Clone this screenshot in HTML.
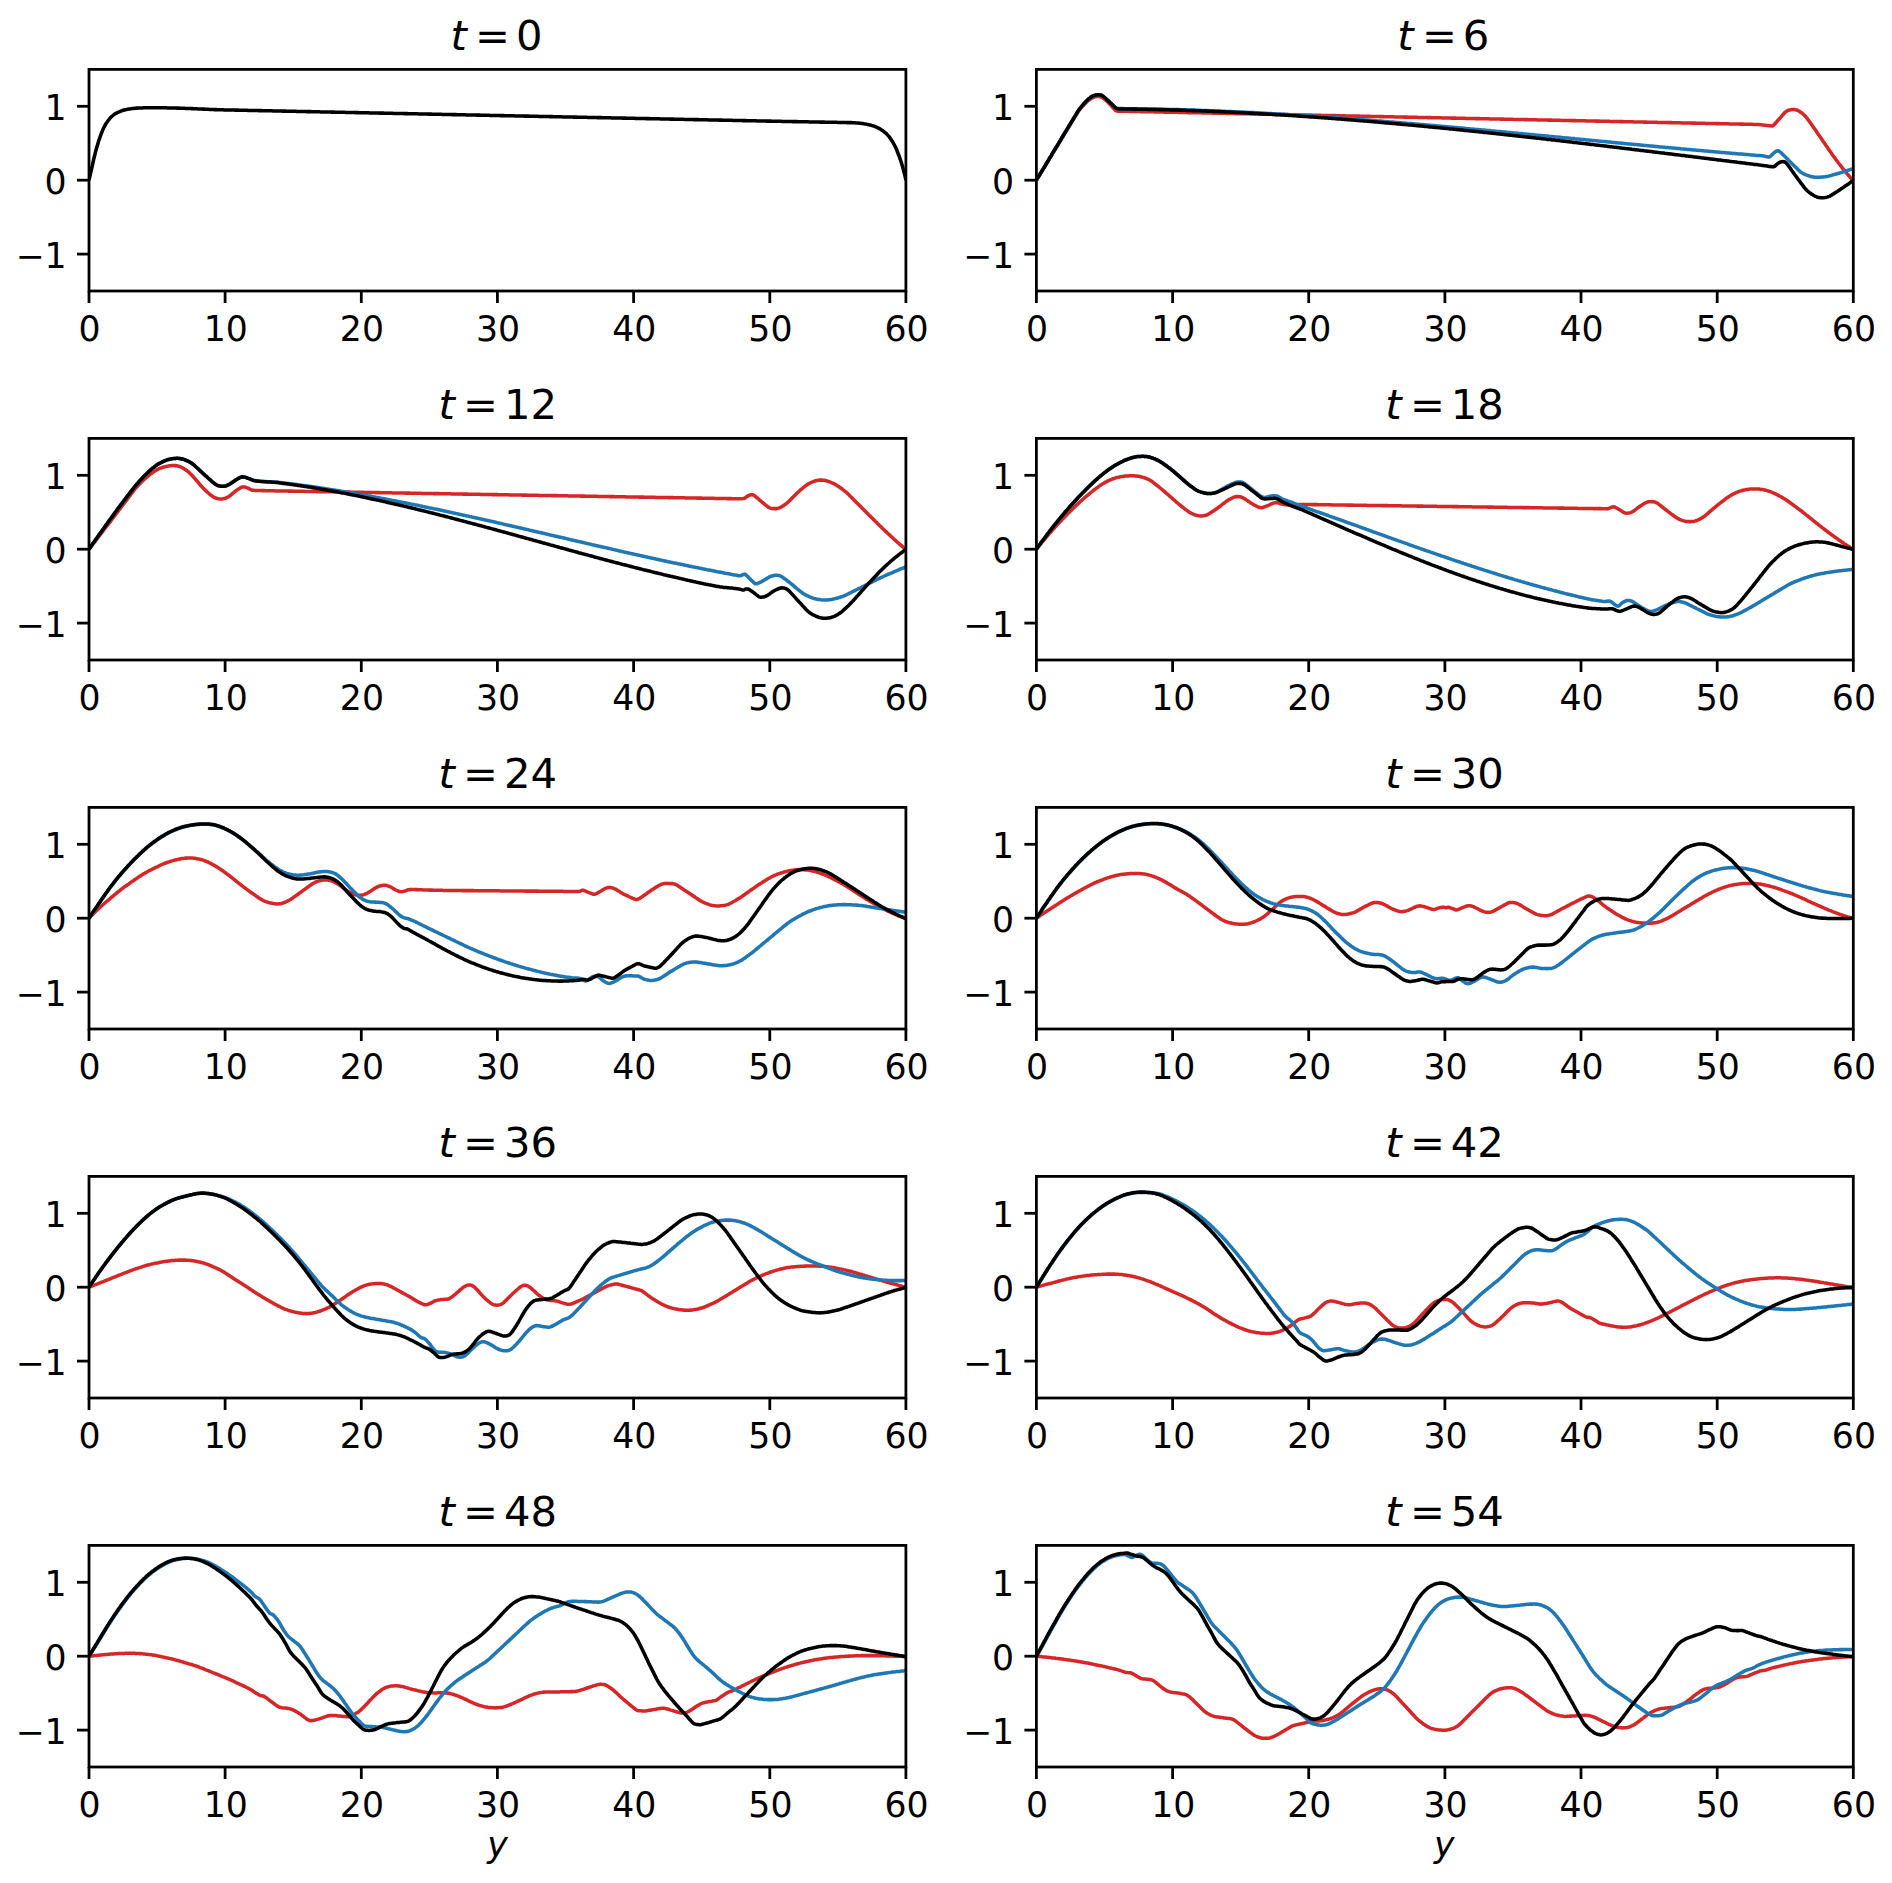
<!DOCTYPE html>
<html><head><meta charset="utf-8"><title>t = 0 … 54</title>
<style>html,body{margin:0;padding:0;background:#fff}svg{display:block}text{font-family:"DejaVu Sans","Liberation Sans",sans-serif;fill:#000}.tk{font-size:34.7px}.tt{font-size:41.7px}.it{font-style:italic}.sp{fill:none;stroke:#000;stroke-width:2.78;stroke-linejoin:miter}.t{stroke:#000;stroke-width:2.78}.c{fill:none;stroke-width:3.55;stroke-linejoin:round;stroke-linecap:butt}</style></head><body>
<svg width="1892" height="1883" viewBox="0 0 1892 1883">
<rect width="1892" height="1883" fill="#fff"/>
<g>
<clipPath id="cp0"><rect x="89.0" y="69.4" width="816.9" height="221.6"/></clipPath>
<g clip-path="url(#cp0)">
<path class="c" stroke="#000000" d="M89.0 180.2 L90.1 175.1 L91.3 170.1 L92.4 165.1 L93.5 160.1 L94.7 155.3 L95.8 150.8 L97.0 146.7 L98.1 142.9 L99.2 139.3 L100.4 136.0 L101.5 133.0 L102.6 130.3 L103.8 127.8 L104.9 125.6 L106.0 123.6 L107.2 121.9 L108.3 120.3 L109.5 118.9 L110.6 117.6 L111.7 116.5 L112.9 115.5 L114.0 114.6 L115.1 113.8 L116.3 113.2 L117.4 112.6 L118.5 112.1 L119.7 111.6 L120.8 111.1 L121.9 110.7 L123.1 110.3 L124.2 110.0 L125.4 109.7 L126.5 109.5 L127.6 109.3 L128.8 109.1 L129.9 108.9 L131.0 108.7 L132.2 108.6 L133.3 108.5 L134.4 108.3 L135.6 108.2 L136.7 108.1 L137.9 108.1 L139.0 108.0 L140.1 108.0 L141.3 107.9 L142.4 107.9 L143.5 107.8 L144.7 107.8 L145.8 107.8 L146.9 107.7 L148.1 107.7 L149.2 107.7 L150.4 107.7 L151.5 107.7 L152.6 107.7 L153.8 107.7 L154.9 107.7 L156.0 107.7 L157.2 107.7 L158.3 107.7 L159.4 107.7 L160.6 107.7 L161.7 107.7 L162.9 107.8 L164.0 107.8 L165.1 107.8 L166.3 107.8 L167.4 107.9 L168.5 107.9 L169.7 107.9 L170.8 107.9 L171.9 108.0 L173.1 108.0 L174.2 108.0 L175.3 108.0 L176.5 108.1 L177.6 108.1 L178.8 108.1 L179.9 108.2 L181.0 108.2 L182.2 108.2 L183.3 108.3 L184.4 108.3 L185.6 108.4 L186.7 108.4 L187.8 108.5 L189.0 108.5 L190.1 108.5 L191.3 108.6 L192.4 108.6 L193.5 108.7 L194.7 108.7 L195.8 108.8 L196.9 108.8 L198.1 108.9 L199.2 108.9 L200.3 109.0 L201.5 109.0 L202.6 109.1 L203.8 109.1 L204.9 109.2 L206.0 109.2 L207.2 109.3 L208.3 109.3 L209.4 109.4 L210.6 109.4 L211.7 109.5 L212.8 109.5 L214.0 109.6 L215.1 109.6 L216.3 109.6 L217.4 109.7 L218.5 109.7 L219.7 109.7 L220.8 109.8 L221.9 109.8 L223.1 109.8 L224.2 109.9 L225.3 109.9 L226.5 109.9 L227.6 109.9 L228.7 110.0 L229.9 110.0 L231.0 110.0 L232.2 110.0 L233.3 110.0 L234.4 110.1 L235.6 110.1 L236.7 110.1 L237.8 110.1 L239.0 110.2 L240.1 110.2 L241.2 110.2 L242.4 110.2 L243.5 110.3 L244.7 110.3 L245.8 110.3 L246.9 110.3 L248.1 110.4 L249.2 110.4 L250.3 110.4 L251.5 110.4 L252.6 110.4 L253.7 110.5 L254.9 110.5 L256.0 110.5 L257.2 110.5 L258.3 110.6 L259.4 110.6 L260.6 110.6 L261.7 110.6 L262.8 110.7 L264.0 110.7 L265.1 110.7 L266.2 110.7 L267.4 110.8 L268.5 110.8 L269.6 110.8 L270.8 110.8 L271.9 110.8 L273.1 110.9 L274.2 110.9 L275.3 110.9 L276.5 110.9 L277.6 111.0 L278.7 111.0 L279.9 111.0 L281.0 111.0 L282.1 111.1 L283.3 111.1 L284.4 111.1 L285.6 111.1 L286.7 111.2 L287.8 111.2 L289.0 111.2 L290.1 111.2 L291.2 111.2 L292.4 111.3 L293.5 111.3 L294.6 111.3 L295.8 111.3 L296.9 111.4 L298.1 111.4 L299.2 111.4 L300.3 111.4 L301.5 111.5 L302.6 111.5 L303.7 111.5 L304.9 111.5 L306.0 111.6 L307.1 111.6 L308.3 111.6 L309.4 111.6 L310.6 111.6 L311.7 111.7 L312.8 111.7 L314.0 111.7 L315.1 111.7 L316.2 111.8 L317.4 111.8 L318.5 111.8 L319.6 111.8 L320.8 111.9 L321.9 111.9 L323.0 111.9 L324.2 111.9 L325.3 111.9 L326.5 112.0 L327.6 112.0 L328.7 112.0 L329.9 112.0 L331.0 112.1 L332.1 112.1 L333.3 112.1 L334.4 112.1 L335.5 112.2 L336.7 112.2 L337.8 112.2 L339.0 112.2 L340.1 112.3 L341.2 112.3 L342.4 112.3 L343.5 112.3 L344.6 112.3 L345.8 112.4 L346.9 112.4 L348.0 112.4 L349.2 112.4 L350.3 112.5 L351.5 112.5 L352.6 112.5 L353.7 112.5 L354.9 112.6 L356.0 112.6 L357.1 112.6 L358.3 112.6 L359.4 112.7 L360.5 112.7 L361.7 112.7 L362.8 112.7 L364.0 112.7 L365.1 112.8 L366.2 112.8 L367.4 112.8 L368.5 112.8 L369.6 112.9 L370.8 112.9 L371.9 112.9 L373.0 112.9 L374.2 113.0 L375.3 113.0 L376.4 113.0 L377.6 113.0 L378.7 113.1 L379.9 113.1 L381.0 113.1 L382.1 113.1 L383.3 113.1 L384.4 113.2 L385.5 113.2 L386.7 113.2 L387.8 113.2 L388.9 113.3 L390.1 113.3 L391.2 113.3 L392.4 113.3 L393.5 113.4 L394.6 113.4 L395.8 113.4 L396.9 113.4 L398.0 113.5 L399.2 113.5 L400.3 113.5 L401.4 113.5 L402.6 113.5 L403.7 113.6 L404.9 113.6 L406.0 113.6 L407.1 113.6 L408.3 113.7 L409.4 113.7 L410.5 113.7 L411.7 113.7 L412.8 113.8 L413.9 113.8 L415.1 113.8 L416.2 113.8 L417.4 113.8 L418.5 113.9 L419.6 113.9 L420.8 113.9 L421.9 113.9 L423.0 114.0 L424.2 114.0 L425.3 114.0 L426.4 114.0 L427.6 114.1 L428.7 114.1 L429.8 114.1 L431.0 114.1 L432.1 114.2 L433.3 114.2 L434.4 114.2 L435.5 114.2 L436.7 114.2 L437.8 114.3 L438.9 114.3 L440.1 114.3 L441.2 114.3 L442.3 114.4 L443.5 114.4 L444.6 114.4 L445.8 114.4 L446.9 114.5 L448.0 114.5 L449.2 114.5 L450.3 114.5 L451.4 114.6 L452.6 114.6 L453.7 114.6 L454.8 114.6 L456.0 114.6 L457.1 114.7 L458.3 114.7 L459.4 114.7 L460.5 114.7 L461.7 114.8 L462.8 114.8 L463.9 114.8 L465.1 114.8 L466.2 114.9 L467.3 114.9 L468.5 114.9 L469.6 114.9 L470.8 115.0 L471.9 115.0 L473.0 115.0 L474.2 115.0 L475.3 115.0 L476.4 115.1 L477.6 115.1 L478.7 115.1 L479.8 115.1 L481.0 115.2 L482.1 115.2 L483.2 115.2 L484.4 115.2 L485.5 115.3 L486.7 115.3 L487.8 115.3 L488.9 115.3 L490.1 115.4 L491.2 115.4 L492.3 115.4 L493.5 115.4 L494.6 115.4 L495.7 115.5 L496.9 115.5 L498.0 115.5 L499.2 115.5 L500.3 115.6 L501.4 115.6 L502.6 115.6 L503.7 115.6 L504.8 115.7 L506.0 115.7 L507.1 115.7 L508.2 115.7 L509.4 115.7 L510.5 115.8 L511.7 115.8 L512.8 115.8 L513.9 115.8 L515.1 115.9 L516.2 115.9 L517.3 115.9 L518.5 115.9 L519.6 116.0 L520.7 116.0 L521.9 116.0 L523.0 116.0 L524.1 116.1 L525.3 116.1 L526.4 116.1 L527.6 116.1 L528.7 116.1 L529.8 116.2 L531.0 116.2 L532.1 116.2 L533.2 116.2 L534.4 116.3 L535.5 116.3 L536.6 116.3 L537.8 116.3 L538.9 116.4 L540.1 116.4 L541.2 116.4 L542.3 116.4 L543.5 116.5 L544.6 116.5 L545.7 116.5 L546.9 116.5 L548.0 116.5 L549.1 116.6 L550.3 116.6 L551.4 116.6 L552.6 116.6 L553.7 116.7 L554.8 116.7 L556.0 116.7 L557.1 116.7 L558.2 116.8 L559.4 116.8 L560.5 116.8 L561.6 116.8 L562.8 116.9 L563.9 116.9 L565.1 116.9 L566.2 116.9 L567.3 116.9 L568.5 117.0 L569.6 117.0 L570.7 117.0 L571.9 117.0 L573.0 117.1 L574.1 117.1 L575.3 117.1 L576.4 117.1 L577.5 117.2 L578.7 117.2 L579.8 117.2 L581.0 117.2 L582.1 117.3 L583.2 117.3 L584.4 117.3 L585.5 117.3 L586.6 117.3 L587.8 117.4 L588.9 117.4 L590.0 117.4 L591.2 117.4 L592.3 117.5 L593.5 117.5 L594.6 117.5 L595.7 117.5 L596.9 117.6 L598.0 117.6 L599.1 117.6 L600.3 117.6 L601.4 117.6 L602.5 117.7 L603.7 117.7 L604.8 117.7 L606.0 117.7 L607.1 117.8 L608.2 117.8 L609.4 117.8 L610.5 117.8 L611.6 117.9 L612.8 117.9 L613.9 117.9 L615.0 117.9 L616.2 118.0 L617.3 118.0 L618.5 118.0 L619.6 118.0 L620.7 118.0 L621.9 118.1 L623.0 118.1 L624.1 118.1 L625.3 118.1 L626.4 118.2 L627.5 118.2 L628.7 118.2 L629.8 118.2 L630.9 118.3 L632.1 118.3 L633.2 118.3 L634.4 118.3 L635.5 118.4 L636.6 118.4 L637.8 118.4 L638.9 118.4 L640.0 118.4 L641.2 118.5 L642.3 118.5 L643.4 118.5 L644.6 118.5 L645.7 118.6 L646.9 118.6 L648.0 118.6 L649.1 118.6 L650.3 118.7 L651.4 118.7 L652.5 118.7 L653.7 118.7 L654.8 118.8 L655.9 118.8 L657.1 118.8 L658.2 118.8 L659.4 118.8 L660.5 118.9 L661.6 118.9 L662.8 118.9 L663.9 118.9 L665.0 119.0 L666.2 119.0 L667.3 119.0 L668.4 119.0 L669.6 119.1 L670.7 119.1 L671.9 119.1 L673.0 119.1 L674.1 119.2 L675.3 119.2 L676.4 119.2 L677.5 119.2 L678.7 119.2 L679.8 119.3 L680.9 119.3 L682.1 119.3 L683.2 119.3 L684.3 119.4 L685.5 119.4 L686.6 119.4 L687.8 119.4 L688.9 119.5 L690.0 119.5 L691.2 119.5 L692.3 119.5 L693.4 119.6 L694.6 119.6 L695.7 119.6 L696.8 119.6 L698.0 119.6 L699.1 119.7 L700.3 119.7 L701.4 119.7 L702.5 119.7 L703.7 119.8 L704.8 119.8 L705.9 119.8 L707.1 119.8 L708.2 119.9 L709.3 119.9 L710.5 119.9 L711.6 119.9 L712.8 119.9 L713.9 120.0 L715.0 120.0 L716.2 120.0 L717.3 120.0 L718.4 120.1 L719.6 120.1 L720.7 120.1 L721.8 120.1 L723.0 120.2 L724.1 120.2 L725.3 120.2 L726.4 120.2 L727.5 120.3 L728.7 120.3 L729.8 120.3 L730.9 120.3 L732.1 120.3 L733.2 120.4 L734.3 120.4 L735.5 120.4 L736.6 120.4 L737.7 120.5 L738.9 120.5 L740.0 120.5 L741.2 120.5 L742.3 120.6 L743.4 120.6 L744.6 120.6 L745.7 120.6 L746.8 120.7 L748.0 120.7 L749.1 120.7 L750.2 120.7 L751.4 120.7 L752.5 120.8 L753.7 120.8 L754.8 120.8 L755.9 120.8 L757.1 120.9 L758.2 120.9 L759.3 120.9 L760.5 120.9 L761.6 121.0 L762.7 121.0 L763.9 121.0 L765.0 121.0 L766.2 121.1 L767.3 121.1 L768.4 121.1 L769.6 121.1 L770.7 121.1 L771.8 121.2 L773.0 121.2 L774.1 121.2 L775.2 121.2 L776.4 121.3 L777.5 121.3 L778.6 121.3 L779.8 121.3 L780.9 121.3 L782.1 121.4 L783.2 121.4 L784.3 121.4 L785.5 121.4 L786.6 121.5 L787.7 121.5 L788.9 121.5 L790.0 121.5 L791.1 121.5 L792.3 121.6 L793.4 121.6 L794.6 121.6 L795.7 121.6 L796.8 121.6 L798.0 121.7 L799.1 121.7 L800.2 121.7 L801.4 121.7 L802.5 121.7 L803.6 121.8 L804.8 121.8 L805.9 121.8 L807.1 121.8 L808.2 121.8 L809.3 121.9 L810.5 121.9 L811.6 121.9 L812.7 121.9 L813.9 121.9 L815.0 122.0 L816.1 122.0 L817.3 122.0 L818.4 122.0 L819.6 122.1 L820.7 122.1 L821.8 122.1 L823.0 122.1 L824.1 122.1 L825.2 122.2 L826.4 122.2 L827.5 122.2 L828.6 122.2 L829.8 122.2 L830.9 122.2 L832.0 122.3 L833.2 122.3 L834.3 122.3 L835.5 122.3 L836.6 122.3 L837.7 122.4 L838.9 122.4 L840.0 122.4 L841.1 122.4 L842.3 122.5 L843.4 122.5 L844.5 122.5 L845.7 122.5 L846.8 122.6 L848.0 122.6 L849.1 122.6 L850.2 122.6 L851.4 122.6 L852.5 122.7 L853.6 122.7 L854.8 122.8 L855.9 122.9 L857.0 123.0 L858.2 123.1 L859.3 123.2 L860.5 123.3 L861.6 123.5 L862.7 123.6 L863.9 123.8 L865.0 123.9 L866.1 124.1 L867.3 124.4 L868.4 124.6 L869.5 124.9 L870.7 125.1 L871.8 125.5 L873.0 125.8 L874.1 126.2 L875.2 126.6 L876.4 127.1 L877.5 127.6 L878.6 128.2 L879.8 128.8 L880.9 129.5 L882.0 130.2 L883.2 131.0 L884.3 131.9 L885.4 132.8 L886.6 133.9 L887.7 135.1 L888.9 136.4 L890.0 137.9 L891.1 139.5 L892.3 141.3 L893.4 143.2 L894.5 145.3 L895.7 147.5 L896.8 150.1 L897.9 153.0 L899.1 156.0 L900.2 159.2 L901.4 162.8 L902.5 166.6 L903.6 170.6 L904.8 175.0 L905.9 180.2"/>
</g>
<line class="t" x1="89.0" y1="291.0" x2="89.0" y2="303.0"/>
<text class="tk" text-anchor="middle" x="89.6" y="340.8">0</text>
<line class="t" x1="225.1" y1="291.0" x2="225.1" y2="303.0"/>
<text class="tk" text-anchor="middle" x="225.7" y="340.8">10</text>
<line class="t" x1="361.3" y1="291.0" x2="361.3" y2="303.0"/>
<text class="tk" text-anchor="middle" x="361.9" y="340.8">20</text>
<line class="t" x1="497.4" y1="291.0" x2="497.4" y2="303.0"/>
<text class="tk" text-anchor="middle" x="498.1" y="340.8">30</text>
<line class="t" x1="633.6" y1="291.0" x2="633.6" y2="303.0"/>
<text class="tk" text-anchor="middle" x="634.2" y="340.8">40</text>
<line class="t" x1="769.8" y1="291.0" x2="769.8" y2="303.0"/>
<text class="tk" text-anchor="middle" x="770.4" y="340.8">50</text>
<line class="t" x1="905.9" y1="291.0" x2="905.9" y2="303.0"/>
<text class="tk" text-anchor="middle" x="906.5" y="340.8">60</text>
<line class="t" x1="77.0" y1="254.1" x2="89.0" y2="254.1"/>
<text class="tk" text-anchor="end" x="66.7" y="267.7">−1</text>
<line class="t" x1="77.0" y1="180.2" x2="89.0" y2="180.2"/>
<text class="tk" text-anchor="end" x="66.7" y="193.8">0</text>
<line class="t" x1="77.0" y1="106.3" x2="89.0" y2="106.3"/>
<text class="tk" text-anchor="end" x="66.7" y="119.9">1</text>
<rect class="sp" x="89.0" y="69.4" width="816.9" height="221.6"/>
<text class="tt" y="50.0"><tspan class="it" x="450.4">t</tspan> <tspan x="475.1">=</tspan> <tspan x="516.0">0</tspan></text>
</g>
<g>
<clipPath id="cp1"><rect x="1036.4" y="69.4" width="816.9" height="221.6"/></clipPath>
<g clip-path="url(#cp1)">
<path class="c" stroke="#d62728" d="M1036.4 180.2 L1037.5 178.4 L1038.7 176.5 L1039.8 174.6 L1040.9 172.8 L1042.1 170.9 L1043.2 169.0 L1044.4 167.2 L1045.5 165.3 L1046.6 163.4 L1047.8 161.6 L1048.9 159.7 L1050.0 157.8 L1051.2 156.0 L1052.3 154.1 L1053.4 152.2 L1054.6 150.3 L1055.7 148.5 L1056.9 146.6 L1058.0 144.7 L1059.1 142.9 L1060.3 141.0 L1061.4 139.1 L1062.5 137.3 L1063.7 135.4 L1064.8 133.5 L1065.9 131.7 L1067.1 129.8 L1068.2 127.9 L1069.3 126.0 L1070.5 124.2 L1071.6 122.3 L1072.8 120.4 L1073.9 118.6 L1075.0 116.7 L1076.2 114.8 L1077.3 113.0 L1078.4 111.3 L1079.6 109.7 L1080.7 108.3 L1081.8 107.0 L1083.0 105.8 L1084.1 104.6 L1085.3 103.4 L1086.4 102.2 L1087.5 101.2 L1088.7 100.3 L1089.8 99.4 L1090.9 98.7 L1092.1 98.0 L1093.2 97.5 L1094.3 97.1 L1095.5 96.8 L1096.6 96.6 L1097.8 96.5 L1098.9 96.6 L1100.0 96.7 L1101.2 97.0 L1102.3 97.6 L1103.4 98.3 L1104.6 99.2 L1105.7 100.2 L1106.8 101.2 L1108.0 102.3 L1109.1 103.5 L1110.3 104.6 L1111.4 105.9 L1112.5 107.2 L1113.7 108.4 L1114.8 109.6 L1115.9 110.6 L1117.1 111.1 L1118.2 111.2 L1119.3 111.2 L1120.5 111.2 L1121.6 111.2 L1122.7 111.3 L1123.9 111.3 L1125.0 111.3 L1126.2 111.3 L1127.3 111.3 L1128.4 111.3 L1129.6 111.4 L1130.7 111.4 L1131.8 111.4 L1133.0 111.4 L1134.1 111.4 L1135.2 111.5 L1136.4 111.5 L1137.5 111.5 L1138.7 111.5 L1139.8 111.6 L1140.9 111.6 L1142.1 111.6 L1143.2 111.6 L1144.3 111.7 L1145.5 111.7 L1146.6 111.7 L1147.7 111.7 L1148.9 111.8 L1150.0 111.8 L1151.2 111.8 L1152.3 111.8 L1153.4 111.8 L1154.6 111.9 L1155.7 111.9 L1156.8 111.9 L1158.0 111.9 L1159.1 112.0 L1160.2 112.0 L1161.4 112.0 L1162.5 112.0 L1163.7 112.1 L1164.8 112.1 L1165.9 112.1 L1167.1 112.1 L1168.2 112.2 L1169.3 112.2 L1170.5 112.2 L1171.6 112.2 L1172.7 112.3 L1173.9 112.3 L1175.0 112.3 L1176.1 112.3 L1177.3 112.3 L1178.4 112.4 L1179.6 112.4 L1180.7 112.4 L1181.8 112.4 L1183.0 112.5 L1184.1 112.5 L1185.2 112.5 L1186.4 112.5 L1187.5 112.6 L1188.6 112.6 L1189.8 112.6 L1190.9 112.6 L1192.1 112.7 L1193.2 112.7 L1194.3 112.7 L1195.5 112.7 L1196.6 112.7 L1197.7 112.8 L1198.9 112.8 L1200.0 112.8 L1201.1 112.8 L1202.3 112.9 L1203.4 112.9 L1204.6 112.9 L1205.7 112.9 L1206.8 113.0 L1208.0 113.0 L1209.1 113.0 L1210.2 113.0 L1211.4 113.1 L1212.5 113.1 L1213.6 113.1 L1214.8 113.1 L1215.9 113.2 L1217.0 113.2 L1218.2 113.2 L1219.3 113.2 L1220.5 113.2 L1221.6 113.3 L1222.7 113.3 L1223.9 113.3 L1225.0 113.3 L1226.1 113.4 L1227.3 113.4 L1228.4 113.4 L1229.5 113.4 L1230.7 113.5 L1231.8 113.5 L1233.0 113.5 L1234.1 113.5 L1235.2 113.6 L1236.4 113.6 L1237.5 113.6 L1238.6 113.6 L1239.8 113.6 L1240.9 113.7 L1242.0 113.7 L1243.2 113.7 L1244.3 113.7 L1245.5 113.8 L1246.6 113.8 L1247.7 113.8 L1248.9 113.8 L1250.0 113.9 L1251.1 113.9 L1252.3 113.9 L1253.4 113.9 L1254.5 114.0 L1255.7 114.0 L1256.8 114.0 L1258.0 114.0 L1259.1 114.1 L1260.2 114.1 L1261.4 114.1 L1262.5 114.1 L1263.6 114.1 L1264.8 114.2 L1265.9 114.2 L1267.0 114.2 L1268.2 114.2 L1269.3 114.3 L1270.4 114.3 L1271.6 114.3 L1272.7 114.3 L1273.9 114.4 L1275.0 114.4 L1276.1 114.4 L1277.3 114.4 L1278.4 114.5 L1279.5 114.5 L1280.7 114.5 L1281.8 114.5 L1282.9 114.5 L1284.1 114.6 L1285.2 114.6 L1286.4 114.6 L1287.5 114.6 L1288.6 114.7 L1289.8 114.7 L1290.9 114.7 L1292.0 114.7 L1293.2 114.8 L1294.3 114.8 L1295.4 114.8 L1296.6 114.8 L1297.7 114.9 L1298.9 114.9 L1300.0 114.9 L1301.1 114.9 L1302.3 115.0 L1303.4 115.0 L1304.5 115.0 L1305.7 115.0 L1306.8 115.0 L1307.9 115.1 L1309.1 115.1 L1310.2 115.1 L1311.4 115.1 L1312.5 115.2 L1313.6 115.2 L1314.8 115.2 L1315.9 115.2 L1317.0 115.3 L1318.2 115.3 L1319.3 115.3 L1320.4 115.3 L1321.6 115.4 L1322.7 115.4 L1323.8 115.4 L1325.0 115.4 L1326.1 115.4 L1327.3 115.5 L1328.4 115.5 L1329.5 115.5 L1330.7 115.5 L1331.8 115.6 L1332.9 115.6 L1334.1 115.6 L1335.2 115.6 L1336.3 115.7 L1337.5 115.7 L1338.6 115.7 L1339.8 115.7 L1340.9 115.8 L1342.0 115.8 L1343.2 115.8 L1344.3 115.8 L1345.4 115.9 L1346.6 115.9 L1347.7 115.9 L1348.8 115.9 L1350.0 115.9 L1351.1 116.0 L1352.3 116.0 L1353.4 116.0 L1354.5 116.0 L1355.7 116.1 L1356.8 116.1 L1357.9 116.1 L1359.1 116.1 L1360.2 116.2 L1361.3 116.2 L1362.5 116.2 L1363.6 116.2 L1364.8 116.3 L1365.9 116.3 L1367.0 116.3 L1368.2 116.3 L1369.3 116.3 L1370.4 116.4 L1371.6 116.4 L1372.7 116.4 L1373.8 116.4 L1375.0 116.5 L1376.1 116.5 L1377.2 116.5 L1378.4 116.5 L1379.5 116.6 L1380.7 116.6 L1381.8 116.6 L1382.9 116.6 L1384.1 116.7 L1385.2 116.7 L1386.3 116.7 L1387.5 116.7 L1388.6 116.8 L1389.7 116.8 L1390.9 116.8 L1392.0 116.8 L1393.2 116.8 L1394.3 116.9 L1395.4 116.9 L1396.6 116.9 L1397.7 116.9 L1398.8 117.0 L1400.0 117.0 L1401.1 117.0 L1402.2 117.0 L1403.4 117.1 L1404.5 117.1 L1405.7 117.1 L1406.8 117.1 L1407.9 117.2 L1409.1 117.2 L1410.2 117.2 L1411.3 117.2 L1412.5 117.2 L1413.6 117.3 L1414.7 117.3 L1415.9 117.3 L1417.0 117.3 L1418.2 117.4 L1419.3 117.4 L1420.4 117.4 L1421.6 117.4 L1422.7 117.5 L1423.8 117.5 L1425.0 117.5 L1426.1 117.5 L1427.2 117.6 L1428.4 117.6 L1429.5 117.6 L1430.6 117.6 L1431.8 117.7 L1432.9 117.7 L1434.1 117.7 L1435.2 117.7 L1436.3 117.7 L1437.5 117.8 L1438.6 117.8 L1439.7 117.8 L1440.9 117.8 L1442.0 117.9 L1443.1 117.9 L1444.3 117.9 L1445.4 117.9 L1446.6 118.0 L1447.7 118.0 L1448.8 118.0 L1450.0 118.0 L1451.1 118.1 L1452.2 118.1 L1453.4 118.1 L1454.5 118.1 L1455.6 118.1 L1456.8 118.2 L1457.9 118.2 L1459.1 118.2 L1460.2 118.2 L1461.3 118.3 L1462.5 118.3 L1463.6 118.3 L1464.7 118.3 L1465.9 118.4 L1467.0 118.4 L1468.1 118.4 L1469.3 118.4 L1470.4 118.5 L1471.5 118.5 L1472.7 118.5 L1473.8 118.5 L1475.0 118.6 L1476.1 118.6 L1477.2 118.6 L1478.4 118.6 L1479.5 118.6 L1480.6 118.7 L1481.8 118.7 L1482.9 118.7 L1484.0 118.7 L1485.2 118.8 L1486.3 118.8 L1487.5 118.8 L1488.6 118.8 L1489.7 118.9 L1490.9 118.9 L1492.0 118.9 L1493.1 118.9 L1494.3 119.0 L1495.4 119.0 L1496.5 119.0 L1497.7 119.0 L1498.8 119.0 L1500.0 119.1 L1501.1 119.1 L1502.2 119.1 L1503.4 119.1 L1504.5 119.2 L1505.6 119.2 L1506.8 119.2 L1507.9 119.2 L1509.0 119.3 L1510.2 119.3 L1511.3 119.3 L1512.5 119.3 L1513.6 119.4 L1514.7 119.4 L1515.9 119.4 L1517.0 119.4 L1518.1 119.5 L1519.3 119.5 L1520.4 119.5 L1521.5 119.5 L1522.7 119.5 L1523.8 119.6 L1524.9 119.6 L1526.1 119.6 L1527.2 119.6 L1528.4 119.7 L1529.5 119.7 L1530.6 119.7 L1531.8 119.7 L1532.9 119.8 L1534.0 119.8 L1535.2 119.8 L1536.3 119.8 L1537.4 119.9 L1538.6 119.9 L1539.7 119.9 L1540.9 119.9 L1542.0 119.9 L1543.1 120.0 L1544.3 120.0 L1545.4 120.0 L1546.5 120.0 L1547.7 120.1 L1548.8 120.1 L1549.9 120.1 L1551.1 120.1 L1552.2 120.2 L1553.4 120.2 L1554.5 120.2 L1555.6 120.2 L1556.8 120.3 L1557.9 120.3 L1559.0 120.3 L1560.2 120.3 L1561.3 120.4 L1562.4 120.4 L1563.6 120.4 L1564.7 120.4 L1565.9 120.4 L1567.0 120.5 L1568.1 120.5 L1569.3 120.5 L1570.4 120.5 L1571.5 120.6 L1572.7 120.6 L1573.8 120.6 L1574.9 120.6 L1576.1 120.7 L1577.2 120.7 L1578.3 120.7 L1579.5 120.7 L1580.6 120.8 L1581.8 120.8 L1582.9 120.8 L1584.0 120.8 L1585.2 120.8 L1586.3 120.9 L1587.4 120.9 L1588.6 120.9 L1589.7 120.9 L1590.8 121.0 L1592.0 121.0 L1593.1 121.0 L1594.3 121.0 L1595.4 121.1 L1596.5 121.1 L1597.7 121.1 L1598.8 121.1 L1599.9 121.2 L1601.1 121.2 L1602.2 121.2 L1603.3 121.2 L1604.5 121.3 L1605.6 121.3 L1606.8 121.3 L1607.9 121.3 L1609.0 121.3 L1610.2 121.4 L1611.3 121.4 L1612.4 121.4 L1613.6 121.4 L1614.7 121.5 L1615.8 121.5 L1617.0 121.5 L1618.1 121.5 L1619.3 121.6 L1620.4 121.6 L1621.5 121.6 L1622.7 121.6 L1623.8 121.7 L1624.9 121.7 L1626.1 121.7 L1627.2 121.7 L1628.3 121.7 L1629.5 121.8 L1630.6 121.8 L1631.7 121.8 L1632.9 121.8 L1634.0 121.9 L1635.2 121.9 L1636.3 121.9 L1637.4 121.9 L1638.6 122.0 L1639.7 122.0 L1640.8 122.0 L1642.0 122.0 L1643.1 122.1 L1644.2 122.1 L1645.4 122.1 L1646.5 122.1 L1647.7 122.2 L1648.8 122.2 L1649.9 122.2 L1651.1 122.2 L1652.2 122.2 L1653.3 122.3 L1654.5 122.3 L1655.6 122.3 L1656.7 122.3 L1657.9 122.4 L1659.0 122.4 L1660.2 122.4 L1661.3 122.4 L1662.4 122.5 L1663.6 122.5 L1664.7 122.5 L1665.8 122.5 L1667.0 122.6 L1668.1 122.6 L1669.2 122.6 L1670.4 122.6 L1671.5 122.6 L1672.7 122.7 L1673.8 122.7 L1674.9 122.7 L1676.1 122.7 L1677.2 122.8 L1678.3 122.8 L1679.5 122.8 L1680.6 122.8 L1681.7 122.9 L1682.9 122.9 L1684.0 122.9 L1685.1 122.9 L1686.3 123.0 L1687.4 123.0 L1688.6 123.0 L1689.7 123.0 L1690.8 123.1 L1692.0 123.1 L1693.1 123.1 L1694.2 123.1 L1695.4 123.1 L1696.5 123.2 L1697.6 123.2 L1698.8 123.2 L1699.9 123.2 L1701.1 123.3 L1702.2 123.3 L1703.3 123.3 L1704.5 123.3 L1705.6 123.4 L1706.7 123.4 L1707.9 123.4 L1709.0 123.4 L1710.1 123.5 L1711.3 123.5 L1712.4 123.5 L1713.6 123.5 L1714.7 123.5 L1715.8 123.6 L1717.0 123.6 L1718.1 123.6 L1719.2 123.6 L1720.4 123.7 L1721.5 123.7 L1722.6 123.7 L1723.8 123.7 L1724.9 123.8 L1726.0 123.8 L1727.2 123.8 L1728.3 123.8 L1729.5 123.9 L1730.6 123.9 L1731.7 123.9 L1732.9 123.9 L1734.0 124.0 L1735.1 124.0 L1736.3 124.0 L1737.4 124.0 L1738.5 124.0 L1739.7 124.1 L1740.8 124.1 L1742.0 124.1 L1743.1 124.1 L1744.2 124.2 L1745.4 124.2 L1746.5 124.2 L1747.6 124.2 L1748.8 124.3 L1749.9 124.3 L1751.0 124.3 L1752.2 124.3 L1753.3 124.4 L1754.5 124.4 L1755.6 124.4 L1756.7 124.4 L1757.9 124.5 L1759.0 124.6 L1760.1 124.7 L1761.3 124.8 L1762.4 124.9 L1763.5 125.1 L1764.7 125.2 L1765.8 125.3 L1767.0 125.4 L1768.1 125.5 L1769.2 125.7 L1770.4 125.8 L1771.5 125.9 L1772.6 125.9 L1773.8 125.0 L1774.9 123.8 L1776.0 122.5 L1777.2 121.2 L1778.3 119.9 L1779.4 118.7 L1780.6 117.4 L1781.7 116.1 L1782.9 114.8 L1784.0 113.5 L1785.1 112.3 L1786.3 111.4 L1787.4 110.7 L1788.5 110.2 L1789.7 109.9 L1790.8 109.7 L1791.9 109.6 L1793.1 109.5 L1794.2 109.6 L1795.4 109.7 L1796.5 110.0 L1797.6 110.4 L1798.8 111.0 L1799.9 111.7 L1801.0 112.5 L1802.2 113.3 L1803.3 114.3 L1804.4 115.3 L1805.6 116.5 L1806.7 117.9 L1807.9 119.4 L1809.0 121.0 L1810.1 122.5 L1811.3 124.1 L1812.4 125.8 L1813.5 127.4 L1814.7 129.0 L1815.8 130.6 L1816.9 132.2 L1818.1 133.9 L1819.2 135.5 L1820.4 137.2 L1821.5 138.8 L1822.6 140.5 L1823.8 142.2 L1824.9 143.8 L1826.0 145.5 L1827.2 147.1 L1828.3 148.8 L1829.4 150.4 L1830.6 152.1 L1831.7 153.7 L1832.8 155.3 L1834.0 156.9 L1835.1 158.4 L1836.3 160.0 L1837.4 161.5 L1838.5 163.0 L1839.7 164.5 L1840.8 165.9 L1841.9 167.3 L1843.1 168.8 L1844.2 170.2 L1845.3 171.6 L1846.5 173.0 L1847.6 174.4 L1848.8 175.7 L1849.9 177.0 L1851.0 178.3 L1852.2 179.6 L1853.3 180.8"/>
<path class="c" stroke="#1f77b4" d="M1036.4 180.2 L1037.5 178.3 L1038.7 176.4 L1039.8 174.5 L1040.9 172.6 L1042.1 170.7 L1043.2 168.9 L1044.4 167.0 L1045.5 165.1 L1046.6 163.2 L1047.8 161.3 L1048.9 159.4 L1050.0 157.5 L1051.2 155.6 L1052.3 153.7 L1053.4 151.8 L1054.6 149.9 L1055.7 148.0 L1056.9 146.2 L1058.0 144.3 L1059.1 142.4 L1060.3 140.5 L1061.4 138.6 L1062.5 136.7 L1063.7 134.8 L1064.8 132.9 L1065.9 131.1 L1067.1 129.2 L1068.2 127.3 L1069.3 125.4 L1070.5 123.6 L1071.6 121.7 L1072.8 119.8 L1073.9 117.9 L1075.0 116.1 L1076.2 114.2 L1077.3 112.3 L1078.4 110.6 L1079.6 109.0 L1080.7 107.6 L1081.8 106.2 L1083.0 104.8 L1084.1 103.5 L1085.3 102.2 L1086.4 101.0 L1087.5 99.9 L1088.7 98.9 L1089.8 98.0 L1090.9 97.1 L1092.1 96.4 L1093.2 95.9 L1094.3 95.4 L1095.5 95.1 L1096.6 94.9 L1097.8 94.8 L1098.9 94.8 L1100.0 94.9 L1101.2 95.1 L1102.3 95.7 L1103.4 96.5 L1104.6 97.5 L1105.7 98.5 L1106.8 99.5 L1108.0 100.6 L1109.1 101.6 L1110.3 102.7 L1111.4 103.8 L1112.5 104.9 L1113.7 106.1 L1114.8 107.1 L1115.9 108.1 L1117.1 108.6 L1118.2 108.6 L1119.3 108.6 L1120.5 108.6 L1121.6 108.6 L1122.7 108.6 L1123.9 108.7 L1125.0 108.7 L1126.2 108.7 L1127.3 108.7 L1128.4 108.7 L1129.6 108.7 L1130.7 108.7 L1131.8 108.8 L1133.0 108.8 L1134.1 108.8 L1135.2 108.8 L1136.4 108.8 L1137.5 108.8 L1138.7 108.9 L1139.8 108.9 L1140.9 108.9 L1142.1 108.9 L1143.2 108.9 L1144.3 109.0 L1145.5 109.0 L1146.6 109.0 L1147.7 109.0 L1148.9 109.0 L1150.0 109.0 L1151.2 109.1 L1152.3 109.1 L1153.4 109.1 L1154.6 109.1 L1155.7 109.1 L1156.8 109.2 L1158.0 109.2 L1159.1 109.2 L1160.2 109.2 L1161.4 109.3 L1162.5 109.3 L1163.7 109.3 L1164.8 109.3 L1165.9 109.3 L1167.1 109.4 L1168.2 109.4 L1169.3 109.4 L1170.5 109.4 L1171.6 109.5 L1172.7 109.5 L1173.9 109.5 L1175.0 109.6 L1176.1 109.6 L1177.3 109.6 L1178.4 109.6 L1179.6 109.7 L1180.7 109.7 L1181.8 109.7 L1183.0 109.8 L1184.1 109.8 L1185.2 109.8 L1186.4 109.9 L1187.5 109.9 L1188.6 109.9 L1189.8 110.0 L1190.9 110.0 L1192.1 110.1 L1193.2 110.1 L1194.3 110.1 L1195.5 110.2 L1196.6 110.2 L1197.7 110.3 L1198.9 110.3 L1200.0 110.3 L1201.1 110.4 L1202.3 110.4 L1203.4 110.5 L1204.6 110.5 L1205.7 110.5 L1206.8 110.6 L1208.0 110.6 L1209.1 110.7 L1210.2 110.7 L1211.4 110.8 L1212.5 110.8 L1213.6 110.8 L1214.8 110.9 L1215.9 110.9 L1217.0 111.0 L1218.2 111.0 L1219.3 111.1 L1220.5 111.1 L1221.6 111.2 L1222.7 111.2 L1223.9 111.3 L1225.0 111.3 L1226.1 111.4 L1227.3 111.4 L1228.4 111.5 L1229.5 111.5 L1230.7 111.6 L1231.8 111.6 L1233.0 111.7 L1234.1 111.7 L1235.2 111.8 L1236.4 111.8 L1237.5 111.9 L1238.6 111.9 L1239.8 112.0 L1240.9 112.0 L1242.0 112.1 L1243.2 112.1 L1244.3 112.2 L1245.5 112.2 L1246.6 112.3 L1247.7 112.4 L1248.9 112.4 L1250.0 112.5 L1251.1 112.5 L1252.3 112.6 L1253.4 112.6 L1254.5 112.7 L1255.7 112.8 L1256.8 112.8 L1258.0 112.9 L1259.1 112.9 L1260.2 113.0 L1261.4 113.1 L1262.5 113.1 L1263.6 113.2 L1264.8 113.2 L1265.9 113.3 L1267.0 113.4 L1268.2 113.4 L1269.3 113.5 L1270.4 113.6 L1271.6 113.6 L1272.7 113.7 L1273.9 113.7 L1275.0 113.8 L1276.1 113.9 L1277.3 113.9 L1278.4 114.0 L1279.5 114.1 L1280.7 114.1 L1281.8 114.2 L1282.9 114.3 L1284.1 114.3 L1285.2 114.4 L1286.4 114.5 L1287.5 114.5 L1288.6 114.6 L1289.8 114.7 L1290.9 114.7 L1292.0 114.8 L1293.2 114.9 L1294.3 115.0 L1295.4 115.0 L1296.6 115.1 L1297.7 115.2 L1298.9 115.2 L1300.0 115.3 L1301.1 115.4 L1302.3 115.5 L1303.4 115.5 L1304.5 115.6 L1305.7 115.7 L1306.8 115.8 L1307.9 115.8 L1309.1 115.9 L1310.2 116.0 L1311.4 116.0 L1312.5 116.1 L1313.6 116.2 L1314.8 116.3 L1315.9 116.3 L1317.0 116.4 L1318.2 116.5 L1319.3 116.6 L1320.4 116.7 L1321.6 116.7 L1322.7 116.8 L1323.8 116.9 L1325.0 117.0 L1326.1 117.0 L1327.3 117.1 L1328.4 117.2 L1329.5 117.3 L1330.7 117.4 L1331.8 117.4 L1332.9 117.5 L1334.1 117.6 L1335.2 117.7 L1336.3 117.8 L1337.5 117.8 L1338.6 117.9 L1339.8 118.0 L1340.9 118.1 L1342.0 118.2 L1343.2 118.3 L1344.3 118.3 L1345.4 118.4 L1346.6 118.5 L1347.7 118.6 L1348.8 118.7 L1350.0 118.8 L1351.1 118.8 L1352.3 118.9 L1353.4 119.0 L1354.5 119.1 L1355.7 119.2 L1356.8 119.3 L1357.9 119.4 L1359.1 119.4 L1360.2 119.5 L1361.3 119.6 L1362.5 119.7 L1363.6 119.8 L1364.8 119.9 L1365.9 120.0 L1367.0 120.1 L1368.2 120.1 L1369.3 120.2 L1370.4 120.3 L1371.6 120.4 L1372.7 120.5 L1373.8 120.6 L1375.0 120.7 L1376.1 120.8 L1377.2 120.9 L1378.4 120.9 L1379.5 121.0 L1380.7 121.1 L1381.8 121.2 L1382.9 121.3 L1384.1 121.4 L1385.2 121.5 L1386.3 121.6 L1387.5 121.7 L1388.6 121.8 L1389.7 121.9 L1390.9 121.9 L1392.0 122.0 L1393.2 122.1 L1394.3 122.2 L1395.4 122.3 L1396.6 122.4 L1397.7 122.5 L1398.8 122.6 L1400.0 122.7 L1401.1 122.8 L1402.2 122.9 L1403.4 123.0 L1404.5 123.1 L1405.7 123.2 L1406.8 123.3 L1407.9 123.4 L1409.1 123.5 L1410.2 123.6 L1411.3 123.6 L1412.5 123.7 L1413.6 123.8 L1414.7 123.9 L1415.9 124.0 L1417.0 124.1 L1418.2 124.2 L1419.3 124.3 L1420.4 124.4 L1421.6 124.5 L1422.7 124.6 L1423.8 124.7 L1425.0 124.8 L1426.1 124.9 L1427.2 125.0 L1428.4 125.1 L1429.5 125.2 L1430.6 125.3 L1431.8 125.4 L1432.9 125.5 L1434.1 125.6 L1435.2 125.7 L1436.3 125.8 L1437.5 125.9 L1438.6 126.0 L1439.7 126.1 L1440.9 126.2 L1442.0 126.3 L1443.1 126.4 L1444.3 126.5 L1445.4 126.6 L1446.6 126.7 L1447.7 126.8 L1448.8 126.9 L1450.0 127.0 L1451.1 127.1 L1452.2 127.2 L1453.4 127.3 L1454.5 127.4 L1455.6 127.5 L1456.8 127.6 L1457.9 127.7 L1459.1 127.8 L1460.2 127.9 L1461.3 128.0 L1462.5 128.1 L1463.6 128.2 L1464.7 128.3 L1465.9 128.4 L1467.0 128.6 L1468.1 128.7 L1469.3 128.8 L1470.4 128.9 L1471.5 129.0 L1472.7 129.1 L1473.8 129.2 L1475.0 129.3 L1476.1 129.4 L1477.2 129.5 L1478.4 129.6 L1479.5 129.7 L1480.6 129.8 L1481.8 129.9 L1482.9 130.0 L1484.0 130.1 L1485.2 130.2 L1486.3 130.3 L1487.5 130.4 L1488.6 130.5 L1489.7 130.6 L1490.9 130.8 L1492.0 130.9 L1493.1 131.0 L1494.3 131.1 L1495.4 131.2 L1496.5 131.3 L1497.7 131.4 L1498.8 131.5 L1500.0 131.6 L1501.1 131.7 L1502.2 131.8 L1503.4 131.9 L1504.5 132.0 L1505.6 132.1 L1506.8 132.2 L1507.9 132.4 L1509.0 132.5 L1510.2 132.6 L1511.3 132.7 L1512.5 132.8 L1513.6 132.9 L1514.7 133.0 L1515.9 133.1 L1517.0 133.2 L1518.1 133.3 L1519.3 133.4 L1520.4 133.5 L1521.5 133.6 L1522.7 133.7 L1523.8 133.9 L1524.9 134.0 L1526.1 134.1 L1527.2 134.2 L1528.4 134.3 L1529.5 134.4 L1530.6 134.5 L1531.8 134.6 L1532.9 134.7 L1534.0 134.8 L1535.2 134.9 L1536.3 135.1 L1537.4 135.2 L1538.6 135.3 L1539.7 135.4 L1540.9 135.5 L1542.0 135.6 L1543.1 135.7 L1544.3 135.8 L1545.4 135.9 L1546.5 136.0 L1547.7 136.1 L1548.8 136.2 L1549.9 136.4 L1551.1 136.5 L1552.2 136.6 L1553.4 136.7 L1554.5 136.8 L1555.6 136.9 L1556.8 137.0 L1557.9 137.1 L1559.0 137.2 L1560.2 137.3 L1561.3 137.4 L1562.4 137.6 L1563.6 137.7 L1564.7 137.8 L1565.9 137.9 L1567.0 138.0 L1568.1 138.1 L1569.3 138.2 L1570.4 138.3 L1571.5 138.4 L1572.7 138.5 L1573.8 138.6 L1574.9 138.8 L1576.1 138.9 L1577.2 139.0 L1578.3 139.1 L1579.5 139.2 L1580.6 139.3 L1581.8 139.4 L1582.9 139.5 L1584.0 139.6 L1585.2 139.7 L1586.3 139.9 L1587.4 140.0 L1588.6 140.1 L1589.7 140.2 L1590.8 140.3 L1592.0 140.4 L1593.1 140.5 L1594.3 140.6 L1595.4 140.7 L1596.5 140.8 L1597.7 140.9 L1598.8 141.1 L1599.9 141.2 L1601.1 141.3 L1602.2 141.4 L1603.3 141.5 L1604.5 141.6 L1605.6 141.7 L1606.8 141.8 L1607.9 141.9 L1609.0 142.0 L1610.2 142.1 L1611.3 142.2 L1612.4 142.4 L1613.6 142.5 L1614.7 142.6 L1615.8 142.7 L1617.0 142.8 L1618.1 142.9 L1619.3 143.0 L1620.4 143.1 L1621.5 143.2 L1622.7 143.3 L1623.8 143.4 L1624.9 143.6 L1626.1 143.7 L1627.2 143.8 L1628.3 143.9 L1629.5 144.0 L1630.6 144.1 L1631.7 144.2 L1632.9 144.3 L1634.0 144.4 L1635.2 144.5 L1636.3 144.6 L1637.4 144.7 L1638.6 144.8 L1639.7 145.0 L1640.8 145.1 L1642.0 145.2 L1643.1 145.3 L1644.2 145.4 L1645.4 145.5 L1646.5 145.6 L1647.7 145.7 L1648.8 145.8 L1649.9 145.9 L1651.1 146.0 L1652.2 146.1 L1653.3 146.2 L1654.5 146.3 L1655.6 146.4 L1656.7 146.5 L1657.9 146.7 L1659.0 146.8 L1660.2 146.9 L1661.3 147.0 L1662.4 147.1 L1663.6 147.2 L1664.7 147.3 L1665.8 147.4 L1667.0 147.5 L1668.1 147.6 L1669.2 147.7 L1670.4 147.8 L1671.5 147.9 L1672.7 148.0 L1673.8 148.1 L1674.9 148.2 L1676.1 148.3 L1677.2 148.4 L1678.3 148.5 L1679.5 148.6 L1680.6 148.8 L1681.7 148.9 L1682.9 149.0 L1684.0 149.1 L1685.1 149.2 L1686.3 149.3 L1687.4 149.4 L1688.6 149.5 L1689.7 149.6 L1690.8 149.7 L1692.0 149.8 L1693.1 149.9 L1694.2 150.0 L1695.4 150.1 L1696.5 150.2 L1697.6 150.3 L1698.8 150.4 L1699.9 150.5 L1701.1 150.6 L1702.2 150.7 L1703.3 150.8 L1704.5 150.9 L1705.6 151.0 L1706.7 151.1 L1707.9 151.2 L1709.0 151.3 L1710.1 151.4 L1711.3 151.5 L1712.4 151.6 L1713.6 151.7 L1714.7 151.8 L1715.8 151.9 L1717.0 152.0 L1718.1 152.1 L1719.2 152.2 L1720.4 152.3 L1721.5 152.4 L1722.6 152.5 L1723.8 152.6 L1724.9 152.7 L1726.0 152.8 L1727.2 152.9 L1728.3 153.0 L1729.5 153.1 L1730.6 153.2 L1731.7 153.3 L1732.9 153.4 L1734.0 153.5 L1735.1 153.6 L1736.3 153.7 L1737.4 153.8 L1738.5 153.9 L1739.7 154.0 L1740.8 154.0 L1742.0 154.1 L1743.1 154.2 L1744.2 154.3 L1745.4 154.4 L1746.5 154.5 L1747.6 154.6 L1748.8 154.7 L1749.9 154.8 L1751.0 154.9 L1752.2 155.0 L1753.3 155.1 L1754.5 155.2 L1755.6 155.3 L1756.7 155.4 L1757.9 155.4 L1759.0 155.5 L1760.1 155.6 L1761.3 155.7 L1762.4 155.8 L1763.5 155.9 L1764.7 156.2 L1765.8 156.4 L1767.0 156.7 L1768.1 156.9 L1769.2 156.9 L1770.4 156.3 L1771.5 155.3 L1772.6 154.1 L1773.8 153.0 L1774.9 152.1 L1776.0 151.3 L1777.2 150.8 L1778.3 150.8 L1779.4 151.4 L1780.6 152.3 L1781.7 153.4 L1782.9 154.5 L1784.0 155.6 L1785.1 156.8 L1786.3 157.9 L1787.4 159.0 L1788.5 160.2 L1789.7 161.3 L1790.8 162.4 L1791.9 163.6 L1793.1 164.7 L1794.2 165.9 L1795.4 167.0 L1796.5 168.1 L1797.6 169.3 L1798.8 170.4 L1799.9 171.4 L1801.0 172.3 L1802.2 173.0 L1803.3 173.6 L1804.4 174.2 L1805.6 174.7 L1806.7 175.1 L1807.9 175.5 L1809.0 175.9 L1810.1 176.3 L1811.3 176.6 L1812.4 176.8 L1813.5 177.0 L1814.7 177.2 L1815.8 177.3 L1816.9 177.3 L1818.1 177.3 L1819.2 177.2 L1820.4 177.2 L1821.5 177.1 L1822.6 177.0 L1823.8 176.9 L1824.9 176.8 L1826.0 176.6 L1827.2 176.4 L1828.3 176.2 L1829.4 175.9 L1830.6 175.6 L1831.7 175.3 L1832.8 174.9 L1834.0 174.6 L1835.1 174.3 L1836.3 174.0 L1837.4 173.7 L1838.5 173.3 L1839.7 173.0 L1840.8 172.6 L1841.9 172.3 L1843.1 171.9 L1844.2 171.5 L1845.3 171.2 L1846.5 170.8 L1847.6 170.4 L1848.8 170.0 L1849.9 169.7 L1851.0 169.3 L1852.2 168.9 L1853.3 168.5"/>
<path class="c" stroke="#000000" d="M1036.4 180.2 L1037.5 178.3 L1038.7 176.4 L1039.8 174.5 L1040.9 172.6 L1042.1 170.7 L1043.2 168.9 L1044.4 167.0 L1045.5 165.1 L1046.6 163.2 L1047.8 161.3 L1048.9 159.4 L1050.0 157.5 L1051.2 155.6 L1052.3 153.7 L1053.4 151.8 L1054.6 149.9 L1055.7 148.0 L1056.9 146.2 L1058.0 144.3 L1059.1 142.4 L1060.3 140.5 L1061.4 138.6 L1062.5 136.7 L1063.7 134.8 L1064.8 132.9 L1065.9 131.1 L1067.1 129.2 L1068.2 127.3 L1069.3 125.4 L1070.5 123.6 L1071.6 121.7 L1072.8 119.8 L1073.9 117.9 L1075.0 116.1 L1076.2 114.2 L1077.3 112.3 L1078.4 110.6 L1079.6 109.0 L1080.7 107.6 L1081.8 106.2 L1083.0 104.8 L1084.1 103.5 L1085.3 102.2 L1086.4 101.0 L1087.5 99.9 L1088.7 98.9 L1089.8 98.0 L1090.9 97.1 L1092.1 96.4 L1093.2 95.9 L1094.3 95.4 L1095.5 95.1 L1096.6 94.9 L1097.8 94.8 L1098.9 94.8 L1100.0 94.9 L1101.2 95.1 L1102.3 95.7 L1103.4 96.5 L1104.6 97.5 L1105.7 98.5 L1106.8 99.5 L1108.0 100.6 L1109.1 101.6 L1110.3 102.7 L1111.4 103.8 L1112.5 104.9 L1113.7 106.0 L1114.8 107.1 L1115.9 108.1 L1117.1 108.7 L1118.2 108.8 L1119.3 108.9 L1120.5 108.9 L1121.6 108.9 L1122.7 108.9 L1123.9 109.0 L1125.0 109.0 L1126.2 109.0 L1127.3 109.0 L1128.4 109.0 L1129.6 109.0 L1130.7 109.0 L1131.8 109.1 L1133.0 109.1 L1134.1 109.1 L1135.2 109.1 L1136.4 109.1 L1137.5 109.2 L1138.7 109.2 L1139.8 109.2 L1140.9 109.2 L1142.1 109.2 L1143.2 109.3 L1144.3 109.3 L1145.5 109.3 L1146.6 109.3 L1147.7 109.4 L1148.9 109.4 L1150.0 109.4 L1151.2 109.4 L1152.3 109.4 L1153.4 109.5 L1154.6 109.5 L1155.7 109.5 L1156.8 109.5 L1158.0 109.6 L1159.1 109.6 L1160.2 109.6 L1161.4 109.6 L1162.5 109.7 L1163.7 109.7 L1164.8 109.7 L1165.9 109.8 L1167.1 109.8 L1168.2 109.8 L1169.3 109.8 L1170.5 109.9 L1171.6 109.9 L1172.7 109.9 L1173.9 110.0 L1175.0 110.0 L1176.1 110.0 L1177.3 110.1 L1178.4 110.1 L1179.6 110.1 L1180.7 110.2 L1181.8 110.2 L1183.0 110.2 L1184.1 110.3 L1185.2 110.3 L1186.4 110.4 L1187.5 110.4 L1188.6 110.4 L1189.8 110.5 L1190.9 110.5 L1192.1 110.6 L1193.2 110.6 L1194.3 110.6 L1195.5 110.7 L1196.6 110.7 L1197.7 110.8 L1198.9 110.8 L1200.0 110.8 L1201.1 110.9 L1202.3 110.9 L1203.4 111.0 L1204.6 111.0 L1205.7 111.1 L1206.8 111.1 L1208.0 111.2 L1209.1 111.2 L1210.2 111.3 L1211.4 111.3 L1212.5 111.3 L1213.6 111.4 L1214.8 111.4 L1215.9 111.5 L1217.0 111.5 L1218.2 111.6 L1219.3 111.6 L1220.5 111.7 L1221.6 111.7 L1222.7 111.8 L1223.9 111.8 L1225.0 111.9 L1226.1 111.9 L1227.3 112.0 L1228.4 112.0 L1229.5 112.1 L1230.7 112.2 L1231.8 112.2 L1233.0 112.3 L1234.1 112.3 L1235.2 112.4 L1236.4 112.4 L1237.5 112.5 L1238.6 112.5 L1239.8 112.6 L1240.9 112.7 L1242.0 112.7 L1243.2 112.8 L1244.3 112.8 L1245.5 112.9 L1246.6 112.9 L1247.7 113.0 L1248.9 113.1 L1250.0 113.1 L1251.1 113.2 L1252.3 113.3 L1253.4 113.3 L1254.5 113.4 L1255.7 113.4 L1256.8 113.5 L1258.0 113.6 L1259.1 113.6 L1260.2 113.7 L1261.4 113.8 L1262.5 113.8 L1263.6 113.9 L1264.8 113.9 L1265.9 114.0 L1267.0 114.1 L1268.2 114.1 L1269.3 114.2 L1270.4 114.3 L1271.6 114.3 L1272.7 114.4 L1273.9 114.5 L1275.0 114.6 L1276.1 114.6 L1277.3 114.7 L1278.4 114.8 L1279.5 114.8 L1280.7 114.9 L1281.8 115.0 L1282.9 115.0 L1284.1 115.1 L1285.2 115.2 L1286.4 115.3 L1287.5 115.3 L1288.6 115.4 L1289.8 115.5 L1290.9 115.5 L1292.0 115.6 L1293.2 115.7 L1294.3 115.8 L1295.4 115.8 L1296.6 115.9 L1297.7 116.0 L1298.9 116.1 L1300.0 116.1 L1301.1 116.2 L1302.3 116.3 L1303.4 116.4 L1304.5 116.5 L1305.7 116.5 L1306.8 116.6 L1307.9 116.7 L1309.1 116.8 L1310.2 116.9 L1311.4 116.9 L1312.5 117.0 L1313.6 117.1 L1314.8 117.2 L1315.9 117.3 L1317.0 117.3 L1318.2 117.4 L1319.3 117.5 L1320.4 117.6 L1321.6 117.7 L1322.7 117.7 L1323.8 117.8 L1325.0 117.9 L1326.1 118.0 L1327.3 118.1 L1328.4 118.2 L1329.5 118.2 L1330.7 118.3 L1331.8 118.4 L1332.9 118.5 L1334.1 118.6 L1335.2 118.7 L1336.3 118.8 L1337.5 118.9 L1338.6 118.9 L1339.8 119.0 L1340.9 119.1 L1342.0 119.2 L1343.2 119.3 L1344.3 119.4 L1345.4 119.5 L1346.6 119.6 L1347.7 119.6 L1348.8 119.7 L1350.0 119.8 L1351.1 119.9 L1352.3 120.0 L1353.4 120.1 L1354.5 120.2 L1355.7 120.3 L1356.8 120.4 L1357.9 120.5 L1359.1 120.6 L1360.2 120.7 L1361.3 120.7 L1362.5 120.8 L1363.6 120.9 L1364.8 121.0 L1365.9 121.1 L1367.0 121.2 L1368.2 121.3 L1369.3 121.4 L1370.4 121.5 L1371.6 121.6 L1372.7 121.7 L1373.8 121.8 L1375.0 121.9 L1376.1 122.0 L1377.2 122.1 L1378.4 122.2 L1379.5 122.3 L1380.7 122.4 L1381.8 122.5 L1382.9 122.6 L1384.1 122.7 L1385.2 122.8 L1386.3 122.9 L1387.5 123.0 L1388.6 123.1 L1389.7 123.2 L1390.9 123.3 L1392.0 123.4 L1393.2 123.5 L1394.3 123.6 L1395.4 123.7 L1396.6 123.8 L1397.7 123.9 L1398.8 124.0 L1400.0 124.1 L1401.1 124.2 L1402.2 124.3 L1403.4 124.4 L1404.5 124.5 L1405.7 124.6 L1406.8 124.7 L1407.9 124.8 L1409.1 124.9 L1410.2 125.0 L1411.3 125.1 L1412.5 125.2 L1413.6 125.3 L1414.7 125.4 L1415.9 125.6 L1417.0 125.7 L1418.2 125.8 L1419.3 125.9 L1420.4 126.0 L1421.6 126.1 L1422.7 126.2 L1423.8 126.3 L1425.0 126.4 L1426.1 126.5 L1427.2 126.6 L1428.4 126.7 L1429.5 126.9 L1430.6 127.0 L1431.8 127.1 L1432.9 127.2 L1434.1 127.3 L1435.2 127.4 L1436.3 127.5 L1437.5 127.6 L1438.6 127.7 L1439.7 127.8 L1440.9 128.0 L1442.0 128.1 L1443.1 128.2 L1444.3 128.3 L1445.4 128.4 L1446.6 128.5 L1447.7 128.6 L1448.8 128.7 L1450.0 128.9 L1451.1 129.0 L1452.2 129.1 L1453.4 129.2 L1454.5 129.3 L1455.6 129.4 L1456.8 129.5 L1457.9 129.7 L1459.1 129.8 L1460.2 129.9 L1461.3 130.0 L1462.5 130.1 L1463.6 130.2 L1464.7 130.4 L1465.9 130.5 L1467.0 130.6 L1468.1 130.7 L1469.3 130.8 L1470.4 130.9 L1471.5 131.1 L1472.7 131.2 L1473.8 131.3 L1475.0 131.4 L1476.1 131.5 L1477.2 131.6 L1478.4 131.8 L1479.5 131.9 L1480.6 132.0 L1481.8 132.1 L1482.9 132.2 L1484.0 132.4 L1485.2 132.5 L1486.3 132.6 L1487.5 132.7 L1488.6 132.8 L1489.7 133.0 L1490.9 133.1 L1492.0 133.2 L1493.1 133.3 L1494.3 133.4 L1495.4 133.6 L1496.5 133.7 L1497.7 133.8 L1498.8 133.9 L1500.0 134.1 L1501.1 134.2 L1502.2 134.3 L1503.4 134.4 L1504.5 134.5 L1505.6 134.7 L1506.8 134.8 L1507.9 134.9 L1509.0 135.0 L1510.2 135.2 L1511.3 135.3 L1512.5 135.4 L1513.6 135.5 L1514.7 135.7 L1515.9 135.8 L1517.0 135.9 L1518.1 136.0 L1519.3 136.2 L1520.4 136.3 L1521.5 136.4 L1522.7 136.5 L1523.8 136.7 L1524.9 136.8 L1526.1 136.9 L1527.2 137.0 L1528.4 137.2 L1529.5 137.3 L1530.6 137.4 L1531.8 137.6 L1532.9 137.7 L1534.0 137.8 L1535.2 137.9 L1536.3 138.1 L1537.4 138.2 L1538.6 138.3 L1539.7 138.4 L1540.9 138.6 L1542.0 138.7 L1543.1 138.8 L1544.3 139.0 L1545.4 139.1 L1546.5 139.2 L1547.7 139.4 L1548.8 139.5 L1549.9 139.6 L1551.1 139.7 L1552.2 139.9 L1553.4 140.0 L1554.5 140.1 L1555.6 140.3 L1556.8 140.4 L1557.9 140.5 L1559.0 140.6 L1560.2 140.8 L1561.3 140.9 L1562.4 141.0 L1563.6 141.2 L1564.7 141.3 L1565.9 141.4 L1567.0 141.6 L1568.1 141.7 L1569.3 141.8 L1570.4 142.0 L1571.5 142.1 L1572.7 142.2 L1573.8 142.4 L1574.9 142.5 L1576.1 142.6 L1577.2 142.8 L1578.3 142.9 L1579.5 143.0 L1580.6 143.2 L1581.8 143.3 L1582.9 143.4 L1584.0 143.6 L1585.2 143.7 L1586.3 143.8 L1587.4 144.0 L1588.6 144.1 L1589.7 144.2 L1590.8 144.4 L1592.0 144.5 L1593.1 144.6 L1594.3 144.8 L1595.4 144.9 L1596.5 145.0 L1597.7 145.2 L1598.8 145.3 L1599.9 145.4 L1601.1 145.6 L1602.2 145.7 L1603.3 145.8 L1604.5 146.0 L1605.6 146.1 L1606.8 146.2 L1607.9 146.4 L1609.0 146.5 L1610.2 146.7 L1611.3 146.8 L1612.4 146.9 L1613.6 147.1 L1614.7 147.2 L1615.8 147.3 L1617.0 147.5 L1618.1 147.6 L1619.3 147.7 L1620.4 147.9 L1621.5 148.0 L1622.7 148.2 L1623.8 148.3 L1624.9 148.4 L1626.1 148.6 L1627.2 148.7 L1628.3 148.8 L1629.5 149.0 L1630.6 149.1 L1631.7 149.3 L1632.9 149.4 L1634.0 149.5 L1635.2 149.7 L1636.3 149.8 L1637.4 149.9 L1638.6 150.1 L1639.7 150.2 L1640.8 150.4 L1642.0 150.5 L1643.1 150.6 L1644.2 150.8 L1645.4 150.9 L1646.5 151.0 L1647.7 151.2 L1648.8 151.3 L1649.9 151.5 L1651.1 151.6 L1652.2 151.7 L1653.3 151.9 L1654.5 152.0 L1655.6 152.2 L1656.7 152.3 L1657.9 152.4 L1659.0 152.6 L1660.2 152.7 L1661.3 152.9 L1662.4 153.0 L1663.6 153.1 L1664.7 153.3 L1665.8 153.4 L1667.0 153.5 L1668.1 153.7 L1669.2 153.8 L1670.4 154.0 L1671.5 154.1 L1672.7 154.2 L1673.8 154.4 L1674.9 154.5 L1676.1 154.7 L1677.2 154.8 L1678.3 154.9 L1679.5 155.1 L1680.6 155.2 L1681.7 155.4 L1682.9 155.5 L1684.0 155.6 L1685.1 155.8 L1686.3 155.9 L1687.4 156.1 L1688.6 156.2 L1689.7 156.3 L1690.8 156.5 L1692.0 156.6 L1693.1 156.8 L1694.2 156.9 L1695.4 157.0 L1696.5 157.2 L1697.6 157.3 L1698.8 157.5 L1699.9 157.6 L1701.1 157.8 L1702.2 157.9 L1703.3 158.0 L1704.5 158.2 L1705.6 158.3 L1706.7 158.5 L1707.9 158.6 L1709.0 158.7 L1710.1 158.9 L1711.3 159.0 L1712.4 159.2 L1713.6 159.3 L1714.7 159.4 L1715.8 159.6 L1717.0 159.7 L1718.1 159.9 L1719.2 160.0 L1720.4 160.1 L1721.5 160.3 L1722.6 160.4 L1723.8 160.6 L1724.9 160.7 L1726.0 160.8 L1727.2 161.0 L1728.3 161.1 L1729.5 161.3 L1730.6 161.4 L1731.7 161.6 L1732.9 161.7 L1734.0 161.8 L1735.1 162.0 L1736.3 162.1 L1737.4 162.3 L1738.5 162.4 L1739.7 162.5 L1740.8 162.7 L1742.0 162.8 L1743.1 163.0 L1744.2 163.1 L1745.4 163.2 L1746.5 163.4 L1747.6 163.5 L1748.8 163.7 L1749.9 163.8 L1751.0 163.9 L1752.2 164.1 L1753.3 164.2 L1754.5 164.4 L1755.6 164.5 L1756.7 164.6 L1757.9 164.8 L1759.0 164.9 L1760.1 165.1 L1761.3 165.2 L1762.4 165.4 L1763.5 165.5 L1764.7 165.7 L1765.8 165.8 L1767.0 166.0 L1768.1 166.2 L1769.2 166.4 L1770.4 166.6 L1771.5 166.8 L1772.6 166.8 L1773.8 166.7 L1774.9 166.1 L1776.0 165.1 L1777.2 164.0 L1778.3 163.1 L1779.4 162.5 L1780.6 162.0 L1781.7 161.7 L1782.9 161.6 L1784.0 161.7 L1785.1 162.2 L1786.3 163.1 L1787.4 164.4 L1788.5 165.9 L1789.7 167.5 L1790.8 169.1 L1791.9 170.7 L1793.1 172.3 L1794.2 173.9 L1795.4 175.5 L1796.5 177.0 L1797.6 178.6 L1798.8 180.1 L1799.9 181.6 L1801.0 183.2 L1802.2 184.7 L1803.3 186.1 L1804.4 187.6 L1805.6 189.0 L1806.7 190.2 L1807.9 191.3 L1809.0 192.3 L1810.1 193.1 L1811.3 193.9 L1812.4 194.6 L1813.5 195.3 L1814.7 196.0 L1815.8 196.5 L1816.9 197.0 L1818.1 197.4 L1819.2 197.6 L1820.4 197.8 L1821.5 197.8 L1822.6 197.8 L1823.8 197.7 L1824.9 197.6 L1826.0 197.4 L1827.2 197.1 L1828.3 196.7 L1829.4 196.3 L1830.6 195.7 L1831.7 195.0 L1832.8 194.3 L1834.0 193.6 L1835.1 192.8 L1836.3 192.1 L1837.4 191.4 L1838.5 190.6 L1839.7 189.9 L1840.8 189.1 L1841.9 188.4 L1843.1 187.6 L1844.2 186.8 L1845.3 186.0 L1846.5 185.3 L1847.6 184.5 L1848.8 183.7 L1849.9 182.9 L1851.0 182.1 L1852.2 181.3 L1853.3 180.5"/>
</g>
<line class="t" x1="1036.4" y1="291.0" x2="1036.4" y2="303.0"/>
<text class="tk" text-anchor="middle" x="1037.0" y="340.8">0</text>
<line class="t" x1="1172.6" y1="291.0" x2="1172.6" y2="303.0"/>
<text class="tk" text-anchor="middle" x="1173.2" y="340.8">10</text>
<line class="t" x1="1308.7" y1="291.0" x2="1308.7" y2="303.0"/>
<text class="tk" text-anchor="middle" x="1309.3" y="340.8">20</text>
<line class="t" x1="1444.9" y1="291.0" x2="1444.9" y2="303.0"/>
<text class="tk" text-anchor="middle" x="1445.5" y="340.8">30</text>
<line class="t" x1="1581.0" y1="291.0" x2="1581.0" y2="303.0"/>
<text class="tk" text-anchor="middle" x="1581.6" y="340.8">40</text>
<line class="t" x1="1717.2" y1="291.0" x2="1717.2" y2="303.0"/>
<text class="tk" text-anchor="middle" x="1717.8" y="340.8">50</text>
<line class="t" x1="1853.3" y1="291.0" x2="1853.3" y2="303.0"/>
<text class="tk" text-anchor="middle" x="1853.9" y="340.8">60</text>
<line class="t" x1="1024.4" y1="254.1" x2="1036.4" y2="254.1"/>
<text class="tk" text-anchor="end" x="1014.1" y="267.7">−1</text>
<line class="t" x1="1024.4" y1="180.2" x2="1036.4" y2="180.2"/>
<text class="tk" text-anchor="end" x="1014.1" y="193.8">0</text>
<line class="t" x1="1024.4" y1="106.3" x2="1036.4" y2="106.3"/>
<text class="tk" text-anchor="end" x="1014.1" y="119.9">1</text>
<rect class="sp" x="1036.4" y="69.4" width="816.9" height="221.6"/>
<text class="tt" y="50.0"><tspan class="it" x="1397.2">t</tspan> <tspan x="1421.9">=</tspan> <tspan x="1462.7">6</tspan></text>
</g>
<g>
<clipPath id="cp2"><rect x="89.0" y="438.4" width="816.9" height="221.6"/></clipPath>
<g clip-path="url(#cp2)">
<path class="c" stroke="#d62728" d="M89.0 549.2 L90.1 547.8 L91.3 546.3 L92.4 544.8 L93.5 543.3 L94.7 541.9 L95.8 540.4 L97.0 538.9 L98.1 537.4 L99.2 535.9 L100.4 534.5 L101.5 533.0 L102.6 531.5 L103.8 530.0 L104.9 528.5 L106.0 527.1 L107.2 525.6 L108.3 524.1 L109.5 522.6 L110.6 521.1 L111.7 519.6 L112.9 518.2 L114.0 516.7 L115.1 515.2 L116.3 513.7 L117.4 512.2 L118.5 510.7 L119.7 509.1 L120.8 507.6 L121.9 506.1 L123.1 504.6 L124.2 503.1 L125.4 501.6 L126.5 500.1 L127.6 498.6 L128.8 497.1 L129.9 495.6 L131.0 494.1 L132.2 492.6 L133.3 491.1 L134.4 489.7 L135.6 488.3 L136.7 487.0 L137.9 485.7 L139.0 484.5 L140.1 483.4 L141.3 482.2 L142.4 481.1 L143.5 480.1 L144.7 479.0 L145.8 478.0 L146.9 477.1 L148.1 476.1 L149.2 475.1 L150.4 474.2 L151.5 473.4 L152.6 472.5 L153.8 471.8 L154.9 471.0 L156.0 470.3 L157.2 469.7 L158.3 469.1 L159.4 468.6 L160.6 468.1 L161.7 467.7 L162.9 467.3 L164.0 467.0 L165.1 466.7 L166.3 466.4 L167.4 466.2 L168.5 466.0 L169.7 465.8 L170.8 465.7 L171.9 465.6 L173.1 465.5 L174.2 465.6 L175.3 465.6 L176.5 465.8 L177.6 466.0 L178.8 466.3 L179.9 466.7 L181.0 467.1 L182.2 467.6 L183.3 468.2 L184.4 468.9 L185.6 469.7 L186.7 470.5 L187.8 471.4 L189.0 472.4 L190.1 473.5 L191.3 474.6 L192.4 475.8 L193.5 477.0 L194.7 478.3 L195.8 479.6 L196.9 481.0 L198.1 482.3 L199.2 483.7 L200.3 485.0 L201.5 486.3 L202.6 487.5 L203.8 488.7 L204.9 489.8 L206.0 490.9 L207.2 492.0 L208.3 493.0 L209.4 494.0 L210.6 494.9 L211.7 495.8 L212.8 496.6 L214.0 497.3 L215.1 497.8 L216.3 498.2 L217.4 498.5 L218.5 498.8 L219.7 498.9 L220.8 498.9 L221.9 498.9 L223.1 498.8 L224.2 498.5 L225.3 498.2 L226.5 497.8 L227.6 497.2 L228.7 496.6 L229.9 495.8 L231.0 494.9 L232.2 493.9 L233.3 492.9 L234.4 492.0 L235.6 491.1 L236.7 490.2 L237.8 489.4 L239.0 488.7 L240.1 488.0 L241.2 487.4 L242.4 487.0 L243.5 486.9 L244.7 487.0 L245.8 487.3 L246.9 487.7 L248.1 488.1 L249.2 488.7 L250.3 489.4 L251.5 490.0 L252.6 490.3 L253.7 490.3 L254.9 490.4 L256.0 490.4 L257.2 490.4 L258.3 490.5 L259.4 490.5 L260.6 490.5 L261.7 490.6 L262.8 490.6 L264.0 490.6 L265.1 490.7 L266.2 490.7 L267.4 490.7 L268.5 490.7 L269.6 490.7 L270.8 490.8 L271.9 490.8 L273.1 490.8 L274.2 490.8 L275.3 490.9 L276.5 490.9 L277.6 490.9 L278.7 490.9 L279.9 490.9 L281.0 490.9 L282.1 491.0 L283.3 491.0 L284.4 491.0 L285.6 491.0 L286.7 491.0 L287.8 491.1 L289.0 491.1 L290.1 491.1 L291.2 491.1 L292.4 491.1 L293.5 491.2 L294.6 491.2 L295.8 491.2 L296.9 491.2 L298.1 491.2 L299.2 491.3 L300.3 491.3 L301.5 491.3 L302.6 491.3 L303.7 491.3 L304.9 491.4 L306.0 491.4 L307.1 491.4 L308.3 491.4 L309.4 491.4 L310.6 491.5 L311.7 491.5 L312.8 491.5 L314.0 491.5 L315.1 491.5 L316.2 491.6 L317.4 491.6 L318.5 491.6 L319.6 491.6 L320.8 491.6 L321.9 491.6 L323.0 491.7 L324.2 491.7 L325.3 491.7 L326.5 491.7 L327.6 491.7 L328.7 491.8 L329.9 491.8 L331.0 491.8 L332.1 491.8 L333.3 491.8 L334.4 491.9 L335.5 491.9 L336.7 491.9 L337.8 491.9 L339.0 491.9 L340.1 492.0 L341.2 492.0 L342.4 492.0 L343.5 492.0 L344.6 492.0 L345.8 492.1 L346.9 492.1 L348.0 492.1 L349.2 492.1 L350.3 492.1 L351.5 492.2 L352.6 492.2 L353.7 492.2 L354.9 492.2 L356.0 492.2 L357.1 492.2 L358.3 492.3 L359.4 492.3 L360.5 492.3 L361.7 492.3 L362.8 492.3 L364.0 492.4 L365.1 492.4 L366.2 492.4 L367.4 492.4 L368.5 492.4 L369.6 492.5 L370.8 492.5 L371.9 492.5 L373.0 492.5 L374.2 492.5 L375.3 492.6 L376.4 492.6 L377.6 492.6 L378.7 492.6 L379.9 492.6 L381.0 492.7 L382.1 492.7 L383.3 492.7 L384.4 492.7 L385.5 492.7 L386.7 492.8 L387.8 492.8 L388.9 492.8 L390.1 492.8 L391.2 492.8 L392.4 492.9 L393.5 492.9 L394.6 492.9 L395.8 492.9 L396.9 492.9 L398.0 492.9 L399.2 493.0 L400.3 493.0 L401.4 493.0 L402.6 493.0 L403.7 493.0 L404.9 493.1 L406.0 493.1 L407.1 493.1 L408.3 493.1 L409.4 493.1 L410.5 493.2 L411.7 493.2 L412.8 493.2 L413.9 493.2 L415.1 493.2 L416.2 493.3 L417.4 493.3 L418.5 493.3 L419.6 493.3 L420.8 493.3 L421.9 493.4 L423.0 493.4 L424.2 493.4 L425.3 493.4 L426.4 493.4 L427.6 493.5 L428.7 493.5 L429.8 493.5 L431.0 493.5 L432.1 493.5 L433.3 493.6 L434.4 493.6 L435.5 493.6 L436.7 493.6 L437.8 493.6 L438.9 493.6 L440.1 493.7 L441.2 493.7 L442.3 493.7 L443.5 493.7 L444.6 493.7 L445.8 493.8 L446.9 493.8 L448.0 493.8 L449.2 493.8 L450.3 493.8 L451.4 493.9 L452.6 493.9 L453.7 493.9 L454.8 493.9 L456.0 493.9 L457.1 494.0 L458.3 494.0 L459.4 494.0 L460.5 494.0 L461.7 494.0 L462.8 494.1 L463.9 494.1 L465.1 494.1 L466.2 494.1 L467.3 494.1 L468.5 494.2 L469.6 494.2 L470.8 494.2 L471.9 494.2 L473.0 494.2 L474.2 494.2 L475.3 494.3 L476.4 494.3 L477.6 494.3 L478.7 494.3 L479.8 494.3 L481.0 494.4 L482.1 494.4 L483.2 494.4 L484.4 494.4 L485.5 494.4 L486.7 494.5 L487.8 494.5 L488.9 494.5 L490.1 494.5 L491.2 494.5 L492.3 494.6 L493.5 494.6 L494.6 494.6 L495.7 494.6 L496.9 494.6 L498.0 494.7 L499.2 494.7 L500.3 494.7 L501.4 494.7 L502.6 494.7 L503.7 494.8 L504.8 494.8 L506.0 494.8 L507.1 494.8 L508.2 494.8 L509.4 494.9 L510.5 494.9 L511.7 494.9 L512.8 494.9 L513.9 494.9 L515.1 494.9 L516.2 495.0 L517.3 495.0 L518.5 495.0 L519.6 495.0 L520.7 495.0 L521.9 495.1 L523.0 495.1 L524.1 495.1 L525.3 495.1 L526.4 495.1 L527.6 495.2 L528.7 495.2 L529.8 495.2 L531.0 495.2 L532.1 495.2 L533.2 495.3 L534.4 495.3 L535.5 495.3 L536.6 495.3 L537.8 495.3 L538.9 495.4 L540.1 495.4 L541.2 495.4 L542.3 495.4 L543.5 495.4 L544.6 495.5 L545.7 495.5 L546.9 495.5 L548.0 495.5 L549.1 495.5 L550.3 495.5 L551.4 495.6 L552.6 495.6 L553.7 495.6 L554.8 495.6 L556.0 495.6 L557.1 495.7 L558.2 495.7 L559.4 495.7 L560.5 495.7 L561.6 495.7 L562.8 495.8 L563.9 495.8 L565.1 495.8 L566.2 495.8 L567.3 495.8 L568.5 495.9 L569.6 495.9 L570.7 495.9 L571.9 495.9 L573.0 495.9 L574.1 496.0 L575.3 496.0 L576.4 496.0 L577.5 496.0 L578.7 496.0 L579.8 496.1 L581.0 496.1 L582.1 496.1 L583.2 496.1 L584.4 496.1 L585.5 496.2 L586.6 496.2 L587.8 496.2 L588.9 496.2 L590.0 496.2 L591.2 496.2 L592.3 496.3 L593.5 496.3 L594.6 496.3 L595.7 496.3 L596.9 496.3 L598.0 496.4 L599.1 496.4 L600.3 496.4 L601.4 496.4 L602.5 496.4 L603.7 496.5 L604.8 496.5 L606.0 496.5 L607.1 496.5 L608.2 496.5 L609.4 496.6 L610.5 496.6 L611.6 496.6 L612.8 496.6 L613.9 496.6 L615.0 496.7 L616.2 496.7 L617.3 496.7 L618.5 496.7 L619.6 496.7 L620.7 496.8 L621.9 496.8 L623.0 496.8 L624.1 496.8 L625.3 496.8 L626.4 496.9 L627.5 496.9 L628.7 496.9 L629.8 496.9 L630.9 496.9 L632.1 496.9 L633.2 497.0 L634.4 497.0 L635.5 497.0 L636.6 497.0 L637.8 497.0 L638.9 497.1 L640.0 497.1 L641.2 497.1 L642.3 497.1 L643.4 497.1 L644.6 497.2 L645.7 497.2 L646.9 497.2 L648.0 497.2 L649.1 497.2 L650.3 497.3 L651.4 497.3 L652.5 497.3 L653.7 497.3 L654.8 497.3 L655.9 497.4 L657.1 497.4 L658.2 497.4 L659.4 497.4 L660.5 497.4 L661.6 497.5 L662.8 497.5 L663.9 497.5 L665.0 497.5 L666.2 497.5 L667.3 497.5 L668.4 497.6 L669.6 497.6 L670.7 497.6 L671.9 497.6 L673.0 497.6 L674.1 497.7 L675.3 497.7 L676.4 497.7 L677.5 497.7 L678.7 497.7 L679.8 497.8 L680.9 497.8 L682.1 497.8 L683.2 497.8 L684.3 497.8 L685.5 497.9 L686.6 497.9 L687.8 497.9 L688.9 497.9 L690.0 497.9 L691.2 498.0 L692.3 498.0 L693.4 498.0 L694.6 498.0 L695.7 498.0 L696.8 498.1 L698.0 498.1 L699.1 498.1 L700.3 498.1 L701.4 498.1 L702.5 498.2 L703.7 498.2 L704.8 498.2 L705.9 498.2 L707.1 498.2 L708.2 498.2 L709.3 498.3 L710.5 498.3 L711.6 498.3 L712.8 498.3 L713.9 498.3 L715.0 498.4 L716.2 498.4 L717.3 498.4 L718.4 498.4 L719.6 498.4 L720.7 498.5 L721.8 498.5 L723.0 498.5 L724.1 498.5 L725.3 498.5 L726.4 498.6 L727.5 498.6 L728.7 498.6 L729.8 498.6 L730.9 498.6 L732.1 498.7 L733.2 498.7 L734.3 498.7 L735.5 498.7 L736.6 498.7 L737.7 498.7 L738.9 498.7 L740.0 498.7 L741.2 498.7 L742.3 498.7 L743.4 498.6 L744.6 498.2 L745.7 497.5 L746.8 496.6 L748.0 495.9 L749.1 495.3 L750.2 494.9 L751.4 494.6 L752.5 494.7 L753.7 495.1 L754.8 495.9 L755.9 496.8 L757.1 497.8 L758.2 498.8 L759.3 499.8 L760.5 500.8 L761.6 501.8 L762.7 502.7 L763.9 503.7 L765.0 504.6 L766.2 505.5 L767.3 506.4 L768.4 507.2 L769.6 507.8 L770.7 508.2 L771.8 508.5 L773.0 508.6 L774.1 508.6 L775.2 508.6 L776.4 508.6 L777.5 508.4 L778.6 508.1 L779.8 507.7 L780.9 507.1 L782.1 506.5 L783.2 505.8 L784.3 505.1 L785.5 504.2 L786.6 503.3 L787.7 502.4 L788.9 501.3 L790.0 500.2 L791.1 499.0 L792.3 497.9 L793.4 496.7 L794.6 495.5 L795.7 494.4 L796.8 493.3 L798.0 492.2 L799.1 491.2 L800.2 490.2 L801.4 489.2 L802.5 488.3 L803.6 487.3 L804.8 486.4 L805.9 485.6 L807.1 484.8 L808.2 484.0 L809.3 483.3 L810.5 482.8 L811.6 482.2 L812.7 481.8 L813.9 481.3 L815.0 481.0 L816.1 480.7 L817.3 480.4 L818.4 480.2 L819.6 480.1 L820.7 480.1 L821.8 480.1 L823.0 480.2 L824.1 480.3 L825.2 480.5 L826.4 480.8 L827.5 481.1 L828.6 481.5 L829.8 481.9 L830.9 482.3 L832.0 482.8 L833.2 483.3 L834.3 483.9 L835.5 484.5 L836.6 485.2 L837.7 485.9 L838.9 486.7 L840.0 487.5 L841.1 488.3 L842.3 489.1 L843.4 490.0 L844.5 490.9 L845.7 491.8 L846.8 492.8 L848.0 493.9 L849.1 495.1 L850.2 496.2 L851.4 497.3 L852.5 498.5 L853.6 499.6 L854.8 500.7 L855.9 501.9 L857.0 503.0 L858.2 504.1 L859.3 505.3 L860.5 506.4 L861.6 507.6 L862.7 508.7 L863.9 509.8 L865.0 511.0 L866.1 512.1 L867.3 513.2 L868.4 514.4 L869.5 515.5 L870.7 516.6 L871.8 517.8 L873.0 518.9 L874.1 520.0 L875.2 521.2 L876.4 522.3 L877.5 523.5 L878.6 524.6 L879.8 525.7 L880.9 526.8 L882.0 527.9 L883.2 529.0 L884.3 530.1 L885.4 531.2 L886.6 532.2 L887.7 533.3 L888.9 534.4 L890.0 535.4 L891.1 536.5 L892.3 537.5 L893.4 538.6 L894.5 539.6 L895.7 540.6 L896.8 541.7 L897.9 542.7 L899.1 543.7 L900.2 544.7 L901.4 545.7 L902.5 546.6 L903.6 547.6 L904.8 548.6 L905.9 549.5"/>
<path class="c" stroke="#1f77b4" d="M89.0 549.2 L90.1 547.6 L91.3 545.9 L92.4 544.3 L93.5 542.7 L94.7 541.1 L95.8 539.4 L97.0 537.8 L98.1 536.2 L99.2 534.6 L100.4 533.0 L101.5 531.4 L102.6 529.8 L103.8 528.3 L104.9 526.7 L106.0 525.1 L107.2 523.5 L108.3 521.9 L109.5 520.3 L110.6 518.8 L111.7 517.2 L112.9 515.6 L114.0 514.1 L115.1 512.5 L116.3 511.0 L117.4 509.4 L118.5 507.9 L119.7 506.4 L120.8 504.9 L121.9 503.4 L123.1 501.8 L124.2 500.3 L125.4 498.9 L126.5 497.4 L127.6 495.9 L128.8 494.4 L129.9 492.9 L131.0 491.4 L132.2 490.0 L133.3 488.5 L134.4 487.1 L135.6 485.7 L136.7 484.3 L137.9 483.0 L139.0 481.7 L140.1 480.4 L141.3 479.2 L142.4 478.0 L143.5 476.8 L144.7 475.6 L145.8 474.5 L146.9 473.4 L148.1 472.3 L149.2 471.2 L150.4 470.1 L151.5 469.1 L152.6 468.2 L153.8 467.3 L154.9 466.4 L156.0 465.6 L157.2 464.8 L158.3 464.1 L159.4 463.4 L160.6 462.8 L161.7 462.2 L162.9 461.6 L164.0 461.1 L165.1 460.6 L166.3 460.2 L167.4 459.8 L168.5 459.5 L169.7 459.2 L170.8 458.9 L171.9 458.7 L173.1 458.6 L174.2 458.4 L175.3 458.4 L176.5 458.3 L177.6 458.3 L178.8 458.4 L179.9 458.5 L181.0 458.7 L182.2 459.0 L183.3 459.3 L184.4 459.6 L185.6 460.1 L186.7 460.6 L187.8 461.1 L189.0 461.7 L190.1 462.3 L191.3 463.0 L192.4 463.8 L193.5 464.7 L194.7 465.7 L195.8 466.7 L196.9 467.7 L198.1 468.8 L199.2 469.8 L200.3 470.9 L201.5 472.0 L202.6 473.1 L203.8 474.1 L204.9 475.2 L206.0 476.2 L207.2 477.2 L208.3 478.2 L209.4 479.2 L210.6 480.2 L211.7 481.2 L212.8 482.2 L214.0 483.1 L215.1 484.0 L216.3 484.8 L217.4 485.4 L218.5 485.8 L219.7 486.0 L220.8 486.2 L221.9 486.3 L223.1 486.3 L224.2 486.2 L225.3 486.0 L226.5 485.7 L227.6 485.2 L228.7 484.7 L229.9 484.0 L231.0 483.3 L232.2 482.5 L233.3 481.7 L234.4 480.9 L235.6 480.1 L236.7 479.5 L237.8 478.8 L239.0 478.1 L240.1 477.5 L241.2 477.0 L242.4 476.8 L243.5 476.9 L244.7 477.2 L245.8 477.5 L246.9 477.9 L248.1 478.3 L249.2 478.7 L250.3 479.2 L251.5 479.6 L252.6 480.0 L253.7 480.3 L254.9 480.5 L256.0 480.7 L257.2 480.9 L258.3 481.1 L259.4 481.2 L260.6 481.3 L261.7 481.4 L262.8 481.5 L264.0 481.5 L265.1 481.6 L266.2 481.6 L267.4 481.7 L268.5 481.7 L269.6 481.7 L270.8 481.8 L271.9 481.8 L273.1 481.9 L274.2 481.9 L275.3 482.0 L276.5 482.1 L277.6 482.2 L278.7 482.3 L279.9 482.4 L281.0 482.6 L282.1 482.7 L283.3 482.9 L284.4 483.0 L285.6 483.2 L286.7 483.3 L287.8 483.4 L289.0 483.6 L290.1 483.7 L291.2 483.9 L292.4 484.0 L293.5 484.2 L294.6 484.3 L295.8 484.5 L296.9 484.6 L298.1 484.8 L299.2 484.9 L300.3 485.0 L301.5 485.2 L302.6 485.4 L303.7 485.5 L304.9 485.7 L306.0 485.8 L307.1 486.0 L308.3 486.1 L309.4 486.3 L310.6 486.5 L311.7 486.6 L312.8 486.8 L314.0 487.0 L315.1 487.1 L316.2 487.3 L317.4 487.5 L318.5 487.7 L319.6 487.8 L320.8 488.0 L321.9 488.2 L323.0 488.3 L324.2 488.5 L325.3 488.7 L326.5 488.9 L327.6 489.0 L328.7 489.2 L329.9 489.4 L331.0 489.6 L332.1 489.7 L333.3 489.9 L334.4 490.1 L335.5 490.3 L336.7 490.5 L337.8 490.6 L339.0 490.8 L340.1 491.0 L341.2 491.2 L342.4 491.4 L343.5 491.6 L344.6 491.8 L345.8 492.0 L346.9 492.1 L348.0 492.3 L349.2 492.5 L350.3 492.7 L351.5 492.9 L352.6 493.1 L353.7 493.3 L354.9 493.5 L356.0 493.7 L357.1 493.9 L358.3 494.1 L359.4 494.3 L360.5 494.5 L361.7 494.7 L362.8 494.9 L364.0 495.1 L365.1 495.3 L366.2 495.5 L367.4 495.7 L368.5 495.9 L369.6 496.1 L370.8 496.3 L371.9 496.5 L373.0 496.7 L374.2 496.9 L375.3 497.1 L376.4 497.4 L377.6 497.6 L378.7 497.8 L379.9 498.0 L381.0 498.2 L382.1 498.4 L383.3 498.6 L384.4 498.8 L385.5 499.1 L386.7 499.3 L387.8 499.5 L388.9 499.7 L390.1 499.9 L391.2 500.1 L392.4 500.4 L393.5 500.6 L394.6 500.8 L395.8 501.0 L396.9 501.2 L398.0 501.5 L399.2 501.7 L400.3 501.9 L401.4 502.1 L402.6 502.4 L403.7 502.6 L404.9 502.8 L406.0 503.0 L407.1 503.3 L408.3 503.5 L409.4 503.7 L410.5 503.9 L411.7 504.2 L412.8 504.4 L413.9 504.6 L415.1 504.9 L416.2 505.1 L417.4 505.3 L418.5 505.5 L419.6 505.8 L420.8 506.0 L421.9 506.2 L423.0 506.5 L424.2 506.7 L425.3 507.0 L426.4 507.2 L427.6 507.4 L428.7 507.7 L429.8 507.9 L431.0 508.1 L432.1 508.4 L433.3 508.6 L434.4 508.9 L435.5 509.1 L436.7 509.3 L437.8 509.6 L438.9 509.8 L440.1 510.1 L441.2 510.3 L442.3 510.5 L443.5 510.8 L444.6 511.0 L445.8 511.3 L446.9 511.5 L448.0 511.8 L449.2 512.0 L450.3 512.2 L451.4 512.5 L452.6 512.7 L453.7 513.0 L454.8 513.2 L456.0 513.5 L457.1 513.7 L458.3 514.0 L459.4 514.2 L460.5 514.5 L461.7 514.7 L462.8 515.0 L463.9 515.2 L465.1 515.5 L466.2 515.7 L467.3 516.0 L468.5 516.2 L469.6 516.5 L470.8 516.7 L471.9 517.0 L473.0 517.2 L474.2 517.5 L475.3 517.7 L476.4 518.0 L477.6 518.2 L478.7 518.5 L479.8 518.8 L481.0 519.0 L482.1 519.3 L483.2 519.5 L484.4 519.8 L485.5 520.0 L486.7 520.3 L487.8 520.5 L488.9 520.8 L490.1 521.1 L491.2 521.3 L492.3 521.6 L493.5 521.8 L494.6 522.1 L495.7 522.3 L496.9 522.6 L498.0 522.9 L499.2 523.1 L500.3 523.4 L501.4 523.6 L502.6 523.9 L503.7 524.2 L504.8 524.4 L506.0 524.7 L507.1 524.9 L508.2 525.2 L509.4 525.5 L510.5 525.7 L511.7 526.0 L512.8 526.2 L513.9 526.5 L515.1 526.8 L516.2 527.0 L517.3 527.3 L518.5 527.5 L519.6 527.8 L520.7 528.1 L521.9 528.3 L523.0 528.6 L524.1 528.9 L525.3 529.1 L526.4 529.4 L527.6 529.6 L528.7 529.9 L529.8 530.2 L531.0 530.4 L532.1 530.7 L533.2 531.0 L534.4 531.2 L535.5 531.5 L536.6 531.8 L537.8 532.0 L538.9 532.3 L540.1 532.5 L541.2 532.8 L542.3 533.1 L543.5 533.3 L544.6 533.6 L545.7 533.9 L546.9 534.1 L548.0 534.4 L549.1 534.7 L550.3 534.9 L551.4 535.2 L552.6 535.4 L553.7 535.7 L554.8 536.0 L556.0 536.2 L557.1 536.5 L558.2 536.8 L559.4 537.0 L560.5 537.3 L561.6 537.6 L562.8 537.8 L563.9 538.1 L565.1 538.3 L566.2 538.6 L567.3 538.9 L568.5 539.1 L569.6 539.4 L570.7 539.7 L571.9 539.9 L573.0 540.2 L574.1 540.5 L575.3 540.7 L576.4 541.0 L577.5 541.3 L578.7 541.5 L579.8 541.8 L581.0 542.0 L582.1 542.3 L583.2 542.6 L584.4 542.8 L585.5 543.1 L586.6 543.4 L587.8 543.6 L588.9 543.9 L590.0 544.1 L591.2 544.4 L592.3 544.7 L593.5 544.9 L594.6 545.2 L595.7 545.5 L596.9 545.7 L598.0 546.0 L599.1 546.2 L600.3 546.5 L601.4 546.8 L602.5 547.0 L603.7 547.3 L604.8 547.5 L606.0 547.8 L607.1 548.1 L608.2 548.3 L609.4 548.6 L610.5 548.8 L611.6 549.1 L612.8 549.4 L613.9 549.6 L615.0 549.9 L616.2 550.1 L617.3 550.4 L618.5 550.7 L619.6 550.9 L620.7 551.2 L621.9 551.4 L623.0 551.7 L624.1 551.9 L625.3 552.2 L626.4 552.4 L627.5 552.7 L628.7 553.0 L629.8 553.2 L630.9 553.5 L632.1 553.7 L633.2 554.0 L634.4 554.2 L635.5 554.5 L636.6 554.7 L637.8 555.0 L638.9 555.2 L640.0 555.5 L641.2 555.7 L642.3 556.0 L643.4 556.3 L644.6 556.5 L645.7 556.8 L646.9 557.0 L648.0 557.3 L649.1 557.5 L650.3 557.8 L651.4 558.0 L652.5 558.3 L653.7 558.5 L654.8 558.7 L655.9 559.0 L657.1 559.2 L658.2 559.5 L659.4 559.7 L660.5 560.0 L661.6 560.2 L662.8 560.5 L663.9 560.7 L665.0 561.0 L666.2 561.2 L667.3 561.4 L668.4 561.7 L669.6 561.9 L670.7 562.2 L671.9 562.4 L673.0 562.7 L674.1 562.9 L675.3 563.1 L676.4 563.4 L677.5 563.6 L678.7 563.9 L679.8 564.1 L680.9 564.3 L682.1 564.6 L683.2 564.8 L684.3 565.0 L685.5 565.3 L686.6 565.5 L687.8 565.7 L688.9 566.0 L690.0 566.2 L691.2 566.4 L692.3 566.7 L693.4 566.9 L694.6 567.1 L695.7 567.4 L696.8 567.6 L698.0 567.8 L699.1 568.1 L700.3 568.3 L701.4 568.5 L702.5 568.8 L703.7 569.0 L704.8 569.2 L705.9 569.4 L707.1 569.7 L708.2 569.9 L709.3 570.1 L710.5 570.3 L711.6 570.6 L712.8 570.8 L713.9 571.0 L715.0 571.2 L716.2 571.4 L717.3 571.7 L718.4 571.9 L719.6 572.1 L720.7 572.3 L721.8 572.5 L723.0 572.7 L724.1 573.0 L725.3 573.2 L726.4 573.4 L727.5 573.6 L728.7 573.8 L729.8 574.0 L730.9 574.3 L732.1 574.5 L733.2 574.7 L734.3 574.9 L735.5 575.1 L736.6 575.3 L737.7 575.5 L738.9 575.7 L740.0 575.8 L741.2 575.5 L742.3 574.9 L743.4 574.5 L744.6 574.2 L745.7 574.5 L746.8 575.7 L748.0 576.8 L749.1 578.0 L750.2 579.1 L751.4 580.2 L752.5 581.4 L753.7 582.5 L754.8 583.5 L755.9 583.8 L757.1 583.6 L758.2 583.2 L759.3 582.7 L760.5 582.2 L761.6 581.6 L762.7 581.0 L763.9 580.3 L765.0 579.6 L766.2 578.9 L767.3 578.2 L768.4 577.5 L769.6 576.9 L770.7 576.4 L771.8 576.0 L773.0 575.7 L774.1 575.5 L775.2 575.3 L776.4 575.3 L777.5 575.3 L778.6 575.5 L779.8 575.8 L780.9 576.2 L782.1 576.9 L783.2 577.7 L784.3 578.5 L785.5 579.3 L786.6 580.2 L787.7 581.1 L788.9 581.9 L790.0 582.8 L791.1 583.7 L792.3 584.7 L793.4 585.6 L794.6 586.6 L795.7 587.6 L796.8 588.5 L798.0 589.5 L799.1 590.4 L800.2 591.3 L801.4 592.2 L802.5 593.0 L803.6 593.7 L804.8 594.4 L805.9 595.1 L807.1 595.7 L808.2 596.2 L809.3 596.7 L810.5 597.2 L811.6 597.6 L812.7 598.0 L813.9 598.4 L815.0 598.7 L816.1 599.0 L817.3 599.2 L818.4 599.4 L819.6 599.6 L820.7 599.8 L821.8 599.9 L823.0 600.0 L824.1 600.0 L825.2 600.1 L826.4 600.0 L827.5 599.9 L828.6 599.8 L829.8 599.7 L830.9 599.6 L832.0 599.4 L833.2 599.1 L834.3 598.9 L835.5 598.6 L836.6 598.3 L837.7 598.0 L838.9 597.6 L840.0 597.3 L841.1 596.9 L842.3 596.5 L843.4 596.1 L844.5 595.6 L845.7 595.1 L846.8 594.6 L848.0 594.0 L849.1 593.4 L850.2 592.9 L851.4 592.3 L852.5 591.7 L853.6 591.2 L854.8 590.6 L855.9 590.0 L857.0 589.5 L858.2 588.9 L859.3 588.3 L860.5 587.8 L861.6 587.2 L862.7 586.6 L863.9 586.1 L865.0 585.5 L866.1 584.9 L867.3 584.4 L868.4 583.8 L869.5 583.2 L870.7 582.7 L871.8 582.1 L873.0 581.5 L874.1 581.0 L875.2 580.4 L876.4 579.8 L877.5 579.2 L878.6 578.7 L879.8 578.1 L880.9 577.6 L882.0 577.1 L883.2 576.5 L884.3 576.0 L885.4 575.5 L886.6 575.0 L887.7 574.5 L888.9 574.0 L890.0 573.6 L891.1 573.1 L892.3 572.6 L893.4 572.1 L894.5 571.6 L895.7 571.1 L896.8 570.6 L897.9 570.1 L899.1 569.7 L900.2 569.2 L901.4 568.7 L902.5 568.2 L903.6 567.8 L904.8 567.3 L905.9 566.8"/>
<path class="c" stroke="#000000" d="M89.0 549.2 L90.1 547.6 L91.3 545.9 L92.4 544.3 L93.5 542.7 L94.7 541.1 L95.8 539.4 L97.0 537.8 L98.1 536.2 L99.2 534.6 L100.4 533.0 L101.5 531.4 L102.6 529.8 L103.8 528.3 L104.9 526.7 L106.0 525.1 L107.2 523.5 L108.3 521.9 L109.5 520.3 L110.6 518.8 L111.7 517.2 L112.9 515.6 L114.0 514.1 L115.1 512.5 L116.3 511.0 L117.4 509.4 L118.5 507.9 L119.7 506.4 L120.8 504.9 L121.9 503.4 L123.1 501.8 L124.2 500.3 L125.4 498.9 L126.5 497.4 L127.6 495.9 L128.8 494.4 L129.9 492.9 L131.0 491.4 L132.2 490.0 L133.3 488.5 L134.4 487.1 L135.6 485.7 L136.7 484.3 L137.9 483.0 L139.0 481.7 L140.1 480.4 L141.3 479.2 L142.4 478.0 L143.5 476.8 L144.7 475.6 L145.8 474.5 L146.9 473.4 L148.1 472.3 L149.2 471.2 L150.4 470.1 L151.5 469.1 L152.6 468.2 L153.8 467.3 L154.9 466.4 L156.0 465.6 L157.2 464.8 L158.3 464.1 L159.4 463.4 L160.6 462.8 L161.7 462.2 L162.9 461.6 L164.0 461.1 L165.1 460.6 L166.3 460.2 L167.4 459.8 L168.5 459.5 L169.7 459.2 L170.8 458.9 L171.9 458.7 L173.1 458.6 L174.2 458.4 L175.3 458.4 L176.5 458.3 L177.6 458.3 L178.8 458.4 L179.9 458.5 L181.0 458.7 L182.2 459.0 L183.3 459.3 L184.4 459.6 L185.6 460.1 L186.7 460.6 L187.8 461.1 L189.0 461.7 L190.1 462.3 L191.3 463.0 L192.4 463.8 L193.5 464.7 L194.7 465.7 L195.8 466.7 L196.9 467.7 L198.1 468.8 L199.2 469.8 L200.3 470.9 L201.5 472.0 L202.6 473.1 L203.8 474.1 L204.9 475.2 L206.0 476.2 L207.2 477.2 L208.3 478.2 L209.4 479.2 L210.6 480.2 L211.7 481.2 L212.8 482.2 L214.0 483.1 L215.1 484.0 L216.3 484.8 L217.4 485.4 L218.5 485.8 L219.7 486.0 L220.8 486.2 L221.9 486.3 L223.1 486.3 L224.2 486.2 L225.3 486.0 L226.5 485.7 L227.6 485.2 L228.7 484.7 L229.9 484.0 L231.0 483.3 L232.2 482.5 L233.3 481.7 L234.4 480.9 L235.6 480.1 L236.7 479.5 L237.8 478.8 L239.0 478.1 L240.1 477.5 L241.2 477.1 L242.4 476.8 L243.5 476.9 L244.7 477.1 L245.8 477.4 L246.9 477.8 L248.1 478.3 L249.2 478.7 L250.3 479.2 L251.5 479.7 L252.6 480.2 L253.7 480.5 L254.9 480.7 L256.0 480.9 L257.2 481.0 L258.3 481.2 L259.4 481.3 L260.6 481.4 L261.7 481.5 L262.8 481.6 L264.0 481.7 L265.1 481.8 L266.2 481.8 L267.4 481.9 L268.5 482.0 L269.6 482.0 L270.8 482.1 L271.9 482.2 L273.1 482.2 L274.2 482.3 L275.3 482.4 L276.5 482.5 L277.6 482.6 L278.7 482.8 L279.9 482.9 L281.0 483.1 L282.1 483.2 L283.3 483.4 L284.4 483.5 L285.6 483.7 L286.7 483.8 L287.8 484.0 L289.0 484.1 L290.1 484.3 L291.2 484.5 L292.4 484.6 L293.5 484.8 L294.6 484.9 L295.8 485.1 L296.9 485.2 L298.1 485.4 L299.2 485.6 L300.3 485.7 L301.5 485.9 L302.6 486.1 L303.7 486.2 L304.9 486.4 L306.0 486.6 L307.1 486.8 L308.3 487.0 L309.4 487.1 L310.6 487.3 L311.7 487.5 L312.8 487.7 L314.0 487.9 L315.1 488.1 L316.2 488.3 L317.4 488.4 L318.5 488.6 L319.6 488.8 L320.8 489.0 L321.9 489.2 L323.0 489.4 L324.2 489.6 L325.3 489.8 L326.5 490.0 L327.6 490.2 L328.7 490.4 L329.9 490.6 L331.0 490.8 L332.1 491.0 L333.3 491.2 L334.4 491.4 L335.5 491.6 L336.7 491.8 L337.8 492.0 L339.0 492.3 L340.1 492.5 L341.2 492.7 L342.4 492.9 L343.5 493.1 L344.6 493.3 L345.8 493.6 L346.9 493.8 L348.0 494.0 L349.2 494.2 L350.3 494.5 L351.5 494.7 L352.6 494.9 L353.7 495.1 L354.9 495.4 L356.0 495.6 L357.1 495.8 L358.3 496.0 L359.4 496.3 L360.5 496.5 L361.7 496.7 L362.8 497.0 L364.0 497.2 L365.1 497.5 L366.2 497.7 L367.4 497.9 L368.5 498.2 L369.6 498.4 L370.8 498.7 L371.9 498.9 L373.0 499.2 L374.2 499.4 L375.3 499.6 L376.4 499.9 L377.6 500.1 L378.7 500.4 L379.9 500.6 L381.0 500.9 L382.1 501.1 L383.3 501.4 L384.4 501.6 L385.5 501.9 L386.7 502.2 L387.8 502.4 L388.9 502.7 L390.1 502.9 L391.2 503.2 L392.4 503.5 L393.5 503.7 L394.6 504.0 L395.8 504.2 L396.9 504.5 L398.0 504.8 L399.2 505.0 L400.3 505.3 L401.4 505.6 L402.6 505.8 L403.7 506.1 L404.9 506.4 L406.0 506.6 L407.1 506.9 L408.3 507.2 L409.4 507.5 L410.5 507.7 L411.7 508.0 L412.8 508.3 L413.9 508.5 L415.1 508.8 L416.2 509.1 L417.4 509.4 L418.5 509.7 L419.6 509.9 L420.8 510.2 L421.9 510.5 L423.0 510.8 L424.2 511.1 L425.3 511.3 L426.4 511.6 L427.6 511.9 L428.7 512.2 L429.8 512.5 L431.0 512.8 L432.1 513.0 L433.3 513.3 L434.4 513.6 L435.5 513.9 L436.7 514.2 L437.8 514.5 L438.9 514.8 L440.1 515.1 L441.2 515.4 L442.3 515.6 L443.5 515.9 L444.6 516.2 L445.8 516.5 L446.9 516.8 L448.0 517.1 L449.2 517.4 L450.3 517.7 L451.4 518.0 L452.6 518.3 L453.7 518.6 L454.8 518.9 L456.0 519.2 L457.1 519.5 L458.3 519.8 L459.4 520.1 L460.5 520.4 L461.7 520.7 L462.8 521.0 L463.9 521.3 L465.1 521.6 L466.2 521.9 L467.3 522.2 L468.5 522.5 L469.6 522.8 L470.8 523.1 L471.9 523.4 L473.0 523.7 L474.2 524.0 L475.3 524.3 L476.4 524.6 L477.6 524.9 L478.7 525.2 L479.8 525.5 L481.0 525.8 L482.1 526.1 L483.2 526.4 L484.4 526.7 L485.5 527.1 L486.7 527.4 L487.8 527.7 L488.9 528.0 L490.1 528.3 L491.2 528.6 L492.3 528.9 L493.5 529.2 L494.6 529.5 L495.7 529.8 L496.9 530.1 L498.0 530.5 L499.2 530.8 L500.3 531.1 L501.4 531.4 L502.6 531.7 L503.7 532.0 L504.8 532.3 L506.0 532.6 L507.1 532.9 L508.2 533.3 L509.4 533.6 L510.5 533.9 L511.7 534.2 L512.8 534.5 L513.9 534.8 L515.1 535.1 L516.2 535.4 L517.3 535.8 L518.5 536.1 L519.6 536.4 L520.7 536.7 L521.9 537.0 L523.0 537.3 L524.1 537.6 L525.3 538.0 L526.4 538.3 L527.6 538.6 L528.7 538.9 L529.8 539.2 L531.0 539.5 L532.1 539.8 L533.2 540.2 L534.4 540.5 L535.5 540.8 L536.6 541.1 L537.8 541.4 L538.9 541.7 L540.1 542.0 L541.2 542.3 L542.3 542.7 L543.5 543.0 L544.6 543.3 L545.7 543.6 L546.9 543.9 L548.0 544.2 L549.1 544.5 L550.3 544.9 L551.4 545.2 L552.6 545.5 L553.7 545.8 L554.8 546.1 L556.0 546.4 L557.1 546.7 L558.2 547.0 L559.4 547.4 L560.5 547.7 L561.6 548.0 L562.8 548.3 L563.9 548.6 L565.1 548.9 L566.2 549.2 L567.3 549.5 L568.5 549.9 L569.6 550.2 L570.7 550.5 L571.9 550.8 L573.0 551.1 L574.1 551.4 L575.3 551.7 L576.4 552.0 L577.5 552.3 L578.7 552.7 L579.8 553.0 L581.0 553.3 L582.1 553.6 L583.2 553.9 L584.4 554.2 L585.5 554.5 L586.6 554.8 L587.8 555.1 L588.9 555.4 L590.0 555.7 L591.2 556.0 L592.3 556.3 L593.5 556.6 L594.6 557.0 L595.7 557.3 L596.9 557.6 L598.0 557.9 L599.1 558.2 L600.3 558.5 L601.4 558.8 L602.5 559.1 L603.7 559.4 L604.8 559.7 L606.0 560.0 L607.1 560.3 L608.2 560.6 L609.4 560.9 L610.5 561.2 L611.6 561.5 L612.8 561.8 L613.9 562.1 L615.0 562.4 L616.2 562.7 L617.3 563.0 L618.5 563.3 L619.6 563.6 L620.7 563.9 L621.9 564.2 L623.0 564.5 L624.1 564.7 L625.3 565.0 L626.4 565.3 L627.5 565.6 L628.7 565.9 L629.8 566.2 L630.9 566.5 L632.1 566.8 L633.2 567.1 L634.4 567.4 L635.5 567.7 L636.6 567.9 L637.8 568.2 L638.9 568.5 L640.0 568.8 L641.2 569.1 L642.3 569.4 L643.4 569.7 L644.6 569.9 L645.7 570.2 L646.9 570.5 L648.0 570.8 L649.1 571.1 L650.3 571.3 L651.4 571.6 L652.5 571.9 L653.7 572.2 L654.8 572.5 L655.9 572.7 L657.1 573.0 L658.2 573.3 L659.4 573.6 L660.5 573.8 L661.6 574.1 L662.8 574.4 L663.9 574.7 L665.0 574.9 L666.2 575.2 L667.3 575.5 L668.4 575.7 L669.6 576.0 L670.7 576.3 L671.9 576.5 L673.0 576.8 L674.1 577.0 L675.3 577.3 L676.4 577.6 L677.5 577.8 L678.7 578.1 L679.8 578.4 L680.9 578.6 L682.1 578.9 L683.2 579.1 L684.3 579.4 L685.5 579.7 L686.6 579.9 L687.8 580.2 L688.9 580.4 L690.0 580.7 L691.2 581.0 L692.3 581.2 L693.4 581.5 L694.6 581.7 L695.7 582.0 L696.8 582.2 L698.0 582.5 L699.1 582.7 L700.3 583.0 L701.4 583.2 L702.5 583.4 L703.7 583.7 L704.8 583.9 L705.9 584.2 L707.1 584.4 L708.2 584.6 L709.3 584.9 L710.5 585.1 L711.6 585.3 L712.8 585.6 L713.9 585.8 L715.0 586.0 L716.2 586.2 L717.3 586.4 L718.4 586.6 L719.6 586.8 L720.7 586.9 L721.8 587.1 L723.0 587.2 L724.1 587.4 L725.3 587.5 L726.4 587.6 L727.5 587.7 L728.7 587.8 L729.8 587.9 L730.9 588.0 L732.1 588.1 L733.2 588.3 L734.3 588.4 L735.5 588.5 L736.6 588.7 L737.7 588.8 L738.9 589.1 L740.0 589.3 L741.2 589.6 L742.3 589.9 L743.4 590.0 L744.6 589.6 L745.7 589.1 L746.8 588.9 L748.0 588.9 L749.1 589.4 L750.2 590.2 L751.4 591.0 L752.5 591.8 L753.7 592.7 L754.8 593.5 L755.9 594.4 L757.1 595.3 L758.2 596.2 L759.3 596.9 L760.5 597.2 L761.6 597.3 L762.7 597.1 L763.9 596.9 L765.0 596.5 L766.2 596.0 L767.3 595.4 L768.4 594.7 L769.6 593.9 L770.7 593.1 L771.8 592.3 L773.0 591.5 L774.1 590.8 L775.2 590.2 L776.4 589.7 L777.5 589.2 L778.6 588.7 L779.8 588.3 L780.9 588.0 L782.1 587.8 L783.2 587.9 L784.3 588.1 L785.5 588.5 L786.6 589.1 L787.7 589.8 L788.9 590.7 L790.0 591.9 L791.1 593.1 L792.3 594.4 L793.4 595.6 L794.6 596.9 L795.7 598.1 L796.8 599.4 L798.0 600.6 L799.1 601.9 L800.2 603.1 L801.4 604.3 L802.5 605.6 L803.6 606.8 L804.8 608.0 L805.9 609.2 L807.1 610.4 L808.2 611.5 L809.3 612.4 L810.5 613.2 L811.6 614.0 L812.7 614.6 L813.9 615.2 L815.0 615.7 L816.1 616.3 L817.3 616.7 L818.4 617.1 L819.6 617.5 L820.7 617.8 L821.8 618.0 L823.0 618.2 L824.1 618.3 L825.2 618.3 L826.4 618.2 L827.5 618.1 L828.6 618.0 L829.8 617.7 L830.9 617.5 L832.0 617.1 L833.2 616.7 L834.3 616.3 L835.5 615.7 L836.6 615.1 L837.7 614.5 L838.9 613.8 L840.0 613.0 L841.1 612.2 L842.3 611.3 L843.4 610.3 L844.5 609.2 L845.7 608.2 L846.8 607.1 L848.0 606.0 L849.1 604.9 L850.2 603.8 L851.4 602.6 L852.5 601.4 L853.6 600.2 L854.8 598.9 L855.9 597.7 L857.0 596.4 L858.2 595.1 L859.3 593.8 L860.5 592.5 L861.6 591.2 L862.7 589.9 L863.9 588.7 L865.0 587.4 L866.1 586.1 L867.3 584.9 L868.4 583.6 L869.5 582.4 L870.7 581.2 L871.8 580.0 L873.0 578.8 L874.1 577.6 L875.2 576.4 L876.4 575.2 L877.5 574.0 L878.6 572.8 L879.8 571.6 L880.9 570.5 L882.0 569.4 L883.2 568.3 L884.3 567.2 L885.4 566.1 L886.6 565.1 L887.7 564.0 L888.9 563.0 L890.0 562.0 L891.1 561.0 L892.3 560.0 L893.4 559.1 L894.5 558.1 L895.7 557.2 L896.8 556.3 L897.9 555.4 L899.1 554.5 L900.2 553.6 L901.4 552.8 L902.5 552.0 L903.6 551.1 L904.8 550.3 L905.9 549.5"/>
</g>
<line class="t" x1="89.0" y1="660.0" x2="89.0" y2="672.0"/>
<text class="tk" text-anchor="middle" x="89.6" y="709.8">0</text>
<line class="t" x1="225.1" y1="660.0" x2="225.1" y2="672.0"/>
<text class="tk" text-anchor="middle" x="225.7" y="709.8">10</text>
<line class="t" x1="361.3" y1="660.0" x2="361.3" y2="672.0"/>
<text class="tk" text-anchor="middle" x="361.9" y="709.8">20</text>
<line class="t" x1="497.4" y1="660.0" x2="497.4" y2="672.0"/>
<text class="tk" text-anchor="middle" x="498.1" y="709.8">30</text>
<line class="t" x1="633.6" y1="660.0" x2="633.6" y2="672.0"/>
<text class="tk" text-anchor="middle" x="634.2" y="709.8">40</text>
<line class="t" x1="769.8" y1="660.0" x2="769.8" y2="672.0"/>
<text class="tk" text-anchor="middle" x="770.4" y="709.8">50</text>
<line class="t" x1="905.9" y1="660.0" x2="905.9" y2="672.0"/>
<text class="tk" text-anchor="middle" x="906.5" y="709.8">60</text>
<line class="t" x1="77.0" y1="623.1" x2="89.0" y2="623.1"/>
<text class="tk" text-anchor="end" x="66.7" y="636.7">−1</text>
<line class="t" x1="77.0" y1="549.2" x2="89.0" y2="549.2"/>
<text class="tk" text-anchor="end" x="66.7" y="562.8">0</text>
<line class="t" x1="77.0" y1="475.3" x2="89.0" y2="475.3"/>
<text class="tk" text-anchor="end" x="66.7" y="488.9">1</text>
<rect class="sp" x="89.0" y="438.4" width="816.9" height="221.6"/>
<text class="tt" y="419.0"><tspan class="it" x="438.6">t</tspan> <tspan x="463.1">=</tspan> <tspan x="503.9">12</tspan></text>
</g>
<g>
<clipPath id="cp3"><rect x="1036.4" y="438.4" width="816.9" height="221.6"/></clipPath>
<g clip-path="url(#cp3)">
<path class="c" stroke="#d62728" d="M1036.4 549.2 L1037.5 547.8 L1038.7 546.4 L1039.8 545.0 L1040.9 543.6 L1042.1 542.2 L1043.2 540.8 L1044.4 539.5 L1045.5 538.1 L1046.6 536.8 L1047.8 535.5 L1048.9 534.1 L1050.0 532.8 L1051.2 531.5 L1052.3 530.2 L1053.4 529.0 L1054.6 527.7 L1055.7 526.4 L1056.9 525.2 L1058.0 523.9 L1059.1 522.7 L1060.3 521.5 L1061.4 520.3 L1062.5 519.1 L1063.7 517.9 L1064.8 516.8 L1065.9 515.6 L1067.1 514.4 L1068.2 513.3 L1069.3 512.2 L1070.5 511.0 L1071.6 509.9 L1072.8 508.8 L1073.9 507.7 L1075.0 506.6 L1076.2 505.5 L1077.3 504.4 L1078.4 503.4 L1079.6 502.3 L1080.7 501.3 L1081.8 500.2 L1083.0 499.2 L1084.1 498.2 L1085.3 497.2 L1086.4 496.2 L1087.5 495.3 L1088.7 494.3 L1089.8 493.4 L1090.9 492.5 L1092.1 491.5 L1093.2 490.6 L1094.3 489.7 L1095.5 488.9 L1096.6 488.0 L1097.8 487.2 L1098.9 486.4 L1100.0 485.6 L1101.2 484.8 L1102.3 484.1 L1103.4 483.4 L1104.6 482.8 L1105.7 482.1 L1106.8 481.5 L1108.0 481.0 L1109.1 480.4 L1110.3 479.9 L1111.4 479.4 L1112.5 479.0 L1113.7 478.5 L1114.8 478.2 L1115.9 477.8 L1117.1 477.5 L1118.2 477.2 L1119.3 477.0 L1120.5 476.7 L1121.6 476.6 L1122.7 476.4 L1123.9 476.2 L1125.0 476.1 L1126.2 476.0 L1127.3 475.9 L1128.4 475.9 L1129.6 475.8 L1130.7 475.8 L1131.8 475.8 L1133.0 475.8 L1134.1 475.8 L1135.2 475.9 L1136.4 476.0 L1137.5 476.2 L1138.7 476.3 L1139.8 476.6 L1140.9 476.8 L1142.1 477.1 L1143.2 477.4 L1144.3 477.7 L1145.5 478.1 L1146.6 478.6 L1147.7 479.1 L1148.9 479.6 L1150.0 480.2 L1151.2 481.0 L1152.3 481.7 L1153.4 482.6 L1154.6 483.5 L1155.7 484.4 L1156.8 485.3 L1158.0 486.2 L1159.1 487.1 L1160.2 488.0 L1161.4 489.0 L1162.5 489.9 L1163.7 490.9 L1164.8 491.9 L1165.9 492.9 L1167.1 493.9 L1168.2 494.8 L1169.3 495.8 L1170.5 496.8 L1171.6 497.8 L1172.7 498.9 L1173.9 499.8 L1175.0 500.8 L1176.1 501.8 L1177.3 502.8 L1178.4 503.8 L1179.6 504.7 L1180.7 505.6 L1181.8 506.6 L1183.0 507.4 L1184.1 508.3 L1185.2 509.2 L1186.4 510.0 L1187.5 510.9 L1188.6 511.7 L1189.8 512.4 L1190.9 513.1 L1192.1 513.6 L1193.2 514.1 L1194.3 514.6 L1195.5 515.0 L1196.6 515.4 L1197.7 515.6 L1198.9 515.8 L1200.0 515.9 L1201.1 515.9 L1202.3 515.9 L1203.4 515.8 L1204.6 515.6 L1205.7 515.4 L1206.8 515.0 L1208.0 514.4 L1209.1 513.8 L1210.2 513.1 L1211.4 512.3 L1212.5 511.6 L1213.6 510.8 L1214.8 510.0 L1215.9 509.2 L1217.0 508.4 L1218.2 507.6 L1219.3 506.7 L1220.5 505.9 L1221.6 505.0 L1222.7 504.1 L1223.9 503.3 L1225.0 502.4 L1226.1 501.6 L1227.3 500.8 L1228.4 500.0 L1229.5 499.4 L1230.7 498.8 L1231.8 498.2 L1233.0 497.7 L1234.1 497.2 L1235.2 496.8 L1236.4 496.6 L1237.5 496.6 L1238.6 496.6 L1239.8 496.8 L1240.9 497.0 L1242.0 497.4 L1243.2 497.9 L1244.3 498.6 L1245.5 499.3 L1246.6 500.1 L1247.7 500.9 L1248.9 501.6 L1250.0 502.4 L1251.1 503.1 L1252.3 503.8 L1253.4 504.5 L1254.5 505.1 L1255.7 505.7 L1256.8 506.3 L1258.0 506.9 L1259.1 507.3 L1260.2 507.6 L1261.4 507.7 L1262.5 507.5 L1263.6 507.1 L1264.8 506.7 L1265.9 506.3 L1267.0 505.9 L1268.2 505.5 L1269.3 505.0 L1270.4 504.4 L1271.6 503.9 L1272.7 503.4 L1273.9 503.0 L1275.0 502.7 L1276.1 502.7 L1277.3 502.8 L1278.4 503.1 L1279.5 503.3 L1280.7 503.7 L1281.8 504.0 L1282.9 504.4 L1284.1 504.6 L1285.2 504.8 L1286.4 504.8 L1287.5 504.9 L1288.6 504.9 L1289.8 504.9 L1290.9 504.9 L1292.0 504.8 L1293.2 504.8 L1294.3 504.8 L1295.4 504.8 L1296.6 504.7 L1297.7 504.6 L1298.9 504.6 L1300.0 504.5 L1301.1 504.5 L1302.3 504.5 L1303.4 504.4 L1304.5 504.5 L1305.7 504.5 L1306.8 504.5 L1307.9 504.5 L1309.1 504.5 L1310.2 504.5 L1311.4 504.6 L1312.5 504.6 L1313.6 504.6 L1314.8 504.6 L1315.9 504.6 L1317.0 504.6 L1318.2 504.7 L1319.3 504.7 L1320.4 504.7 L1321.6 504.7 L1322.7 504.7 L1323.8 504.7 L1325.0 504.8 L1326.1 504.8 L1327.3 504.8 L1328.4 504.8 L1329.5 504.8 L1330.7 504.8 L1331.8 504.9 L1332.9 504.9 L1334.1 504.9 L1335.2 504.9 L1336.3 504.9 L1337.5 504.9 L1338.6 504.9 L1339.8 505.0 L1340.9 505.0 L1342.0 505.0 L1343.2 505.0 L1344.3 505.0 L1345.4 505.0 L1346.6 505.1 L1347.7 505.1 L1348.8 505.1 L1350.0 505.1 L1351.1 505.1 L1352.3 505.1 L1353.4 505.2 L1354.5 505.2 L1355.7 505.2 L1356.8 505.2 L1357.9 505.2 L1359.1 505.2 L1360.2 505.3 L1361.3 505.3 L1362.5 505.3 L1363.6 505.3 L1364.8 505.3 L1365.9 505.3 L1367.0 505.4 L1368.2 505.4 L1369.3 505.4 L1370.4 505.4 L1371.6 505.4 L1372.7 505.4 L1373.8 505.4 L1375.0 505.5 L1376.1 505.5 L1377.2 505.5 L1378.4 505.5 L1379.5 505.5 L1380.7 505.5 L1381.8 505.6 L1382.9 505.6 L1384.1 505.6 L1385.2 505.6 L1386.3 505.6 L1387.5 505.6 L1388.6 505.7 L1389.7 505.7 L1390.9 505.7 L1392.0 505.7 L1393.2 505.7 L1394.3 505.7 L1395.4 505.8 L1396.6 505.8 L1397.7 505.8 L1398.8 505.8 L1400.0 505.8 L1401.1 505.8 L1402.2 505.9 L1403.4 505.9 L1404.5 505.9 L1405.7 505.9 L1406.8 505.9 L1407.9 505.9 L1409.1 505.9 L1410.2 506.0 L1411.3 506.0 L1412.5 506.0 L1413.6 506.0 L1414.7 506.0 L1415.9 506.0 L1417.0 506.1 L1418.2 506.1 L1419.3 506.1 L1420.4 506.1 L1421.6 506.1 L1422.7 506.1 L1423.8 506.2 L1425.0 506.2 L1426.1 506.2 L1427.2 506.2 L1428.4 506.2 L1429.5 506.2 L1430.6 506.3 L1431.8 506.3 L1432.9 506.3 L1434.1 506.3 L1435.2 506.3 L1436.3 506.3 L1437.5 506.4 L1438.6 506.4 L1439.7 506.4 L1440.9 506.4 L1442.0 506.4 L1443.1 506.4 L1444.3 506.4 L1445.4 506.5 L1446.6 506.5 L1447.7 506.5 L1448.8 506.5 L1450.0 506.5 L1451.1 506.5 L1452.2 506.6 L1453.4 506.6 L1454.5 506.6 L1455.6 506.6 L1456.8 506.6 L1457.9 506.6 L1459.1 506.7 L1460.2 506.7 L1461.3 506.7 L1462.5 506.7 L1463.6 506.7 L1464.7 506.7 L1465.9 506.8 L1467.0 506.8 L1468.1 506.8 L1469.3 506.8 L1470.4 506.8 L1471.5 506.8 L1472.7 506.9 L1473.8 506.9 L1475.0 506.9 L1476.1 506.9 L1477.2 506.9 L1478.4 506.9 L1479.5 506.9 L1480.6 507.0 L1481.8 507.0 L1482.9 507.0 L1484.0 507.0 L1485.2 507.0 L1486.3 507.0 L1487.5 507.1 L1488.6 507.1 L1489.7 507.1 L1490.9 507.1 L1492.0 507.1 L1493.1 507.1 L1494.3 507.2 L1495.4 507.2 L1496.5 507.2 L1497.7 507.2 L1498.8 507.2 L1500.0 507.2 L1501.1 507.3 L1502.2 507.3 L1503.4 507.3 L1504.5 507.3 L1505.6 507.3 L1506.8 507.3 L1507.9 507.4 L1509.0 507.4 L1510.2 507.4 L1511.3 507.4 L1512.5 507.4 L1513.6 507.4 L1514.7 507.4 L1515.9 507.5 L1517.0 507.5 L1518.1 507.5 L1519.3 507.5 L1520.4 507.5 L1521.5 507.5 L1522.7 507.6 L1523.8 507.6 L1524.9 507.6 L1526.1 507.6 L1527.2 507.6 L1528.4 507.6 L1529.5 507.7 L1530.6 507.7 L1531.8 507.7 L1532.9 507.7 L1534.0 507.7 L1535.2 507.7 L1536.3 507.8 L1537.4 507.8 L1538.6 507.8 L1539.7 507.8 L1540.9 507.8 L1542.0 507.8 L1543.1 507.9 L1544.3 507.9 L1545.4 507.9 L1546.5 507.9 L1547.7 507.9 L1548.8 507.9 L1549.9 507.9 L1551.1 508.0 L1552.2 508.0 L1553.4 508.0 L1554.5 508.0 L1555.6 508.0 L1556.8 508.0 L1557.9 508.1 L1559.0 508.1 L1560.2 508.1 L1561.3 508.1 L1562.4 508.1 L1563.6 508.1 L1564.7 508.2 L1565.9 508.2 L1567.0 508.2 L1568.1 508.2 L1569.3 508.2 L1570.4 508.2 L1571.5 508.3 L1572.7 508.3 L1573.8 508.3 L1574.9 508.3 L1576.1 508.3 L1577.2 508.3 L1578.3 508.4 L1579.5 508.4 L1580.6 508.4 L1581.8 508.4 L1582.9 508.4 L1584.0 508.4 L1585.2 508.4 L1586.3 508.5 L1587.4 508.5 L1588.6 508.5 L1589.7 508.5 L1590.8 508.5 L1592.0 508.5 L1593.1 508.6 L1594.3 508.6 L1595.4 508.6 L1596.5 508.6 L1597.7 508.6 L1598.8 508.6 L1599.9 508.6 L1601.1 508.6 L1602.2 508.7 L1603.3 508.7 L1604.5 508.7 L1605.6 508.7 L1606.8 508.7 L1607.9 508.7 L1609.0 508.4 L1610.2 507.8 L1611.3 507.2 L1612.4 506.9 L1613.6 506.7 L1614.7 506.9 L1615.8 507.6 L1617.0 508.3 L1618.1 509.0 L1619.3 509.6 L1620.4 510.3 L1621.5 511.0 L1622.7 511.7 L1623.8 512.4 L1624.9 512.9 L1626.1 513.2 L1627.2 513.2 L1628.3 513.1 L1629.5 512.9 L1630.6 512.6 L1631.7 512.1 L1632.9 511.5 L1634.0 510.7 L1635.2 509.9 L1636.3 509.0 L1637.4 508.1 L1638.6 507.3 L1639.7 506.5 L1640.8 505.7 L1642.0 504.9 L1643.1 504.2 L1644.2 503.5 L1645.4 502.9 L1646.5 502.4 L1647.7 502.0 L1648.8 501.8 L1649.9 501.7 L1651.1 501.7 L1652.2 501.7 L1653.3 501.8 L1654.5 502.0 L1655.6 502.3 L1656.7 502.8 L1657.9 503.5 L1659.0 504.4 L1660.2 505.3 L1661.3 506.2 L1662.4 507.1 L1663.6 508.0 L1664.7 509.0 L1665.8 509.8 L1667.0 510.7 L1668.1 511.6 L1669.2 512.4 L1670.4 513.3 L1671.5 514.1 L1672.7 515.0 L1673.8 515.8 L1674.9 516.7 L1676.1 517.4 L1677.2 518.1 L1678.3 518.7 L1679.5 519.3 L1680.6 519.8 L1681.7 520.2 L1682.9 520.6 L1684.0 520.9 L1685.1 521.2 L1686.3 521.4 L1687.4 521.5 L1688.6 521.6 L1689.7 521.6 L1690.8 521.6 L1692.0 521.5 L1693.1 521.4 L1694.2 521.2 L1695.4 520.9 L1696.5 520.5 L1697.6 520.1 L1698.8 519.6 L1699.9 519.0 L1701.1 518.4 L1702.2 517.7 L1703.3 517.0 L1704.5 516.2 L1705.6 515.3 L1706.7 514.4 L1707.9 513.4 L1709.0 512.4 L1710.1 511.4 L1711.3 510.4 L1712.4 509.4 L1713.6 508.4 L1714.7 507.5 L1715.8 506.5 L1717.0 505.6 L1718.1 504.7 L1719.2 503.8 L1720.4 502.9 L1721.5 502.0 L1722.6 501.2 L1723.8 500.3 L1724.9 499.5 L1726.0 498.6 L1727.2 497.8 L1728.3 497.0 L1729.5 496.3 L1730.6 495.5 L1731.7 494.9 L1732.9 494.2 L1734.0 493.6 L1735.1 493.1 L1736.3 492.5 L1737.4 492.1 L1738.5 491.6 L1739.7 491.2 L1740.8 490.9 L1742.0 490.5 L1743.1 490.2 L1744.2 490.0 L1745.4 489.8 L1746.5 489.5 L1747.6 489.4 L1748.8 489.2 L1749.9 489.1 L1751.0 489.0 L1752.2 488.9 L1753.3 488.9 L1754.5 488.9 L1755.6 488.9 L1756.7 488.9 L1757.9 489.0 L1759.0 489.1 L1760.1 489.2 L1761.3 489.4 L1762.4 489.6 L1763.5 489.8 L1764.7 490.0 L1765.8 490.3 L1767.0 490.6 L1768.1 491.0 L1769.2 491.3 L1770.4 491.7 L1771.5 492.2 L1772.6 492.6 L1773.8 493.1 L1774.9 493.7 L1776.0 494.2 L1777.2 494.8 L1778.3 495.4 L1779.4 496.0 L1780.6 496.6 L1781.7 497.3 L1782.9 497.9 L1784.0 498.6 L1785.1 499.3 L1786.3 500.0 L1787.4 500.8 L1788.5 501.6 L1789.7 502.4 L1790.8 503.2 L1791.9 504.0 L1793.1 504.9 L1794.2 505.7 L1795.4 506.5 L1796.5 507.4 L1797.6 508.2 L1798.8 509.1 L1799.9 510.0 L1801.0 510.8 L1802.2 511.7 L1803.3 512.6 L1804.4 513.5 L1805.6 514.4 L1806.7 515.3 L1807.9 516.2 L1809.0 517.1 L1810.1 518.0 L1811.3 518.9 L1812.4 519.8 L1813.5 520.8 L1814.7 521.7 L1815.8 522.6 L1816.9 523.5 L1818.1 524.4 L1819.2 525.3 L1820.4 526.2 L1821.5 527.1 L1822.6 527.9 L1823.8 528.8 L1824.9 529.7 L1826.0 530.5 L1827.2 531.4 L1828.3 532.3 L1829.4 533.1 L1830.6 533.9 L1831.7 534.8 L1832.8 535.6 L1834.0 536.4 L1835.1 537.3 L1836.3 538.1 L1837.4 538.9 L1838.5 539.7 L1839.7 540.5 L1840.8 541.3 L1841.9 542.1 L1843.1 542.8 L1844.2 543.6 L1845.3 544.4 L1846.5 545.1 L1847.6 545.9 L1848.8 546.6 L1849.9 547.3 L1851.0 548.1 L1852.2 548.8 L1853.3 549.5"/>
<path class="c" stroke="#1f77b4" d="M1036.4 549.2 L1037.5 547.6 L1038.7 546.0 L1039.8 544.5 L1040.9 542.9 L1042.1 541.3 L1043.2 539.8 L1044.4 538.2 L1045.5 536.7 L1046.6 535.2 L1047.8 533.7 L1048.9 532.2 L1050.0 530.7 L1051.2 529.3 L1052.3 527.8 L1053.4 526.4 L1054.6 524.9 L1055.7 523.5 L1056.9 522.1 L1058.0 520.7 L1059.1 519.3 L1060.3 517.9 L1061.4 516.6 L1062.5 515.2 L1063.7 513.9 L1064.8 512.5 L1065.9 511.2 L1067.1 509.9 L1068.2 508.6 L1069.3 507.3 L1070.5 506.0 L1071.6 504.8 L1072.8 503.5 L1073.9 502.2 L1075.0 501.0 L1076.2 499.7 L1077.3 498.5 L1078.4 497.3 L1079.6 496.1 L1080.7 494.9 L1081.8 493.7 L1083.0 492.5 L1084.1 491.4 L1085.3 490.2 L1086.4 489.1 L1087.5 488.0 L1088.7 486.8 L1089.8 485.7 L1090.9 484.6 L1092.1 483.6 L1093.2 482.5 L1094.3 481.4 L1095.5 480.4 L1096.6 479.3 L1097.8 478.3 L1098.9 477.3 L1100.0 476.4 L1101.2 475.4 L1102.3 474.5 L1103.4 473.6 L1104.6 472.7 L1105.7 471.8 L1106.8 470.9 L1108.0 470.1 L1109.1 469.3 L1110.3 468.5 L1111.4 467.7 L1112.5 467.0 L1113.7 466.2 L1114.8 465.5 L1115.9 464.9 L1117.1 464.2 L1118.2 463.6 L1119.3 463.0 L1120.5 462.4 L1121.6 461.8 L1122.7 461.3 L1123.9 460.7 L1125.0 460.2 L1126.2 459.8 L1127.3 459.3 L1128.4 458.9 L1129.6 458.5 L1130.7 458.1 L1131.8 457.8 L1133.0 457.5 L1134.1 457.2 L1135.2 457.0 L1136.4 456.8 L1137.5 456.6 L1138.7 456.5 L1139.8 456.4 L1140.9 456.4 L1142.1 456.3 L1143.2 456.3 L1144.3 456.4 L1145.5 456.5 L1146.6 456.6 L1147.7 456.8 L1148.9 457.0 L1150.0 457.3 L1151.2 457.6 L1152.3 458.0 L1153.4 458.4 L1154.6 458.8 L1155.7 459.3 L1156.8 459.8 L1158.0 460.4 L1159.1 461.0 L1160.2 461.6 L1161.4 462.4 L1162.5 463.1 L1163.7 463.9 L1164.8 464.7 L1165.9 465.5 L1167.1 466.3 L1168.2 467.2 L1169.3 468.0 L1170.5 468.9 L1171.6 469.8 L1172.7 470.7 L1173.9 471.7 L1175.0 472.6 L1176.1 473.6 L1177.3 474.6 L1178.4 475.6 L1179.6 476.6 L1180.7 477.6 L1181.8 478.6 L1183.0 479.6 L1184.1 480.6 L1185.2 481.6 L1186.4 482.6 L1187.5 483.6 L1188.6 484.5 L1189.8 485.4 L1190.9 486.3 L1192.1 487.1 L1193.2 487.9 L1194.3 488.7 L1195.5 489.5 L1196.6 490.2 L1197.7 490.8 L1198.9 491.3 L1200.0 491.7 L1201.1 492.1 L1202.3 492.4 L1203.4 492.7 L1204.6 493.0 L1205.7 493.2 L1206.8 493.4 L1208.0 493.5 L1209.1 493.5 L1210.2 493.5 L1211.4 493.4 L1212.5 493.3 L1213.6 493.1 L1214.8 492.8 L1215.9 492.5 L1217.0 492.0 L1218.2 491.4 L1219.3 490.8 L1220.5 490.1 L1221.6 489.5 L1222.7 488.8 L1223.9 488.1 L1225.0 487.5 L1226.1 486.8 L1227.3 486.2 L1228.4 485.7 L1229.5 485.1 L1230.7 484.6 L1231.8 484.0 L1233.0 483.5 L1234.1 483.0 L1235.2 482.5 L1236.4 482.2 L1237.5 482.0 L1238.6 481.9 L1239.8 481.9 L1240.9 482.1 L1242.0 482.3 L1243.2 482.7 L1244.3 483.4 L1245.5 484.2 L1246.6 485.1 L1247.7 486.0 L1248.9 486.9 L1250.0 487.8 L1251.1 488.7 L1252.3 489.6 L1253.4 490.5 L1254.5 491.4 L1255.7 492.3 L1256.8 493.2 L1258.0 494.1 L1259.1 495.0 L1260.2 495.9 L1261.4 496.6 L1262.5 497.1 L1263.6 497.3 L1264.8 497.4 L1265.9 497.3 L1267.0 497.1 L1268.2 496.8 L1269.3 496.5 L1270.4 496.2 L1271.6 496.0 L1272.7 495.8 L1273.9 495.8 L1275.0 495.8 L1276.1 495.9 L1277.3 496.2 L1278.4 496.7 L1279.5 497.4 L1280.7 498.1 L1281.8 498.8 L1282.9 499.2 L1284.1 499.6 L1285.2 500.0 L1286.4 500.4 L1287.5 500.9 L1288.6 501.3 L1289.8 501.7 L1290.9 502.1 L1292.0 502.5 L1293.2 503.0 L1294.3 503.4 L1295.4 503.8 L1296.6 504.3 L1297.7 504.7 L1298.9 505.1 L1300.0 505.5 L1301.1 506.0 L1302.3 506.4 L1303.4 506.8 L1304.5 507.2 L1305.7 507.6 L1306.8 508.0 L1307.9 508.4 L1309.1 508.8 L1310.2 509.2 L1311.4 509.6 L1312.5 510.1 L1313.6 510.5 L1314.8 510.9 L1315.9 511.3 L1317.0 511.7 L1318.2 512.0 L1319.3 512.4 L1320.4 512.8 L1321.6 513.2 L1322.7 513.6 L1323.8 514.0 L1325.0 514.4 L1326.1 514.8 L1327.3 515.2 L1328.4 515.7 L1329.5 516.1 L1330.7 516.5 L1331.8 516.9 L1332.9 517.3 L1334.1 517.7 L1335.2 518.1 L1336.3 518.5 L1337.5 518.9 L1338.6 519.3 L1339.8 519.7 L1340.9 520.1 L1342.0 520.5 L1343.2 520.9 L1344.3 521.4 L1345.4 521.8 L1346.6 522.2 L1347.7 522.6 L1348.8 523.0 L1350.0 523.4 L1351.1 523.8 L1352.3 524.2 L1353.4 524.6 L1354.5 525.0 L1355.7 525.4 L1356.8 525.8 L1357.9 526.2 L1359.1 526.7 L1360.2 527.1 L1361.3 527.5 L1362.5 527.9 L1363.6 528.3 L1364.8 528.7 L1365.9 529.1 L1367.0 529.5 L1368.2 529.9 L1369.3 530.3 L1370.4 530.7 L1371.6 531.1 L1372.7 531.6 L1373.8 532.0 L1375.0 532.4 L1376.1 532.8 L1377.2 533.2 L1378.4 533.6 L1379.5 534.0 L1380.7 534.4 L1381.8 534.8 L1382.9 535.2 L1384.1 535.6 L1385.2 536.0 L1386.3 536.5 L1387.5 536.9 L1388.6 537.3 L1389.7 537.7 L1390.9 538.1 L1392.0 538.5 L1393.2 538.9 L1394.3 539.3 L1395.4 539.7 L1396.6 540.1 L1397.7 540.5 L1398.8 540.9 L1400.0 541.3 L1401.1 541.7 L1402.2 542.1 L1403.4 542.5 L1404.5 542.9 L1405.7 543.3 L1406.8 543.7 L1407.9 544.1 L1409.1 544.6 L1410.2 545.0 L1411.3 545.4 L1412.5 545.8 L1413.6 546.2 L1414.7 546.6 L1415.9 547.0 L1417.0 547.4 L1418.2 547.8 L1419.3 548.2 L1420.4 548.6 L1421.6 549.0 L1422.7 549.4 L1423.8 549.8 L1425.0 550.2 L1426.1 550.6 L1427.2 551.0 L1428.4 551.3 L1429.5 551.7 L1430.6 552.1 L1431.8 552.5 L1432.9 552.9 L1434.1 553.3 L1435.2 553.7 L1436.3 554.1 L1437.5 554.5 L1438.6 554.9 L1439.7 555.3 L1440.9 555.7 L1442.0 556.1 L1443.1 556.4 L1444.3 556.8 L1445.4 557.2 L1446.6 557.6 L1447.7 558.0 L1448.8 558.4 L1450.0 558.8 L1451.1 559.2 L1452.2 559.6 L1453.4 559.9 L1454.5 560.3 L1455.6 560.7 L1456.8 561.1 L1457.9 561.5 L1459.1 561.8 L1460.2 562.2 L1461.3 562.6 L1462.5 563.0 L1463.6 563.4 L1464.7 563.7 L1465.9 564.1 L1467.0 564.5 L1468.1 564.9 L1469.3 565.2 L1470.4 565.6 L1471.5 566.0 L1472.7 566.4 L1473.8 566.7 L1475.0 567.1 L1476.1 567.5 L1477.2 567.9 L1478.4 568.2 L1479.5 568.6 L1480.6 569.0 L1481.8 569.3 L1482.9 569.7 L1484.0 570.1 L1485.2 570.4 L1486.3 570.8 L1487.5 571.1 L1488.6 571.5 L1489.7 571.9 L1490.9 572.2 L1492.0 572.6 L1493.1 572.9 L1494.3 573.3 L1495.4 573.6 L1496.5 574.0 L1497.7 574.4 L1498.8 574.7 L1500.0 575.1 L1501.1 575.4 L1502.2 575.8 L1503.4 576.1 L1504.5 576.5 L1505.6 576.8 L1506.8 577.2 L1507.9 577.5 L1509.0 577.9 L1510.2 578.2 L1511.3 578.5 L1512.5 578.9 L1513.6 579.2 L1514.7 579.6 L1515.9 579.9 L1517.0 580.2 L1518.1 580.6 L1519.3 580.9 L1520.4 581.2 L1521.5 581.6 L1522.7 581.9 L1523.8 582.2 L1524.9 582.6 L1526.1 582.9 L1527.2 583.2 L1528.4 583.5 L1529.5 583.9 L1530.6 584.2 L1531.8 584.5 L1532.9 584.8 L1534.0 585.2 L1535.2 585.5 L1536.3 585.8 L1537.4 586.1 L1538.6 586.4 L1539.7 586.7 L1540.9 587.1 L1542.0 587.4 L1543.1 587.7 L1544.3 588.0 L1545.4 588.3 L1546.5 588.6 L1547.7 588.9 L1548.8 589.2 L1549.9 589.5 L1551.1 589.8 L1552.2 590.1 L1553.4 590.4 L1554.5 590.7 L1555.6 591.0 L1556.8 591.3 L1557.9 591.6 L1559.0 591.9 L1560.2 592.2 L1561.3 592.5 L1562.4 592.8 L1563.6 593.1 L1564.7 593.4 L1565.9 593.7 L1567.0 593.9 L1568.1 594.2 L1569.3 594.5 L1570.4 594.8 L1571.5 595.1 L1572.7 595.3 L1573.8 595.6 L1574.9 595.9 L1576.1 596.1 L1577.2 596.4 L1578.3 596.7 L1579.5 596.9 L1580.6 597.2 L1581.8 597.5 L1582.9 597.7 L1584.0 598.0 L1585.2 598.2 L1586.3 598.5 L1587.4 598.8 L1588.6 599.0 L1589.7 599.3 L1590.8 599.5 L1592.0 599.7 L1593.1 599.9 L1594.3 600.1 L1595.4 600.3 L1596.5 600.5 L1597.7 600.6 L1598.8 600.8 L1599.9 601.0 L1601.1 601.1 L1602.2 601.3 L1603.3 601.4 L1604.5 601.5 L1605.6 601.4 L1606.8 601.2 L1607.9 601.1 L1609.0 601.1 L1610.2 601.3 L1611.3 601.8 L1612.4 602.7 L1613.6 603.7 L1614.7 604.6 L1615.8 605.3 L1617.0 605.9 L1618.1 606.2 L1619.3 605.7 L1620.4 604.6 L1621.5 603.4 L1622.7 602.5 L1623.8 601.9 L1624.9 601.3 L1626.1 600.8 L1627.2 600.5 L1628.3 600.5 L1629.5 600.6 L1630.6 600.8 L1631.7 601.2 L1632.9 601.8 L1634.0 602.5 L1635.2 603.2 L1636.3 604.0 L1637.4 604.8 L1638.6 605.6 L1639.7 606.3 L1640.8 607.0 L1642.0 607.7 L1643.1 608.3 L1644.2 608.9 L1645.4 609.5 L1646.5 610.0 L1647.7 610.6 L1648.8 611.0 L1649.9 611.3 L1651.1 611.5 L1652.2 611.4 L1653.3 611.0 L1654.5 610.7 L1655.6 610.2 L1656.7 609.8 L1657.9 609.3 L1659.0 608.7 L1660.2 608.2 L1661.3 607.6 L1662.4 607.0 L1663.6 606.4 L1664.7 605.9 L1665.8 605.3 L1667.0 604.8 L1668.1 604.3 L1669.2 603.8 L1670.4 603.4 L1671.5 603.0 L1672.7 602.7 L1673.8 602.3 L1674.9 602.0 L1676.1 601.7 L1677.2 601.6 L1678.3 601.5 L1679.5 601.5 L1680.6 601.7 L1681.7 601.9 L1682.9 602.2 L1684.0 602.5 L1685.1 602.9 L1686.3 603.4 L1687.4 603.9 L1688.6 604.5 L1689.7 605.1 L1690.8 605.6 L1692.0 606.2 L1693.1 606.8 L1694.2 607.3 L1695.4 607.9 L1696.5 608.5 L1697.6 609.0 L1698.8 609.6 L1699.9 610.2 L1701.1 610.7 L1702.2 611.3 L1703.3 611.9 L1704.5 612.4 L1705.6 613.0 L1706.7 613.6 L1707.9 614.1 L1709.0 614.5 L1710.1 614.9 L1711.3 615.2 L1712.4 615.6 L1713.6 615.8 L1714.7 616.1 L1715.8 616.4 L1717.0 616.6 L1718.1 616.7 L1719.2 616.8 L1720.4 616.9 L1721.5 617.0 L1722.6 617.0 L1723.8 617.0 L1724.9 616.9 L1726.0 616.9 L1727.2 616.8 L1728.3 616.7 L1729.5 616.5 L1730.6 616.3 L1731.7 616.0 L1732.9 615.7 L1734.0 615.3 L1735.1 614.9 L1736.3 614.5 L1737.4 614.1 L1738.5 613.7 L1739.7 613.2 L1740.8 612.6 L1742.0 612.1 L1743.1 611.4 L1744.2 610.8 L1745.4 610.2 L1746.5 609.6 L1747.6 609.0 L1748.8 608.3 L1749.9 607.7 L1751.0 607.1 L1752.2 606.4 L1753.3 605.7 L1754.5 605.1 L1755.6 604.4 L1756.7 603.7 L1757.9 603.0 L1759.0 602.4 L1760.1 601.7 L1761.3 601.0 L1762.4 600.3 L1763.5 599.6 L1764.7 598.9 L1765.8 598.3 L1767.0 597.6 L1768.1 596.9 L1769.2 596.2 L1770.4 595.5 L1771.5 594.9 L1772.6 594.2 L1773.8 593.5 L1774.9 592.8 L1776.0 592.1 L1777.2 591.4 L1778.3 590.8 L1779.4 590.1 L1780.6 589.4 L1781.7 588.7 L1782.9 588.0 L1784.0 587.4 L1785.1 586.7 L1786.3 586.0 L1787.4 585.3 L1788.5 584.7 L1789.7 584.1 L1790.8 583.6 L1791.9 583.0 L1793.1 582.5 L1794.2 582.0 L1795.4 581.5 L1796.5 581.1 L1797.6 580.6 L1798.8 580.2 L1799.9 579.8 L1801.0 579.3 L1802.2 578.9 L1803.3 578.5 L1804.4 578.1 L1805.6 577.7 L1806.7 577.4 L1807.9 577.0 L1809.0 576.6 L1810.1 576.3 L1811.3 576.0 L1812.4 575.7 L1813.5 575.4 L1814.7 575.1 L1815.8 574.8 L1816.9 574.5 L1818.1 574.3 L1819.2 574.1 L1820.4 573.8 L1821.5 573.6 L1822.6 573.4 L1823.8 573.2 L1824.9 572.9 L1826.0 572.7 L1827.2 572.6 L1828.3 572.4 L1829.4 572.2 L1830.6 572.0 L1831.7 571.9 L1832.8 571.7 L1834.0 571.5 L1835.1 571.4 L1836.3 571.2 L1837.4 571.1 L1838.5 571.0 L1839.7 570.8 L1840.8 570.7 L1841.9 570.6 L1843.1 570.4 L1844.2 570.3 L1845.3 570.2 L1846.5 570.1 L1847.6 569.9 L1848.8 569.8 L1849.9 569.7 L1851.0 569.6 L1852.2 569.5 L1853.3 569.4"/>
<path class="c" stroke="#000000" d="M1036.4 549.2 L1037.5 547.6 L1038.7 546.0 L1039.8 544.5 L1040.9 542.9 L1042.1 541.3 L1043.2 539.8 L1044.4 538.2 L1045.5 536.7 L1046.6 535.2 L1047.8 533.7 L1048.9 532.2 L1050.0 530.7 L1051.2 529.3 L1052.3 527.8 L1053.4 526.4 L1054.6 524.9 L1055.7 523.5 L1056.9 522.1 L1058.0 520.7 L1059.1 519.3 L1060.3 517.9 L1061.4 516.6 L1062.5 515.2 L1063.7 513.9 L1064.8 512.5 L1065.9 511.2 L1067.1 509.9 L1068.2 508.6 L1069.3 507.3 L1070.5 506.0 L1071.6 504.8 L1072.8 503.5 L1073.9 502.2 L1075.0 501.0 L1076.2 499.7 L1077.3 498.5 L1078.4 497.3 L1079.6 496.1 L1080.7 494.9 L1081.8 493.7 L1083.0 492.5 L1084.1 491.4 L1085.3 490.2 L1086.4 489.1 L1087.5 488.0 L1088.7 486.8 L1089.8 485.7 L1090.9 484.6 L1092.1 483.6 L1093.2 482.5 L1094.3 481.4 L1095.5 480.4 L1096.6 479.3 L1097.8 478.3 L1098.9 477.3 L1100.0 476.4 L1101.2 475.4 L1102.3 474.5 L1103.4 473.6 L1104.6 472.7 L1105.7 471.8 L1106.8 470.9 L1108.0 470.1 L1109.1 469.3 L1110.3 468.5 L1111.4 467.7 L1112.5 467.0 L1113.7 466.2 L1114.8 465.5 L1115.9 464.9 L1117.1 464.2 L1118.2 463.6 L1119.3 463.0 L1120.5 462.4 L1121.6 461.8 L1122.7 461.3 L1123.9 460.7 L1125.0 460.2 L1126.2 459.8 L1127.3 459.3 L1128.4 458.9 L1129.6 458.5 L1130.7 458.1 L1131.8 457.8 L1133.0 457.5 L1134.1 457.2 L1135.2 457.0 L1136.4 456.8 L1137.5 456.6 L1138.7 456.5 L1139.8 456.4 L1140.9 456.4 L1142.1 456.3 L1143.2 456.3 L1144.3 456.4 L1145.5 456.5 L1146.6 456.6 L1147.7 456.8 L1148.9 457.0 L1150.0 457.3 L1151.2 457.6 L1152.3 458.0 L1153.4 458.4 L1154.6 458.8 L1155.7 459.3 L1156.8 459.8 L1158.0 460.4 L1159.1 461.0 L1160.2 461.6 L1161.4 462.4 L1162.5 463.1 L1163.7 463.9 L1164.8 464.7 L1165.9 465.5 L1167.1 466.3 L1168.2 467.2 L1169.3 468.0 L1170.5 468.9 L1171.6 469.8 L1172.7 470.7 L1173.9 471.7 L1175.0 472.6 L1176.1 473.6 L1177.3 474.6 L1178.4 475.6 L1179.6 476.6 L1180.7 477.6 L1181.8 478.6 L1183.0 479.6 L1184.1 480.6 L1185.2 481.6 L1186.4 482.6 L1187.5 483.6 L1188.6 484.5 L1189.8 485.4 L1190.9 486.3 L1192.1 487.1 L1193.2 487.9 L1194.3 488.7 L1195.5 489.5 L1196.6 490.2 L1197.7 490.8 L1198.9 491.3 L1200.0 491.7 L1201.1 492.1 L1202.3 492.4 L1203.4 492.7 L1204.6 493.0 L1205.7 493.2 L1206.8 493.4 L1208.0 493.5 L1209.1 493.5 L1210.2 493.5 L1211.4 493.4 L1212.5 493.3 L1213.6 493.1 L1214.8 492.9 L1215.9 492.5 L1217.0 492.1 L1218.2 491.6 L1219.3 491.1 L1220.5 490.6 L1221.6 490.1 L1222.7 489.6 L1223.9 489.1 L1225.0 488.5 L1226.1 488.0 L1227.3 487.5 L1228.4 487.0 L1229.5 486.5 L1230.7 485.9 L1231.8 485.4 L1233.0 484.9 L1234.1 484.4 L1235.2 483.9 L1236.4 483.6 L1237.5 483.5 L1238.6 483.4 L1239.8 483.5 L1240.9 483.6 L1242.0 483.8 L1243.2 484.2 L1244.3 484.8 L1245.5 485.6 L1246.6 486.4 L1247.7 487.2 L1248.9 488.1 L1250.0 489.0 L1251.1 489.9 L1252.3 490.7 L1253.4 491.6 L1254.5 492.5 L1255.7 493.4 L1256.8 494.4 L1258.0 495.3 L1259.1 496.2 L1260.2 497.1 L1261.4 497.9 L1262.5 498.5 L1263.6 498.8 L1264.8 498.9 L1265.9 498.9 L1267.0 498.8 L1268.2 498.7 L1269.3 498.6 L1270.4 498.5 L1271.6 498.5 L1272.7 498.4 L1273.9 498.3 L1275.0 498.3 L1276.1 498.5 L1277.3 498.8 L1278.4 499.3 L1279.5 500.1 L1280.7 500.8 L1281.8 501.5 L1282.9 502.0 L1284.1 502.6 L1285.2 503.1 L1286.4 503.6 L1287.5 504.2 L1288.6 504.7 L1289.8 505.2 L1290.9 505.6 L1292.0 506.1 L1293.2 506.5 L1294.3 506.9 L1295.4 507.4 L1296.6 507.8 L1297.7 508.2 L1298.9 508.6 L1300.0 509.0 L1301.1 509.4 L1302.3 509.8 L1303.4 510.3 L1304.5 510.8 L1305.7 511.3 L1306.8 511.8 L1307.9 512.3 L1309.1 512.8 L1310.2 513.3 L1311.4 513.8 L1312.5 514.3 L1313.6 514.8 L1314.8 515.3 L1315.9 515.8 L1317.0 516.3 L1318.2 516.8 L1319.3 517.3 L1320.4 517.8 L1321.6 518.3 L1322.7 518.8 L1323.8 519.3 L1325.0 519.8 L1326.1 520.3 L1327.3 520.8 L1328.4 521.3 L1329.5 521.8 L1330.7 522.3 L1331.8 522.8 L1332.9 523.3 L1334.1 523.8 L1335.2 524.3 L1336.3 524.8 L1337.5 525.3 L1338.6 525.8 L1339.8 526.3 L1340.9 526.8 L1342.0 527.3 L1343.2 527.8 L1344.3 528.3 L1345.4 528.8 L1346.6 529.3 L1347.7 529.8 L1348.8 530.3 L1350.0 530.8 L1351.1 531.3 L1352.3 531.8 L1353.4 532.3 L1354.5 532.8 L1355.7 533.3 L1356.8 533.8 L1357.9 534.3 L1359.1 534.7 L1360.2 535.2 L1361.3 535.7 L1362.5 536.2 L1363.6 536.7 L1364.8 537.2 L1365.9 537.7 L1367.0 538.2 L1368.2 538.7 L1369.3 539.2 L1370.4 539.7 L1371.6 540.1 L1372.7 540.6 L1373.8 541.1 L1375.0 541.6 L1376.1 542.1 L1377.2 542.6 L1378.4 543.0 L1379.5 543.5 L1380.7 544.0 L1381.8 544.5 L1382.9 545.0 L1384.1 545.4 L1385.2 545.9 L1386.3 546.4 L1387.5 546.9 L1388.6 547.4 L1389.7 547.8 L1390.9 548.3 L1392.0 548.8 L1393.2 549.3 L1394.3 549.7 L1395.4 550.2 L1396.6 550.7 L1397.7 551.1 L1398.8 551.6 L1400.0 552.1 L1401.1 552.5 L1402.2 553.0 L1403.4 553.5 L1404.5 553.9 L1405.7 554.4 L1406.8 554.9 L1407.9 555.3 L1409.1 555.8 L1410.2 556.2 L1411.3 556.7 L1412.5 557.2 L1413.6 557.6 L1414.7 558.1 L1415.9 558.5 L1417.0 559.0 L1418.2 559.4 L1419.3 559.9 L1420.4 560.3 L1421.6 560.8 L1422.7 561.2 L1423.8 561.7 L1425.0 562.1 L1426.1 562.6 L1427.2 563.0 L1428.4 563.5 L1429.5 563.9 L1430.6 564.3 L1431.8 564.8 L1432.9 565.2 L1434.1 565.6 L1435.2 566.1 L1436.3 566.5 L1437.5 566.9 L1438.6 567.4 L1439.7 567.8 L1440.9 568.2 L1442.0 568.7 L1443.1 569.1 L1444.3 569.5 L1445.4 569.9 L1446.6 570.4 L1447.7 570.8 L1448.8 571.2 L1450.0 571.6 L1451.1 572.0 L1452.2 572.4 L1453.4 572.9 L1454.5 573.3 L1455.6 573.7 L1456.8 574.1 L1457.9 574.5 L1459.1 574.9 L1460.2 575.3 L1461.3 575.7 L1462.5 576.1 L1463.6 576.5 L1464.7 576.9 L1465.9 577.3 L1467.0 577.7 L1468.1 578.1 L1469.3 578.5 L1470.4 578.9 L1471.5 579.2 L1472.7 579.6 L1473.8 580.0 L1475.0 580.4 L1476.1 580.8 L1477.2 581.2 L1478.4 581.5 L1479.5 581.9 L1480.6 582.3 L1481.8 582.7 L1482.9 583.0 L1484.0 583.4 L1485.2 583.8 L1486.3 584.1 L1487.5 584.5 L1488.6 584.9 L1489.7 585.2 L1490.9 585.6 L1492.0 585.9 L1493.1 586.3 L1494.3 586.6 L1495.4 587.0 L1496.5 587.3 L1497.7 587.7 L1498.8 588.0 L1500.0 588.4 L1501.1 588.7 L1502.2 589.0 L1503.4 589.4 L1504.5 589.7 L1505.6 590.0 L1506.8 590.4 L1507.9 590.7 L1509.0 591.0 L1510.2 591.4 L1511.3 591.7 L1512.5 592.0 L1513.6 592.3 L1514.7 592.6 L1515.9 592.9 L1517.0 593.3 L1518.1 593.6 L1519.3 593.9 L1520.4 594.2 L1521.5 594.5 L1522.7 594.8 L1523.8 595.1 L1524.9 595.4 L1526.1 595.7 L1527.2 596.0 L1528.4 596.2 L1529.5 596.5 L1530.6 596.8 L1531.8 597.1 L1532.9 597.4 L1534.0 597.7 L1535.2 597.9 L1536.3 598.2 L1537.4 598.5 L1538.6 598.7 L1539.7 599.0 L1540.9 599.3 L1542.0 599.5 L1543.1 599.8 L1544.3 600.0 L1545.4 600.3 L1546.5 600.5 L1547.7 600.8 L1548.8 601.0 L1549.9 601.3 L1551.1 601.5 L1552.2 601.7 L1553.4 602.0 L1554.5 602.2 L1555.6 602.5 L1556.8 602.7 L1557.9 602.9 L1559.0 603.2 L1560.2 603.4 L1561.3 603.6 L1562.4 603.8 L1563.6 604.1 L1564.7 604.3 L1565.9 604.5 L1567.0 604.7 L1568.1 604.9 L1569.3 605.1 L1570.4 605.3 L1571.5 605.5 L1572.7 605.7 L1573.8 605.9 L1574.9 606.1 L1576.1 606.3 L1577.2 606.4 L1578.3 606.6 L1579.5 606.8 L1580.6 607.0 L1581.8 607.1 L1582.9 607.3 L1584.0 607.4 L1585.2 607.6 L1586.3 607.7 L1587.4 607.9 L1588.6 608.0 L1589.7 608.2 L1590.8 608.3 L1592.0 608.4 L1593.1 608.5 L1594.3 608.5 L1595.4 608.6 L1596.5 608.7 L1597.7 608.7 L1598.8 608.8 L1599.9 608.8 L1601.1 608.9 L1602.2 608.9 L1603.3 608.9 L1604.5 609.0 L1605.6 609.0 L1606.8 609.0 L1607.9 608.9 L1609.0 608.8 L1610.2 608.8 L1611.3 608.7 L1612.4 608.8 L1613.6 609.1 L1614.7 609.6 L1615.8 610.2 L1617.0 610.6 L1618.1 611.0 L1619.3 611.4 L1620.4 611.3 L1621.5 610.9 L1622.7 610.5 L1623.8 610.0 L1624.9 609.5 L1626.1 609.1 L1627.2 608.6 L1628.3 608.1 L1629.5 607.6 L1630.6 607.1 L1631.7 606.6 L1632.9 606.3 L1634.0 606.1 L1635.2 606.1 L1636.3 606.4 L1637.4 606.7 L1638.6 607.2 L1639.7 607.8 L1640.8 608.4 L1642.0 609.1 L1643.1 609.8 L1644.2 610.5 L1645.4 611.3 L1646.5 612.0 L1647.7 612.6 L1648.8 613.1 L1649.9 613.6 L1651.1 614.0 L1652.2 614.3 L1653.3 614.4 L1654.5 614.4 L1655.6 614.3 L1656.7 614.1 L1657.9 613.8 L1659.0 613.2 L1660.2 612.3 L1661.3 611.4 L1662.4 610.4 L1663.6 609.4 L1664.7 608.4 L1665.8 607.4 L1667.0 606.4 L1668.1 605.5 L1669.2 604.5 L1670.4 603.6 L1671.5 602.7 L1672.7 601.8 L1673.8 600.9 L1674.9 600.0 L1676.1 599.2 L1677.2 598.6 L1678.3 598.1 L1679.5 597.7 L1680.6 597.4 L1681.7 597.1 L1682.9 596.9 L1684.0 596.8 L1685.1 596.8 L1686.3 597.0 L1687.4 597.2 L1688.6 597.5 L1689.7 597.9 L1690.8 598.3 L1692.0 598.9 L1693.1 599.6 L1694.2 600.3 L1695.4 601.0 L1696.5 601.7 L1697.6 602.5 L1698.8 603.2 L1699.9 603.9 L1701.1 604.6 L1702.2 605.2 L1703.3 605.9 L1704.5 606.6 L1705.6 607.3 L1706.7 607.9 L1707.9 608.6 L1709.0 609.2 L1710.1 609.9 L1711.3 610.5 L1712.4 610.9 L1713.6 611.3 L1714.7 611.6 L1715.8 611.9 L1717.0 612.1 L1718.1 612.3 L1719.2 612.5 L1720.4 612.6 L1721.5 612.7 L1722.6 612.6 L1723.8 612.5 L1724.9 612.2 L1726.0 611.9 L1727.2 611.5 L1728.3 611.1 L1729.5 610.6 L1730.6 610.0 L1731.7 609.4 L1732.9 608.7 L1734.0 607.9 L1735.1 606.9 L1736.3 605.8 L1737.4 604.6 L1738.5 603.3 L1739.7 602.1 L1740.8 600.8 L1742.0 599.4 L1743.1 598.1 L1744.2 596.7 L1745.4 595.3 L1746.5 593.9 L1747.6 592.5 L1748.8 591.1 L1749.9 589.7 L1751.0 588.2 L1752.2 586.8 L1753.3 585.4 L1754.5 584.0 L1755.6 582.5 L1756.7 581.1 L1757.9 579.6 L1759.0 578.2 L1760.1 576.7 L1761.3 575.2 L1762.4 573.8 L1763.5 572.3 L1764.7 570.8 L1765.8 569.4 L1767.0 568.0 L1768.1 566.6 L1769.2 565.3 L1770.4 564.0 L1771.5 562.8 L1772.6 561.6 L1773.8 560.5 L1774.9 559.4 L1776.0 558.3 L1777.2 557.2 L1778.3 556.2 L1779.4 555.2 L1780.6 554.3 L1781.7 553.4 L1782.9 552.6 L1784.0 551.8 L1785.1 551.0 L1786.3 550.3 L1787.4 549.7 L1788.5 549.0 L1789.7 548.5 L1790.8 547.9 L1791.9 547.4 L1793.1 546.9 L1794.2 546.4 L1795.4 545.9 L1796.5 545.5 L1797.6 545.2 L1798.8 544.8 L1799.9 544.5 L1801.0 544.2 L1802.2 543.9 L1803.3 543.6 L1804.4 543.3 L1805.6 543.1 L1806.7 542.9 L1807.9 542.7 L1809.0 542.5 L1810.1 542.3 L1811.3 542.2 L1812.4 542.0 L1813.5 541.9 L1814.7 541.9 L1815.8 541.8 L1816.9 541.8 L1818.1 541.8 L1819.2 541.9 L1820.4 541.9 L1821.5 542.0 L1822.6 542.1 L1823.8 542.2 L1824.9 542.3 L1826.0 542.5 L1827.2 542.7 L1828.3 543.0 L1829.4 543.3 L1830.6 543.6 L1831.7 543.8 L1832.8 544.1 L1834.0 544.4 L1835.1 544.7 L1836.3 545.0 L1837.4 545.3 L1838.5 545.6 L1839.7 545.9 L1840.8 546.2 L1841.9 546.5 L1843.1 546.8 L1844.2 547.1 L1845.3 547.4 L1846.5 547.7 L1847.6 548.0 L1848.8 548.3 L1849.9 548.6 L1851.0 548.9 L1852.2 549.2 L1853.3 549.5"/>
</g>
<line class="t" x1="1036.4" y1="660.0" x2="1036.4" y2="672.0"/>
<text class="tk" text-anchor="middle" x="1037.0" y="709.8">0</text>
<line class="t" x1="1172.6" y1="660.0" x2="1172.6" y2="672.0"/>
<text class="tk" text-anchor="middle" x="1173.2" y="709.8">10</text>
<line class="t" x1="1308.7" y1="660.0" x2="1308.7" y2="672.0"/>
<text class="tk" text-anchor="middle" x="1309.3" y="709.8">20</text>
<line class="t" x1="1444.9" y1="660.0" x2="1444.9" y2="672.0"/>
<text class="tk" text-anchor="middle" x="1445.5" y="709.8">30</text>
<line class="t" x1="1581.0" y1="660.0" x2="1581.0" y2="672.0"/>
<text class="tk" text-anchor="middle" x="1581.6" y="709.8">40</text>
<line class="t" x1="1717.2" y1="660.0" x2="1717.2" y2="672.0"/>
<text class="tk" text-anchor="middle" x="1717.8" y="709.8">50</text>
<line class="t" x1="1853.3" y1="660.0" x2="1853.3" y2="672.0"/>
<text class="tk" text-anchor="middle" x="1853.9" y="709.8">60</text>
<line class="t" x1="1024.4" y1="623.1" x2="1036.4" y2="623.1"/>
<text class="tk" text-anchor="end" x="1014.1" y="636.7">−1</text>
<line class="t" x1="1024.4" y1="549.2" x2="1036.4" y2="549.2"/>
<text class="tk" text-anchor="end" x="1014.1" y="562.8">0</text>
<line class="t" x1="1024.4" y1="475.3" x2="1036.4" y2="475.3"/>
<text class="tk" text-anchor="end" x="1014.1" y="488.9">1</text>
<rect class="sp" x="1036.4" y="438.4" width="816.9" height="221.6"/>
<text class="tt" y="419.0"><tspan class="it" x="1385.2">t</tspan> <tspan x="1409.9">=</tspan> <tspan x="1450.7">18</tspan></text>
</g>
<g>
<clipPath id="cp4"><rect x="89.0" y="807.4" width="816.9" height="221.6"/></clipPath>
<g clip-path="url(#cp4)">
<path class="c" stroke="#d62728" d="M89.0 918.2 L90.1 917.0 L91.3 915.8 L92.4 914.7 L93.5 913.5 L94.7 912.4 L95.8 911.3 L97.0 910.2 L98.1 909.2 L99.2 908.1 L100.4 907.1 L101.5 906.0 L102.6 905.0 L103.8 904.0 L104.9 903.0 L106.0 902.0 L107.2 901.0 L108.3 900.1 L109.5 899.1 L110.6 898.1 L111.7 897.2 L112.9 896.2 L114.0 895.3 L115.1 894.3 L116.3 893.4 L117.4 892.4 L118.5 891.5 L119.7 890.6 L120.8 889.7 L121.9 888.8 L123.1 888.0 L124.2 887.1 L125.4 886.3 L126.5 885.5 L127.6 884.7 L128.8 883.9 L129.9 883.1 L131.0 882.3 L132.2 881.5 L133.3 880.7 L134.4 879.9 L135.6 879.1 L136.7 878.4 L137.9 877.6 L139.0 876.8 L140.1 876.1 L141.3 875.4 L142.4 874.6 L143.5 873.9 L144.7 873.3 L145.8 872.6 L146.9 872.0 L148.1 871.3 L149.2 870.7 L150.4 870.1 L151.5 869.6 L152.6 869.0 L153.8 868.4 L154.9 867.9 L156.0 867.3 L157.2 866.8 L158.3 866.3 L159.4 865.7 L160.6 865.2 L161.7 864.7 L162.9 864.2 L164.0 863.7 L165.1 863.2 L166.3 862.8 L167.4 862.4 L168.5 862.0 L169.7 861.6 L170.8 861.2 L171.9 860.9 L173.1 860.6 L174.2 860.3 L175.3 860.0 L176.5 859.7 L177.6 859.4 L178.8 859.2 L179.9 859.0 L181.0 858.8 L182.2 858.6 L183.3 858.4 L184.4 858.3 L185.6 858.1 L186.7 858.1 L187.8 858.0 L189.0 858.0 L190.1 858.0 L191.3 858.0 L192.4 858.1 L193.5 858.2 L194.7 858.3 L195.8 858.5 L196.9 858.7 L198.1 858.9 L199.2 859.1 L200.3 859.4 L201.5 859.7 L202.6 860.0 L203.8 860.4 L204.9 860.8 L206.0 861.3 L207.2 861.7 L208.3 862.2 L209.4 862.8 L210.6 863.4 L211.7 864.0 L212.8 864.6 L214.0 865.2 L215.1 865.9 L216.3 866.6 L217.4 867.3 L218.5 868.0 L219.7 868.7 L220.8 869.5 L221.9 870.3 L223.1 871.1 L224.2 871.9 L225.3 872.7 L226.5 873.6 L227.6 874.4 L228.7 875.3 L229.9 876.1 L231.0 877.0 L232.2 877.9 L233.3 878.8 L234.4 879.7 L235.6 880.6 L236.7 881.6 L237.8 882.5 L239.0 883.4 L240.1 884.3 L241.2 885.1 L242.4 886.0 L243.5 886.9 L244.7 887.7 L245.8 888.6 L246.9 889.4 L248.1 890.3 L249.2 891.1 L250.3 891.9 L251.5 892.7 L252.6 893.5 L253.7 894.3 L254.9 895.1 L256.0 895.9 L257.2 896.7 L258.3 897.5 L259.4 898.3 L260.6 898.9 L261.7 899.6 L262.8 900.2 L264.0 900.8 L265.1 901.3 L266.2 901.7 L267.4 902.1 L268.5 902.5 L269.6 902.8 L270.8 903.1 L271.9 903.3 L273.1 903.5 L274.2 903.7 L275.3 903.8 L276.5 903.9 L277.6 903.9 L278.7 903.8 L279.9 903.7 L281.0 903.5 L282.1 903.2 L283.3 902.9 L284.4 902.5 L285.6 902.0 L286.7 901.5 L287.8 900.9 L289.0 900.3 L290.1 899.7 L291.2 899.0 L292.4 898.2 L293.5 897.4 L294.6 896.6 L295.8 895.8 L296.9 895.0 L298.1 894.2 L299.2 893.3 L300.3 892.5 L301.5 891.7 L302.6 890.9 L303.7 890.0 L304.9 889.2 L306.0 888.4 L307.1 887.5 L308.3 886.7 L309.4 885.9 L310.6 885.1 L311.7 884.3 L312.8 883.6 L314.0 883.0 L315.1 882.4 L316.2 881.9 L317.4 881.4 L318.5 881.1 L319.6 880.7 L320.8 880.5 L321.9 880.3 L323.0 880.1 L324.2 880.0 L325.3 880.0 L326.5 880.0 L327.6 880.1 L328.7 880.2 L329.9 880.4 L331.0 880.7 L332.1 881.1 L333.3 881.5 L334.4 882.1 L335.5 882.7 L336.7 883.3 L337.8 884.0 L339.0 884.8 L340.1 885.5 L341.2 886.4 L342.4 887.3 L343.5 888.1 L344.6 889.0 L345.8 889.9 L346.9 890.6 L348.0 891.4 L349.2 892.0 L350.3 892.7 L351.5 893.3 L352.6 893.8 L353.7 894.3 L354.9 894.7 L356.0 894.9 L357.1 895.1 L358.3 895.2 L359.4 895.3 L360.5 895.2 L361.7 895.1 L362.8 894.9 L364.0 894.6 L365.1 894.1 L366.2 893.6 L367.4 893.0 L368.5 892.4 L369.6 891.7 L370.8 891.0 L371.9 890.3 L373.0 889.6 L374.2 888.8 L375.3 888.1 L376.4 887.4 L377.6 886.8 L378.7 886.3 L379.9 886.0 L381.0 885.7 L382.1 885.5 L383.3 885.3 L384.4 885.2 L385.5 885.3 L386.7 885.5 L387.8 885.9 L388.9 886.3 L390.1 886.7 L391.2 887.3 L392.4 888.0 L393.5 888.7 L394.6 889.4 L395.8 890.0 L396.9 890.5 L398.0 891.0 L399.2 891.4 L400.3 891.6 L401.4 891.7 L402.6 891.6 L403.7 891.4 L404.9 891.0 L406.0 890.7 L407.1 890.1 L408.3 889.7 L409.4 889.6 L410.5 889.6 L411.7 889.5 L412.8 889.5 L413.9 889.5 L415.1 889.6 L416.2 889.6 L417.4 889.6 L418.5 889.7 L419.6 889.7 L420.8 889.8 L421.9 889.8 L423.0 889.9 L424.2 889.9 L425.3 890.0 L426.4 890.0 L427.6 890.0 L428.7 890.1 L429.8 890.1 L431.0 890.1 L432.1 890.1 L433.3 890.2 L434.4 890.2 L435.5 890.2 L436.7 890.2 L437.8 890.2 L438.9 890.3 L440.1 890.3 L441.2 890.3 L442.3 890.3 L443.5 890.4 L444.6 890.4 L445.8 890.4 L446.9 890.4 L448.0 890.4 L449.2 890.4 L450.3 890.5 L451.4 890.5 L452.6 890.5 L453.7 890.5 L454.8 890.5 L456.0 890.5 L457.1 890.5 L458.3 890.5 L459.4 890.5 L460.5 890.5 L461.7 890.6 L462.8 890.6 L463.9 890.6 L465.1 890.6 L466.2 890.6 L467.3 890.6 L468.5 890.6 L469.6 890.6 L470.8 890.6 L471.9 890.6 L473.0 890.6 L474.2 890.7 L475.3 890.7 L476.4 890.7 L477.6 890.7 L478.7 890.7 L479.8 890.7 L481.0 890.7 L482.1 890.7 L483.2 890.7 L484.4 890.7 L485.5 890.7 L486.7 890.8 L487.8 890.8 L488.9 890.8 L490.1 890.8 L491.2 890.8 L492.3 890.8 L493.5 890.8 L494.6 890.8 L495.7 890.8 L496.9 890.8 L498.0 890.8 L499.2 890.8 L500.3 890.9 L501.4 890.9 L502.6 890.9 L503.7 890.9 L504.8 890.9 L506.0 890.9 L507.1 890.9 L508.2 890.9 L509.4 890.9 L510.5 890.9 L511.7 890.9 L512.8 891.0 L513.9 891.0 L515.1 891.0 L516.2 891.0 L517.3 891.0 L518.5 891.0 L519.6 891.0 L520.7 891.0 L521.9 891.0 L523.0 891.0 L524.1 891.0 L525.3 891.1 L526.4 891.1 L527.6 891.1 L528.7 891.1 L529.8 891.1 L531.0 891.1 L532.1 891.1 L533.2 891.1 L534.4 891.1 L535.5 891.1 L536.6 891.1 L537.8 891.1 L538.9 891.2 L540.1 891.2 L541.2 891.2 L542.3 891.2 L543.5 891.2 L544.6 891.2 L545.7 891.2 L546.9 891.2 L548.0 891.2 L549.1 891.2 L550.3 891.2 L551.4 891.3 L552.6 891.3 L553.7 891.3 L554.8 891.3 L556.0 891.3 L557.1 891.3 L558.2 891.3 L559.4 891.3 L560.5 891.3 L561.6 891.3 L562.8 891.3 L563.9 891.4 L565.1 891.4 L566.2 891.4 L567.3 891.4 L568.5 891.4 L569.6 891.4 L570.7 891.4 L571.9 891.4 L573.0 891.4 L574.1 891.4 L575.3 891.4 L576.4 891.4 L577.5 891.4 L578.7 891.4 L579.8 891.3 L581.0 890.9 L582.1 890.3 L583.2 890.3 L584.4 890.7 L585.5 891.2 L586.6 891.6 L587.8 892.1 L588.9 892.6 L590.0 893.0 L591.2 893.4 L592.3 893.8 L593.5 894.2 L594.6 894.2 L595.7 893.9 L596.9 893.4 L598.0 892.7 L599.1 892.0 L600.3 891.4 L601.4 890.7 L602.5 890.0 L603.7 889.4 L604.8 888.7 L606.0 888.2 L607.1 887.8 L608.2 887.5 L609.4 887.4 L610.5 887.6 L611.6 887.8 L612.8 888.1 L613.9 888.5 L615.0 889.0 L616.2 889.5 L617.3 890.2 L618.5 890.9 L619.6 891.6 L620.7 892.4 L621.9 893.1 L623.0 893.8 L624.1 894.4 L625.3 894.9 L626.4 895.4 L627.5 895.9 L628.7 896.5 L629.8 897.0 L630.9 897.5 L632.1 898.0 L633.2 898.5 L634.4 899.0 L635.5 899.4 L636.6 899.5 L637.8 899.2 L638.9 898.7 L640.0 898.1 L641.2 897.4 L642.3 896.6 L643.4 895.8 L644.6 895.0 L645.7 894.2 L646.9 893.3 L648.0 892.5 L649.1 891.7 L650.3 890.9 L651.4 890.1 L652.5 889.4 L653.7 888.7 L654.8 887.9 L655.9 887.2 L657.1 886.6 L658.2 885.9 L659.4 885.3 L660.5 884.7 L661.6 884.2 L662.8 883.9 L663.9 883.6 L665.0 883.5 L666.2 883.4 L667.3 883.3 L668.4 883.4 L669.6 883.4 L670.7 883.4 L671.9 883.5 L673.0 883.7 L674.1 883.9 L675.3 884.3 L676.4 884.8 L677.5 885.5 L678.7 886.3 L679.8 887.0 L680.9 887.7 L682.1 888.5 L683.2 889.2 L684.3 890.0 L685.5 890.7 L686.6 891.5 L687.8 892.3 L688.9 893.0 L690.0 893.8 L691.2 894.5 L692.3 895.3 L693.4 896.1 L694.6 896.8 L695.7 897.6 L696.8 898.4 L698.0 899.1 L699.1 899.9 L700.3 900.6 L701.4 901.2 L702.5 901.8 L703.7 902.4 L704.8 902.9 L705.9 903.4 L707.1 903.8 L708.2 904.2 L709.3 904.6 L710.5 905.0 L711.6 905.3 L712.8 905.5 L713.9 905.7 L715.0 905.8 L716.2 905.9 L717.3 905.9 L718.4 905.9 L719.6 905.9 L720.7 905.8 L721.8 905.7 L723.0 905.6 L724.1 905.4 L725.3 905.2 L726.4 904.9 L727.5 904.6 L728.7 904.1 L729.8 903.6 L730.9 903.0 L732.1 902.4 L733.2 901.8 L734.3 901.2 L735.5 900.5 L736.6 899.8 L737.7 899.1 L738.9 898.4 L740.0 897.7 L741.2 896.9 L742.3 896.2 L743.4 895.4 L744.6 894.6 L745.7 893.8 L746.8 893.0 L748.0 892.2 L749.1 891.4 L750.2 890.6 L751.4 889.8 L752.5 889.0 L753.7 888.2 L754.8 887.4 L755.9 886.6 L757.1 885.8 L758.2 885.1 L759.3 884.3 L760.5 883.6 L761.6 882.9 L762.7 882.1 L763.9 881.4 L765.0 880.7 L766.2 880.0 L767.3 879.3 L768.4 878.6 L769.6 878.0 L770.7 877.3 L771.8 876.7 L773.0 876.2 L774.1 875.7 L775.2 875.2 L776.4 874.7 L777.5 874.2 L778.6 873.8 L779.8 873.4 L780.9 873.0 L782.1 872.7 L783.2 872.3 L784.3 872.0 L785.5 871.7 L786.6 871.4 L787.7 871.1 L788.9 870.9 L790.0 870.6 L791.1 870.4 L792.3 870.2 L793.4 870.1 L794.6 869.9 L795.7 869.8 L796.8 869.7 L798.0 869.6 L799.1 869.6 L800.2 869.5 L801.4 869.6 L802.5 869.6 L803.6 869.7 L804.8 869.7 L805.9 869.9 L807.1 870.0 L808.2 870.1 L809.3 870.3 L810.5 870.5 L811.6 870.7 L812.7 871.0 L813.9 871.2 L815.0 871.5 L816.1 871.8 L817.3 872.2 L818.4 872.6 L819.6 872.9 L820.7 873.3 L821.8 873.8 L823.0 874.2 L824.1 874.7 L825.2 875.1 L826.4 875.6 L827.5 876.1 L828.6 876.6 L829.8 877.2 L830.9 877.7 L832.0 878.3 L833.2 878.9 L834.3 879.5 L835.5 880.1 L836.6 880.6 L837.7 881.2 L838.9 881.9 L840.0 882.5 L841.1 883.1 L842.3 883.8 L843.4 884.4 L844.5 885.1 L845.7 885.8 L846.8 886.5 L848.0 887.2 L849.1 887.9 L850.2 888.6 L851.4 889.4 L852.5 890.1 L853.6 890.9 L854.8 891.6 L855.9 892.4 L857.0 893.1 L858.2 893.9 L859.3 894.6 L860.5 895.4 L861.6 896.1 L862.7 896.8 L863.9 897.5 L865.0 898.2 L866.1 898.9 L867.3 899.6 L868.4 900.3 L869.5 901.0 L870.7 901.7 L871.8 902.3 L873.0 903.0 L874.1 903.7 L875.2 904.3 L876.4 905.0 L877.5 905.6 L878.6 906.3 L879.8 906.9 L880.9 907.5 L882.0 908.1 L883.2 908.7 L884.3 909.3 L885.4 909.9 L886.6 910.4 L887.7 911.0 L888.9 911.5 L890.0 912.0 L891.1 912.6 L892.3 913.1 L893.4 913.6 L894.5 914.1 L895.7 914.6 L896.8 915.1 L897.9 915.5 L899.1 916.0 L900.2 916.4 L901.4 916.9 L902.5 917.3 L903.6 917.7 L904.8 918.1 L905.9 918.5"/>
<path class="c" stroke="#1f77b4" d="M89.0 918.5 L90.1 916.7 L91.3 915.0 L92.4 913.3 L93.5 911.6 L94.7 909.9 L95.8 908.2 L97.0 906.5 L98.1 904.8 L99.2 903.2 L100.4 901.5 L101.5 899.8 L102.6 898.2 L103.8 896.6 L104.9 894.9 L106.0 893.3 L107.2 891.7 L108.3 890.1 L109.5 888.6 L110.6 887.0 L111.7 885.5 L112.9 884.0 L114.0 882.6 L115.1 881.1 L116.3 879.7 L117.4 878.3 L118.5 876.9 L119.7 875.6 L120.8 874.3 L121.9 872.9 L123.1 871.7 L124.2 870.4 L125.4 869.1 L126.5 867.8 L127.6 866.6 L128.8 865.3 L129.9 864.1 L131.0 862.9 L132.2 861.7 L133.3 860.5 L134.4 859.4 L135.6 858.2 L136.7 857.1 L137.9 856.0 L139.0 854.9 L140.1 853.8 L141.3 852.7 L142.4 851.7 L143.5 850.6 L144.7 849.6 L145.8 848.6 L146.9 847.6 L148.1 846.7 L149.2 845.7 L150.4 844.8 L151.5 844.0 L152.6 843.1 L153.8 842.3 L154.9 841.5 L156.0 840.7 L157.2 839.9 L158.3 839.1 L159.4 838.3 L160.6 837.6 L161.7 836.8 L162.9 836.1 L164.0 835.4 L165.1 834.7 L166.3 834.1 L167.4 833.5 L168.5 832.9 L169.7 832.3 L170.8 831.8 L171.9 831.2 L173.1 830.7 L174.2 830.2 L175.3 829.8 L176.5 829.3 L177.6 828.9 L178.8 828.4 L179.9 828.1 L181.0 827.7 L182.2 827.3 L183.3 827.0 L184.4 826.7 L185.6 826.4 L186.7 826.2 L187.8 825.9 L189.0 825.7 L190.1 825.5 L191.3 825.3 L192.4 825.1 L193.5 825.0 L194.7 824.8 L195.8 824.7 L196.9 824.6 L198.1 824.5 L199.2 824.4 L200.3 824.3 L201.5 824.3 L202.6 824.2 L203.8 824.2 L204.9 824.2 L206.0 824.2 L207.2 824.2 L208.3 824.3 L209.4 824.4 L210.6 824.5 L211.7 824.6 L212.8 824.8 L214.0 825.0 L215.1 825.3 L216.3 825.6 L217.4 825.9 L218.5 826.3 L219.7 826.7 L220.8 827.1 L221.9 827.5 L223.1 828.0 L224.2 828.5 L225.3 829.0 L226.5 829.5 L227.6 830.1 L228.7 830.7 L229.9 831.3 L231.0 831.9 L232.2 832.6 L233.3 833.2 L234.4 833.9 L235.6 834.6 L236.7 835.4 L237.8 836.2 L239.0 837.0 L240.1 837.8 L241.2 838.6 L242.4 839.5 L243.5 840.4 L244.7 841.3 L245.8 842.2 L246.9 843.1 L248.1 844.1 L249.2 845.0 L250.3 846.0 L251.5 847.0 L252.6 847.9 L253.7 848.9 L254.9 849.9 L256.0 850.9 L257.2 851.9 L258.3 852.9 L259.4 853.9 L260.6 854.9 L261.7 855.9 L262.8 857.0 L264.0 858.0 L265.1 859.0 L266.2 860.0 L267.4 861.0 L268.5 861.9 L269.6 862.9 L270.8 863.8 L271.9 864.6 L273.1 865.5 L274.2 866.4 L275.3 867.2 L276.5 868.0 L277.6 868.8 L278.7 869.5 L279.9 870.2 L281.0 870.8 L282.1 871.4 L283.3 872.0 L284.4 872.5 L285.6 873.0 L286.7 873.4 L287.8 873.7 L289.0 874.0 L290.1 874.3 L291.2 874.5 L292.4 874.7 L293.5 874.9 L294.6 875.0 L295.8 875.1 L296.9 875.2 L298.1 875.2 L299.2 875.2 L300.3 875.1 L301.5 875.0 L302.6 874.9 L303.7 874.8 L304.9 874.6 L306.0 874.5 L307.1 874.3 L308.3 874.1 L309.4 873.9 L310.6 873.7 L311.7 873.4 L312.8 873.2 L314.0 873.0 L315.1 872.7 L316.2 872.5 L317.4 872.3 L318.5 872.1 L319.6 872.0 L320.8 871.8 L321.9 871.7 L323.0 871.6 L324.2 871.5 L325.3 871.4 L326.5 871.4 L327.6 871.5 L328.7 871.7 L329.9 871.9 L331.0 872.2 L332.1 872.5 L333.3 872.9 L334.4 873.3 L335.5 873.9 L336.7 874.6 L337.8 875.4 L339.0 876.4 L340.1 877.4 L341.2 878.4 L342.4 879.5 L343.5 880.6 L344.6 881.8 L345.8 883.0 L346.9 884.2 L348.0 885.4 L349.2 886.7 L350.3 887.9 L351.5 889.1 L352.6 890.2 L353.7 891.4 L354.9 892.5 L356.0 893.6 L357.1 894.8 L358.3 895.9 L359.4 896.9 L360.5 897.8 L361.7 898.5 L362.8 899.3 L364.0 899.9 L365.1 900.4 L366.2 900.9 L367.4 901.3 L368.5 901.6 L369.6 901.8 L370.8 901.9 L371.9 902.0 L373.0 902.0 L374.2 902.1 L375.3 902.1 L376.4 902.2 L377.6 902.3 L378.7 902.3 L379.9 902.4 L381.0 902.5 L382.1 902.6 L383.3 902.8 L384.4 903.1 L385.5 903.5 L386.7 904.1 L387.8 904.8 L388.9 905.7 L390.1 906.6 L391.2 907.6 L392.4 908.5 L393.5 909.5 L394.6 910.6 L395.8 911.6 L396.9 912.7 L398.0 913.8 L399.2 914.8 L400.3 915.7 L401.4 916.5 L402.6 917.1 L403.7 917.6 L404.9 918.0 L406.0 918.2 L407.1 918.4 L408.3 918.7 L409.4 919.2 L410.5 919.6 L411.7 920.1 L412.8 920.5 L413.9 921.0 L415.1 921.6 L416.2 922.1 L417.4 922.7 L418.5 923.3 L419.6 923.8 L420.8 924.4 L421.9 925.0 L423.0 925.5 L424.2 926.1 L425.3 926.7 L426.4 927.2 L427.6 927.8 L428.7 928.3 L429.8 928.9 L431.0 929.4 L432.1 930.0 L433.3 930.5 L434.4 931.1 L435.5 931.6 L436.7 932.2 L437.8 932.7 L438.9 933.3 L440.1 933.8 L441.2 934.4 L442.3 934.9 L443.5 935.5 L444.6 936.0 L445.8 936.6 L446.9 937.1 L448.0 937.7 L449.2 938.2 L450.3 938.7 L451.4 939.3 L452.6 939.8 L453.7 940.4 L454.8 940.9 L456.0 941.5 L457.1 942.0 L458.3 942.6 L459.4 943.1 L460.5 943.6 L461.7 944.2 L462.8 944.7 L463.9 945.3 L465.1 945.8 L466.2 946.3 L467.3 946.9 L468.5 947.4 L469.6 947.9 L470.8 948.4 L471.9 948.9 L473.0 949.4 L474.2 949.9 L475.3 950.4 L476.4 950.9 L477.6 951.3 L478.7 951.8 L479.8 952.3 L481.0 952.7 L482.1 953.2 L483.2 953.6 L484.4 954.1 L485.5 954.5 L486.7 955.0 L487.8 955.4 L488.9 955.9 L490.1 956.3 L491.2 956.7 L492.3 957.2 L493.5 957.6 L494.6 958.0 L495.7 958.4 L496.9 958.9 L498.0 959.3 L499.2 959.7 L500.3 960.1 L501.4 960.5 L502.6 960.9 L503.7 961.3 L504.8 961.7 L506.0 962.1 L507.1 962.4 L508.2 962.8 L509.4 963.2 L510.5 963.6 L511.7 963.9 L512.8 964.3 L513.9 964.7 L515.1 965.0 L516.2 965.4 L517.3 965.7 L518.5 966.1 L519.6 966.4 L520.7 966.8 L521.9 967.1 L523.0 967.4 L524.1 967.7 L525.3 968.1 L526.4 968.4 L527.6 968.7 L528.7 969.0 L529.8 969.3 L531.0 969.6 L532.1 969.9 L533.2 970.2 L534.4 970.5 L535.5 970.8 L536.6 971.1 L537.8 971.4 L538.9 971.6 L540.1 971.9 L541.2 972.2 L542.3 972.5 L543.5 972.7 L544.6 973.0 L545.7 973.2 L546.9 973.5 L548.0 973.7 L549.1 973.9 L550.3 974.2 L551.4 974.4 L552.6 974.6 L553.7 974.9 L554.8 975.1 L556.0 975.3 L557.1 975.5 L558.2 975.7 L559.4 976.0 L560.5 976.2 L561.6 976.3 L562.8 976.5 L563.9 976.7 L565.1 976.9 L566.2 977.0 L567.3 977.2 L568.5 977.3 L569.6 977.5 L570.7 977.6 L571.9 977.8 L573.0 977.9 L574.1 978.0 L575.3 978.1 L576.4 978.1 L577.5 978.1 L578.7 978.2 L579.8 978.4 L581.0 978.9 L582.1 979.6 L583.2 980.1 L584.4 980.7 L585.5 980.9 L586.6 980.8 L587.8 980.1 L588.9 979.2 L590.0 978.4 L591.2 977.7 L592.3 977.0 L593.5 976.5 L594.6 976.0 L595.7 975.8 L596.9 976.1 L598.0 976.6 L599.1 977.3 L600.3 978.1 L601.4 979.1 L602.5 980.1 L603.7 981.1 L604.8 981.8 L606.0 982.5 L607.1 983.0 L608.2 983.3 L609.4 983.4 L610.5 983.2 L611.6 982.8 L612.8 982.4 L613.9 981.9 L615.0 981.3 L616.2 980.6 L617.3 979.9 L618.5 979.1 L619.6 978.4 L620.7 977.8 L621.9 977.2 L623.0 976.7 L624.1 976.3 L625.3 976.0 L626.4 975.8 L627.5 975.7 L628.7 975.8 L629.8 975.8 L630.9 975.8 L632.1 975.8 L633.2 975.9 L634.4 975.9 L635.5 975.9 L636.6 975.9 L637.8 976.0 L638.9 976.4 L640.0 976.9 L641.2 977.6 L642.3 978.2 L643.4 978.8 L644.6 979.3 L645.7 979.6 L646.9 979.9 L648.0 980.1 L649.1 980.3 L650.3 980.4 L651.4 980.5 L652.5 980.4 L653.7 980.3 L654.8 980.1 L655.9 979.9 L657.1 979.5 L658.2 979.1 L659.4 978.7 L660.5 978.1 L661.6 977.5 L662.8 976.8 L663.9 976.1 L665.0 975.3 L666.2 974.6 L667.3 973.8 L668.4 973.1 L669.6 972.3 L670.7 971.6 L671.9 970.9 L673.0 970.2 L674.1 969.5 L675.3 968.8 L676.4 968.1 L677.5 967.5 L678.7 966.8 L679.8 966.2 L680.9 965.5 L682.1 964.9 L683.2 964.4 L684.3 963.8 L685.5 963.4 L686.6 963.0 L687.8 962.8 L688.9 962.5 L690.0 962.3 L691.2 962.2 L692.3 962.1 L693.4 962.0 L694.6 961.9 L695.7 961.9 L696.8 962.0 L698.0 962.2 L699.1 962.4 L700.3 962.6 L701.4 962.8 L702.5 963.0 L703.7 963.2 L704.8 963.3 L705.9 963.5 L707.1 963.7 L708.2 963.9 L709.3 964.1 L710.5 964.3 L711.6 964.5 L712.8 964.7 L713.9 964.9 L715.0 965.1 L716.2 965.3 L717.3 965.5 L718.4 965.6 L719.6 965.7 L720.7 965.7 L721.8 965.7 L723.0 965.6 L724.1 965.6 L725.3 965.5 L726.4 965.4 L727.5 965.2 L728.7 965.0 L729.8 964.8 L730.9 964.5 L732.1 964.2 L733.2 963.9 L734.3 963.5 L735.5 963.1 L736.6 962.7 L737.7 962.2 L738.9 961.6 L740.0 961.0 L741.2 960.4 L742.3 959.7 L743.4 958.9 L744.6 958.2 L745.7 957.4 L746.8 956.5 L748.0 955.7 L749.1 954.9 L750.2 954.0 L751.4 953.2 L752.5 952.3 L753.7 951.4 L754.8 950.5 L755.9 949.5 L757.1 948.6 L758.2 947.7 L759.3 946.7 L760.5 945.8 L761.6 944.8 L762.7 943.9 L763.9 942.9 L765.0 942.0 L766.2 941.0 L767.3 940.1 L768.4 939.1 L769.6 938.2 L770.7 937.2 L771.8 936.3 L773.0 935.4 L774.1 934.4 L775.2 933.5 L776.4 932.5 L777.5 931.6 L778.6 930.6 L779.8 929.7 L780.9 928.7 L782.1 927.8 L783.2 926.9 L784.3 925.9 L785.5 925.0 L786.6 924.1 L787.7 923.2 L788.9 922.4 L790.0 921.6 L791.1 920.9 L792.3 920.1 L793.4 919.4 L794.6 918.8 L795.7 918.1 L796.8 917.5 L798.0 916.8 L799.1 916.2 L800.2 915.6 L801.4 915.0 L802.5 914.4 L803.6 913.8 L804.8 913.3 L805.9 912.7 L807.1 912.2 L808.2 911.7 L809.3 911.2 L810.5 910.8 L811.6 910.3 L812.7 909.9 L813.9 909.5 L815.0 909.1 L816.1 908.7 L817.3 908.4 L818.4 908.1 L819.6 907.7 L820.7 907.4 L821.8 907.2 L823.0 906.9 L824.1 906.6 L825.2 906.4 L826.4 906.2 L827.5 906.0 L828.6 905.8 L829.8 905.6 L830.9 905.5 L832.0 905.3 L833.2 905.2 L834.3 905.1 L835.5 905.0 L836.6 904.9 L837.7 904.8 L838.9 904.8 L840.0 904.7 L841.1 904.7 L842.3 904.6 L843.4 904.6 L844.5 904.6 L845.7 904.6 L846.8 904.7 L848.0 904.7 L849.1 904.7 L850.2 904.8 L851.4 904.8 L852.5 904.9 L853.6 904.9 L854.8 905.0 L855.9 905.1 L857.0 905.1 L858.2 905.2 L859.3 905.4 L860.5 905.5 L861.6 905.6 L862.7 905.8 L863.9 906.0 L865.0 906.1 L866.1 906.3 L867.3 906.5 L868.4 906.7 L869.5 906.8 L870.7 907.0 L871.8 907.2 L873.0 907.3 L874.1 907.5 L875.2 907.7 L876.4 907.9 L877.5 908.0 L878.6 908.2 L879.8 908.4 L880.9 908.5 L882.0 908.7 L883.2 908.9 L884.3 909.0 L885.4 909.2 L886.6 909.4 L887.7 909.6 L888.9 909.7 L890.0 909.9 L891.1 910.1 L892.3 910.2 L893.4 910.4 L894.5 910.6 L895.7 910.7 L896.8 910.9 L897.9 911.1 L899.1 911.2 L900.2 911.4 L901.4 911.6 L902.5 911.7 L903.6 911.9 L904.8 912.1 L905.9 912.2"/>
<path class="c" stroke="#000000" d="M89.0 918.2 L90.1 916.5 L91.3 914.8 L92.4 913.0 L93.5 911.3 L94.7 909.6 L95.8 908.0 L97.0 906.3 L98.1 904.6 L99.2 902.9 L100.4 901.2 L101.5 899.6 L102.6 898.0 L103.8 896.3 L104.9 894.7 L106.0 893.1 L107.2 891.5 L108.3 889.9 L109.5 888.3 L110.6 886.8 L111.7 885.3 L112.9 883.8 L114.0 882.3 L115.1 880.9 L116.3 879.5 L117.4 878.1 L118.5 876.7 L119.7 875.3 L120.8 874.0 L121.9 872.7 L123.1 871.4 L124.2 870.1 L125.4 868.8 L126.5 867.6 L127.6 866.3 L128.8 865.1 L129.9 863.9 L131.0 862.6 L132.2 861.5 L133.3 860.3 L134.4 859.1 L135.6 858.0 L136.7 856.9 L137.9 855.8 L139.0 854.7 L140.1 853.6 L141.3 852.5 L142.4 851.4 L143.5 850.4 L144.7 849.4 L145.8 848.4 L146.9 847.4 L148.1 846.4 L149.2 845.5 L150.4 844.6 L151.5 843.7 L152.6 842.9 L153.8 842.0 L154.9 841.2 L156.0 840.4 L157.2 839.6 L158.3 838.8 L159.4 838.1 L160.6 837.3 L161.7 836.6 L162.9 835.9 L164.0 835.2 L165.1 834.5 L166.3 833.8 L167.4 833.2 L168.5 832.6 L169.7 832.0 L170.8 831.5 L171.9 831.0 L173.1 830.5 L174.2 830.0 L175.3 829.5 L176.5 829.0 L177.6 828.6 L178.8 828.2 L179.9 827.8 L181.0 827.4 L182.2 827.1 L183.3 826.8 L184.4 826.5 L185.6 826.2 L186.7 825.9 L187.8 825.7 L189.0 825.4 L190.1 825.2 L191.3 825.1 L192.4 824.9 L193.5 824.7 L194.7 824.6 L195.8 824.5 L196.9 824.3 L198.1 824.2 L199.2 824.1 L200.3 824.1 L201.5 824.0 L202.6 824.0 L203.8 823.9 L204.9 823.9 L206.0 823.9 L207.2 823.9 L208.3 824.0 L209.4 824.1 L210.6 824.2 L211.7 824.4 L212.8 824.6 L214.0 824.8 L215.1 825.0 L216.3 825.3 L217.4 825.7 L218.5 826.0 L219.7 826.4 L220.8 826.8 L221.9 827.3 L223.1 827.7 L224.2 828.2 L225.3 828.8 L226.5 829.3 L227.6 829.9 L228.7 830.5 L229.9 831.1 L231.0 831.7 L232.2 832.4 L233.3 833.1 L234.4 833.8 L235.6 834.5 L236.7 835.3 L237.8 836.1 L239.0 836.9 L240.1 837.7 L241.2 838.5 L242.4 839.4 L243.5 840.3 L244.7 841.2 L245.8 842.1 L246.9 843.1 L248.1 844.1 L249.2 845.1 L250.3 846.1 L251.5 847.1 L252.6 848.1 L253.7 849.1 L254.9 850.2 L256.0 851.2 L257.2 852.3 L258.3 853.3 L259.4 854.4 L260.6 855.5 L261.7 856.6 L262.8 857.7 L264.0 858.7 L265.1 859.8 L266.2 860.9 L267.4 862.0 L268.5 863.0 L269.6 864.0 L270.8 865.0 L271.9 866.1 L273.1 867.1 L274.2 868.0 L275.3 869.0 L276.5 869.9 L277.6 870.8 L278.7 871.6 L279.9 872.3 L281.0 873.0 L282.1 873.7 L283.3 874.4 L284.4 875.0 L285.6 875.6 L286.7 876.1 L287.8 876.5 L289.0 876.9 L290.1 877.3 L291.2 877.7 L292.4 878.0 L293.5 878.2 L294.6 878.5 L295.8 878.7 L296.9 878.9 L298.1 879.0 L299.2 879.0 L300.3 879.0 L301.5 879.0 L302.6 878.9 L303.7 878.9 L304.9 878.8 L306.0 878.7 L307.1 878.6 L308.3 878.5 L309.4 878.4 L310.6 878.2 L311.7 878.1 L312.8 878.0 L314.0 877.8 L315.1 877.7 L316.2 877.6 L317.4 877.4 L318.5 877.3 L319.6 877.2 L320.8 877.1 L321.9 877.0 L323.0 876.9 L324.2 876.8 L325.3 876.9 L326.5 877.0 L327.6 877.2 L328.7 877.5 L329.9 877.8 L331.0 878.2 L332.1 878.6 L333.3 879.1 L334.4 879.7 L335.5 880.4 L336.7 881.2 L337.8 882.0 L339.0 883.0 L340.1 884.0 L341.2 885.1 L342.4 886.3 L343.5 887.6 L344.6 888.9 L345.8 890.2 L346.9 891.5 L348.0 892.8 L349.2 894.0 L350.3 895.2 L351.5 896.4 L352.6 897.6 L353.7 898.8 L354.9 900.0 L356.0 901.2 L357.1 902.4 L358.3 903.4 L359.4 904.5 L360.5 905.5 L361.7 906.4 L362.8 907.3 L364.0 908.0 L365.1 908.7 L366.2 909.2 L367.4 909.6 L368.5 910.0 L369.6 910.3 L370.8 910.6 L371.9 910.8 L373.0 911.0 L374.2 911.2 L375.3 911.3 L376.4 911.4 L377.6 911.5 L378.7 911.5 L379.9 911.6 L381.0 911.8 L382.1 911.9 L383.3 912.2 L384.4 912.5 L385.5 912.8 L386.7 913.3 L387.8 913.9 L388.9 914.7 L390.1 915.6 L391.2 916.6 L392.4 917.7 L393.5 918.9 L394.6 920.1 L395.8 921.4 L396.9 922.6 L398.0 923.8 L399.2 924.9 L400.3 925.9 L401.4 926.8 L402.6 927.6 L403.7 928.2 L404.9 928.5 L406.0 928.7 L407.1 929.0 L408.3 929.4 L409.4 930.1 L410.5 930.7 L411.7 931.4 L412.8 932.1 L413.9 932.7 L415.1 933.3 L416.2 934.0 L417.4 934.6 L418.5 935.2 L419.6 935.8 L420.8 936.4 L421.9 937.0 L423.0 937.6 L424.2 938.2 L425.3 938.8 L426.4 939.4 L427.6 940.0 L428.7 940.7 L429.8 941.3 L431.0 941.9 L432.1 942.6 L433.3 943.2 L434.4 943.8 L435.5 944.5 L436.7 945.1 L437.8 945.7 L438.9 946.4 L440.1 947.0 L441.2 947.6 L442.3 948.3 L443.5 948.9 L444.6 949.5 L445.8 950.1 L446.9 950.7 L448.0 951.3 L449.2 951.9 L450.3 952.5 L451.4 953.1 L452.6 953.7 L453.7 954.2 L454.8 954.8 L456.0 955.4 L457.1 956.0 L458.3 956.5 L459.4 957.1 L460.5 957.6 L461.7 958.2 L462.8 958.7 L463.9 959.3 L465.1 959.8 L466.2 960.3 L467.3 960.8 L468.5 961.3 L469.6 961.8 L470.8 962.3 L471.9 962.8 L473.0 963.2 L474.2 963.7 L475.3 964.2 L476.4 964.6 L477.6 965.0 L478.7 965.5 L479.8 965.9 L481.0 966.3 L482.1 966.8 L483.2 967.2 L484.4 967.6 L485.5 968.0 L486.7 968.4 L487.8 968.8 L488.9 969.2 L490.1 969.6 L491.2 969.9 L492.3 970.3 L493.5 970.7 L494.6 971.0 L495.7 971.4 L496.9 971.7 L498.0 972.0 L499.2 972.4 L500.3 972.7 L501.4 973.0 L502.6 973.3 L503.7 973.6 L504.8 973.9 L506.0 974.2 L507.1 974.5 L508.2 974.8 L509.4 975.1 L510.5 975.3 L511.7 975.6 L512.8 975.9 L513.9 976.1 L515.1 976.4 L516.2 976.6 L517.3 976.8 L518.5 977.0 L519.6 977.3 L520.7 977.5 L521.9 977.7 L523.0 977.9 L524.1 978.1 L525.3 978.3 L526.4 978.5 L527.6 978.6 L528.7 978.8 L529.8 979.0 L531.0 979.1 L532.1 979.3 L533.2 979.4 L534.4 979.6 L535.5 979.7 L536.6 979.8 L537.8 979.9 L538.9 980.1 L540.1 980.2 L541.2 980.3 L542.3 980.4 L543.5 980.4 L544.6 980.5 L545.7 980.6 L546.9 980.7 L548.0 980.7 L549.1 980.8 L550.3 980.8 L551.4 980.9 L552.6 980.9 L553.7 981.0 L554.8 981.0 L556.0 981.0 L557.1 981.0 L558.2 981.1 L559.4 981.1 L560.5 981.1 L561.6 981.1 L562.8 981.1 L563.9 981.0 L565.1 981.0 L566.2 981.0 L567.3 980.9 L568.5 980.9 L569.6 980.8 L570.7 980.8 L571.9 980.7 L573.0 980.6 L574.1 980.6 L575.3 980.5 L576.4 980.4 L577.5 980.3 L578.7 980.2 L579.8 979.9 L581.0 979.7 L582.1 979.4 L583.2 979.3 L584.4 979.4 L585.5 979.7 L586.6 979.9 L587.8 980.0 L588.9 979.7 L590.0 979.3 L591.2 978.7 L592.3 978.0 L593.5 977.4 L594.6 976.8 L595.7 976.3 L596.9 975.7 L598.0 975.2 L599.1 975.1 L600.3 975.4 L601.4 975.7 L602.5 975.9 L603.7 976.2 L604.8 976.5 L606.0 976.8 L607.1 977.1 L608.2 977.4 L609.4 977.6 L610.5 977.9 L611.6 978.2 L612.8 978.3 L613.9 978.0 L615.0 977.4 L616.2 976.6 L617.3 975.8 L618.5 975.0 L619.6 974.2 L620.7 973.3 L621.9 972.4 L623.0 971.6 L624.1 970.8 L625.3 970.1 L626.4 969.4 L627.5 968.8 L628.7 968.2 L629.8 967.6 L630.9 967.0 L632.1 966.4 L633.2 965.7 L634.4 965.1 L635.5 964.5 L636.6 963.9 L637.8 963.7 L638.9 963.8 L640.0 964.1 L641.2 964.6 L642.3 965.1 L643.4 965.6 L644.6 966.0 L645.7 966.2 L646.9 966.5 L648.0 966.8 L649.1 967.0 L650.3 967.3 L651.4 967.6 L652.5 967.8 L653.7 968.1 L654.8 968.2 L655.9 968.2 L657.1 967.9 L658.2 967.4 L659.4 966.7 L660.5 965.9 L661.6 964.8 L662.8 963.6 L663.9 962.5 L665.0 961.3 L666.2 960.1 L667.3 958.9 L668.4 957.7 L669.6 956.5 L670.7 955.3 L671.9 954.0 L673.0 952.8 L674.1 951.6 L675.3 950.3 L676.4 949.1 L677.5 947.8 L678.7 946.6 L679.8 945.4 L680.9 944.2 L682.1 943.1 L683.2 942.2 L684.3 941.3 L685.5 940.4 L686.6 939.7 L687.8 939.0 L688.9 938.4 L690.0 937.8 L691.2 937.3 L692.3 936.9 L693.4 936.5 L694.6 936.3 L695.7 936.1 L696.8 936.1 L698.0 936.1 L699.1 936.3 L700.3 936.4 L701.4 936.6 L702.5 936.8 L703.7 937.0 L704.8 937.2 L705.9 937.4 L707.1 937.6 L708.2 937.9 L709.3 938.2 L710.5 938.5 L711.6 938.8 L712.8 939.1 L713.9 939.4 L715.0 939.6 L716.2 939.9 L717.3 940.2 L718.4 940.4 L719.6 940.5 L720.7 940.7 L721.8 940.7 L723.0 940.8 L724.1 940.7 L725.3 940.6 L726.4 940.4 L727.5 940.2 L728.7 939.8 L729.8 939.4 L730.9 939.0 L732.1 938.5 L733.2 937.9 L734.3 937.3 L735.5 936.6 L736.6 935.8 L737.7 935.0 L738.9 934.0 L740.0 933.0 L741.2 931.9 L742.3 930.7 L743.4 929.5 L744.6 928.2 L745.7 926.9 L746.8 925.5 L748.0 924.1 L749.1 922.6 L750.2 921.0 L751.4 919.3 L752.5 917.7 L753.7 916.1 L754.8 914.5 L755.9 912.9 L757.1 911.3 L758.2 909.7 L759.3 908.1 L760.5 906.5 L761.6 904.9 L762.7 903.3 L763.9 901.6 L765.0 900.0 L766.2 898.4 L767.3 896.8 L768.4 895.2 L769.6 893.7 L770.7 892.2 L771.8 890.8 L773.0 889.4 L774.1 888.1 L775.2 886.9 L776.4 885.6 L777.5 884.4 L778.6 883.2 L779.8 882.1 L780.9 881.0 L782.1 880.0 L783.2 879.1 L784.3 878.1 L785.5 877.3 L786.6 876.4 L787.7 875.6 L788.9 874.8 L790.0 874.0 L791.1 873.3 L792.3 872.7 L793.4 872.1 L794.6 871.5 L795.7 871.1 L796.8 870.7 L798.0 870.3 L799.1 870.0 L800.2 869.7 L801.4 869.4 L802.5 869.1 L803.6 868.9 L804.8 868.7 L805.9 868.6 L807.1 868.4 L808.2 868.3 L809.3 868.3 L810.5 868.2 L811.6 868.2 L812.7 868.3 L813.9 868.4 L815.0 868.5 L816.1 868.7 L817.3 868.9 L818.4 869.2 L819.6 869.5 L820.7 869.8 L821.8 870.2 L823.0 870.6 L824.1 871.0 L825.2 871.4 L826.4 871.8 L827.5 872.4 L828.6 872.9 L829.8 873.5 L830.9 874.1 L832.0 874.8 L833.2 875.5 L834.3 876.2 L835.5 876.9 L836.6 877.6 L837.7 878.4 L838.9 879.1 L840.0 879.8 L841.1 880.5 L842.3 881.2 L843.4 882.0 L844.5 882.7 L845.7 883.4 L846.8 884.1 L848.0 884.9 L849.1 885.6 L850.2 886.4 L851.4 887.1 L852.5 887.8 L853.6 888.6 L854.8 889.3 L855.9 890.1 L857.0 890.8 L858.2 891.5 L859.3 892.3 L860.5 893.0 L861.6 893.7 L862.7 894.5 L863.9 895.2 L865.0 896.0 L866.1 896.7 L867.3 897.4 L868.4 898.2 L869.5 898.9 L870.7 899.7 L871.8 900.4 L873.0 901.1 L874.1 901.9 L875.2 902.6 L876.4 903.3 L877.5 904.1 L878.6 904.8 L879.8 905.5 L880.9 906.2 L882.0 906.9 L883.2 907.5 L884.3 908.1 L885.4 908.8 L886.6 909.4 L887.7 910.0 L888.9 910.5 L890.0 911.1 L891.1 911.7 L892.3 912.3 L893.4 912.8 L894.5 913.4 L895.7 914.0 L896.8 914.5 L897.9 915.0 L899.1 915.6 L900.2 916.1 L901.4 916.6 L902.5 917.1 L903.6 917.6 L904.8 918.1 L905.9 918.5"/>
</g>
<line class="t" x1="89.0" y1="1029.0" x2="89.0" y2="1041.0"/>
<text class="tk" text-anchor="middle" x="89.6" y="1078.8">0</text>
<line class="t" x1="225.1" y1="1029.0" x2="225.1" y2="1041.0"/>
<text class="tk" text-anchor="middle" x="225.7" y="1078.8">10</text>
<line class="t" x1="361.3" y1="1029.0" x2="361.3" y2="1041.0"/>
<text class="tk" text-anchor="middle" x="361.9" y="1078.8">20</text>
<line class="t" x1="497.4" y1="1029.0" x2="497.4" y2="1041.0"/>
<text class="tk" text-anchor="middle" x="498.1" y="1078.8">30</text>
<line class="t" x1="633.6" y1="1029.0" x2="633.6" y2="1041.0"/>
<text class="tk" text-anchor="middle" x="634.2" y="1078.8">40</text>
<line class="t" x1="769.8" y1="1029.0" x2="769.8" y2="1041.0"/>
<text class="tk" text-anchor="middle" x="770.4" y="1078.8">50</text>
<line class="t" x1="905.9" y1="1029.0" x2="905.9" y2="1041.0"/>
<text class="tk" text-anchor="middle" x="906.5" y="1078.8">60</text>
<line class="t" x1="77.0" y1="992.1" x2="89.0" y2="992.1"/>
<text class="tk" text-anchor="end" x="66.7" y="1005.7">−1</text>
<line class="t" x1="77.0" y1="918.2" x2="89.0" y2="918.2"/>
<text class="tk" text-anchor="end" x="66.7" y="931.8">0</text>
<line class="t" x1="77.0" y1="844.3" x2="89.0" y2="844.3"/>
<text class="tk" text-anchor="end" x="66.7" y="857.9">1</text>
<rect class="sp" x="89.0" y="807.4" width="816.9" height="221.6"/>
<text class="tt" y="788.0"><tspan class="it" x="438.6">t</tspan> <tspan x="463.1">=</tspan> <tspan x="503.9">24</tspan></text>
</g>
<g>
<clipPath id="cp5"><rect x="1036.4" y="807.4" width="816.9" height="221.6"/></clipPath>
<g clip-path="url(#cp5)">
<path class="c" stroke="#d62728" d="M1036.4 918.2 L1037.6 917.4 L1038.7 916.6 L1039.8 915.8 L1041.0 915.0 L1042.1 914.3 L1043.2 913.5 L1044.4 912.7 L1045.5 912.0 L1046.7 911.3 L1047.8 910.5 L1048.9 909.8 L1050.1 909.1 L1051.2 908.3 L1052.4 907.6 L1053.5 906.8 L1054.6 906.1 L1055.8 905.4 L1056.9 904.6 L1058.0 903.9 L1059.2 903.1 L1060.3 902.4 L1061.5 901.7 L1062.6 900.9 L1063.7 900.2 L1064.9 899.5 L1066.0 898.8 L1067.1 898.1 L1068.3 897.4 L1069.4 896.7 L1070.6 896.0 L1071.7 895.4 L1072.8 894.7 L1074.0 894.0 L1075.1 893.4 L1076.2 892.7 L1077.4 892.1 L1078.5 891.4 L1079.7 890.8 L1080.8 890.2 L1081.9 889.5 L1083.1 888.9 L1084.2 888.3 L1085.3 887.7 L1086.5 887.1 L1087.6 886.4 L1088.8 885.8 L1089.9 885.3 L1091.0 884.7 L1092.2 884.1 L1093.3 883.6 L1094.4 883.0 L1095.6 882.5 L1096.7 882.0 L1097.9 881.5 L1099.0 881.1 L1100.1 880.6 L1101.3 880.2 L1102.4 879.8 L1103.5 879.3 L1104.7 878.9 L1105.8 878.5 L1107.0 878.1 L1108.1 877.7 L1109.2 877.4 L1110.4 877.0 L1111.5 876.7 L1112.6 876.4 L1113.8 876.1 L1114.9 875.8 L1116.1 875.5 L1117.2 875.3 L1118.3 875.0 L1119.5 874.8 L1120.6 874.6 L1121.8 874.5 L1122.9 874.3 L1124.0 874.2 L1125.2 874.0 L1126.3 873.9 L1127.4 873.8 L1128.6 873.7 L1129.7 873.6 L1130.9 873.5 L1132.0 873.5 L1133.1 873.4 L1134.3 873.4 L1135.4 873.4 L1136.5 873.4 L1137.7 873.4 L1138.8 873.5 L1140.0 873.6 L1141.1 873.7 L1142.2 873.8 L1143.4 874.0 L1144.5 874.1 L1145.6 874.3 L1146.8 874.6 L1147.9 874.8 L1149.1 875.1 L1150.2 875.4 L1151.3 875.8 L1152.5 876.1 L1153.6 876.5 L1154.7 876.9 L1155.9 877.3 L1157.0 877.8 L1158.2 878.3 L1159.3 878.8 L1160.4 879.4 L1161.6 879.9 L1162.7 880.5 L1163.8 881.2 L1165.0 881.8 L1166.1 882.4 L1167.3 883.1 L1168.4 883.7 L1169.5 884.4 L1170.7 885.1 L1171.8 885.8 L1172.9 886.5 L1174.1 887.2 L1175.2 887.9 L1176.4 888.6 L1177.5 889.3 L1178.6 889.9 L1179.8 890.5 L1180.9 891.1 L1182.0 891.7 L1183.2 892.3 L1184.3 893.0 L1185.5 893.6 L1186.6 894.3 L1187.7 895.1 L1188.9 895.8 L1190.0 896.6 L1191.2 897.4 L1192.3 898.2 L1193.4 899.0 L1194.6 899.8 L1195.7 900.6 L1196.8 901.4 L1198.0 902.3 L1199.1 903.1 L1200.3 904.0 L1201.4 904.8 L1202.5 905.7 L1203.7 906.6 L1204.8 907.4 L1205.9 908.3 L1207.1 909.1 L1208.2 910.0 L1209.4 910.8 L1210.5 911.7 L1211.6 912.5 L1212.8 913.4 L1213.9 914.2 L1215.0 915.0 L1216.2 915.9 L1217.3 916.7 L1218.5 917.4 L1219.6 918.2 L1220.7 919.0 L1221.9 919.7 L1223.0 920.3 L1224.1 920.9 L1225.3 921.3 L1226.4 921.8 L1227.6 922.1 L1228.7 922.5 L1229.8 922.7 L1231.0 923.0 L1232.1 923.3 L1233.2 923.5 L1234.4 923.7 L1235.5 923.9 L1236.7 924.0 L1237.8 924.1 L1238.9 924.2 L1240.1 924.3 L1241.2 924.3 L1242.3 924.3 L1243.5 924.3 L1244.6 924.2 L1245.8 924.0 L1246.9 923.9 L1248.0 923.7 L1249.2 923.4 L1250.3 923.1 L1251.5 922.8 L1252.6 922.4 L1253.7 922.0 L1254.9 921.5 L1256.0 921.0 L1257.1 920.5 L1258.3 919.9 L1259.4 919.4 L1260.6 918.8 L1261.7 918.1 L1262.8 917.4 L1264.0 916.6 L1265.1 915.8 L1266.2 914.8 L1267.4 913.8 L1268.5 912.9 L1269.7 911.8 L1270.8 910.8 L1271.9 909.8 L1273.1 908.8 L1274.2 907.7 L1275.3 906.6 L1276.5 905.5 L1277.6 904.4 L1278.8 903.4 L1279.9 902.4 L1281.0 901.6 L1282.2 900.9 L1283.3 900.2 L1284.4 899.6 L1285.6 899.1 L1286.7 898.6 L1287.9 898.2 L1289.0 897.8 L1290.1 897.4 L1291.3 897.2 L1292.4 897.0 L1293.5 896.8 L1294.7 896.7 L1295.8 896.5 L1297.0 896.5 L1298.1 896.4 L1299.2 896.4 L1300.4 896.4 L1301.5 896.4 L1302.6 896.5 L1303.8 896.6 L1304.9 896.7 L1306.1 897.0 L1307.2 897.2 L1308.3 897.6 L1309.5 897.9 L1310.6 898.4 L1311.7 898.9 L1312.9 899.4 L1314.0 900.0 L1315.2 900.6 L1316.3 901.2 L1317.4 901.9 L1318.6 902.6 L1319.7 903.3 L1320.9 904.0 L1322.0 904.7 L1323.1 905.4 L1324.3 906.1 L1325.4 906.8 L1326.5 907.5 L1327.7 908.2 L1328.8 908.9 L1330.0 909.6 L1331.1 910.3 L1332.2 911.0 L1333.4 911.6 L1334.5 912.2 L1335.6 912.7 L1336.8 913.1 L1337.9 913.5 L1339.1 913.8 L1340.2 914.1 L1341.3 914.4 L1342.5 914.5 L1343.6 914.6 L1344.7 914.5 L1345.9 914.4 L1347.0 914.3 L1348.2 914.0 L1349.3 913.8 L1350.4 913.5 L1351.6 913.2 L1352.7 912.9 L1353.8 912.6 L1355.0 912.1 L1356.1 911.6 L1357.3 910.9 L1358.4 910.3 L1359.5 909.6 L1360.7 908.9 L1361.8 908.2 L1362.9 907.6 L1364.1 907.0 L1365.2 906.4 L1366.4 905.8 L1367.5 905.3 L1368.6 904.7 L1369.8 904.2 L1370.9 903.7 L1372.0 903.2 L1373.2 902.8 L1374.3 902.5 L1375.5 902.4 L1376.6 902.4 L1377.7 902.5 L1378.9 902.7 L1380.0 903.0 L1381.1 903.3 L1382.3 903.7 L1383.4 904.2 L1384.6 904.7 L1385.7 905.3 L1386.8 905.9 L1388.0 906.6 L1389.1 907.2 L1390.3 907.9 L1391.4 908.5 L1392.5 909.0 L1393.7 909.5 L1394.8 909.9 L1395.9 910.4 L1397.1 910.8 L1398.2 911.1 L1399.4 911.4 L1400.5 911.6 L1401.6 911.7 L1402.8 911.6 L1403.9 911.5 L1405.0 911.2 L1406.2 910.9 L1407.3 910.6 L1408.5 910.2 L1409.6 909.7 L1410.7 909.2 L1411.9 908.6 L1413.0 908.0 L1414.1 907.5 L1415.3 907.0 L1416.4 906.5 L1417.6 906.2 L1418.7 905.9 L1419.8 905.8 L1421.0 905.9 L1422.1 906.2 L1423.2 906.4 L1424.4 906.8 L1425.5 907.1 L1426.7 907.4 L1427.8 907.8 L1428.9 908.2 L1430.1 908.6 L1431.2 909.0 L1432.3 909.3 L1433.5 909.5 L1434.6 909.4 L1435.8 909.1 L1436.9 908.6 L1438.0 908.2 L1439.2 907.9 L1440.3 907.6 L1441.4 907.4 L1442.6 907.3 L1443.7 907.3 L1444.9 907.5 L1446.0 907.7 L1447.1 907.5 L1448.3 907.2 L1449.4 907.5 L1450.5 907.9 L1451.7 908.3 L1452.8 908.7 L1454.0 909.2 L1455.1 909.7 L1456.2 909.9 L1457.4 909.8 L1458.5 909.4 L1459.7 908.9 L1460.8 908.4 L1461.9 907.9 L1463.1 907.5 L1464.2 907.0 L1465.3 906.5 L1466.5 906.1 L1467.6 905.8 L1468.8 905.7 L1469.9 905.8 L1471.0 906.0 L1472.2 906.3 L1473.3 906.7 L1474.4 907.2 L1475.6 907.7 L1476.7 908.3 L1477.9 908.9 L1479.0 909.5 L1480.1 910.1 L1481.3 910.6 L1482.4 911.1 L1483.5 911.6 L1484.7 911.9 L1485.8 912.2 L1487.0 912.3 L1488.1 912.4 L1489.2 912.3 L1490.4 912.2 L1491.5 911.9 L1492.6 911.5 L1493.8 910.9 L1494.9 910.3 L1496.1 909.7 L1497.2 909.0 L1498.3 908.4 L1499.5 907.8 L1500.6 907.1 L1501.7 906.5 L1502.9 905.9 L1504.0 905.2 L1505.2 904.6 L1506.3 904.0 L1507.4 903.4 L1508.6 902.8 L1509.7 902.5 L1510.8 902.4 L1512.0 902.4 L1513.1 902.6 L1514.3 902.7 L1515.4 902.9 L1516.5 903.2 L1517.7 903.7 L1518.8 904.3 L1520.0 904.9 L1521.1 905.6 L1522.2 906.3 L1523.4 907.0 L1524.5 907.7 L1525.6 908.4 L1526.8 909.0 L1527.9 909.7 L1529.1 910.3 L1530.2 911.0 L1531.3 911.6 L1532.5 912.3 L1533.6 912.9 L1534.7 913.5 L1535.9 914.0 L1537.0 914.4 L1538.2 914.8 L1539.3 915.0 L1540.4 915.2 L1541.6 915.4 L1542.7 915.6 L1543.8 915.7 L1545.0 915.8 L1546.1 915.7 L1547.3 915.6 L1548.4 915.4 L1549.5 915.1 L1550.7 914.8 L1551.8 914.3 L1552.9 913.8 L1554.1 913.1 L1555.2 912.5 L1556.4 911.9 L1557.5 911.2 L1558.6 910.6 L1559.8 910.0 L1560.9 909.3 L1562.0 908.7 L1563.2 908.2 L1564.3 907.6 L1565.5 907.0 L1566.6 906.4 L1567.7 905.8 L1568.9 905.2 L1570.0 904.6 L1571.1 904.0 L1572.3 903.4 L1573.4 902.8 L1574.6 902.3 L1575.7 901.7 L1576.8 901.1 L1578.0 900.5 L1579.1 900.0 L1580.2 899.4 L1581.4 898.9 L1582.5 898.3 L1583.7 897.8 L1584.8 897.3 L1585.9 896.8 L1587.1 896.3 L1588.2 896.0 L1589.4 896.0 L1590.5 896.2 L1591.6 896.6 L1592.8 897.1 L1593.9 897.8 L1595.0 898.6 L1596.2 899.4 L1597.3 900.2 L1598.5 901.1 L1599.6 902.0 L1600.7 902.9 L1601.9 903.9 L1603.0 904.8 L1604.1 905.7 L1605.3 906.6 L1606.4 907.4 L1607.6 908.2 L1608.7 909.0 L1609.8 909.8 L1611.0 910.5 L1612.1 911.3 L1613.2 912.0 L1614.4 912.7 L1615.5 913.5 L1616.7 914.2 L1617.8 914.8 L1618.9 915.5 L1620.1 916.1 L1621.2 916.8 L1622.3 917.4 L1623.5 917.9 L1624.6 918.5 L1625.8 919.0 L1626.9 919.5 L1628.0 919.9 L1629.2 920.3 L1630.3 920.7 L1631.4 921.1 L1632.6 921.4 L1633.7 921.7 L1634.9 921.9 L1636.0 922.2 L1637.1 922.4 L1638.3 922.5 L1639.4 922.7 L1640.5 922.8 L1641.7 922.9 L1642.8 923.0 L1644.0 923.1 L1645.1 923.2 L1646.2 923.2 L1647.4 923.2 L1648.5 923.2 L1649.6 923.2 L1650.8 923.1 L1651.9 923.1 L1653.1 923.0 L1654.2 922.8 L1655.3 922.7 L1656.5 922.5 L1657.6 922.2 L1658.8 921.9 L1659.9 921.6 L1661.0 921.2 L1662.2 920.7 L1663.3 920.2 L1664.4 919.7 L1665.6 919.2 L1666.7 918.7 L1667.9 918.1 L1669.0 917.5 L1670.1 916.9 L1671.3 916.2 L1672.4 915.6 L1673.5 914.9 L1674.7 914.2 L1675.8 913.5 L1677.0 912.8 L1678.1 912.1 L1679.2 911.4 L1680.4 910.7 L1681.5 910.0 L1682.6 909.3 L1683.8 908.6 L1684.9 907.9 L1686.1 907.3 L1687.2 906.6 L1688.3 905.9 L1689.5 905.2 L1690.6 904.5 L1691.7 903.8 L1692.9 903.1 L1694.0 902.4 L1695.2 901.8 L1696.3 901.1 L1697.4 900.4 L1698.6 899.7 L1699.7 899.0 L1700.8 898.4 L1702.0 897.7 L1703.1 897.0 L1704.3 896.3 L1705.4 895.7 L1706.5 895.1 L1707.7 894.5 L1708.8 893.9 L1709.9 893.3 L1711.1 892.8 L1712.2 892.2 L1713.4 891.7 L1714.5 891.2 L1715.6 890.6 L1716.8 890.1 L1717.9 889.6 L1719.0 889.1 L1720.2 888.7 L1721.3 888.3 L1722.5 887.9 L1723.6 887.5 L1724.7 887.1 L1725.9 886.8 L1727.0 886.4 L1728.2 886.1 L1729.3 885.8 L1730.4 885.6 L1731.6 885.3 L1732.7 885.1 L1733.8 884.8 L1735.0 884.6 L1736.1 884.4 L1737.3 884.2 L1738.4 884.1 L1739.5 883.9 L1740.7 883.8 L1741.8 883.7 L1742.9 883.6 L1744.1 883.5 L1745.2 883.4 L1746.4 883.4 L1747.5 883.4 L1748.6 883.4 L1749.8 883.4 L1750.9 883.4 L1752.0 883.4 L1753.2 883.5 L1754.3 883.5 L1755.5 883.6 L1756.6 883.7 L1757.7 883.8 L1758.9 884.0 L1760.0 884.1 L1761.1 884.3 L1762.3 884.5 L1763.4 884.7 L1764.6 884.9 L1765.7 885.2 L1766.8 885.4 L1768.0 885.7 L1769.1 886.0 L1770.2 886.3 L1771.4 886.6 L1772.5 886.9 L1773.7 887.2 L1774.8 887.5 L1775.9 887.9 L1777.1 888.2 L1778.2 888.6 L1779.3 889.0 L1780.5 889.4 L1781.6 889.8 L1782.8 890.3 L1783.9 890.7 L1785.0 891.1 L1786.2 891.5 L1787.3 892.0 L1788.5 892.4 L1789.6 892.8 L1790.7 893.3 L1791.9 893.7 L1793.0 894.2 L1794.1 894.7 L1795.3 895.1 L1796.4 895.6 L1797.6 896.1 L1798.7 896.6 L1799.8 897.1 L1801.0 897.6 L1802.1 898.1 L1803.2 898.7 L1804.4 899.2 L1805.5 899.7 L1806.7 900.2 L1807.8 900.8 L1808.9 901.3 L1810.1 901.8 L1811.2 902.4 L1812.3 902.9 L1813.5 903.4 L1814.6 903.9 L1815.8 904.4 L1816.9 904.9 L1818.0 905.4 L1819.2 905.9 L1820.3 906.4 L1821.4 906.9 L1822.6 907.4 L1823.7 907.9 L1824.9 908.4 L1826.0 908.9 L1827.1 909.3 L1828.3 909.8 L1829.4 910.3 L1830.5 910.7 L1831.7 911.2 L1832.8 911.6 L1834.0 912.1 L1835.1 912.5 L1836.2 913.0 L1837.4 913.4 L1838.5 913.8 L1839.6 914.2 L1840.8 914.6 L1841.9 915.0 L1843.1 915.4 L1844.2 915.8 L1845.3 916.1 L1846.5 916.5 L1847.6 916.9 L1848.7 917.2 L1849.9 917.5 L1851.0 917.9 L1852.2 918.2 L1853.3 918.5"/>
<path class="c" stroke="#1f77b4" d="M1036.4 918.5 L1037.6 916.7 L1038.7 914.9 L1039.8 913.2 L1041.0 911.4 L1042.1 909.7 L1043.2 908.0 L1044.4 906.3 L1045.5 904.6 L1046.7 902.9 L1047.8 901.3 L1048.9 899.6 L1050.1 898.0 L1051.2 896.3 L1052.4 894.7 L1053.5 893.1 L1054.6 891.5 L1055.8 890.0 L1056.9 888.4 L1058.0 886.9 L1059.2 885.4 L1060.3 883.9 L1061.5 882.4 L1062.6 881.0 L1063.7 879.6 L1064.9 878.2 L1066.0 876.8 L1067.1 875.5 L1068.3 874.1 L1069.4 872.8 L1070.6 871.5 L1071.7 870.2 L1072.8 869.0 L1074.0 867.7 L1075.1 866.5 L1076.2 865.2 L1077.4 864.0 L1078.5 862.8 L1079.7 861.6 L1080.8 860.5 L1081.9 859.4 L1083.1 858.2 L1084.2 857.2 L1085.3 856.1 L1086.5 855.0 L1087.6 854.0 L1088.8 852.9 L1089.9 851.9 L1091.0 850.9 L1092.2 850.0 L1093.3 849.0 L1094.4 848.0 L1095.6 847.1 L1096.7 846.2 L1097.9 845.3 L1099.0 844.4 L1100.1 843.5 L1101.3 842.6 L1102.4 841.8 L1103.5 841.0 L1104.7 840.2 L1105.8 839.4 L1107.0 838.7 L1108.1 838.0 L1109.2 837.3 L1110.4 836.6 L1111.5 835.9 L1112.6 835.3 L1113.8 834.6 L1114.9 834.0 L1116.1 833.4 L1117.2 832.8 L1118.3 832.2 L1119.5 831.6 L1120.6 831.1 L1121.8 830.6 L1122.9 830.1 L1124.0 829.6 L1125.2 829.1 L1126.3 828.7 L1127.4 828.3 L1128.6 827.9 L1129.7 827.5 L1130.9 827.1 L1132.0 826.8 L1133.1 826.5 L1134.3 826.2 L1135.4 825.9 L1136.5 825.6 L1137.7 825.4 L1138.8 825.2 L1140.0 825.0 L1141.1 824.8 L1142.2 824.6 L1143.4 824.5 L1144.5 824.3 L1145.6 824.2 L1146.8 824.1 L1147.9 824.0 L1149.1 823.9 L1150.2 823.8 L1151.3 823.8 L1152.5 823.8 L1153.6 823.7 L1154.7 823.7 L1155.9 823.8 L1157.0 823.8 L1158.2 823.9 L1159.3 824.0 L1160.4 824.1 L1161.6 824.2 L1162.7 824.3 L1163.8 824.5 L1165.0 824.7 L1166.1 824.9 L1167.3 825.1 L1168.4 825.3 L1169.5 825.6 L1170.7 825.9 L1171.8 826.2 L1172.9 826.5 L1174.1 826.8 L1175.2 827.2 L1176.4 827.5 L1177.5 827.9 L1178.6 828.4 L1179.8 828.8 L1180.9 829.3 L1182.0 829.8 L1183.2 830.3 L1184.3 830.9 L1185.5 831.4 L1186.6 832.0 L1187.7 832.7 L1188.9 833.3 L1190.0 834.0 L1191.2 834.7 L1192.3 835.4 L1193.4 836.2 L1194.6 836.9 L1195.7 837.7 L1196.8 838.6 L1198.0 839.4 L1199.1 840.3 L1200.3 841.2 L1201.4 842.2 L1202.5 843.2 L1203.7 844.2 L1204.8 845.3 L1205.9 846.4 L1207.1 847.5 L1208.2 848.6 L1209.4 849.8 L1210.5 850.9 L1211.6 852.1 L1212.8 853.3 L1213.9 854.4 L1215.0 855.6 L1216.2 856.8 L1217.3 858.0 L1218.5 859.2 L1219.6 860.4 L1220.7 861.6 L1221.9 862.8 L1223.0 864.1 L1224.1 865.3 L1225.3 866.6 L1226.4 867.8 L1227.6 869.1 L1228.7 870.4 L1229.8 871.6 L1231.0 872.8 L1232.1 874.0 L1233.2 875.2 L1234.4 876.4 L1235.5 877.6 L1236.7 878.8 L1237.8 880.0 L1238.9 881.1 L1240.1 882.3 L1241.2 883.4 L1242.3 884.5 L1243.5 885.5 L1244.6 886.6 L1245.8 887.6 L1246.9 888.6 L1248.0 889.6 L1249.2 890.6 L1250.3 891.5 L1251.5 892.4 L1252.6 893.3 L1253.7 894.1 L1254.9 894.9 L1256.0 895.6 L1257.1 896.4 L1258.3 897.0 L1259.4 897.7 L1260.6 898.3 L1261.7 898.9 L1262.8 899.5 L1264.0 900.1 L1265.1 900.6 L1266.2 901.1 L1267.4 901.6 L1268.5 902.0 L1269.7 902.5 L1270.8 902.9 L1271.9 903.2 L1273.1 903.6 L1274.2 903.9 L1275.3 904.2 L1276.5 904.5 L1277.6 904.7 L1278.8 905.0 L1279.9 905.1 L1281.0 905.3 L1282.2 905.4 L1283.3 905.6 L1284.4 905.7 L1285.6 905.9 L1286.7 906.0 L1287.9 906.1 L1289.0 906.3 L1290.1 906.4 L1291.3 906.5 L1292.4 906.6 L1293.5 906.7 L1294.7 906.8 L1295.8 906.9 L1297.0 907.0 L1298.1 907.2 L1299.2 907.3 L1300.4 907.5 L1301.5 907.7 L1302.6 907.9 L1303.8 908.1 L1304.9 908.4 L1306.1 908.6 L1307.2 909.0 L1308.3 909.3 L1309.5 909.8 L1310.6 910.3 L1311.7 910.8 L1312.9 911.4 L1314.0 912.1 L1315.2 912.8 L1316.3 913.5 L1317.4 914.3 L1318.6 915.2 L1319.7 916.2 L1320.9 917.2 L1322.0 918.2 L1323.1 919.3 L1324.3 920.3 L1325.4 921.5 L1326.5 922.6 L1327.7 923.8 L1328.8 925.1 L1330.0 926.3 L1331.1 927.5 L1332.2 928.7 L1333.4 929.9 L1334.5 931.0 L1335.6 932.2 L1336.8 933.3 L1337.9 934.4 L1339.1 935.6 L1340.2 936.7 L1341.3 937.8 L1342.5 938.9 L1343.6 940.0 L1344.7 941.1 L1345.9 942.1 L1347.0 943.0 L1348.2 943.9 L1349.3 944.7 L1350.4 945.5 L1351.6 946.4 L1352.7 947.1 L1353.8 947.9 L1355.0 948.6 L1356.1 949.2 L1357.3 949.8 L1358.4 950.4 L1359.5 950.9 L1360.7 951.4 L1361.8 951.8 L1362.9 952.1 L1364.1 952.5 L1365.2 952.8 L1366.4 953.0 L1367.5 953.3 L1368.6 953.6 L1369.8 953.8 L1370.9 954.0 L1372.0 954.2 L1373.2 954.3 L1374.3 954.4 L1375.5 954.4 L1376.6 954.4 L1377.7 954.5 L1378.9 954.6 L1380.0 954.7 L1381.1 954.9 L1382.3 955.1 L1383.4 955.5 L1384.6 955.9 L1385.7 956.5 L1386.8 957.2 L1388.0 957.9 L1389.1 958.7 L1390.3 959.5 L1391.4 960.3 L1392.5 961.2 L1393.7 962.0 L1394.8 962.9 L1395.9 963.8 L1397.1 964.8 L1398.2 965.7 L1399.4 966.6 L1400.5 967.5 L1401.6 968.4 L1402.8 969.2 L1403.9 969.9 L1405.0 970.5 L1406.2 971.1 L1407.3 971.5 L1408.5 971.9 L1409.6 972.1 L1410.7 972.3 L1411.9 972.4 L1413.0 972.5 L1414.1 972.6 L1415.3 972.5 L1416.4 972.3 L1417.6 972.0 L1418.7 971.9 L1419.8 971.9 L1421.0 972.2 L1422.1 972.6 L1423.2 973.1 L1424.4 973.6 L1425.5 974.1 L1426.7 974.7 L1427.8 975.2 L1428.9 975.8 L1430.1 976.4 L1431.2 977.0 L1432.3 977.5 L1433.5 978.0 L1434.6 978.3 L1435.8 978.5 L1436.9 978.7 L1438.0 978.8 L1439.2 978.6 L1440.3 978.4 L1441.4 978.2 L1442.6 978.2 L1443.7 978.4 L1444.9 978.8 L1446.0 979.2 L1447.1 979.6 L1448.3 980.0 L1449.4 980.2 L1450.5 980.3 L1451.7 980.1 L1452.8 979.6 L1454.0 978.9 L1455.1 978.4 L1456.2 978.0 L1457.4 977.7 L1458.5 977.8 L1459.7 978.4 L1460.8 979.4 L1461.9 980.4 L1463.1 981.3 L1464.2 982.1 L1465.3 982.8 L1466.5 983.4 L1467.6 983.7 L1468.8 983.6 L1469.9 983.3 L1471.0 982.8 L1472.2 982.3 L1473.3 981.7 L1474.4 981.1 L1475.6 980.4 L1476.7 979.7 L1477.9 979.0 L1479.0 978.4 L1480.1 977.8 L1481.3 977.4 L1482.4 977.1 L1483.5 977.0 L1484.7 977.2 L1485.8 977.5 L1487.0 977.9 L1488.1 978.3 L1489.2 978.7 L1490.4 979.1 L1491.5 979.6 L1492.6 980.0 L1493.8 980.5 L1494.9 981.0 L1496.1 981.4 L1497.2 981.9 L1498.3 982.1 L1499.5 982.2 L1500.6 982.2 L1501.7 982.0 L1502.9 981.8 L1504.0 981.4 L1505.2 980.9 L1506.3 980.3 L1507.4 979.5 L1508.6 978.7 L1509.7 977.8 L1510.8 976.8 L1512.0 975.9 L1513.1 975.1 L1514.3 974.3 L1515.4 973.5 L1516.5 972.8 L1517.7 972.1 L1518.8 971.4 L1520.0 970.7 L1521.1 970.1 L1522.2 969.6 L1523.4 969.1 L1524.5 968.7 L1525.6 968.3 L1526.8 968.0 L1527.9 967.8 L1529.1 967.5 L1530.2 967.3 L1531.3 967.2 L1532.5 967.1 L1533.6 967.1 L1534.7 967.2 L1535.9 967.4 L1537.0 967.6 L1538.2 967.9 L1539.3 968.1 L1540.4 968.2 L1541.6 968.4 L1542.7 968.4 L1543.8 968.5 L1545.0 968.5 L1546.1 968.6 L1547.3 968.6 L1548.4 968.5 L1549.5 968.5 L1550.7 968.4 L1551.8 968.2 L1552.9 967.9 L1554.1 967.5 L1555.2 967.0 L1556.4 966.3 L1557.5 965.6 L1558.6 964.9 L1559.8 964.1 L1560.9 963.2 L1562.0 962.4 L1563.2 961.5 L1564.3 960.6 L1565.5 959.7 L1566.6 958.8 L1567.7 957.9 L1568.9 957.0 L1570.0 956.1 L1571.1 955.1 L1572.3 954.2 L1573.4 953.3 L1574.6 952.4 L1575.7 951.5 L1576.8 950.6 L1578.0 949.7 L1579.1 948.9 L1580.2 948.0 L1581.4 947.1 L1582.5 946.2 L1583.7 945.3 L1584.8 944.4 L1585.9 943.6 L1587.1 942.7 L1588.2 941.8 L1589.4 941.0 L1590.5 940.2 L1591.6 939.5 L1592.8 938.9 L1593.9 938.3 L1595.0 937.8 L1596.2 937.3 L1597.3 936.9 L1598.5 936.4 L1599.6 936.0 L1600.7 935.7 L1601.9 935.3 L1603.0 935.0 L1604.1 934.7 L1605.3 934.4 L1606.4 934.2 L1607.6 934.0 L1608.7 933.9 L1609.8 933.7 L1611.0 933.6 L1612.1 933.4 L1613.2 933.3 L1614.4 933.1 L1615.5 933.0 L1616.7 932.8 L1617.8 932.6 L1618.9 932.5 L1620.1 932.3 L1621.2 932.2 L1622.3 932.0 L1623.5 931.9 L1624.6 931.7 L1625.8 931.5 L1626.9 931.4 L1628.0 931.2 L1629.2 931.0 L1630.3 930.9 L1631.4 930.6 L1632.6 930.3 L1633.7 930.0 L1634.9 929.5 L1636.0 929.0 L1637.1 928.5 L1638.3 927.9 L1639.4 927.4 L1640.5 926.8 L1641.7 926.1 L1642.8 925.5 L1644.0 924.8 L1645.1 924.1 L1646.2 923.3 L1647.4 922.6 L1648.5 921.7 L1649.6 920.9 L1650.8 920.0 L1651.9 919.0 L1653.1 918.1 L1654.2 917.2 L1655.3 916.2 L1656.5 915.2 L1657.6 914.2 L1658.8 913.2 L1659.9 912.2 L1661.0 911.1 L1662.2 910.0 L1663.3 908.9 L1664.4 907.8 L1665.6 906.6 L1666.7 905.5 L1667.9 904.4 L1669.0 903.2 L1670.1 902.0 L1671.3 900.9 L1672.4 899.8 L1673.5 898.6 L1674.7 897.5 L1675.8 896.4 L1677.0 895.3 L1678.1 894.2 L1679.2 893.1 L1680.4 892.1 L1681.5 891.0 L1682.6 889.9 L1683.8 888.9 L1684.9 887.8 L1686.1 886.8 L1687.2 885.8 L1688.3 884.7 L1689.5 883.8 L1690.6 882.8 L1691.7 881.9 L1692.9 881.0 L1694.0 880.2 L1695.2 879.3 L1696.3 878.6 L1697.4 877.8 L1698.6 877.1 L1699.7 876.4 L1700.8 875.7 L1702.0 875.1 L1703.1 874.5 L1704.3 873.9 L1705.4 873.4 L1706.5 872.9 L1707.7 872.5 L1708.8 872.0 L1709.9 871.7 L1711.1 871.3 L1712.2 870.9 L1713.4 870.6 L1714.5 870.3 L1715.6 870.0 L1716.8 869.7 L1717.9 869.4 L1719.0 869.2 L1720.2 868.9 L1721.3 868.7 L1722.5 868.5 L1723.6 868.3 L1724.7 868.2 L1725.9 868.0 L1727.0 867.9 L1728.2 867.8 L1729.3 867.7 L1730.4 867.7 L1731.6 867.6 L1732.7 867.6 L1733.8 867.6 L1735.0 867.6 L1736.1 867.7 L1737.3 867.7 L1738.4 867.8 L1739.5 867.8 L1740.7 867.9 L1741.8 868.1 L1742.9 868.2 L1744.1 868.4 L1745.2 868.6 L1746.4 868.8 L1747.5 869.0 L1748.6 869.2 L1749.8 869.5 L1750.9 869.7 L1752.0 870.0 L1753.2 870.2 L1754.3 870.5 L1755.5 870.8 L1756.6 871.1 L1757.7 871.4 L1758.9 871.8 L1760.0 872.1 L1761.1 872.5 L1762.3 872.8 L1763.4 873.2 L1764.6 873.6 L1765.7 874.0 L1766.8 874.4 L1768.0 874.7 L1769.1 875.1 L1770.2 875.5 L1771.4 875.9 L1772.5 876.3 L1773.7 876.7 L1774.8 877.0 L1775.9 877.4 L1777.1 877.8 L1778.2 878.2 L1779.3 878.5 L1780.5 878.9 L1781.6 879.3 L1782.8 879.6 L1783.9 880.0 L1785.0 880.4 L1786.2 880.7 L1787.3 881.1 L1788.5 881.5 L1789.6 881.8 L1790.7 882.2 L1791.9 882.5 L1793.0 882.9 L1794.1 883.3 L1795.3 883.6 L1796.4 884.0 L1797.6 884.3 L1798.7 884.7 L1799.8 885.0 L1801.0 885.4 L1802.1 885.7 L1803.2 886.1 L1804.4 886.4 L1805.5 886.7 L1806.7 887.1 L1807.8 887.4 L1808.9 887.7 L1810.1 888.0 L1811.2 888.3 L1812.3 888.6 L1813.5 888.9 L1814.6 889.2 L1815.8 889.5 L1816.9 889.8 L1818.0 890.1 L1819.2 890.4 L1820.3 890.7 L1821.4 890.9 L1822.6 891.2 L1823.7 891.4 L1824.9 891.7 L1826.0 891.9 L1827.1 892.1 L1828.3 892.4 L1829.4 892.6 L1830.5 892.8 L1831.7 893.0 L1832.8 893.2 L1834.0 893.4 L1835.1 893.6 L1836.2 893.8 L1837.4 894.0 L1838.5 894.2 L1839.6 894.4 L1840.8 894.6 L1841.9 894.8 L1843.1 895.0 L1844.2 895.2 L1845.3 895.3 L1846.5 895.5 L1847.6 895.7 L1848.7 895.8 L1849.9 896.0 L1851.0 896.2 L1852.2 896.3 L1853.3 896.5"/>
<path class="c" stroke="#000000" d="M1036.4 918.2 L1037.6 916.4 L1038.7 914.7 L1039.8 912.9 L1041.0 911.2 L1042.1 909.5 L1043.2 907.7 L1044.4 906.0 L1045.5 904.4 L1046.7 902.7 L1047.8 901.0 L1048.9 899.4 L1050.1 897.7 L1051.2 896.1 L1052.4 894.5 L1053.5 892.9 L1054.6 891.3 L1055.8 889.7 L1056.9 888.1 L1058.0 886.6 L1059.2 885.1 L1060.3 883.6 L1061.5 882.2 L1062.6 880.7 L1063.7 879.3 L1064.9 877.9 L1066.0 876.6 L1067.1 875.2 L1068.3 873.9 L1069.4 872.6 L1070.6 871.3 L1071.7 870.0 L1072.8 868.7 L1074.0 867.5 L1075.1 866.2 L1076.2 865.0 L1077.4 863.8 L1078.5 862.6 L1079.7 861.4 L1080.8 860.2 L1081.9 859.1 L1083.1 858.0 L1084.2 856.9 L1085.3 855.8 L1086.5 854.8 L1087.6 853.7 L1088.8 852.7 L1089.9 851.7 L1091.0 850.7 L1092.2 849.7 L1093.3 848.7 L1094.4 847.8 L1095.6 846.8 L1096.7 845.9 L1097.9 845.0 L1099.0 844.1 L1100.1 843.2 L1101.3 842.4 L1102.4 841.5 L1103.5 840.7 L1104.7 839.9 L1105.8 839.2 L1107.0 838.4 L1108.1 837.7 L1109.2 837.0 L1110.4 836.3 L1111.5 835.7 L1112.6 835.0 L1113.8 834.4 L1114.9 833.7 L1116.1 833.1 L1117.2 832.5 L1118.3 831.9 L1119.5 831.4 L1120.6 830.8 L1121.8 830.3 L1122.9 829.8 L1124.0 829.3 L1125.2 828.9 L1126.3 828.4 L1127.4 828.0 L1128.6 827.6 L1129.7 827.2 L1130.9 826.9 L1132.0 826.5 L1133.1 826.2 L1134.3 825.9 L1135.4 825.6 L1136.5 825.4 L1137.7 825.1 L1138.8 824.9 L1140.0 824.7 L1141.1 824.5 L1142.2 824.4 L1143.4 824.2 L1144.5 824.1 L1145.6 823.9 L1146.8 823.8 L1147.9 823.7 L1149.1 823.7 L1150.2 823.6 L1151.3 823.5 L1152.5 823.5 L1153.6 823.5 L1154.7 823.5 L1155.9 823.5 L1157.0 823.5 L1158.2 823.6 L1159.3 823.7 L1160.4 823.8 L1161.6 823.9 L1162.7 824.1 L1163.8 824.2 L1165.0 824.4 L1166.1 824.6 L1167.3 824.9 L1168.4 825.2 L1169.5 825.5 L1170.7 825.8 L1171.8 826.1 L1172.9 826.5 L1174.1 826.9 L1175.2 827.3 L1176.4 827.7 L1177.5 828.2 L1178.6 828.7 L1179.8 829.2 L1180.9 829.7 L1182.0 830.2 L1183.2 830.8 L1184.3 831.4 L1185.5 832.0 L1186.6 832.7 L1187.7 833.3 L1188.9 834.1 L1190.0 834.8 L1191.2 835.6 L1192.3 836.4 L1193.4 837.2 L1194.6 838.1 L1195.7 838.9 L1196.8 839.8 L1198.0 840.8 L1199.1 841.8 L1200.3 842.9 L1201.4 844.0 L1202.5 845.1 L1203.7 846.3 L1204.8 847.4 L1205.9 848.6 L1207.1 849.7 L1208.2 850.9 L1209.4 852.1 L1210.5 853.3 L1211.6 854.5 L1212.8 855.8 L1213.9 857.1 L1215.0 858.4 L1216.2 859.7 L1217.3 861.0 L1218.5 862.3 L1219.6 863.6 L1220.7 864.9 L1221.9 866.2 L1223.0 867.5 L1224.1 868.9 L1225.3 870.2 L1226.4 871.5 L1227.6 872.8 L1228.7 874.1 L1229.8 875.4 L1231.0 876.7 L1232.1 878.0 L1233.2 879.2 L1234.4 880.5 L1235.5 881.7 L1236.7 882.9 L1237.8 884.2 L1238.9 885.4 L1240.1 886.6 L1241.2 887.8 L1242.3 888.9 L1243.5 890.0 L1244.6 891.1 L1245.8 892.2 L1246.9 893.3 L1248.0 894.3 L1249.2 895.4 L1250.3 896.3 L1251.5 897.3 L1252.6 898.2 L1253.7 899.2 L1254.9 900.1 L1256.0 901.0 L1257.1 901.8 L1258.3 902.7 L1259.4 903.5 L1260.6 904.3 L1261.7 905.0 L1262.8 905.8 L1264.0 906.4 L1265.1 907.1 L1266.2 907.7 L1267.4 908.3 L1268.5 908.8 L1269.7 909.3 L1270.8 909.8 L1271.9 910.2 L1273.1 910.7 L1274.2 911.0 L1275.3 911.4 L1276.5 911.8 L1277.6 912.2 L1278.8 912.5 L1279.9 912.8 L1281.0 913.1 L1282.2 913.4 L1283.3 913.8 L1284.4 914.1 L1285.6 914.3 L1286.7 914.6 L1287.9 914.9 L1289.0 915.1 L1290.1 915.4 L1291.3 915.6 L1292.4 915.8 L1293.5 916.0 L1294.7 916.3 L1295.8 916.5 L1297.0 916.7 L1298.1 916.9 L1299.2 917.2 L1300.4 917.4 L1301.5 917.6 L1302.6 917.9 L1303.8 918.1 L1304.9 918.3 L1306.1 918.5 L1307.2 918.8 L1308.3 919.3 L1309.5 919.8 L1310.6 920.3 L1311.7 921.0 L1312.9 921.7 L1314.0 922.4 L1315.2 923.2 L1316.3 924.1 L1317.4 925.0 L1318.6 925.9 L1319.7 926.9 L1320.9 927.9 L1322.0 928.9 L1323.1 930.0 L1324.3 931.1 L1325.4 932.3 L1326.5 933.5 L1327.7 934.7 L1328.8 935.9 L1330.0 937.2 L1331.1 938.5 L1332.2 939.7 L1333.4 941.0 L1334.5 942.3 L1335.6 943.6 L1336.8 944.9 L1337.9 946.2 L1339.1 947.5 L1340.2 948.7 L1341.3 949.9 L1342.5 951.2 L1343.6 952.3 L1344.7 953.5 L1345.9 954.7 L1347.0 955.8 L1348.2 956.8 L1349.3 957.8 L1350.4 958.7 L1351.6 959.6 L1352.7 960.4 L1353.8 961.2 L1355.0 961.9 L1356.1 962.6 L1357.3 963.1 L1358.4 963.7 L1359.5 964.1 L1360.7 964.6 L1361.8 965.0 L1362.9 965.3 L1364.1 965.6 L1365.2 965.8 L1366.4 966.0 L1367.5 966.0 L1368.6 966.1 L1369.8 966.2 L1370.9 966.2 L1372.0 966.3 L1373.2 966.4 L1374.3 966.4 L1375.5 966.5 L1376.6 966.5 L1377.7 966.5 L1378.9 966.5 L1380.0 966.6 L1381.1 966.6 L1382.3 966.7 L1383.4 966.9 L1384.6 967.3 L1385.7 967.8 L1386.8 968.4 L1388.0 969.1 L1389.1 969.8 L1390.3 970.6 L1391.4 971.4 L1392.5 972.2 L1393.7 973.0 L1394.8 973.8 L1395.9 974.6 L1397.1 975.4 L1398.2 976.2 L1399.4 976.9 L1400.5 977.7 L1401.6 978.5 L1402.8 979.2 L1403.9 979.9 L1405.0 980.4 L1406.2 980.7 L1407.3 981.0 L1408.5 981.2 L1409.6 981.4 L1410.7 981.4 L1411.9 981.3 L1413.0 981.1 L1414.1 980.9 L1415.3 980.7 L1416.4 980.5 L1417.6 980.3 L1418.7 980.0 L1419.8 979.7 L1421.0 979.4 L1422.1 979.2 L1423.2 979.3 L1424.4 979.5 L1425.5 979.8 L1426.7 980.1 L1427.8 980.5 L1428.9 980.8 L1430.1 981.1 L1431.2 981.5 L1432.3 981.8 L1433.5 982.1 L1434.6 982.5 L1435.8 982.8 L1436.9 983.0 L1438.0 982.8 L1439.2 982.5 L1440.3 982.1 L1441.4 981.8 L1442.6 981.8 L1443.7 981.7 L1444.9 981.6 L1446.0 981.6 L1447.1 981.5 L1448.3 981.5 L1449.4 981.5 L1450.5 981.4 L1451.7 981.4 L1452.8 981.4 L1454.0 981.2 L1455.1 980.6 L1456.2 980.0 L1457.4 979.5 L1458.5 979.2 L1459.7 978.9 L1460.8 978.7 L1461.9 978.7 L1463.1 978.8 L1464.2 979.0 L1465.3 979.1 L1466.5 979.3 L1467.6 979.5 L1468.8 979.6 L1469.9 979.7 L1471.0 979.8 L1472.2 979.8 L1473.3 979.6 L1474.4 979.2 L1475.6 978.5 L1476.7 977.7 L1477.9 976.9 L1479.0 976.0 L1480.1 975.2 L1481.3 974.3 L1482.4 973.4 L1483.5 972.6 L1484.7 971.9 L1485.8 971.2 L1487.0 970.5 L1488.1 970.0 L1489.2 969.6 L1490.4 969.3 L1491.5 969.2 L1492.6 969.1 L1493.8 969.2 L1494.9 969.3 L1496.1 969.5 L1497.2 969.6 L1498.3 969.8 L1499.5 969.8 L1500.6 969.9 L1501.7 969.8 L1502.9 969.7 L1504.0 969.5 L1505.2 969.1 L1506.3 968.5 L1507.4 967.8 L1508.6 966.9 L1509.7 966.0 L1510.8 965.0 L1512.0 964.0 L1513.1 963.0 L1514.3 961.9 L1515.4 960.7 L1516.5 959.6 L1517.7 958.5 L1518.8 957.3 L1520.0 956.2 L1521.1 955.0 L1522.2 953.9 L1523.4 952.8 L1524.5 951.6 L1525.6 950.5 L1526.8 949.4 L1527.9 948.4 L1529.1 947.7 L1530.2 947.2 L1531.3 946.7 L1532.5 946.4 L1533.6 946.0 L1534.7 945.7 L1535.9 945.4 L1537.0 945.2 L1538.2 945.1 L1539.3 945.1 L1540.4 945.1 L1541.6 945.1 L1542.7 945.1 L1543.8 945.1 L1545.0 945.1 L1546.1 945.1 L1547.3 945.0 L1548.4 945.0 L1549.5 944.9 L1550.7 944.8 L1551.8 944.7 L1552.9 944.4 L1554.1 943.9 L1555.2 943.3 L1556.4 942.6 L1557.5 941.9 L1558.6 941.0 L1559.8 940.2 L1560.9 939.2 L1562.0 938.1 L1563.2 936.9 L1564.3 935.6 L1565.5 934.2 L1566.6 932.9 L1567.7 931.5 L1568.9 930.1 L1570.0 928.6 L1571.1 927.1 L1572.3 925.6 L1573.4 924.1 L1574.6 922.6 L1575.7 921.1 L1576.8 919.5 L1578.0 918.0 L1579.1 916.5 L1580.2 915.0 L1581.4 913.5 L1582.5 912.0 L1583.7 910.5 L1584.8 908.9 L1585.9 907.4 L1587.1 906.1 L1588.2 905.0 L1589.4 904.1 L1590.5 903.3 L1591.6 902.6 L1592.8 901.9 L1593.9 901.3 L1595.0 900.6 L1596.2 900.1 L1597.3 899.6 L1598.5 899.2 L1599.6 898.9 L1600.7 898.7 L1601.9 898.6 L1603.0 898.5 L1604.1 898.4 L1605.3 898.4 L1606.4 898.4 L1607.6 898.5 L1608.7 898.6 L1609.8 898.7 L1611.0 898.8 L1612.1 898.9 L1613.2 899.0 L1614.4 899.1 L1615.5 899.2 L1616.7 899.3 L1617.8 899.4 L1618.9 899.5 L1620.1 899.6 L1621.2 899.7 L1622.3 899.9 L1623.5 900.0 L1624.6 900.1 L1625.8 900.2 L1626.9 900.3 L1628.0 900.4 L1629.2 900.2 L1630.3 900.0 L1631.4 899.7 L1632.6 899.3 L1633.7 898.9 L1634.9 898.5 L1636.0 898.0 L1637.1 897.5 L1638.3 897.0 L1639.4 896.3 L1640.5 895.6 L1641.7 894.8 L1642.8 893.9 L1644.0 892.9 L1645.1 891.9 L1646.2 890.9 L1647.4 889.7 L1648.5 888.6 L1649.6 887.3 L1650.8 886.1 L1651.9 884.7 L1653.1 883.4 L1654.2 882.0 L1655.3 880.6 L1656.5 879.2 L1657.6 877.8 L1658.8 876.4 L1659.9 875.0 L1661.0 873.6 L1662.2 872.3 L1663.3 871.0 L1664.4 869.6 L1665.6 868.3 L1666.7 867.0 L1667.9 865.7 L1669.0 864.4 L1670.1 863.1 L1671.3 861.8 L1672.4 860.6 L1673.5 859.3 L1674.7 858.0 L1675.8 856.8 L1677.0 855.6 L1678.1 854.4 L1679.2 853.3 L1680.4 852.2 L1681.5 851.2 L1682.6 850.2 L1683.8 849.3 L1684.9 848.5 L1686.1 847.9 L1687.2 847.3 L1688.3 846.8 L1689.5 846.4 L1690.6 846.0 L1691.7 845.6 L1692.9 845.3 L1694.0 845.0 L1695.2 844.7 L1696.3 844.5 L1697.4 844.3 L1698.6 844.1 L1699.7 844.0 L1700.8 844.0 L1702.0 844.0 L1703.1 844.1 L1704.3 844.1 L1705.4 844.3 L1706.5 844.5 L1707.7 844.7 L1708.8 845.1 L1709.9 845.4 L1711.1 845.9 L1712.2 846.4 L1713.4 847.0 L1714.5 847.6 L1715.6 848.3 L1716.8 849.0 L1717.9 849.7 L1719.0 850.5 L1720.2 851.3 L1721.3 852.1 L1722.5 853.0 L1723.6 853.9 L1724.7 854.8 L1725.9 855.7 L1727.0 856.6 L1728.2 857.5 L1729.3 858.4 L1730.4 859.4 L1731.6 860.5 L1732.7 861.6 L1733.8 862.8 L1735.0 864.0 L1736.1 865.2 L1737.3 866.4 L1738.4 867.7 L1739.5 868.9 L1740.7 870.1 L1741.8 871.3 L1742.9 872.5 L1744.1 873.8 L1745.2 875.0 L1746.4 876.2 L1747.5 877.4 L1748.6 878.6 L1749.8 879.8 L1750.9 881.1 L1752.0 882.3 L1753.2 883.5 L1754.3 884.7 L1755.5 885.9 L1756.6 887.1 L1757.7 888.2 L1758.9 889.3 L1760.0 890.3 L1761.1 891.3 L1762.3 892.3 L1763.4 893.2 L1764.6 894.1 L1765.7 895.0 L1766.8 895.9 L1768.0 896.8 L1769.1 897.7 L1770.2 898.5 L1771.4 899.4 L1772.5 900.2 L1773.7 901.0 L1774.8 901.7 L1775.9 902.5 L1777.1 903.2 L1778.2 903.9 L1779.3 904.6 L1780.5 905.3 L1781.6 906.0 L1782.8 906.6 L1783.9 907.2 L1785.0 907.9 L1786.2 908.5 L1787.3 909.0 L1788.5 909.6 L1789.6 910.1 L1790.7 910.6 L1791.9 911.1 L1793.0 911.6 L1794.1 912.0 L1795.3 912.5 L1796.4 912.9 L1797.6 913.3 L1798.7 913.7 L1799.8 914.0 L1801.0 914.4 L1802.1 914.7 L1803.2 915.0 L1804.4 915.3 L1805.5 915.6 L1806.7 915.9 L1807.8 916.1 L1808.9 916.3 L1810.1 916.5 L1811.2 916.7 L1812.3 916.9 L1813.5 917.1 L1814.6 917.3 L1815.8 917.5 L1816.9 917.6 L1818.0 917.8 L1819.2 917.9 L1820.3 918.0 L1821.4 918.1 L1822.6 918.1 L1823.7 918.2 L1824.9 918.3 L1826.0 918.3 L1827.1 918.4 L1828.3 918.4 L1829.4 918.4 L1830.5 918.5 L1831.7 918.5 L1832.8 918.5 L1834.0 918.5 L1835.1 918.5 L1836.2 918.5 L1837.4 918.5 L1838.5 918.5 L1839.6 918.5 L1840.8 918.5 L1841.9 918.5 L1843.1 918.5 L1844.2 918.5 L1845.3 918.5 L1846.5 918.4 L1847.6 918.4 L1848.7 918.4 L1849.9 918.4 L1851.0 918.3 L1852.2 918.3 L1853.3 918.2"/>
</g>
<line class="t" x1="1036.4" y1="1029.0" x2="1036.4" y2="1041.0"/>
<text class="tk" text-anchor="middle" x="1037.0" y="1078.8">0</text>
<line class="t" x1="1172.6" y1="1029.0" x2="1172.6" y2="1041.0"/>
<text class="tk" text-anchor="middle" x="1173.2" y="1078.8">10</text>
<line class="t" x1="1308.7" y1="1029.0" x2="1308.7" y2="1041.0"/>
<text class="tk" text-anchor="middle" x="1309.3" y="1078.8">20</text>
<line class="t" x1="1444.9" y1="1029.0" x2="1444.9" y2="1041.0"/>
<text class="tk" text-anchor="middle" x="1445.5" y="1078.8">30</text>
<line class="t" x1="1581.0" y1="1029.0" x2="1581.0" y2="1041.0"/>
<text class="tk" text-anchor="middle" x="1581.6" y="1078.8">40</text>
<line class="t" x1="1717.2" y1="1029.0" x2="1717.2" y2="1041.0"/>
<text class="tk" text-anchor="middle" x="1717.8" y="1078.8">50</text>
<line class="t" x1="1853.3" y1="1029.0" x2="1853.3" y2="1041.0"/>
<text class="tk" text-anchor="middle" x="1853.9" y="1078.8">60</text>
<line class="t" x1="1024.4" y1="992.1" x2="1036.4" y2="992.1"/>
<text class="tk" text-anchor="end" x="1014.1" y="1005.7">−1</text>
<line class="t" x1="1024.4" y1="918.2" x2="1036.4" y2="918.2"/>
<text class="tk" text-anchor="end" x="1014.1" y="931.8">0</text>
<line class="t" x1="1024.4" y1="844.3" x2="1036.4" y2="844.3"/>
<text class="tk" text-anchor="end" x="1014.1" y="857.9">1</text>
<rect class="sp" x="1036.4" y="807.4" width="816.9" height="221.6"/>
<text class="tt" y="788.0"><tspan class="it" x="1385.2">t</tspan> <tspan x="1409.9">=</tspan> <tspan x="1450.7">30</tspan></text>
</g>
<g>
<clipPath id="cp6"><rect x="89.0" y="1176.4" width="816.9" height="221.6"/></clipPath>
<g clip-path="url(#cp6)">
<path class="c" stroke="#d62728" d="M89.0 1287.2 L90.1 1286.8 L91.3 1286.3 L92.4 1285.9 L93.5 1285.4 L94.7 1285.0 L95.8 1284.5 L97.0 1284.1 L98.1 1283.6 L99.2 1283.1 L100.4 1282.7 L101.5 1282.2 L102.6 1281.8 L103.8 1281.3 L104.9 1280.9 L106.0 1280.4 L107.2 1280.0 L108.3 1279.5 L109.5 1279.1 L110.6 1278.6 L111.7 1278.2 L112.9 1277.7 L114.0 1277.2 L115.1 1276.8 L116.3 1276.3 L117.4 1275.9 L118.5 1275.4 L119.7 1275.0 L120.8 1274.5 L121.9 1274.1 L123.1 1273.6 L124.2 1273.2 L125.4 1272.7 L126.5 1272.3 L127.6 1271.8 L128.8 1271.4 L129.9 1271.0 L131.0 1270.5 L132.2 1270.1 L133.3 1269.7 L134.4 1269.3 L135.6 1268.9 L136.7 1268.5 L137.9 1268.2 L139.0 1267.8 L140.1 1267.4 L141.3 1267.1 L142.4 1266.7 L143.5 1266.3 L144.7 1266.0 L145.8 1265.6 L146.9 1265.3 L148.1 1265.0 L149.2 1264.7 L150.4 1264.4 L151.5 1264.1 L152.6 1263.9 L153.8 1263.6 L154.9 1263.4 L156.0 1263.1 L157.2 1262.9 L158.3 1262.7 L159.4 1262.4 L160.6 1262.2 L161.7 1262.0 L162.9 1261.8 L164.0 1261.6 L165.1 1261.5 L166.3 1261.3 L167.4 1261.2 L168.5 1261.0 L169.7 1260.9 L170.8 1260.7 L171.9 1260.6 L173.1 1260.5 L174.2 1260.4 L175.3 1260.3 L176.5 1260.2 L177.6 1260.2 L178.8 1260.1 L179.9 1260.1 L181.0 1260.1 L182.2 1260.1 L183.3 1260.1 L184.4 1260.1 L185.6 1260.1 L186.7 1260.2 L187.8 1260.2 L189.0 1260.3 L190.1 1260.4 L191.3 1260.5 L192.4 1260.7 L193.5 1260.8 L194.7 1261.0 L195.8 1261.2 L196.9 1261.4 L198.1 1261.7 L199.2 1261.9 L200.3 1262.2 L201.5 1262.5 L202.6 1262.8 L203.8 1263.1 L204.9 1263.5 L206.0 1263.9 L207.2 1264.3 L208.3 1264.7 L209.4 1265.2 L210.6 1265.6 L211.7 1266.1 L212.8 1266.6 L214.0 1267.1 L215.1 1267.6 L216.3 1268.1 L217.4 1268.6 L218.5 1269.2 L219.7 1269.7 L220.8 1270.3 L221.9 1271.0 L223.1 1271.6 L224.2 1272.3 L225.3 1273.0 L226.5 1273.7 L227.6 1274.5 L228.7 1275.2 L229.9 1276.0 L231.0 1276.7 L232.2 1277.4 L233.3 1278.2 L234.4 1278.9 L235.6 1279.7 L236.7 1280.4 L237.8 1281.1 L239.0 1281.9 L240.1 1282.6 L241.2 1283.3 L242.4 1284.1 L243.5 1284.8 L244.7 1285.6 L245.8 1286.3 L246.9 1287.0 L248.1 1287.8 L249.2 1288.5 L250.3 1289.3 L251.5 1290.0 L252.6 1290.7 L253.7 1291.5 L254.9 1292.2 L256.0 1292.9 L257.2 1293.7 L258.3 1294.4 L259.4 1295.1 L260.6 1295.8 L261.7 1296.5 L262.8 1297.2 L264.0 1297.9 L265.1 1298.5 L266.2 1299.2 L267.4 1299.9 L268.5 1300.5 L269.6 1301.2 L270.8 1301.8 L271.9 1302.5 L273.1 1303.1 L274.2 1303.8 L275.3 1304.4 L276.5 1305.0 L277.6 1305.6 L278.7 1306.2 L279.9 1306.7 L281.0 1307.3 L282.1 1307.8 L283.3 1308.3 L284.4 1308.8 L285.6 1309.3 L286.7 1309.7 L287.8 1310.1 L289.0 1310.5 L290.1 1310.9 L291.2 1311.2 L292.4 1311.5 L293.5 1311.7 L294.6 1312.0 L295.8 1312.2 L296.9 1312.5 L298.1 1312.7 L299.2 1312.9 L300.3 1313.1 L301.5 1313.2 L302.6 1313.4 L303.7 1313.5 L304.9 1313.5 L306.0 1313.6 L307.1 1313.6 L308.3 1313.5 L309.4 1313.5 L310.6 1313.3 L311.7 1313.2 L312.8 1313.0 L314.0 1312.7 L315.1 1312.5 L316.2 1312.2 L317.4 1311.9 L318.5 1311.5 L319.6 1311.2 L320.8 1310.8 L321.9 1310.4 L323.0 1309.9 L324.2 1309.5 L325.3 1309.0 L326.5 1308.5 L327.6 1307.9 L328.7 1307.4 L329.9 1306.8 L331.0 1306.1 L332.1 1305.5 L333.3 1304.8 L334.4 1304.1 L335.5 1303.3 L336.7 1302.6 L337.8 1301.8 L339.0 1301.1 L340.1 1300.3 L341.2 1299.6 L342.4 1298.8 L343.5 1298.0 L344.6 1297.2 L345.8 1296.4 L346.9 1295.5 L348.0 1294.8 L349.2 1294.0 L350.3 1293.2 L351.5 1292.5 L352.6 1291.8 L353.7 1291.1 L354.9 1290.5 L356.0 1289.8 L357.1 1289.2 L358.3 1288.6 L359.4 1287.9 L360.5 1287.4 L361.7 1286.8 L362.8 1286.3 L364.0 1285.8 L365.1 1285.4 L366.2 1285.1 L367.4 1284.7 L368.5 1284.5 L369.6 1284.3 L370.8 1284.1 L371.9 1283.9 L373.0 1283.8 L374.2 1283.7 L375.3 1283.6 L376.4 1283.5 L377.6 1283.5 L378.7 1283.5 L379.9 1283.5 L381.0 1283.6 L382.1 1283.7 L383.3 1283.9 L384.4 1284.1 L385.5 1284.4 L386.7 1284.7 L387.8 1285.1 L388.9 1285.6 L390.1 1286.1 L391.2 1286.6 L392.4 1287.3 L393.5 1287.9 L394.6 1288.5 L395.8 1289.1 L396.9 1289.8 L398.0 1290.4 L399.2 1291.0 L400.3 1291.6 L401.4 1292.3 L402.6 1292.9 L403.7 1293.5 L404.9 1294.1 L406.0 1294.8 L407.1 1295.4 L408.3 1296.0 L409.4 1296.6 L410.5 1297.3 L411.7 1298.0 L412.8 1298.7 L413.9 1299.4 L415.1 1300.1 L416.2 1300.8 L417.4 1301.4 L418.5 1302.1 L419.6 1302.6 L420.8 1303.2 L421.9 1303.7 L423.0 1304.2 L424.2 1304.6 L425.3 1304.8 L426.4 1304.7 L427.6 1304.4 L428.7 1304.0 L429.8 1303.5 L431.0 1303.0 L432.1 1302.4 L433.3 1301.7 L434.4 1301.2 L435.5 1300.7 L436.7 1300.4 L437.8 1300.1 L438.9 1299.9 L440.1 1299.8 L441.2 1299.6 L442.3 1299.4 L443.5 1299.4 L444.6 1299.3 L445.8 1299.3 L446.9 1299.3 L448.0 1299.1 L449.2 1298.7 L450.3 1298.0 L451.4 1297.3 L452.6 1296.4 L453.7 1295.5 L454.8 1294.6 L456.0 1293.6 L457.1 1292.6 L458.3 1291.6 L459.4 1290.6 L460.5 1289.6 L461.7 1288.6 L462.8 1287.7 L463.9 1286.9 L465.1 1286.3 L466.2 1285.7 L467.3 1285.3 L468.5 1285.1 L469.6 1285.0 L470.8 1285.1 L471.9 1285.5 L473.0 1286.1 L474.2 1286.9 L475.3 1287.9 L476.4 1289.0 L477.6 1290.3 L478.7 1291.5 L479.8 1292.8 L481.0 1294.2 L482.1 1295.4 L483.2 1296.6 L484.4 1297.7 L485.5 1298.8 L486.7 1299.8 L487.8 1300.8 L488.9 1301.7 L490.1 1302.6 L491.2 1303.4 L492.3 1304.1 L493.5 1304.6 L494.6 1305.0 L495.7 1305.1 L496.9 1305.2 L498.0 1305.1 L499.2 1304.9 L500.3 1304.6 L501.4 1304.2 L502.6 1303.5 L503.7 1302.6 L504.8 1301.5 L506.0 1300.4 L507.1 1299.2 L508.2 1298.1 L509.4 1296.9 L510.5 1295.8 L511.7 1294.7 L512.8 1293.6 L513.9 1292.5 L515.1 1291.5 L516.2 1290.5 L517.3 1289.5 L518.5 1288.5 L519.6 1287.5 L520.7 1286.7 L521.9 1286.0 L523.0 1285.5 L524.1 1285.2 L525.3 1285.2 L526.4 1285.5 L527.6 1285.9 L528.7 1286.5 L529.8 1287.3 L531.0 1288.1 L532.1 1289.1 L533.2 1290.1 L534.4 1291.1 L535.5 1292.2 L536.6 1293.3 L537.8 1294.3 L538.9 1295.3 L540.1 1296.1 L541.2 1296.9 L542.3 1297.7 L543.5 1298.4 L544.6 1299.0 L545.7 1299.5 L546.9 1299.8 L548.0 1300.1 L549.1 1300.3 L550.3 1300.4 L551.4 1300.4 L552.6 1300.5 L553.7 1300.5 L554.8 1300.7 L556.0 1300.9 L557.1 1301.2 L558.2 1301.5 L559.4 1301.9 L560.5 1302.2 L561.6 1302.6 L562.8 1302.9 L563.9 1303.3 L565.1 1303.6 L566.2 1303.9 L567.3 1304.2 L568.5 1304.3 L569.6 1304.3 L570.7 1304.1 L571.9 1303.8 L573.0 1303.3 L574.1 1302.8 L575.3 1302.3 L576.4 1301.8 L577.5 1301.3 L578.7 1300.9 L579.8 1300.4 L581.0 1299.9 L582.1 1299.3 L583.2 1298.8 L584.4 1298.2 L585.5 1297.6 L586.6 1296.9 L587.8 1296.3 L588.9 1295.7 L590.0 1295.1 L591.2 1294.5 L592.3 1293.8 L593.5 1293.2 L594.6 1292.6 L595.7 1292.0 L596.9 1291.4 L598.0 1290.8 L599.1 1290.2 L600.3 1289.6 L601.4 1289.0 L602.5 1288.4 L603.7 1287.8 L604.8 1287.2 L606.0 1286.6 L607.1 1286.1 L608.2 1285.7 L609.4 1285.4 L610.5 1285.1 L611.6 1284.8 L612.8 1284.6 L613.9 1284.3 L615.0 1284.1 L616.2 1284.0 L617.3 1284.0 L618.5 1284.3 L619.6 1284.6 L620.7 1284.9 L621.9 1285.2 L623.0 1285.5 L624.1 1285.8 L625.3 1286.1 L626.4 1286.4 L627.5 1286.7 L628.7 1287.0 L629.8 1287.3 L630.9 1287.6 L632.1 1288.0 L633.2 1288.3 L634.4 1288.6 L635.5 1288.9 L636.6 1289.2 L637.8 1289.5 L638.9 1289.8 L640.0 1290.1 L641.2 1290.5 L642.3 1291.1 L643.4 1291.9 L644.6 1292.7 L645.7 1293.6 L646.9 1294.5 L648.0 1295.4 L649.1 1296.3 L650.3 1297.1 L651.4 1297.9 L652.5 1298.6 L653.7 1299.3 L654.8 1300.0 L655.9 1300.7 L657.1 1301.4 L658.2 1302.1 L659.4 1302.8 L660.5 1303.4 L661.6 1304.1 L662.8 1304.7 L663.9 1305.2 L665.0 1305.7 L666.2 1306.2 L667.3 1306.6 L668.4 1307.0 L669.6 1307.4 L670.7 1307.8 L671.9 1308.1 L673.0 1308.4 L674.1 1308.6 L675.3 1308.9 L676.4 1309.1 L677.5 1309.3 L678.7 1309.5 L679.8 1309.7 L680.9 1309.8 L682.1 1310.0 L683.2 1310.1 L684.3 1310.1 L685.5 1310.2 L686.6 1310.2 L687.8 1310.2 L688.9 1310.2 L690.0 1310.1 L691.2 1310.1 L692.3 1309.9 L693.4 1309.8 L694.6 1309.6 L695.7 1309.4 L696.8 1309.2 L698.0 1308.9 L699.1 1308.7 L700.3 1308.3 L701.4 1308.0 L702.5 1307.7 L703.7 1307.3 L704.8 1306.9 L705.9 1306.4 L707.1 1305.9 L708.2 1305.5 L709.3 1304.9 L710.5 1304.4 L711.6 1303.9 L712.8 1303.4 L713.9 1302.9 L715.0 1302.3 L716.2 1301.7 L717.3 1301.1 L718.4 1300.5 L719.6 1299.8 L720.7 1299.1 L721.8 1298.4 L723.0 1297.7 L724.1 1297.0 L725.3 1296.4 L726.4 1295.7 L727.5 1295.0 L728.7 1294.3 L729.8 1293.6 L730.9 1292.9 L732.1 1292.2 L733.2 1291.5 L734.3 1290.8 L735.5 1290.1 L736.6 1289.4 L737.7 1288.7 L738.9 1288.0 L740.0 1287.3 L741.2 1286.6 L742.3 1285.9 L743.4 1285.2 L744.6 1284.6 L745.7 1283.9 L746.8 1283.2 L748.0 1282.5 L749.1 1281.8 L750.2 1281.1 L751.4 1280.5 L752.5 1279.9 L753.7 1279.3 L754.8 1278.8 L755.9 1278.2 L757.1 1277.7 L758.2 1277.2 L759.3 1276.6 L760.5 1276.1 L761.6 1275.6 L762.7 1275.1 L763.9 1274.6 L765.0 1274.2 L766.2 1273.7 L767.3 1273.3 L768.4 1272.9 L769.6 1272.4 L770.7 1272.0 L771.8 1271.7 L773.0 1271.3 L774.1 1270.9 L775.2 1270.6 L776.4 1270.2 L777.5 1269.9 L778.6 1269.6 L779.8 1269.3 L780.9 1269.0 L782.1 1268.7 L783.2 1268.5 L784.3 1268.2 L785.5 1268.0 L786.6 1267.8 L787.7 1267.6 L788.9 1267.4 L790.0 1267.3 L791.1 1267.1 L792.3 1267.0 L793.4 1266.9 L794.6 1266.8 L795.7 1266.7 L796.8 1266.6 L798.0 1266.5 L799.1 1266.4 L800.2 1266.3 L801.4 1266.3 L802.5 1266.2 L803.6 1266.2 L804.8 1266.1 L805.9 1266.1 L807.1 1266.0 L808.2 1266.0 L809.3 1266.0 L810.5 1266.0 L811.6 1265.9 L812.7 1265.9 L813.9 1265.9 L815.0 1266.0 L816.1 1266.0 L817.3 1266.0 L818.4 1266.1 L819.6 1266.1 L820.7 1266.2 L821.8 1266.3 L823.0 1266.3 L824.1 1266.4 L825.2 1266.5 L826.4 1266.7 L827.5 1266.8 L828.6 1266.9 L829.8 1267.1 L830.9 1267.2 L832.0 1267.4 L833.2 1267.6 L834.3 1267.8 L835.5 1268.0 L836.6 1268.2 L837.7 1268.4 L838.9 1268.7 L840.0 1268.9 L841.1 1269.1 L842.3 1269.4 L843.4 1269.6 L844.5 1269.9 L845.7 1270.1 L846.8 1270.4 L848.0 1270.7 L849.1 1270.9 L850.2 1271.2 L851.4 1271.5 L852.5 1271.8 L853.6 1272.2 L854.8 1272.5 L855.9 1272.8 L857.0 1273.2 L858.2 1273.5 L859.3 1273.9 L860.5 1274.2 L861.6 1274.5 L862.7 1274.9 L863.9 1275.2 L865.0 1275.6 L866.1 1275.9 L867.3 1276.2 L868.4 1276.6 L869.5 1276.9 L870.7 1277.3 L871.8 1277.6 L873.0 1278.0 L874.1 1278.3 L875.2 1278.6 L876.4 1279.0 L877.5 1279.3 L878.6 1279.7 L879.8 1280.0 L880.9 1280.3 L882.0 1280.7 L883.2 1281.0 L884.3 1281.4 L885.4 1281.7 L886.6 1282.0 L887.7 1282.4 L888.9 1282.7 L890.0 1283.0 L891.1 1283.3 L892.3 1283.6 L893.4 1283.9 L894.5 1284.2 L895.7 1284.5 L896.8 1284.8 L897.9 1285.1 L899.1 1285.5 L900.2 1285.8 L901.4 1286.1 L902.5 1286.5 L903.6 1286.8 L904.8 1287.2 L905.9 1287.5"/>
<path class="c" stroke="#1f77b4" d="M89.0 1287.2 L90.1 1285.5 L91.3 1283.8 L92.4 1282.1 L93.5 1280.4 L94.7 1278.7 L95.8 1277.0 L97.0 1275.4 L98.1 1273.7 L99.2 1272.1 L100.4 1270.5 L101.5 1268.9 L102.6 1267.3 L103.8 1265.7 L104.9 1264.2 L106.0 1262.6 L107.2 1261.1 L108.3 1259.6 L109.5 1258.1 L110.6 1256.6 L111.7 1255.1 L112.9 1253.6 L114.0 1252.2 L115.1 1250.8 L116.3 1249.3 L117.4 1247.9 L118.5 1246.5 L119.7 1245.2 L120.8 1243.8 L121.9 1242.4 L123.1 1241.1 L124.2 1239.7 L125.4 1238.4 L126.5 1237.1 L127.6 1235.8 L128.8 1234.5 L129.9 1233.2 L131.0 1232.0 L132.2 1230.8 L133.3 1229.6 L134.4 1228.4 L135.6 1227.2 L136.7 1226.0 L137.9 1224.9 L139.0 1223.8 L140.1 1222.7 L141.3 1221.6 L142.4 1220.5 L143.5 1219.4 L144.7 1218.4 L145.8 1217.4 L146.9 1216.4 L148.1 1215.4 L149.2 1214.5 L150.4 1213.5 L151.5 1212.6 L152.6 1211.8 L153.8 1210.9 L154.9 1210.1 L156.0 1209.3 L157.2 1208.5 L158.3 1207.8 L159.4 1207.0 L160.6 1206.3 L161.7 1205.7 L162.9 1205.0 L164.0 1204.4 L165.1 1203.8 L166.3 1203.2 L167.4 1202.6 L168.5 1202.0 L169.7 1201.5 L170.8 1201.0 L171.9 1200.5 L173.1 1200.0 L174.2 1199.5 L175.3 1199.1 L176.5 1198.7 L177.6 1198.3 L178.8 1198.0 L179.9 1197.7 L181.0 1197.4 L182.2 1197.1 L183.3 1196.8 L184.4 1196.5 L185.6 1196.2 L186.7 1195.9 L187.8 1195.7 L189.0 1195.4 L190.1 1195.1 L191.3 1194.9 L192.4 1194.6 L193.5 1194.3 L194.7 1194.1 L195.8 1193.9 L196.9 1193.6 L198.1 1193.5 L199.2 1193.4 L200.3 1193.3 L201.5 1193.3 L202.6 1193.3 L203.8 1193.3 L204.9 1193.3 L206.0 1193.4 L207.2 1193.5 L208.3 1193.6 L209.4 1193.8 L210.6 1193.9 L211.7 1194.1 L212.8 1194.3 L214.0 1194.5 L215.1 1194.8 L216.3 1195.0 L217.4 1195.3 L218.5 1195.6 L219.7 1195.9 L220.8 1196.2 L221.9 1196.5 L223.1 1196.8 L224.2 1197.2 L225.3 1197.6 L226.5 1198.1 L227.6 1198.5 L228.7 1199.0 L229.9 1199.5 L231.0 1200.0 L232.2 1200.6 L233.3 1201.1 L234.4 1201.7 L235.6 1202.3 L236.7 1202.9 L237.8 1203.5 L239.0 1204.1 L240.1 1204.8 L241.2 1205.5 L242.4 1206.2 L243.5 1206.9 L244.7 1207.6 L245.8 1208.4 L246.9 1209.2 L248.1 1210.0 L249.2 1210.8 L250.3 1211.6 L251.5 1212.5 L252.6 1213.3 L253.7 1214.2 L254.9 1215.1 L256.0 1215.9 L257.2 1216.9 L258.3 1217.8 L259.4 1218.7 L260.6 1219.7 L261.7 1220.6 L262.8 1221.6 L264.0 1222.6 L265.1 1223.6 L266.2 1224.6 L267.4 1225.7 L268.5 1226.7 L269.6 1227.8 L270.8 1228.8 L271.9 1229.9 L273.1 1231.0 L274.2 1232.1 L275.3 1233.2 L276.5 1234.3 L277.6 1235.4 L278.7 1236.5 L279.9 1237.7 L281.0 1238.8 L282.1 1240.0 L283.3 1241.2 L284.4 1242.4 L285.6 1243.5 L286.7 1244.7 L287.8 1245.9 L289.0 1247.1 L290.1 1248.4 L291.2 1249.6 L292.4 1250.9 L293.5 1252.2 L294.6 1253.5 L295.8 1254.8 L296.9 1256.2 L298.1 1257.5 L299.2 1258.9 L300.3 1260.2 L301.5 1261.6 L302.6 1263.0 L303.7 1264.4 L304.9 1265.7 L306.0 1267.1 L307.1 1268.5 L308.3 1269.9 L309.4 1271.2 L310.6 1272.6 L311.7 1274.0 L312.8 1275.3 L314.0 1276.7 L315.1 1278.0 L316.2 1279.4 L317.4 1280.8 L318.5 1282.1 L319.6 1283.5 L320.8 1284.8 L321.9 1286.1 L323.0 1287.3 L324.2 1288.4 L325.3 1289.5 L326.5 1290.6 L327.6 1291.6 L328.7 1292.7 L329.9 1293.8 L331.0 1294.9 L332.1 1295.9 L333.3 1297.0 L334.4 1298.1 L335.5 1299.2 L336.7 1300.3 L337.8 1301.3 L339.0 1302.4 L340.1 1303.5 L341.2 1304.6 L342.4 1305.6 L343.5 1306.4 L344.6 1307.3 L345.8 1308.0 L346.9 1308.8 L348.0 1309.5 L349.2 1310.2 L350.3 1310.9 L351.5 1311.6 L352.6 1312.2 L353.7 1312.9 L354.9 1313.5 L356.0 1314.0 L357.1 1314.5 L358.3 1314.9 L359.4 1315.3 L360.5 1315.7 L361.7 1316.1 L362.8 1316.4 L364.0 1316.7 L365.1 1317.0 L366.2 1317.2 L367.4 1317.5 L368.5 1317.7 L369.6 1318.0 L370.8 1318.2 L371.9 1318.4 L373.0 1318.6 L374.2 1318.8 L375.3 1319.0 L376.4 1319.2 L377.6 1319.4 L378.7 1319.6 L379.9 1319.8 L381.0 1320.0 L382.1 1320.2 L383.3 1320.4 L384.4 1320.6 L385.5 1320.8 L386.7 1321.0 L387.8 1321.2 L388.9 1321.4 L390.1 1321.6 L391.2 1321.8 L392.4 1322.1 L393.5 1322.3 L394.6 1322.6 L395.8 1323.0 L396.9 1323.3 L398.0 1323.7 L399.2 1324.1 L400.3 1324.5 L401.4 1325.0 L402.6 1325.5 L403.7 1326.0 L404.9 1326.5 L406.0 1327.0 L407.1 1327.6 L408.3 1328.2 L409.4 1328.8 L410.5 1329.4 L411.7 1330.1 L412.8 1330.8 L413.9 1331.6 L415.1 1332.4 L416.2 1333.3 L417.4 1334.4 L418.5 1335.5 L419.6 1336.6 L420.8 1337.4 L421.9 1337.9 L423.0 1338.1 L424.2 1338.5 L425.3 1339.2 L426.4 1340.3 L427.6 1341.6 L428.7 1342.9 L429.8 1344.2 L431.0 1345.7 L432.1 1347.3 L433.3 1348.8 L434.4 1350.0 L435.5 1351.0 L436.7 1351.7 L437.8 1352.1 L438.9 1352.3 L440.1 1352.3 L441.2 1352.2 L442.3 1352.2 L443.5 1352.3 L444.6 1352.4 L445.8 1352.6 L446.9 1352.9 L448.0 1353.1 L449.2 1353.4 L450.3 1353.7 L451.4 1354.1 L452.6 1354.6 L453.7 1355.2 L454.8 1355.9 L456.0 1356.4 L457.1 1356.8 L458.3 1357.0 L459.4 1357.2 L460.5 1357.2 L461.7 1357.1 L462.8 1356.8 L463.9 1356.3 L465.1 1355.6 L466.2 1354.7 L467.3 1353.7 L468.5 1352.5 L469.6 1351.3 L470.8 1350.2 L471.9 1349.0 L473.0 1347.9 L474.2 1346.9 L475.3 1346.0 L476.4 1345.1 L477.6 1344.2 L478.7 1343.4 L479.8 1342.6 L481.0 1342.1 L482.1 1341.8 L483.2 1341.7 L484.4 1341.8 L485.5 1342.2 L486.7 1342.6 L487.8 1343.1 L488.9 1343.7 L490.1 1344.3 L491.2 1344.9 L492.3 1345.6 L493.5 1346.3 L494.6 1347.0 L495.7 1347.7 L496.9 1348.4 L498.0 1349.0 L499.2 1349.5 L500.3 1349.9 L501.4 1350.2 L502.6 1350.5 L503.7 1350.7 L504.8 1350.8 L506.0 1350.8 L507.1 1350.8 L508.2 1350.5 L509.4 1350.1 L510.5 1349.5 L511.7 1348.7 L512.8 1347.7 L513.9 1346.7 L515.1 1345.5 L516.2 1344.4 L517.3 1343.2 L518.5 1341.9 L519.6 1340.7 L520.7 1339.3 L521.9 1337.9 L523.0 1336.5 L524.1 1335.1 L525.3 1333.7 L526.4 1332.4 L527.6 1331.2 L528.7 1330.0 L529.8 1329.0 L531.0 1328.1 L532.1 1327.3 L533.2 1326.7 L534.4 1326.1 L535.5 1325.8 L536.6 1325.6 L537.8 1325.7 L538.9 1325.8 L540.1 1326.0 L541.2 1326.3 L542.3 1326.5 L543.5 1326.7 L544.6 1326.8 L545.7 1327.0 L546.9 1327.1 L548.0 1327.2 L549.1 1327.2 L550.3 1326.9 L551.4 1326.5 L552.6 1326.0 L553.7 1325.4 L554.8 1324.8 L556.0 1324.2 L557.1 1323.5 L558.2 1322.8 L559.4 1322.1 L560.5 1321.4 L561.6 1320.7 L562.8 1320.1 L563.9 1319.6 L565.1 1319.1 L566.2 1318.8 L567.3 1318.3 L568.5 1317.9 L569.6 1317.2 L570.7 1316.4 L571.9 1315.5 L573.0 1314.4 L574.1 1313.3 L575.3 1312.1 L576.4 1310.9 L577.5 1309.7 L578.7 1308.4 L579.8 1307.2 L581.0 1306.0 L582.1 1304.8 L583.2 1303.5 L584.4 1302.3 L585.5 1301.1 L586.6 1299.8 L587.8 1298.6 L588.9 1297.4 L590.0 1296.1 L591.2 1294.9 L592.3 1293.7 L593.5 1292.4 L594.6 1291.2 L595.7 1290.0 L596.9 1288.8 L598.0 1287.7 L599.1 1286.7 L600.3 1285.6 L601.4 1284.7 L602.5 1283.7 L603.7 1282.8 L604.8 1281.9 L606.0 1281.0 L607.1 1280.3 L608.2 1279.5 L609.4 1278.8 L610.5 1278.2 L611.6 1277.7 L612.8 1277.3 L613.9 1276.9 L615.0 1276.6 L616.2 1276.2 L617.3 1275.9 L618.5 1275.6 L619.6 1275.2 L620.7 1274.9 L621.9 1274.5 L623.0 1274.2 L624.1 1273.8 L625.3 1273.5 L626.4 1273.2 L627.5 1272.8 L628.7 1272.5 L629.8 1272.1 L630.9 1271.8 L632.1 1271.5 L633.2 1271.1 L634.4 1270.8 L635.5 1270.5 L636.6 1270.2 L637.8 1269.9 L638.9 1269.6 L640.0 1269.3 L641.2 1269.1 L642.3 1268.8 L643.4 1268.5 L644.6 1268.2 L645.7 1267.9 L646.9 1267.5 L648.0 1267.0 L649.1 1266.6 L650.3 1266.0 L651.4 1265.4 L652.5 1264.7 L653.7 1264.0 L654.8 1263.2 L655.9 1262.4 L657.1 1261.6 L658.2 1260.7 L659.4 1259.8 L660.5 1258.9 L661.6 1258.0 L662.8 1257.1 L663.9 1256.1 L665.0 1255.1 L666.2 1254.1 L667.3 1253.1 L668.4 1252.2 L669.6 1251.1 L670.7 1250.1 L671.9 1249.1 L673.0 1248.1 L674.1 1247.1 L675.3 1246.2 L676.4 1245.2 L677.5 1244.2 L678.7 1243.2 L679.8 1242.3 L680.9 1241.3 L682.1 1240.4 L683.2 1239.5 L684.3 1238.5 L685.5 1237.6 L686.6 1236.7 L687.8 1235.8 L688.9 1235.0 L690.0 1234.1 L691.2 1233.3 L692.3 1232.5 L693.4 1231.7 L694.6 1231.0 L695.7 1230.3 L696.8 1229.6 L698.0 1228.9 L699.1 1228.3 L700.3 1227.7 L701.4 1227.1 L702.5 1226.5 L703.7 1225.9 L704.8 1225.3 L705.9 1224.8 L707.1 1224.3 L708.2 1223.8 L709.3 1223.3 L710.5 1222.9 L711.6 1222.5 L712.8 1222.2 L713.9 1221.9 L715.0 1221.6 L716.2 1221.3 L717.3 1221.1 L718.4 1220.9 L719.6 1220.7 L720.7 1220.5 L721.8 1220.4 L723.0 1220.3 L724.1 1220.2 L725.3 1220.1 L726.4 1220.1 L727.5 1220.1 L728.7 1220.1 L729.8 1220.1 L730.9 1220.2 L732.1 1220.3 L733.2 1220.4 L734.3 1220.6 L735.5 1220.8 L736.6 1221.0 L737.7 1221.2 L738.9 1221.5 L740.0 1221.8 L741.2 1222.1 L742.3 1222.5 L743.4 1222.8 L744.6 1223.2 L745.7 1223.6 L746.8 1224.1 L748.0 1224.6 L749.1 1225.1 L750.2 1225.7 L751.4 1226.3 L752.5 1226.9 L753.7 1227.5 L754.8 1228.1 L755.9 1228.8 L757.1 1229.4 L758.2 1230.1 L759.3 1230.7 L760.5 1231.4 L761.6 1232.1 L762.7 1232.8 L763.9 1233.5 L765.0 1234.2 L766.2 1234.9 L767.3 1235.7 L768.4 1236.4 L769.6 1237.1 L770.7 1237.8 L771.8 1238.5 L773.0 1239.2 L774.1 1239.9 L775.2 1240.6 L776.4 1241.3 L777.5 1242.0 L778.6 1242.8 L779.8 1243.5 L780.9 1244.2 L782.1 1244.9 L783.2 1245.6 L784.3 1246.3 L785.5 1247.0 L786.6 1247.7 L787.7 1248.4 L788.9 1249.1 L790.0 1249.8 L791.1 1250.5 L792.3 1251.2 L793.4 1251.9 L794.6 1252.6 L795.7 1253.2 L796.8 1253.9 L798.0 1254.6 L799.1 1255.2 L800.2 1255.9 L801.4 1256.5 L802.5 1257.1 L803.6 1257.7 L804.8 1258.3 L805.9 1258.9 L807.1 1259.4 L808.2 1259.9 L809.3 1260.5 L810.5 1261.0 L811.6 1261.4 L812.7 1261.9 L813.9 1262.4 L815.0 1262.8 L816.1 1263.3 L817.3 1263.8 L818.4 1264.2 L819.6 1264.7 L820.7 1265.1 L821.8 1265.5 L823.0 1266.0 L824.1 1266.4 L825.2 1266.9 L826.4 1267.3 L827.5 1267.7 L828.6 1268.2 L829.8 1268.6 L830.9 1269.0 L832.0 1269.5 L833.2 1269.9 L834.3 1270.3 L835.5 1270.7 L836.6 1271.1 L837.7 1271.5 L838.9 1271.8 L840.0 1272.2 L841.1 1272.5 L842.3 1272.8 L843.4 1273.1 L844.5 1273.4 L845.7 1273.7 L846.8 1274.0 L848.0 1274.3 L849.1 1274.6 L850.2 1274.9 L851.4 1275.2 L852.5 1275.5 L853.6 1275.8 L854.8 1276.1 L855.9 1276.3 L857.0 1276.6 L858.2 1276.8 L859.3 1277.1 L860.5 1277.3 L861.6 1277.5 L862.7 1277.7 L863.9 1277.9 L865.0 1278.1 L866.1 1278.3 L867.3 1278.5 L868.4 1278.6 L869.5 1278.8 L870.7 1278.9 L871.8 1279.1 L873.0 1279.2 L874.1 1279.3 L875.2 1279.4 L876.4 1279.6 L877.5 1279.7 L878.6 1279.8 L879.8 1279.9 L880.9 1280.0 L882.0 1280.1 L883.2 1280.2 L884.3 1280.2 L885.4 1280.3 L886.6 1280.3 L887.7 1280.4 L888.9 1280.4 L890.0 1280.5 L891.1 1280.5 L892.3 1280.5 L893.4 1280.6 L894.5 1280.6 L895.7 1280.6 L896.8 1280.6 L897.9 1280.6 L899.1 1280.6 L900.2 1280.6 L901.4 1280.6 L902.5 1280.5 L903.6 1280.5 L904.8 1280.5 L905.9 1280.4"/>
<path class="c" stroke="#000000" d="M89.0 1287.2 L90.1 1285.5 L91.3 1283.8 L92.4 1282.1 L93.5 1280.4 L94.7 1278.7 L95.8 1277.0 L97.0 1275.4 L98.1 1273.7 L99.2 1272.1 L100.4 1270.5 L101.5 1268.9 L102.6 1267.3 L103.8 1265.7 L104.9 1264.2 L106.0 1262.6 L107.2 1261.1 L108.3 1259.6 L109.5 1258.1 L110.6 1256.6 L111.7 1255.1 L112.9 1253.6 L114.0 1252.2 L115.1 1250.8 L116.3 1249.3 L117.4 1247.9 L118.5 1246.5 L119.7 1245.2 L120.8 1243.8 L121.9 1242.4 L123.1 1241.1 L124.2 1239.7 L125.4 1238.4 L126.5 1237.1 L127.6 1235.8 L128.8 1234.5 L129.9 1233.2 L131.0 1232.0 L132.2 1230.8 L133.3 1229.6 L134.4 1228.4 L135.6 1227.2 L136.7 1226.0 L137.9 1224.9 L139.0 1223.8 L140.1 1222.7 L141.3 1221.6 L142.4 1220.5 L143.5 1219.4 L144.7 1218.4 L145.8 1217.4 L146.9 1216.4 L148.1 1215.4 L149.2 1214.5 L150.4 1213.5 L151.5 1212.6 L152.6 1211.8 L153.8 1210.9 L154.9 1210.1 L156.0 1209.3 L157.2 1208.5 L158.3 1207.8 L159.4 1207.0 L160.6 1206.3 L161.7 1205.7 L162.9 1205.0 L164.0 1204.4 L165.1 1203.8 L166.3 1203.2 L167.4 1202.6 L168.5 1202.0 L169.7 1201.5 L170.8 1200.9 L171.9 1200.4 L173.1 1199.9 L174.2 1199.5 L175.3 1199.0 L176.5 1198.6 L177.6 1198.3 L178.8 1197.9 L179.9 1197.6 L181.0 1197.3 L182.2 1197.0 L183.3 1196.7 L184.4 1196.4 L185.6 1196.1 L186.7 1195.8 L187.8 1195.5 L189.0 1195.3 L190.1 1195.0 L191.3 1194.7 L192.4 1194.5 L193.5 1194.2 L194.7 1194.0 L195.8 1193.7 L196.9 1193.5 L198.1 1193.4 L199.2 1193.2 L200.3 1193.2 L201.5 1193.1 L202.6 1193.1 L203.8 1193.1 L204.9 1193.2 L206.0 1193.3 L207.2 1193.4 L208.3 1193.5 L209.4 1193.7 L210.6 1193.9 L211.7 1194.1 L212.8 1194.3 L214.0 1194.6 L215.1 1194.8 L216.3 1195.1 L217.4 1195.4 L218.5 1195.8 L219.7 1196.1 L220.8 1196.5 L221.9 1196.9 L223.1 1197.3 L224.2 1197.7 L225.3 1198.2 L226.5 1198.7 L227.6 1199.2 L228.7 1199.8 L229.9 1200.4 L231.0 1201.0 L232.2 1201.7 L233.3 1202.3 L234.4 1203.0 L235.6 1203.6 L236.7 1204.3 L237.8 1205.0 L239.0 1205.7 L240.1 1206.4 L241.2 1207.1 L242.4 1207.8 L243.5 1208.6 L244.7 1209.4 L245.8 1210.2 L246.9 1211.1 L248.1 1211.9 L249.2 1212.8 L250.3 1213.7 L251.5 1214.5 L252.6 1215.4 L253.7 1216.3 L254.9 1217.3 L256.0 1218.2 L257.2 1219.1 L258.3 1220.1 L259.4 1221.0 L260.6 1222.0 L261.7 1223.0 L262.8 1224.1 L264.0 1225.1 L265.1 1226.1 L266.2 1227.2 L267.4 1228.2 L268.5 1229.3 L269.6 1230.4 L270.8 1231.5 L271.9 1232.6 L273.1 1233.7 L274.2 1234.8 L275.3 1235.9 L276.5 1237.1 L277.6 1238.2 L278.7 1239.4 L279.9 1240.5 L281.0 1241.7 L282.1 1242.9 L283.3 1244.1 L284.4 1245.3 L285.6 1246.5 L286.7 1247.7 L287.8 1249.0 L289.0 1250.2 L290.1 1251.5 L291.2 1252.8 L292.4 1254.1 L293.5 1255.4 L294.6 1256.8 L295.8 1258.1 L296.9 1259.5 L298.1 1260.9 L299.2 1262.3 L300.3 1263.8 L301.5 1265.2 L302.6 1266.7 L303.7 1268.2 L304.9 1269.7 L306.0 1271.2 L307.1 1272.7 L308.3 1274.3 L309.4 1275.9 L310.6 1277.4 L311.7 1279.0 L312.8 1280.6 L314.0 1282.2 L315.1 1283.7 L316.2 1285.3 L317.4 1286.8 L318.5 1288.4 L319.6 1289.9 L320.8 1291.4 L321.9 1292.9 L323.0 1294.4 L324.2 1295.8 L325.3 1297.3 L326.5 1298.6 L327.6 1300.0 L328.7 1301.3 L329.9 1302.6 L331.0 1303.9 L332.1 1305.2 L333.3 1306.5 L334.4 1307.8 L335.5 1309.1 L336.7 1310.3 L337.8 1311.6 L339.0 1312.8 L340.1 1314.0 L341.2 1315.2 L342.4 1316.3 L343.5 1317.4 L344.6 1318.3 L345.8 1319.3 L346.9 1320.2 L348.0 1321.0 L349.2 1321.9 L350.3 1322.7 L351.5 1323.4 L352.6 1324.1 L353.7 1324.8 L354.9 1325.4 L356.0 1326.0 L357.1 1326.6 L358.3 1327.0 L359.4 1327.5 L360.5 1327.9 L361.7 1328.3 L362.8 1328.7 L364.0 1329.1 L365.1 1329.4 L366.2 1329.7 L367.4 1329.9 L368.5 1330.2 L369.6 1330.5 L370.8 1330.7 L371.9 1330.9 L373.0 1331.1 L374.2 1331.3 L375.3 1331.4 L376.4 1331.6 L377.6 1331.7 L378.7 1331.9 L379.9 1332.0 L381.0 1332.2 L382.1 1332.3 L383.3 1332.5 L384.4 1332.6 L385.5 1332.8 L386.7 1332.9 L387.8 1333.1 L388.9 1333.2 L390.1 1333.4 L391.2 1333.5 L392.4 1333.7 L393.5 1333.9 L394.6 1334.1 L395.8 1334.3 L396.9 1334.6 L398.0 1334.9 L399.2 1335.2 L400.3 1335.5 L401.4 1335.9 L402.6 1336.3 L403.7 1336.7 L404.9 1337.2 L406.0 1337.7 L407.1 1338.2 L408.3 1338.7 L409.4 1339.3 L410.5 1339.8 L411.7 1340.4 L412.8 1340.9 L413.9 1341.5 L415.1 1342.1 L416.2 1342.7 L417.4 1343.3 L418.5 1343.9 L419.6 1344.6 L420.8 1345.2 L421.9 1345.9 L423.0 1346.5 L424.2 1347.1 L425.3 1347.6 L426.4 1348.0 L427.6 1348.4 L428.7 1348.9 L429.8 1349.6 L431.0 1350.4 L432.1 1351.3 L433.3 1352.3 L434.4 1353.3 L435.5 1354.4 L436.7 1355.6 L437.8 1356.6 L438.9 1357.3 L440.1 1357.5 L441.2 1357.6 L442.3 1357.5 L443.5 1357.4 L444.6 1357.2 L445.8 1356.9 L446.9 1356.6 L448.0 1356.1 L449.2 1355.6 L450.3 1355.2 L451.4 1354.7 L452.6 1354.4 L453.7 1354.1 L454.8 1354.0 L456.0 1353.9 L457.1 1353.8 L458.3 1353.8 L459.4 1353.7 L460.5 1353.5 L461.7 1353.3 L462.8 1353.0 L463.9 1352.5 L465.1 1352.0 L466.2 1351.3 L467.3 1350.5 L468.5 1349.5 L469.6 1348.4 L470.8 1347.2 L471.9 1345.9 L473.0 1344.5 L474.2 1343.1 L475.3 1341.5 L476.4 1340.1 L477.6 1338.8 L478.7 1337.6 L479.8 1336.5 L481.0 1335.5 L482.1 1334.5 L483.2 1333.7 L484.4 1332.9 L485.5 1332.3 L486.7 1331.7 L487.8 1331.3 L488.9 1331.2 L490.1 1331.4 L491.2 1331.7 L492.3 1332.1 L493.5 1332.5 L494.6 1332.9 L495.7 1333.3 L496.9 1333.7 L498.0 1334.1 L499.2 1334.5 L500.3 1335.0 L501.4 1335.4 L502.6 1335.8 L503.7 1336.0 L504.8 1336.1 L506.0 1336.0 L507.1 1335.8 L508.2 1335.4 L509.4 1334.7 L510.5 1333.7 L511.7 1332.4 L512.8 1330.9 L513.9 1329.3 L515.1 1327.6 L516.2 1325.8 L517.3 1323.9 L518.5 1322.0 L519.6 1320.0 L520.7 1318.0 L521.9 1315.9 L523.0 1314.0 L524.1 1312.1 L525.3 1310.3 L526.4 1308.6 L527.6 1307.0 L528.7 1305.6 L529.8 1304.3 L531.0 1303.1 L532.1 1302.1 L533.2 1301.3 L534.4 1300.7 L535.5 1300.3 L536.6 1300.1 L537.8 1300.0 L538.9 1299.8 L540.1 1299.7 L541.2 1299.6 L542.3 1299.4 L543.5 1299.3 L544.6 1299.2 L545.7 1299.1 L546.9 1299.1 L548.0 1298.9 L549.1 1298.8 L550.3 1298.6 L551.4 1298.3 L552.6 1297.8 L553.7 1297.1 L554.8 1296.4 L556.0 1295.7 L557.1 1295.1 L558.2 1294.4 L559.4 1293.7 L560.5 1293.0 L561.6 1292.3 L562.8 1291.7 L563.9 1291.0 L565.1 1290.4 L566.2 1290.0 L567.3 1289.6 L568.5 1288.9 L569.6 1287.8 L570.7 1286.2 L571.9 1284.5 L573.0 1282.8 L574.1 1281.1 L575.3 1279.4 L576.4 1277.7 L577.5 1276.0 L578.7 1274.3 L579.8 1272.6 L581.0 1270.9 L582.1 1269.2 L583.2 1267.5 L584.4 1265.8 L585.5 1264.1 L586.6 1262.6 L587.8 1261.1 L588.9 1259.7 L590.0 1258.3 L591.2 1256.9 L592.3 1255.6 L593.5 1254.3 L594.6 1253.1 L595.7 1251.9 L596.9 1250.8 L598.0 1249.8 L599.1 1248.8 L600.3 1247.8 L601.4 1246.9 L602.5 1246.1 L603.7 1245.3 L604.8 1244.6 L606.0 1244.0 L607.1 1243.4 L608.2 1243.0 L609.4 1242.5 L610.5 1242.1 L611.6 1241.8 L612.8 1241.6 L613.9 1241.5 L615.0 1241.6 L616.2 1241.7 L617.3 1241.8 L618.5 1241.9 L619.6 1242.0 L620.7 1242.1 L621.9 1242.3 L623.0 1242.4 L624.1 1242.5 L625.3 1242.6 L626.4 1242.7 L627.5 1242.9 L628.7 1243.0 L629.8 1243.1 L630.9 1243.3 L632.1 1243.4 L633.2 1243.5 L634.4 1243.7 L635.5 1243.8 L636.6 1243.9 L637.8 1244.1 L638.9 1244.2 L640.0 1244.3 L641.2 1244.4 L642.3 1244.4 L643.4 1244.3 L644.6 1244.1 L645.7 1243.9 L646.9 1243.7 L648.0 1243.4 L649.1 1243.0 L650.3 1242.7 L651.4 1242.2 L652.5 1241.7 L653.7 1241.2 L654.8 1240.5 L655.9 1239.8 L657.1 1239.0 L658.2 1238.1 L659.4 1237.3 L660.5 1236.4 L661.6 1235.5 L662.8 1234.6 L663.9 1233.7 L665.0 1232.9 L666.2 1232.0 L667.3 1231.1 L668.4 1230.2 L669.6 1229.3 L670.7 1228.4 L671.9 1227.5 L673.0 1226.6 L674.1 1225.7 L675.3 1224.8 L676.4 1224.0 L677.5 1223.1 L678.7 1222.2 L679.8 1221.3 L680.9 1220.5 L682.1 1219.8 L683.2 1219.1 L684.3 1218.5 L685.5 1217.9 L686.6 1217.3 L687.8 1216.8 L688.9 1216.3 L690.0 1215.8 L691.2 1215.4 L692.3 1215.1 L693.4 1214.8 L694.6 1214.6 L695.7 1214.4 L696.8 1214.2 L698.0 1214.1 L699.1 1214.0 L700.3 1214.0 L701.4 1214.0 L702.5 1214.1 L703.7 1214.2 L704.8 1214.4 L705.9 1214.7 L707.1 1215.0 L708.2 1215.4 L709.3 1215.9 L710.5 1216.5 L711.6 1217.1 L712.8 1217.8 L713.9 1218.7 L715.0 1219.6 L716.2 1220.6 L717.3 1221.6 L718.4 1222.8 L719.6 1223.9 L720.7 1225.1 L721.8 1226.3 L723.0 1227.5 L724.1 1228.9 L725.3 1230.2 L726.4 1231.7 L727.5 1233.2 L728.7 1234.9 L729.8 1236.5 L730.9 1238.1 L732.1 1239.7 L733.2 1241.3 L734.3 1243.0 L735.5 1244.6 L736.6 1246.2 L737.7 1247.8 L738.9 1249.5 L740.0 1251.1 L741.2 1252.7 L742.3 1254.3 L743.4 1255.9 L744.6 1257.6 L745.7 1259.2 L746.8 1260.8 L748.0 1262.4 L749.1 1264.1 L750.2 1265.7 L751.4 1267.3 L752.5 1268.9 L753.7 1270.4 L754.8 1272.0 L755.9 1273.5 L757.1 1275.0 L758.2 1276.5 L759.3 1278.0 L760.5 1279.5 L761.6 1281.0 L762.7 1282.4 L763.9 1283.8 L765.0 1285.1 L766.2 1286.4 L767.3 1287.6 L768.4 1288.9 L769.6 1290.1 L770.7 1291.2 L771.8 1292.4 L773.0 1293.5 L774.1 1294.6 L775.2 1295.6 L776.4 1296.6 L777.5 1297.6 L778.6 1298.5 L779.8 1299.4 L780.9 1300.2 L782.1 1301.0 L783.2 1301.8 L784.3 1302.5 L785.5 1303.3 L786.6 1303.9 L787.7 1304.6 L788.9 1305.2 L790.0 1305.8 L791.1 1306.4 L792.3 1306.9 L793.4 1307.4 L794.6 1307.9 L795.7 1308.4 L796.8 1308.9 L798.0 1309.3 L799.1 1309.7 L800.2 1310.1 L801.4 1310.5 L802.5 1310.8 L803.6 1311.0 L804.8 1311.2 L805.9 1311.4 L807.1 1311.6 L808.2 1311.8 L809.3 1312.0 L810.5 1312.1 L811.6 1312.2 L812.7 1312.4 L813.9 1312.5 L815.0 1312.6 L816.1 1312.7 L817.3 1312.8 L818.4 1312.8 L819.6 1312.9 L820.7 1312.8 L821.8 1312.8 L823.0 1312.7 L824.1 1312.6 L825.2 1312.5 L826.4 1312.3 L827.5 1312.2 L828.6 1312.0 L829.8 1311.8 L830.9 1311.6 L832.0 1311.3 L833.2 1311.1 L834.3 1310.8 L835.5 1310.6 L836.6 1310.3 L837.7 1310.0 L838.9 1309.7 L840.0 1309.4 L841.1 1309.0 L842.3 1308.6 L843.4 1308.2 L844.5 1307.8 L845.7 1307.4 L846.8 1307.0 L848.0 1306.7 L849.1 1306.3 L850.2 1305.9 L851.4 1305.5 L852.5 1305.1 L853.6 1304.7 L854.8 1304.3 L855.9 1303.9 L857.0 1303.5 L858.2 1303.1 L859.3 1302.7 L860.5 1302.3 L861.6 1301.9 L862.7 1301.5 L863.9 1301.1 L865.0 1300.7 L866.1 1300.3 L867.3 1299.9 L868.4 1299.5 L869.5 1299.1 L870.7 1298.7 L871.8 1298.3 L873.0 1297.9 L874.1 1297.5 L875.2 1297.1 L876.4 1296.7 L877.5 1296.3 L878.6 1295.9 L879.8 1295.5 L880.9 1295.1 L882.0 1294.7 L883.2 1294.3 L884.3 1293.9 L885.4 1293.5 L886.6 1293.1 L887.7 1292.7 L888.9 1292.3 L890.0 1292.0 L891.1 1291.6 L892.3 1291.2 L893.4 1290.9 L894.5 1290.5 L895.7 1290.2 L896.8 1289.9 L897.9 1289.6 L899.1 1289.3 L900.2 1289.0 L901.4 1288.7 L902.5 1288.4 L903.6 1288.1 L904.8 1287.8 L905.9 1287.5"/>
</g>
<line class="t" x1="89.0" y1="1398.0" x2="89.0" y2="1410.0"/>
<text class="tk" text-anchor="middle" x="89.6" y="1447.8">0</text>
<line class="t" x1="225.1" y1="1398.0" x2="225.1" y2="1410.0"/>
<text class="tk" text-anchor="middle" x="225.7" y="1447.8">10</text>
<line class="t" x1="361.3" y1="1398.0" x2="361.3" y2="1410.0"/>
<text class="tk" text-anchor="middle" x="361.9" y="1447.8">20</text>
<line class="t" x1="497.4" y1="1398.0" x2="497.4" y2="1410.0"/>
<text class="tk" text-anchor="middle" x="498.1" y="1447.8">30</text>
<line class="t" x1="633.6" y1="1398.0" x2="633.6" y2="1410.0"/>
<text class="tk" text-anchor="middle" x="634.2" y="1447.8">40</text>
<line class="t" x1="769.8" y1="1398.0" x2="769.8" y2="1410.0"/>
<text class="tk" text-anchor="middle" x="770.4" y="1447.8">50</text>
<line class="t" x1="905.9" y1="1398.0" x2="905.9" y2="1410.0"/>
<text class="tk" text-anchor="middle" x="906.5" y="1447.8">60</text>
<line class="t" x1="77.0" y1="1361.1" x2="89.0" y2="1361.1"/>
<text class="tk" text-anchor="end" x="66.7" y="1374.7">−1</text>
<line class="t" x1="77.0" y1="1287.2" x2="89.0" y2="1287.2"/>
<text class="tk" text-anchor="end" x="66.7" y="1300.8">0</text>
<line class="t" x1="77.0" y1="1213.3" x2="89.0" y2="1213.3"/>
<text class="tk" text-anchor="end" x="66.7" y="1226.9">1</text>
<rect class="sp" x="89.0" y="1176.4" width="816.9" height="221.6"/>
<text class="tt" y="1157.0"><tspan class="it" x="438.6">t</tspan> <tspan x="463.1">=</tspan> <tspan x="503.9">36</tspan></text>
</g>
<g>
<clipPath id="cp7"><rect x="1036.4" y="1176.4" width="816.9" height="221.6"/></clipPath>
<g clip-path="url(#cp7)">
<path class="c" stroke="#d62728" d="M1036.4 1287.2 L1037.6 1286.9 L1038.7 1286.5 L1039.8 1286.2 L1041.0 1285.9 L1042.1 1285.6 L1043.2 1285.2 L1044.4 1284.9 L1045.5 1284.6 L1046.7 1284.3 L1047.8 1284.0 L1048.9 1283.7 L1050.1 1283.5 L1051.2 1283.2 L1052.4 1282.9 L1053.5 1282.6 L1054.6 1282.3 L1055.8 1282.0 L1056.9 1281.6 L1058.0 1281.3 L1059.2 1281.0 L1060.3 1280.7 L1061.5 1280.4 L1062.6 1280.1 L1063.7 1279.9 L1064.9 1279.6 L1066.0 1279.3 L1067.1 1279.1 L1068.3 1278.8 L1069.4 1278.6 L1070.6 1278.3 L1071.7 1278.1 L1072.8 1277.8 L1074.0 1277.6 L1075.1 1277.4 L1076.2 1277.2 L1077.4 1277.0 L1078.5 1276.8 L1079.7 1276.6 L1080.8 1276.4 L1081.9 1276.2 L1083.1 1276.1 L1084.2 1275.9 L1085.3 1275.8 L1086.5 1275.6 L1087.6 1275.5 L1088.8 1275.4 L1089.9 1275.3 L1091.0 1275.1 L1092.2 1275.0 L1093.3 1274.9 L1094.4 1274.8 L1095.6 1274.7 L1096.7 1274.7 L1097.9 1274.6 L1099.0 1274.5 L1100.1 1274.4 L1101.3 1274.4 L1102.4 1274.3 L1103.5 1274.3 L1104.7 1274.2 L1105.8 1274.2 L1107.0 1274.1 L1108.1 1274.1 L1109.2 1274.1 L1110.4 1274.1 L1111.5 1274.1 L1112.6 1274.1 L1113.8 1274.1 L1114.9 1274.1 L1116.1 1274.2 L1117.2 1274.2 L1118.3 1274.3 L1119.5 1274.4 L1120.6 1274.5 L1121.8 1274.6 L1122.9 1274.7 L1124.0 1274.9 L1125.2 1275.0 L1126.3 1275.2 L1127.4 1275.4 L1128.6 1275.6 L1129.7 1275.8 L1130.9 1276.0 L1132.0 1276.2 L1133.1 1276.4 L1134.3 1276.7 L1135.4 1277.0 L1136.5 1277.2 L1137.7 1277.6 L1138.8 1277.9 L1140.0 1278.2 L1141.1 1278.6 L1142.2 1278.9 L1143.4 1279.3 L1144.5 1279.7 L1145.6 1280.1 L1146.8 1280.5 L1147.9 1280.9 L1149.1 1281.3 L1150.2 1281.7 L1151.3 1282.2 L1152.5 1282.6 L1153.6 1283.1 L1154.7 1283.6 L1155.9 1284.1 L1157.0 1284.5 L1158.2 1285.0 L1159.3 1285.5 L1160.4 1286.0 L1161.6 1286.5 L1162.7 1287.0 L1163.8 1287.6 L1165.0 1288.1 L1166.1 1288.6 L1167.3 1289.1 L1168.4 1289.6 L1169.5 1290.1 L1170.7 1290.6 L1171.8 1291.1 L1172.9 1291.6 L1174.1 1292.1 L1175.2 1292.6 L1176.4 1293.1 L1177.5 1293.6 L1178.6 1294.1 L1179.8 1294.6 L1180.9 1295.1 L1182.0 1295.6 L1183.2 1296.2 L1184.3 1296.7 L1185.5 1297.2 L1186.6 1297.8 L1187.7 1298.3 L1188.9 1298.9 L1190.0 1299.5 L1191.2 1300.0 L1192.3 1300.6 L1193.4 1301.2 L1194.6 1301.8 L1195.7 1302.4 L1196.8 1303.0 L1198.0 1303.6 L1199.1 1304.3 L1200.3 1304.9 L1201.4 1305.6 L1202.5 1306.2 L1203.7 1306.9 L1204.8 1307.6 L1205.9 1308.3 L1207.1 1309.0 L1208.2 1309.8 L1209.4 1310.5 L1210.5 1311.3 L1211.6 1312.1 L1212.8 1312.9 L1213.9 1313.7 L1215.0 1314.4 L1216.2 1315.1 L1217.3 1315.8 L1218.5 1316.5 L1219.6 1317.2 L1220.7 1317.9 L1221.9 1318.6 L1223.0 1319.2 L1224.1 1319.9 L1225.3 1320.5 L1226.4 1321.1 L1227.6 1321.8 L1228.7 1322.4 L1229.8 1323.0 L1231.0 1323.5 L1232.1 1324.1 L1233.2 1324.7 L1234.4 1325.2 L1235.5 1325.8 L1236.7 1326.3 L1237.8 1326.8 L1238.9 1327.3 L1240.1 1327.8 L1241.2 1328.2 L1242.3 1328.7 L1243.5 1329.1 L1244.6 1329.5 L1245.8 1330.0 L1246.9 1330.3 L1248.0 1330.7 L1249.2 1331.0 L1250.3 1331.4 L1251.5 1331.6 L1252.6 1331.9 L1253.7 1332.1 L1254.9 1332.3 L1256.0 1332.5 L1257.1 1332.7 L1258.3 1332.8 L1259.4 1332.9 L1260.6 1333.1 L1261.7 1333.2 L1262.8 1333.3 L1264.0 1333.3 L1265.1 1333.4 L1266.2 1333.4 L1267.4 1333.4 L1268.5 1333.4 L1269.7 1333.4 L1270.8 1333.3 L1271.9 1333.2 L1273.1 1333.0 L1274.2 1332.8 L1275.3 1332.6 L1276.5 1332.3 L1277.6 1332.1 L1278.8 1331.7 L1279.9 1331.3 L1281.0 1330.9 L1282.2 1330.4 L1283.3 1329.9 L1284.4 1329.4 L1285.6 1328.8 L1286.7 1328.2 L1287.9 1327.5 L1289.0 1326.8 L1290.1 1326.0 L1291.3 1325.2 L1292.4 1324.4 L1293.5 1323.4 L1294.7 1322.5 L1295.8 1321.6 L1297.0 1320.7 L1298.1 1319.9 L1299.2 1319.3 L1300.4 1319.0 L1301.5 1318.7 L1302.6 1318.4 L1303.8 1318.2 L1304.9 1317.9 L1306.1 1317.6 L1307.2 1317.3 L1308.3 1317.0 L1309.5 1316.7 L1310.6 1316.2 L1311.7 1315.4 L1312.9 1314.4 L1314.0 1313.4 L1315.2 1312.3 L1316.3 1311.1 L1317.4 1310.0 L1318.6 1308.8 L1319.7 1307.7 L1320.9 1306.6 L1322.0 1305.6 L1323.1 1304.6 L1324.3 1303.6 L1325.4 1302.8 L1326.5 1302.2 L1327.7 1301.7 L1328.8 1301.4 L1330.0 1301.1 L1331.1 1301.0 L1332.2 1301.1 L1333.4 1301.3 L1334.5 1301.5 L1335.6 1301.7 L1336.8 1302.0 L1337.9 1302.3 L1339.1 1302.6 L1340.2 1302.9 L1341.3 1303.3 L1342.5 1303.6 L1343.6 1303.9 L1344.7 1304.2 L1345.9 1304.4 L1347.0 1304.6 L1348.2 1304.7 L1349.3 1304.7 L1350.4 1304.7 L1351.6 1304.5 L1352.7 1304.3 L1353.8 1304.0 L1355.0 1303.8 L1356.1 1303.6 L1357.3 1303.4 L1358.4 1303.3 L1359.5 1303.2 L1360.7 1303.1 L1361.8 1303.0 L1362.9 1303.0 L1364.1 1303.0 L1365.2 1303.1 L1366.4 1303.3 L1367.5 1303.5 L1368.6 1303.9 L1369.8 1304.4 L1370.9 1305.0 L1372.0 1305.7 L1373.2 1306.5 L1374.3 1307.4 L1375.5 1308.3 L1376.6 1309.5 L1377.7 1310.6 L1378.9 1311.7 L1380.0 1312.9 L1381.1 1314.0 L1382.3 1315.1 L1383.4 1316.3 L1384.6 1317.4 L1385.7 1318.5 L1386.8 1319.7 L1388.0 1320.8 L1389.1 1321.9 L1390.3 1323.1 L1391.4 1324.1 L1392.5 1325.1 L1393.7 1325.8 L1394.8 1326.4 L1395.9 1326.9 L1397.1 1327.4 L1398.2 1327.7 L1399.4 1327.9 L1400.5 1328.0 L1401.6 1328.0 L1402.8 1328.0 L1403.9 1327.9 L1405.0 1327.8 L1406.2 1327.6 L1407.3 1327.2 L1408.5 1326.8 L1409.6 1326.2 L1410.7 1325.5 L1411.9 1324.7 L1413.0 1323.8 L1414.1 1322.9 L1415.3 1321.8 L1416.4 1320.7 L1417.6 1319.5 L1418.7 1318.2 L1419.8 1317.0 L1421.0 1315.7 L1422.1 1314.4 L1423.2 1313.2 L1424.4 1312.0 L1425.5 1310.8 L1426.7 1309.6 L1427.8 1308.4 L1428.9 1307.3 L1430.1 1306.1 L1431.2 1305.0 L1432.3 1304.0 L1433.5 1303.0 L1434.6 1302.3 L1435.8 1301.6 L1436.9 1301.1 L1438.0 1300.6 L1439.2 1300.3 L1440.3 1300.0 L1441.4 1299.8 L1442.6 1299.6 L1443.7 1299.5 L1444.9 1299.4 L1446.0 1299.4 L1447.1 1299.5 L1448.3 1299.8 L1449.4 1300.3 L1450.5 1300.8 L1451.7 1301.5 L1452.8 1302.4 L1454.0 1303.4 L1455.1 1304.4 L1456.2 1305.5 L1457.4 1306.7 L1458.5 1307.8 L1459.7 1309.0 L1460.8 1310.2 L1461.9 1311.3 L1463.1 1312.6 L1464.2 1313.9 L1465.3 1315.1 L1466.5 1316.4 L1467.6 1317.7 L1468.8 1318.9 L1469.9 1320.1 L1471.0 1321.1 L1472.2 1322.0 L1473.3 1322.8 L1474.4 1323.5 L1475.6 1324.2 L1476.7 1324.7 L1477.9 1325.3 L1479.0 1325.7 L1480.1 1326.1 L1481.3 1326.4 L1482.4 1326.6 L1483.5 1326.8 L1484.7 1326.9 L1485.8 1326.9 L1487.0 1326.8 L1488.1 1326.6 L1489.2 1326.4 L1490.4 1326.0 L1491.5 1325.6 L1492.6 1325.0 L1493.8 1324.3 L1494.9 1323.4 L1496.1 1322.4 L1497.2 1321.4 L1498.3 1320.4 L1499.5 1319.3 L1500.6 1318.2 L1501.7 1317.1 L1502.9 1316.0 L1504.0 1314.9 L1505.2 1313.7 L1506.3 1312.6 L1507.4 1311.4 L1508.6 1310.3 L1509.7 1309.2 L1510.8 1308.2 L1512.0 1307.3 L1513.1 1306.5 L1514.3 1305.8 L1515.4 1305.2 L1516.5 1304.6 L1517.7 1304.2 L1518.8 1303.7 L1520.0 1303.4 L1521.1 1303.1 L1522.2 1302.9 L1523.4 1302.7 L1524.5 1302.7 L1525.6 1302.7 L1526.8 1302.7 L1527.9 1302.7 L1529.1 1302.8 L1530.2 1302.8 L1531.3 1302.9 L1532.5 1303.0 L1533.6 1303.1 L1534.7 1303.2 L1535.9 1303.4 L1537.0 1303.6 L1538.2 1303.8 L1539.3 1304.0 L1540.4 1304.1 L1541.6 1304.1 L1542.7 1304.0 L1543.8 1303.8 L1545.0 1303.6 L1546.1 1303.4 L1547.3 1303.2 L1548.4 1302.9 L1549.5 1302.7 L1550.7 1302.4 L1551.8 1302.2 L1552.9 1301.9 L1554.1 1301.6 L1555.2 1301.4 L1556.4 1301.2 L1557.5 1301.0 L1558.6 1301.1 L1559.8 1301.4 L1560.9 1301.8 L1562.0 1302.4 L1563.2 1303.1 L1564.3 1303.9 L1565.5 1304.7 L1566.6 1305.6 L1567.7 1306.5 L1568.9 1307.3 L1570.0 1308.1 L1571.1 1308.8 L1572.3 1309.4 L1573.4 1310.0 L1574.6 1310.7 L1575.7 1311.3 L1576.8 1311.9 L1578.0 1312.5 L1579.1 1313.2 L1580.2 1313.8 L1581.4 1314.4 L1582.5 1315.1 L1583.7 1315.7 L1584.8 1316.3 L1585.9 1316.9 L1587.1 1317.2 L1588.2 1317.3 L1589.4 1317.4 L1590.5 1317.9 L1591.6 1318.4 L1592.8 1319.0 L1593.9 1319.6 L1595.0 1320.3 L1596.2 1321.0 L1597.3 1321.9 L1598.5 1322.6 L1599.6 1323.2 L1600.7 1323.6 L1601.9 1323.8 L1603.0 1324.1 L1604.1 1324.3 L1605.3 1324.5 L1606.4 1324.8 L1607.6 1325.0 L1608.7 1325.2 L1609.8 1325.5 L1611.0 1325.7 L1612.1 1325.9 L1613.2 1326.1 L1614.4 1326.4 L1615.5 1326.6 L1616.7 1326.7 L1617.8 1326.9 L1618.9 1327.0 L1620.1 1327.1 L1621.2 1327.1 L1622.3 1327.2 L1623.5 1327.2 L1624.6 1327.2 L1625.8 1327.2 L1626.9 1327.2 L1628.0 1327.1 L1629.2 1327.0 L1630.3 1326.9 L1631.4 1326.7 L1632.6 1326.5 L1633.7 1326.3 L1634.9 1326.1 L1636.0 1325.9 L1637.1 1325.6 L1638.3 1325.3 L1639.4 1325.0 L1640.5 1324.7 L1641.7 1324.4 L1642.8 1324.0 L1644.0 1323.6 L1645.1 1323.2 L1646.2 1322.8 L1647.4 1322.4 L1648.5 1322.0 L1649.6 1321.5 L1650.8 1321.1 L1651.9 1320.6 L1653.1 1320.1 L1654.2 1319.7 L1655.3 1319.2 L1656.5 1318.7 L1657.6 1318.1 L1658.8 1317.6 L1659.9 1317.0 L1661.0 1316.4 L1662.2 1315.9 L1663.3 1315.3 L1664.4 1314.8 L1665.6 1314.2 L1666.7 1313.6 L1667.9 1313.0 L1669.0 1312.5 L1670.1 1311.9 L1671.3 1311.3 L1672.4 1310.7 L1673.5 1310.1 L1674.7 1309.5 L1675.8 1308.9 L1677.0 1308.3 L1678.1 1307.7 L1679.2 1307.1 L1680.4 1306.5 L1681.5 1305.9 L1682.6 1305.3 L1683.8 1304.7 L1684.9 1304.1 L1686.1 1303.6 L1687.2 1303.0 L1688.3 1302.4 L1689.5 1301.8 L1690.6 1301.2 L1691.7 1300.6 L1692.9 1300.1 L1694.0 1299.5 L1695.2 1298.9 L1696.3 1298.3 L1697.4 1297.8 L1698.6 1297.2 L1699.7 1296.6 L1700.8 1296.1 L1702.0 1295.5 L1703.1 1295.0 L1704.3 1294.4 L1705.4 1293.9 L1706.5 1293.4 L1707.7 1292.9 L1708.8 1292.4 L1709.9 1291.8 L1711.1 1291.3 L1712.2 1290.8 L1713.4 1290.3 L1714.5 1289.8 L1715.6 1289.4 L1716.8 1288.9 L1717.9 1288.5 L1719.0 1288.0 L1720.2 1287.6 L1721.3 1287.2 L1722.5 1286.7 L1723.6 1286.3 L1724.7 1285.9 L1725.9 1285.5 L1727.0 1285.1 L1728.2 1284.8 L1729.3 1284.4 L1730.4 1284.1 L1731.6 1283.7 L1732.7 1283.4 L1733.8 1283.1 L1735.0 1282.8 L1736.1 1282.5 L1737.3 1282.2 L1738.4 1282.0 L1739.5 1281.7 L1740.7 1281.5 L1741.8 1281.3 L1742.9 1281.0 L1744.1 1280.8 L1745.2 1280.6 L1746.4 1280.4 L1747.5 1280.2 L1748.6 1280.0 L1749.8 1279.9 L1750.9 1279.7 L1752.0 1279.6 L1753.2 1279.4 L1754.3 1279.3 L1755.5 1279.2 L1756.6 1279.0 L1757.7 1278.9 L1758.9 1278.8 L1760.0 1278.7 L1761.1 1278.6 L1762.3 1278.5 L1763.4 1278.4 L1764.6 1278.3 L1765.7 1278.2 L1766.8 1278.2 L1768.0 1278.1 L1769.1 1278.0 L1770.2 1278.0 L1771.4 1277.9 L1772.5 1277.9 L1773.7 1277.9 L1774.8 1277.8 L1775.9 1277.8 L1777.1 1277.8 L1778.2 1277.8 L1779.3 1277.8 L1780.5 1277.8 L1781.6 1277.9 L1782.8 1277.9 L1783.9 1277.9 L1785.0 1278.0 L1786.2 1278.0 L1787.3 1278.1 L1788.5 1278.2 L1789.6 1278.2 L1790.7 1278.3 L1791.9 1278.4 L1793.0 1278.5 L1794.1 1278.6 L1795.3 1278.7 L1796.4 1278.9 L1797.6 1279.0 L1798.7 1279.1 L1799.8 1279.2 L1801.0 1279.3 L1802.1 1279.5 L1803.2 1279.6 L1804.4 1279.8 L1805.5 1279.9 L1806.7 1280.1 L1807.8 1280.2 L1808.9 1280.4 L1810.1 1280.6 L1811.2 1280.7 L1812.3 1280.9 L1813.5 1281.1 L1814.6 1281.3 L1815.8 1281.5 L1816.9 1281.6 L1818.0 1281.8 L1819.2 1282.0 L1820.3 1282.2 L1821.4 1282.4 L1822.6 1282.6 L1823.7 1282.8 L1824.9 1282.9 L1826.0 1283.1 L1827.1 1283.3 L1828.3 1283.5 L1829.4 1283.7 L1830.5 1283.9 L1831.7 1284.1 L1832.8 1284.3 L1834.0 1284.5 L1835.1 1284.7 L1836.2 1284.9 L1837.4 1285.1 L1838.5 1285.3 L1839.6 1285.5 L1840.8 1285.6 L1841.9 1285.8 L1843.1 1286.0 L1844.2 1286.2 L1845.3 1286.4 L1846.5 1286.5 L1847.6 1286.7 L1848.7 1286.9 L1849.9 1287.0 L1851.0 1287.2 L1852.2 1287.4 L1853.3 1287.5"/>
<path class="c" stroke="#1f77b4" d="M1036.4 1287.5 L1037.6 1285.6 L1038.7 1283.8 L1039.8 1281.9 L1041.0 1280.0 L1042.1 1278.2 L1043.2 1276.4 L1044.4 1274.5 L1045.5 1272.7 L1046.7 1270.9 L1047.8 1269.2 L1048.9 1267.4 L1050.1 1265.6 L1051.2 1263.9 L1052.4 1262.2 L1053.5 1260.5 L1054.6 1258.8 L1055.8 1257.1 L1056.9 1255.4 L1058.0 1253.8 L1059.2 1252.1 L1060.3 1250.5 L1061.5 1248.9 L1062.6 1247.4 L1063.7 1245.9 L1064.9 1244.4 L1066.0 1242.9 L1067.1 1241.4 L1068.3 1240.0 L1069.4 1238.6 L1070.6 1237.2 L1071.7 1235.8 L1072.8 1234.4 L1074.0 1233.0 L1075.1 1231.7 L1076.2 1230.4 L1077.4 1229.1 L1078.5 1227.8 L1079.7 1226.6 L1080.8 1225.4 L1081.9 1224.2 L1083.1 1223.0 L1084.2 1221.9 L1085.3 1220.8 L1086.5 1219.7 L1087.6 1218.6 L1088.8 1217.6 L1089.9 1216.6 L1091.0 1215.5 L1092.2 1214.6 L1093.3 1213.6 L1094.4 1212.6 L1095.6 1211.7 L1096.7 1210.8 L1097.9 1209.9 L1099.0 1209.1 L1100.1 1208.2 L1101.3 1207.4 L1102.4 1206.6 L1103.5 1205.8 L1104.7 1205.1 L1105.8 1204.4 L1107.0 1203.7 L1108.1 1203.0 L1109.2 1202.3 L1110.4 1201.7 L1111.5 1201.0 L1112.6 1200.4 L1113.8 1199.8 L1114.9 1199.2 L1116.1 1198.7 L1117.2 1198.1 L1118.3 1197.6 L1119.5 1197.1 L1120.6 1196.6 L1121.8 1196.2 L1122.9 1195.7 L1124.0 1195.3 L1125.2 1195.0 L1126.3 1194.6 L1127.4 1194.3 L1128.6 1194.0 L1129.7 1193.8 L1130.9 1193.5 L1132.0 1193.3 L1133.1 1193.1 L1134.3 1192.9 L1135.4 1192.8 L1136.5 1192.7 L1137.7 1192.6 L1138.8 1192.5 L1140.0 1192.4 L1141.1 1192.4 L1142.2 1192.4 L1143.4 1192.4 L1144.5 1192.4 L1145.6 1192.5 L1146.8 1192.5 L1147.9 1192.6 L1149.1 1192.6 L1150.2 1192.7 L1151.3 1192.8 L1152.5 1192.9 L1153.6 1193.0 L1154.7 1193.1 L1155.9 1193.2 L1157.0 1193.4 L1158.2 1193.6 L1159.3 1193.8 L1160.4 1194.1 L1161.6 1194.5 L1162.7 1194.9 L1163.8 1195.3 L1165.0 1195.8 L1166.1 1196.2 L1167.3 1196.7 L1168.4 1197.2 L1169.5 1197.7 L1170.7 1198.2 L1171.8 1198.8 L1172.9 1199.3 L1174.1 1199.9 L1175.2 1200.5 L1176.4 1201.0 L1177.5 1201.6 L1178.6 1202.2 L1179.8 1202.9 L1180.9 1203.5 L1182.0 1204.1 L1183.2 1204.8 L1184.3 1205.4 L1185.5 1206.1 L1186.6 1206.8 L1187.7 1207.5 L1188.9 1208.2 L1190.0 1209.0 L1191.2 1209.7 L1192.3 1210.5 L1193.4 1211.3 L1194.6 1212.1 L1195.7 1212.9 L1196.8 1213.7 L1198.0 1214.6 L1199.1 1215.5 L1200.3 1216.4 L1201.4 1217.3 L1202.5 1218.2 L1203.7 1219.1 L1204.8 1220.1 L1205.9 1221.1 L1207.1 1222.1 L1208.2 1223.1 L1209.4 1224.1 L1210.5 1225.2 L1211.6 1226.3 L1212.8 1227.3 L1213.9 1228.4 L1215.0 1229.6 L1216.2 1230.7 L1217.3 1231.8 L1218.5 1233.0 L1219.6 1234.2 L1220.7 1235.3 L1221.9 1236.5 L1223.0 1237.8 L1224.1 1239.0 L1225.3 1240.3 L1226.4 1241.5 L1227.6 1242.8 L1228.7 1244.1 L1229.8 1245.4 L1231.0 1246.7 L1232.1 1248.1 L1233.2 1249.4 L1234.4 1250.8 L1235.5 1252.1 L1236.7 1253.5 L1237.8 1254.9 L1238.9 1256.3 L1240.1 1257.7 L1241.2 1259.1 L1242.3 1260.5 L1243.5 1262.0 L1244.6 1263.4 L1245.8 1264.9 L1246.9 1266.4 L1248.0 1267.9 L1249.2 1269.3 L1250.3 1270.8 L1251.5 1272.3 L1252.6 1273.8 L1253.7 1275.3 L1254.9 1276.8 L1256.0 1278.3 L1257.1 1279.8 L1258.3 1281.3 L1259.4 1282.8 L1260.6 1284.3 L1261.7 1285.8 L1262.8 1287.3 L1264.0 1288.8 L1265.1 1290.2 L1266.2 1291.7 L1267.4 1293.1 L1268.5 1294.6 L1269.7 1296.0 L1270.8 1297.5 L1271.9 1298.9 L1273.1 1300.4 L1274.2 1301.9 L1275.3 1303.4 L1276.5 1304.9 L1277.6 1306.4 L1278.8 1307.9 L1279.9 1309.4 L1281.0 1310.9 L1282.2 1312.3 L1283.3 1313.8 L1284.4 1315.1 L1285.6 1316.5 L1286.7 1317.6 L1287.9 1318.5 L1289.0 1319.3 L1290.1 1320.2 L1291.3 1321.3 L1292.4 1322.5 L1293.5 1323.8 L1294.7 1325.4 L1295.8 1327.1 L1297.0 1328.8 L1298.1 1330.5 L1299.2 1332.0 L1300.4 1333.0 L1301.5 1333.7 L1302.6 1334.2 L1303.8 1334.7 L1304.9 1335.2 L1306.1 1335.7 L1307.2 1336.2 L1308.3 1336.9 L1309.5 1337.7 L1310.6 1338.7 L1311.7 1339.7 L1312.9 1340.9 L1314.0 1342.3 L1315.2 1343.7 L1316.3 1345.1 L1317.4 1346.4 L1318.6 1347.7 L1319.7 1348.8 L1320.9 1349.6 L1322.0 1350.3 L1323.1 1350.7 L1324.3 1350.7 L1325.4 1350.6 L1326.5 1350.4 L1327.7 1350.3 L1328.8 1350.1 L1330.0 1350.0 L1331.1 1349.8 L1332.2 1349.6 L1333.4 1349.3 L1334.5 1349.1 L1335.6 1348.9 L1336.8 1348.8 L1337.9 1348.7 L1339.1 1348.7 L1340.2 1349.0 L1341.3 1349.4 L1342.5 1349.8 L1343.6 1350.2 L1344.7 1350.5 L1345.9 1350.7 L1347.0 1351.0 L1348.2 1351.2 L1349.3 1351.5 L1350.4 1351.7 L1351.6 1352.0 L1352.7 1352.1 L1353.8 1352.1 L1355.0 1352.0 L1356.1 1351.8 L1357.3 1351.5 L1358.4 1351.1 L1359.5 1350.6 L1360.7 1350.1 L1361.8 1349.4 L1362.9 1348.7 L1364.1 1348.0 L1365.2 1347.2 L1366.4 1346.3 L1367.5 1345.5 L1368.6 1344.7 L1369.8 1343.9 L1370.9 1343.2 L1372.0 1342.5 L1373.2 1341.9 L1374.3 1341.4 L1375.5 1340.9 L1376.6 1340.4 L1377.7 1339.9 L1378.9 1339.6 L1380.0 1339.3 L1381.1 1339.1 L1382.3 1339.1 L1383.4 1339.2 L1384.6 1339.3 L1385.7 1339.5 L1386.8 1339.8 L1388.0 1340.2 L1389.1 1340.5 L1390.3 1340.9 L1391.4 1341.3 L1392.5 1341.7 L1393.7 1342.1 L1394.8 1342.5 L1395.9 1342.9 L1397.1 1343.2 L1398.2 1343.6 L1399.4 1343.9 L1400.5 1344.3 L1401.6 1344.6 L1402.8 1344.9 L1403.9 1345.2 L1405.0 1345.3 L1406.2 1345.3 L1407.3 1345.3 L1408.5 1345.2 L1409.6 1345.1 L1410.7 1344.9 L1411.9 1344.7 L1413.0 1344.4 L1414.1 1344.0 L1415.3 1343.6 L1416.4 1343.2 L1417.6 1342.7 L1418.7 1342.1 L1419.8 1341.6 L1421.0 1340.9 L1422.1 1340.2 L1423.2 1339.6 L1424.4 1338.9 L1425.5 1338.2 L1426.7 1337.5 L1427.8 1336.8 L1428.9 1336.1 L1430.1 1335.3 L1431.2 1334.6 L1432.3 1333.9 L1433.5 1333.2 L1434.6 1332.4 L1435.8 1331.7 L1436.9 1331.0 L1438.0 1330.2 L1439.2 1329.5 L1440.3 1328.8 L1441.4 1328.0 L1442.6 1327.3 L1443.7 1326.6 L1444.9 1325.9 L1446.0 1325.2 L1447.1 1324.5 L1448.3 1323.8 L1449.4 1323.1 L1450.5 1322.2 L1451.7 1321.4 L1452.8 1320.4 L1454.0 1319.4 L1455.1 1318.3 L1456.2 1317.3 L1457.4 1316.2 L1458.5 1315.1 L1459.7 1314.1 L1460.8 1313.0 L1461.9 1311.9 L1463.1 1310.9 L1464.2 1309.8 L1465.3 1308.7 L1466.5 1307.7 L1467.6 1306.6 L1468.8 1305.5 L1469.9 1304.5 L1471.0 1303.4 L1472.2 1302.3 L1473.3 1301.3 L1474.4 1300.2 L1475.6 1299.1 L1476.7 1298.1 L1477.9 1297.0 L1479.0 1295.9 L1480.1 1294.9 L1481.3 1293.9 L1482.4 1292.9 L1483.5 1292.0 L1484.7 1291.1 L1485.8 1290.2 L1487.0 1289.2 L1488.1 1288.3 L1489.2 1287.4 L1490.4 1286.5 L1491.5 1285.5 L1492.6 1284.6 L1493.8 1283.6 L1494.9 1282.7 L1496.1 1281.8 L1497.2 1280.9 L1498.3 1280.0 L1499.5 1279.0 L1500.6 1278.0 L1501.7 1277.0 L1502.9 1275.9 L1504.0 1274.7 L1505.2 1273.6 L1506.3 1272.5 L1507.4 1271.3 L1508.6 1270.2 L1509.7 1269.1 L1510.8 1267.9 L1512.0 1266.8 L1513.1 1265.6 L1514.3 1264.5 L1515.4 1263.4 L1516.5 1262.2 L1517.7 1261.1 L1518.8 1260.0 L1520.0 1258.8 L1521.1 1257.7 L1522.2 1256.6 L1523.4 1255.5 L1524.5 1254.6 L1525.6 1253.8 L1526.8 1253.1 L1527.9 1252.4 L1529.1 1251.8 L1530.2 1251.2 L1531.3 1250.8 L1532.5 1250.4 L1533.6 1250.1 L1534.7 1249.9 L1535.9 1249.8 L1537.0 1249.7 L1538.2 1249.7 L1539.3 1249.8 L1540.4 1249.9 L1541.6 1250.1 L1542.7 1250.2 L1543.8 1250.4 L1545.0 1250.5 L1546.1 1250.6 L1547.3 1250.7 L1548.4 1250.8 L1549.5 1250.8 L1550.7 1250.8 L1551.8 1250.7 L1552.9 1250.4 L1554.1 1249.9 L1555.2 1249.3 L1556.4 1248.6 L1557.5 1247.8 L1558.6 1246.9 L1559.8 1246.1 L1560.9 1245.3 L1562.0 1244.6 L1563.2 1243.8 L1564.3 1243.1 L1565.5 1242.3 L1566.6 1241.6 L1567.7 1241.0 L1568.9 1240.4 L1570.0 1240.0 L1571.1 1239.5 L1572.3 1239.1 L1573.4 1238.6 L1574.6 1238.2 L1575.7 1237.7 L1576.8 1237.3 L1578.0 1236.9 L1579.1 1236.4 L1580.2 1236.0 L1581.4 1235.5 L1582.5 1235.1 L1583.7 1234.5 L1584.8 1233.7 L1585.9 1232.9 L1587.1 1232.0 L1588.2 1231.1 L1589.4 1230.0 L1590.5 1228.9 L1591.6 1227.9 L1592.8 1227.0 L1593.9 1226.3 L1595.0 1225.7 L1596.2 1225.2 L1597.3 1224.7 L1598.5 1224.2 L1599.6 1223.8 L1600.7 1223.4 L1601.9 1222.9 L1603.0 1222.5 L1604.1 1222.1 L1605.3 1221.7 L1606.4 1221.3 L1607.6 1221.0 L1608.7 1220.7 L1609.8 1220.4 L1611.0 1220.2 L1612.1 1220.0 L1613.2 1219.8 L1614.4 1219.7 L1615.5 1219.6 L1616.7 1219.4 L1617.8 1219.4 L1618.9 1219.3 L1620.1 1219.3 L1621.2 1219.3 L1622.3 1219.3 L1623.5 1219.4 L1624.6 1219.5 L1625.8 1219.6 L1626.9 1219.8 L1628.0 1220.1 L1629.2 1220.4 L1630.3 1220.8 L1631.4 1221.2 L1632.6 1221.6 L1633.7 1222.2 L1634.9 1222.7 L1636.0 1223.3 L1637.1 1224.0 L1638.3 1224.6 L1639.4 1225.3 L1640.5 1226.0 L1641.7 1226.7 L1642.8 1227.5 L1644.0 1228.2 L1645.1 1229.0 L1646.2 1229.8 L1647.4 1230.6 L1648.5 1231.5 L1649.6 1232.5 L1650.8 1233.6 L1651.9 1234.6 L1653.1 1235.7 L1654.2 1236.8 L1655.3 1237.8 L1656.5 1238.9 L1657.6 1240.0 L1658.8 1241.0 L1659.9 1242.1 L1661.0 1243.2 L1662.2 1244.2 L1663.3 1245.3 L1664.4 1246.4 L1665.6 1247.4 L1666.7 1248.5 L1667.9 1249.6 L1669.0 1250.6 L1670.1 1251.7 L1671.3 1252.8 L1672.4 1253.8 L1673.5 1254.9 L1674.7 1256.0 L1675.8 1257.0 L1677.0 1258.1 L1678.1 1259.1 L1679.2 1260.1 L1680.4 1261.1 L1681.5 1262.1 L1682.6 1263.1 L1683.8 1264.0 L1684.9 1265.0 L1686.1 1266.0 L1687.2 1266.9 L1688.3 1267.9 L1689.5 1268.9 L1690.6 1269.8 L1691.7 1270.8 L1692.9 1271.7 L1694.0 1272.6 L1695.2 1273.6 L1696.3 1274.5 L1697.4 1275.4 L1698.6 1276.2 L1699.7 1277.1 L1700.8 1277.9 L1702.0 1278.8 L1703.1 1279.6 L1704.3 1280.4 L1705.4 1281.2 L1706.5 1281.9 L1707.7 1282.7 L1708.8 1283.4 L1709.9 1284.2 L1711.1 1284.9 L1712.2 1285.7 L1713.4 1286.4 L1714.5 1287.2 L1715.6 1287.9 L1716.8 1288.6 L1717.9 1289.3 L1719.0 1290.1 L1720.2 1290.8 L1721.3 1291.5 L1722.5 1292.1 L1723.6 1292.8 L1724.7 1293.5 L1725.9 1294.1 L1727.0 1294.8 L1728.2 1295.4 L1729.3 1295.9 L1730.4 1296.5 L1731.6 1297.1 L1732.7 1297.6 L1733.8 1298.1 L1735.0 1298.7 L1736.1 1299.2 L1737.3 1299.7 L1738.4 1300.2 L1739.5 1300.6 L1740.7 1301.1 L1741.8 1301.5 L1742.9 1302.0 L1744.1 1302.4 L1745.2 1302.8 L1746.4 1303.2 L1747.5 1303.6 L1748.6 1303.9 L1749.8 1304.3 L1750.9 1304.6 L1752.0 1305.0 L1753.2 1305.3 L1754.3 1305.6 L1755.5 1305.9 L1756.6 1306.2 L1757.7 1306.4 L1758.9 1306.7 L1760.0 1306.9 L1761.1 1307.1 L1762.3 1307.3 L1763.4 1307.5 L1764.6 1307.6 L1765.7 1307.8 L1766.8 1307.9 L1768.0 1308.1 L1769.1 1308.2 L1770.2 1308.4 L1771.4 1308.5 L1772.5 1308.6 L1773.7 1308.7 L1774.8 1308.8 L1775.9 1308.9 L1777.1 1308.9 L1778.2 1309.0 L1779.3 1309.1 L1780.5 1309.2 L1781.6 1309.3 L1782.8 1309.3 L1783.9 1309.4 L1785.0 1309.4 L1786.2 1309.5 L1787.3 1309.5 L1788.5 1309.5 L1789.6 1309.5 L1790.7 1309.5 L1791.9 1309.5 L1793.0 1309.5 L1794.1 1309.4 L1795.3 1309.4 L1796.4 1309.3 L1797.6 1309.3 L1798.7 1309.2 L1799.8 1309.1 L1801.0 1309.1 L1802.1 1309.0 L1803.2 1308.9 L1804.4 1308.8 L1805.5 1308.7 L1806.7 1308.6 L1807.8 1308.5 L1808.9 1308.4 L1810.1 1308.3 L1811.2 1308.3 L1812.3 1308.2 L1813.5 1308.1 L1814.6 1308.0 L1815.8 1307.9 L1816.9 1307.7 L1818.0 1307.6 L1819.2 1307.5 L1820.3 1307.4 L1821.4 1307.3 L1822.6 1307.2 L1823.7 1307.1 L1824.9 1307.0 L1826.0 1306.9 L1827.1 1306.7 L1828.3 1306.6 L1829.4 1306.5 L1830.5 1306.4 L1831.7 1306.3 L1832.8 1306.2 L1834.0 1306.1 L1835.1 1305.9 L1836.2 1305.8 L1837.4 1305.7 L1838.5 1305.6 L1839.6 1305.5 L1840.8 1305.4 L1841.9 1305.2 L1843.1 1305.1 L1844.2 1305.0 L1845.3 1304.9 L1846.5 1304.8 L1847.6 1304.6 L1848.7 1304.5 L1849.9 1304.4 L1851.0 1304.3 L1852.2 1304.2 L1853.3 1304.1"/>
<path class="c" stroke="#000000" d="M1036.4 1287.2 L1037.6 1285.3 L1038.7 1283.4 L1039.8 1281.6 L1041.0 1279.7 L1042.1 1277.9 L1043.2 1276.0 L1044.4 1274.2 L1045.5 1272.4 L1046.7 1270.6 L1047.8 1268.8 L1048.9 1267.1 L1050.1 1265.3 L1051.2 1263.6 L1052.4 1261.8 L1053.5 1260.1 L1054.6 1258.4 L1055.8 1256.7 L1056.9 1255.1 L1058.0 1253.4 L1059.2 1251.8 L1060.3 1250.2 L1061.5 1248.6 L1062.6 1247.1 L1063.7 1245.5 L1064.9 1244.0 L1066.0 1242.6 L1067.1 1241.1 L1068.3 1239.7 L1069.4 1238.2 L1070.6 1236.8 L1071.7 1235.4 L1072.8 1234.1 L1074.0 1232.7 L1075.1 1231.4 L1076.2 1230.1 L1077.4 1228.8 L1078.5 1227.5 L1079.7 1226.3 L1080.8 1225.0 L1081.9 1223.9 L1083.1 1222.7 L1084.2 1221.6 L1085.3 1220.5 L1086.5 1219.4 L1087.6 1218.3 L1088.8 1217.2 L1089.9 1216.2 L1091.0 1215.2 L1092.2 1214.2 L1093.3 1213.2 L1094.4 1212.3 L1095.6 1211.4 L1096.7 1210.5 L1097.9 1209.6 L1099.0 1208.7 L1100.1 1207.9 L1101.3 1207.1 L1102.4 1206.3 L1103.5 1205.5 L1104.7 1204.8 L1105.8 1204.0 L1107.0 1203.3 L1108.1 1202.6 L1109.2 1202.0 L1110.4 1201.3 L1111.5 1200.7 L1112.6 1200.1 L1113.8 1199.5 L1114.9 1198.9 L1116.1 1198.3 L1117.2 1197.8 L1118.3 1197.3 L1119.5 1196.8 L1120.6 1196.3 L1121.8 1195.8 L1122.9 1195.4 L1124.0 1195.0 L1125.2 1194.6 L1126.3 1194.3 L1127.4 1194.0 L1128.6 1193.7 L1129.7 1193.4 L1130.9 1193.2 L1132.0 1193.0 L1133.1 1192.8 L1134.3 1192.6 L1135.4 1192.4 L1136.5 1192.3 L1137.7 1192.2 L1138.8 1192.1 L1140.0 1192.1 L1141.1 1192.1 L1142.2 1192.1 L1143.4 1192.1 L1144.5 1192.1 L1145.6 1192.2 L1146.8 1192.3 L1147.9 1192.4 L1149.1 1192.5 L1150.2 1192.6 L1151.3 1192.7 L1152.5 1192.9 L1153.6 1193.1 L1154.7 1193.4 L1155.9 1193.7 L1157.0 1194.0 L1158.2 1194.3 L1159.3 1194.7 L1160.4 1195.1 L1161.6 1195.5 L1162.7 1196.0 L1163.8 1196.5 L1165.0 1197.0 L1166.1 1197.5 L1167.3 1198.1 L1168.4 1198.6 L1169.5 1199.2 L1170.7 1199.8 L1171.8 1200.4 L1172.9 1201.1 L1174.1 1201.7 L1175.2 1202.4 L1176.4 1203.0 L1177.5 1203.7 L1178.6 1204.4 L1179.8 1205.1 L1180.9 1205.8 L1182.0 1206.6 L1183.2 1207.3 L1184.3 1208.1 L1185.5 1208.9 L1186.6 1209.7 L1187.7 1210.5 L1188.9 1211.4 L1190.0 1212.2 L1191.2 1213.1 L1192.3 1213.9 L1193.4 1214.8 L1194.6 1215.7 L1195.7 1216.6 L1196.8 1217.6 L1198.0 1218.5 L1199.1 1219.5 L1200.3 1220.5 L1201.4 1221.5 L1202.5 1222.6 L1203.7 1223.7 L1204.8 1224.8 L1205.9 1225.9 L1207.1 1227.0 L1208.2 1228.2 L1209.4 1229.3 L1210.5 1230.5 L1211.6 1231.7 L1212.8 1232.9 L1213.9 1234.2 L1215.0 1235.5 L1216.2 1236.8 L1217.3 1238.1 L1218.5 1239.4 L1219.6 1240.8 L1220.7 1242.1 L1221.9 1243.5 L1223.0 1244.9 L1224.1 1246.4 L1225.3 1247.8 L1226.4 1249.3 L1227.6 1250.7 L1228.7 1252.2 L1229.8 1253.7 L1231.0 1255.2 L1232.1 1256.6 L1233.2 1258.2 L1234.4 1259.7 L1235.5 1261.2 L1236.7 1262.7 L1237.8 1264.2 L1238.9 1265.7 L1240.1 1267.3 L1241.2 1268.8 L1242.3 1270.4 L1243.5 1272.0 L1244.6 1273.5 L1245.8 1275.1 L1246.9 1276.7 L1248.0 1278.3 L1249.2 1279.9 L1250.3 1281.5 L1251.5 1283.1 L1252.6 1284.7 L1253.7 1286.3 L1254.9 1287.9 L1256.0 1289.5 L1257.1 1291.1 L1258.3 1292.7 L1259.4 1294.3 L1260.6 1295.8 L1261.7 1297.4 L1262.8 1299.0 L1264.0 1300.6 L1265.1 1302.2 L1266.2 1303.7 L1267.4 1305.2 L1268.5 1306.8 L1269.7 1308.3 L1270.8 1309.8 L1271.9 1311.3 L1273.1 1312.8 L1274.2 1314.3 L1275.3 1315.8 L1276.5 1317.3 L1277.6 1318.8 L1278.8 1320.3 L1279.9 1321.7 L1281.0 1323.2 L1282.2 1324.6 L1283.3 1326.0 L1284.4 1327.3 L1285.6 1328.6 L1286.7 1329.9 L1287.9 1331.2 L1289.0 1332.5 L1290.1 1333.8 L1291.3 1335.0 L1292.4 1336.2 L1293.5 1337.5 L1294.7 1338.7 L1295.8 1339.9 L1297.0 1341.2 L1298.1 1342.6 L1299.2 1343.8 L1300.4 1344.8 L1301.5 1345.4 L1302.6 1346.0 L1303.8 1346.6 L1304.9 1347.3 L1306.1 1347.9 L1307.2 1348.5 L1308.3 1349.1 L1309.5 1349.7 L1310.6 1350.3 L1311.7 1351.0 L1312.9 1351.6 L1314.0 1352.4 L1315.2 1353.3 L1316.3 1354.3 L1317.4 1355.3 L1318.6 1356.3 L1319.7 1357.2 L1320.9 1358.1 L1322.0 1359.0 L1323.1 1359.9 L1324.3 1360.5 L1325.4 1360.9 L1326.5 1361.0 L1327.7 1360.9 L1328.8 1360.6 L1330.0 1360.3 L1331.1 1360.0 L1332.2 1359.6 L1333.4 1359.2 L1334.5 1358.7 L1335.6 1358.2 L1336.8 1357.7 L1337.9 1357.2 L1339.1 1356.8 L1340.2 1356.3 L1341.3 1356.0 L1342.5 1355.6 L1343.6 1355.4 L1344.7 1355.1 L1345.9 1355.0 L1347.0 1354.9 L1348.2 1354.8 L1349.3 1354.8 L1350.4 1354.8 L1351.6 1354.7 L1352.7 1354.6 L1353.8 1354.5 L1355.0 1354.3 L1356.1 1354.1 L1357.3 1353.9 L1358.4 1353.7 L1359.5 1353.2 L1360.7 1352.7 L1361.8 1351.9 L1362.9 1351.0 L1364.1 1350.0 L1365.2 1348.9 L1366.4 1347.7 L1367.5 1346.6 L1368.6 1345.3 L1369.8 1344.1 L1370.9 1342.8 L1372.0 1341.5 L1373.2 1340.2 L1374.3 1338.9 L1375.5 1337.7 L1376.6 1336.5 L1377.7 1335.3 L1378.9 1334.2 L1380.0 1333.2 L1381.1 1332.4 L1382.3 1331.8 L1383.4 1331.4 L1384.6 1331.0 L1385.7 1330.7 L1386.8 1330.5 L1388.0 1330.2 L1389.1 1330.1 L1390.3 1330.0 L1391.4 1330.0 L1392.5 1330.0 L1393.7 1329.9 L1394.8 1330.0 L1395.9 1330.0 L1397.1 1330.0 L1398.2 1330.0 L1399.4 1330.0 L1400.5 1330.1 L1401.6 1330.1 L1402.8 1330.2 L1403.9 1330.2 L1405.0 1330.3 L1406.2 1330.3 L1407.3 1330.2 L1408.5 1329.8 L1409.6 1329.4 L1410.7 1328.8 L1411.9 1328.2 L1413.0 1327.5 L1414.1 1326.8 L1415.3 1326.0 L1416.4 1325.1 L1417.6 1324.1 L1418.7 1323.0 L1419.8 1321.9 L1421.0 1320.7 L1422.1 1319.5 L1423.2 1318.3 L1424.4 1317.1 L1425.5 1315.8 L1426.7 1314.4 L1427.8 1313.1 L1428.9 1311.8 L1430.1 1310.5 L1431.2 1309.2 L1432.3 1308.0 L1433.5 1306.8 L1434.6 1305.6 L1435.8 1304.4 L1436.9 1303.3 L1438.0 1302.2 L1439.2 1301.1 L1440.3 1300.0 L1441.4 1299.0 L1442.6 1298.0 L1443.7 1297.1 L1444.9 1296.1 L1446.0 1295.3 L1447.1 1294.4 L1448.3 1293.5 L1449.4 1292.7 L1450.5 1291.9 L1451.7 1291.1 L1452.8 1290.2 L1454.0 1289.3 L1455.1 1288.4 L1456.2 1287.5 L1457.4 1286.6 L1458.5 1285.7 L1459.7 1284.8 L1460.8 1283.8 L1461.9 1282.8 L1463.1 1281.7 L1464.2 1280.6 L1465.3 1279.5 L1466.5 1278.3 L1467.6 1277.1 L1468.8 1275.8 L1469.9 1274.5 L1471.0 1273.2 L1472.2 1271.9 L1473.3 1270.6 L1474.4 1269.3 L1475.6 1267.9 L1476.7 1266.6 L1477.9 1265.3 L1479.0 1263.9 L1480.1 1262.6 L1481.3 1261.3 L1482.4 1260.0 L1483.5 1258.6 L1484.7 1257.3 L1485.8 1256.0 L1487.0 1254.7 L1488.1 1253.3 L1489.2 1252.0 L1490.4 1250.7 L1491.5 1249.4 L1492.6 1248.1 L1493.8 1247.0 L1494.9 1245.9 L1496.1 1244.9 L1497.2 1244.0 L1498.3 1243.0 L1499.5 1242.1 L1500.6 1241.2 L1501.7 1240.3 L1502.9 1239.4 L1504.0 1238.6 L1505.2 1237.7 L1506.3 1236.9 L1507.4 1236.1 L1508.6 1235.2 L1509.7 1234.4 L1510.8 1233.6 L1512.0 1232.8 L1513.1 1232.0 L1514.3 1231.3 L1515.4 1230.5 L1516.5 1229.9 L1517.7 1229.2 L1518.8 1228.7 L1520.0 1228.4 L1521.1 1228.1 L1522.2 1227.9 L1523.4 1227.7 L1524.5 1227.5 L1525.6 1227.3 L1526.8 1227.2 L1527.9 1227.3 L1529.1 1227.4 L1530.2 1227.7 L1531.3 1228.0 L1532.5 1228.5 L1533.6 1229.2 L1534.7 1229.9 L1535.9 1230.7 L1537.0 1231.5 L1538.2 1232.3 L1539.3 1233.1 L1540.4 1233.9 L1541.6 1234.7 L1542.7 1235.5 L1543.8 1236.3 L1545.0 1237.1 L1546.1 1237.9 L1547.3 1238.6 L1548.4 1239.1 L1549.5 1239.4 L1550.7 1239.6 L1551.8 1239.8 L1552.9 1240.0 L1554.1 1240.1 L1555.2 1240.0 L1556.4 1239.8 L1557.5 1239.5 L1558.6 1239.2 L1559.8 1238.7 L1560.9 1238.2 L1562.0 1237.7 L1563.2 1237.1 L1564.3 1236.5 L1565.5 1236.0 L1566.6 1235.4 L1567.7 1234.8 L1568.9 1234.2 L1570.0 1233.6 L1571.1 1233.1 L1572.3 1232.8 L1573.4 1232.6 L1574.6 1232.4 L1575.7 1232.2 L1576.8 1232.0 L1578.0 1231.8 L1579.1 1231.6 L1580.2 1231.4 L1581.4 1231.3 L1582.5 1231.0 L1583.7 1230.8 L1584.8 1230.5 L1585.9 1230.1 L1587.1 1229.7 L1588.2 1229.2 L1589.4 1228.6 L1590.5 1228.2 L1591.6 1227.7 L1592.8 1227.2 L1593.9 1226.9 L1595.0 1226.8 L1596.2 1226.9 L1597.3 1227.2 L1598.5 1227.5 L1599.6 1228.0 L1600.7 1228.4 L1601.9 1228.8 L1603.0 1229.1 L1604.1 1229.5 L1605.3 1230.0 L1606.4 1230.5 L1607.6 1231.0 L1608.7 1231.7 L1609.8 1232.5 L1611.0 1233.3 L1612.1 1234.3 L1613.2 1235.4 L1614.4 1236.5 L1615.5 1237.7 L1616.7 1239.0 L1617.8 1240.3 L1618.9 1241.7 L1620.1 1243.2 L1621.2 1244.7 L1622.3 1246.3 L1623.5 1247.8 L1624.6 1249.4 L1625.8 1251.1 L1626.9 1252.8 L1628.0 1254.6 L1629.2 1256.3 L1630.3 1258.1 L1631.4 1259.9 L1632.6 1261.7 L1633.7 1263.5 L1634.9 1265.3 L1636.0 1267.2 L1637.1 1269.1 L1638.3 1271.0 L1639.4 1272.9 L1640.5 1274.8 L1641.7 1276.7 L1642.8 1278.6 L1644.0 1280.4 L1645.1 1282.3 L1646.2 1284.2 L1647.4 1286.1 L1648.5 1288.0 L1649.6 1289.9 L1650.8 1291.8 L1651.9 1293.7 L1653.1 1295.6 L1654.2 1297.5 L1655.3 1299.4 L1656.5 1301.2 L1657.6 1303.0 L1658.8 1304.8 L1659.9 1306.5 L1661.0 1308.1 L1662.2 1309.8 L1663.3 1311.4 L1664.4 1312.9 L1665.6 1314.5 L1666.7 1315.9 L1667.9 1317.3 L1669.0 1318.6 L1670.1 1319.9 L1671.3 1321.1 L1672.4 1322.3 L1673.5 1323.5 L1674.7 1324.6 L1675.8 1325.7 L1677.0 1326.7 L1678.1 1327.7 L1679.2 1328.7 L1680.4 1329.6 L1681.5 1330.5 L1682.6 1331.4 L1683.8 1332.2 L1684.9 1333.0 L1686.1 1333.8 L1687.2 1334.5 L1688.3 1335.2 L1689.5 1335.8 L1690.6 1336.4 L1691.7 1336.9 L1692.9 1337.3 L1694.0 1337.7 L1695.2 1338.0 L1696.3 1338.3 L1697.4 1338.6 L1698.6 1338.8 L1699.7 1339.0 L1700.8 1339.2 L1702.0 1339.3 L1703.1 1339.4 L1704.3 1339.5 L1705.4 1339.6 L1706.5 1339.6 L1707.7 1339.5 L1708.8 1339.5 L1709.9 1339.4 L1711.1 1339.2 L1712.2 1339.1 L1713.4 1338.9 L1714.5 1338.6 L1715.6 1338.3 L1716.8 1338.0 L1717.9 1337.6 L1719.0 1337.3 L1720.2 1336.8 L1721.3 1336.4 L1722.5 1335.9 L1723.6 1335.3 L1724.7 1334.7 L1725.9 1334.1 L1727.0 1333.5 L1728.2 1332.8 L1729.3 1332.2 L1730.4 1331.6 L1731.6 1330.9 L1732.7 1330.2 L1733.8 1329.5 L1735.0 1328.8 L1736.1 1328.1 L1737.3 1327.4 L1738.4 1326.7 L1739.5 1326.0 L1740.7 1325.3 L1741.8 1324.6 L1742.9 1323.9 L1744.1 1323.2 L1745.2 1322.4 L1746.4 1321.7 L1747.5 1321.0 L1748.6 1320.3 L1749.8 1319.6 L1750.9 1318.9 L1752.0 1318.2 L1753.2 1317.5 L1754.3 1316.8 L1755.5 1316.0 L1756.6 1315.3 L1757.7 1314.6 L1758.9 1313.9 L1760.0 1313.2 L1761.1 1312.5 L1762.3 1311.8 L1763.4 1311.1 L1764.6 1310.5 L1765.7 1309.8 L1766.8 1309.2 L1768.0 1308.6 L1769.1 1308.0 L1770.2 1307.4 L1771.4 1306.8 L1772.5 1306.2 L1773.7 1305.6 L1774.8 1305.1 L1775.9 1304.6 L1777.1 1304.1 L1778.2 1303.6 L1779.3 1303.1 L1780.5 1302.6 L1781.6 1302.1 L1782.8 1301.7 L1783.9 1301.2 L1785.0 1300.8 L1786.2 1300.3 L1787.3 1299.9 L1788.5 1299.4 L1789.6 1299.0 L1790.7 1298.6 L1791.9 1298.1 L1793.0 1297.7 L1794.1 1297.3 L1795.3 1296.9 L1796.4 1296.5 L1797.6 1296.2 L1798.7 1295.8 L1799.8 1295.4 L1801.0 1295.1 L1802.1 1294.7 L1803.2 1294.4 L1804.4 1294.1 L1805.5 1293.8 L1806.7 1293.5 L1807.8 1293.2 L1808.9 1292.9 L1810.1 1292.7 L1811.2 1292.4 L1812.3 1292.2 L1813.5 1291.9 L1814.6 1291.7 L1815.8 1291.5 L1816.9 1291.2 L1818.0 1291.0 L1819.2 1290.8 L1820.3 1290.6 L1821.4 1290.4 L1822.6 1290.2 L1823.7 1290.1 L1824.9 1289.9 L1826.0 1289.7 L1827.1 1289.6 L1828.3 1289.4 L1829.4 1289.3 L1830.5 1289.1 L1831.7 1289.0 L1832.8 1288.9 L1834.0 1288.7 L1835.1 1288.6 L1836.2 1288.5 L1837.4 1288.4 L1838.5 1288.3 L1839.6 1288.2 L1840.8 1288.1 L1841.9 1288.0 L1843.1 1287.9 L1844.2 1287.9 L1845.3 1287.8 L1846.5 1287.8 L1847.6 1287.7 L1848.7 1287.7 L1849.9 1287.6 L1851.0 1287.6 L1852.2 1287.6 L1853.3 1287.5"/>
</g>
<line class="t" x1="1036.4" y1="1398.0" x2="1036.4" y2="1410.0"/>
<text class="tk" text-anchor="middle" x="1037.0" y="1447.8">0</text>
<line class="t" x1="1172.6" y1="1398.0" x2="1172.6" y2="1410.0"/>
<text class="tk" text-anchor="middle" x="1173.2" y="1447.8">10</text>
<line class="t" x1="1308.7" y1="1398.0" x2="1308.7" y2="1410.0"/>
<text class="tk" text-anchor="middle" x="1309.3" y="1447.8">20</text>
<line class="t" x1="1444.9" y1="1398.0" x2="1444.9" y2="1410.0"/>
<text class="tk" text-anchor="middle" x="1445.5" y="1447.8">30</text>
<line class="t" x1="1581.0" y1="1398.0" x2="1581.0" y2="1410.0"/>
<text class="tk" text-anchor="middle" x="1581.6" y="1447.8">40</text>
<line class="t" x1="1717.2" y1="1398.0" x2="1717.2" y2="1410.0"/>
<text class="tk" text-anchor="middle" x="1717.8" y="1447.8">50</text>
<line class="t" x1="1853.3" y1="1398.0" x2="1853.3" y2="1410.0"/>
<text class="tk" text-anchor="middle" x="1853.9" y="1447.8">60</text>
<line class="t" x1="1024.4" y1="1361.1" x2="1036.4" y2="1361.1"/>
<text class="tk" text-anchor="end" x="1014.1" y="1374.7">−1</text>
<line class="t" x1="1024.4" y1="1287.2" x2="1036.4" y2="1287.2"/>
<text class="tk" text-anchor="end" x="1014.1" y="1300.8">0</text>
<line class="t" x1="1024.4" y1="1213.3" x2="1036.4" y2="1213.3"/>
<text class="tk" text-anchor="end" x="1014.1" y="1226.9">1</text>
<rect class="sp" x="1036.4" y="1176.4" width="816.9" height="221.6"/>
<text class="tt" y="1157.0"><tspan class="it" x="1385.2">t</tspan> <tspan x="1409.9">=</tspan> <tspan x="1450.7">42</tspan></text>
</g>
<g>
<clipPath id="cp8"><rect x="89.0" y="1545.4" width="816.9" height="221.6"/></clipPath>
<g clip-path="url(#cp8)">
<path class="c" stroke="#d62728" d="M89.0 1656.2 L90.1 1656.1 L91.3 1656.0 L92.4 1655.9 L93.5 1655.7 L94.7 1655.6 L95.8 1655.5 L97.0 1655.4 L98.1 1655.3 L99.2 1655.2 L100.4 1655.1 L101.5 1655.0 L102.6 1654.8 L103.8 1654.7 L104.9 1654.6 L106.0 1654.5 L107.2 1654.4 L108.3 1654.3 L109.5 1654.2 L110.6 1654.1 L111.7 1654.0 L112.9 1653.9 L114.0 1653.9 L115.1 1653.8 L116.3 1653.7 L117.4 1653.7 L118.5 1653.6 L119.7 1653.5 L120.8 1653.5 L121.9 1653.4 L123.1 1653.4 L124.2 1653.4 L125.4 1653.3 L126.5 1653.3 L127.6 1653.3 L128.8 1653.2 L129.9 1653.2 L131.0 1653.2 L132.2 1653.3 L133.3 1653.3 L134.4 1653.3 L135.6 1653.4 L136.7 1653.4 L137.9 1653.5 L139.0 1653.6 L140.1 1653.6 L141.3 1653.7 L142.4 1653.8 L143.5 1653.9 L144.7 1654.1 L145.8 1654.2 L146.9 1654.3 L148.1 1654.4 L149.2 1654.6 L150.4 1654.7 L151.5 1654.8 L152.6 1655.0 L153.8 1655.2 L154.9 1655.3 L156.0 1655.5 L157.2 1655.8 L158.3 1656.0 L159.4 1656.2 L160.6 1656.4 L161.7 1656.7 L162.9 1656.9 L164.0 1657.2 L165.1 1657.4 L166.3 1657.7 L167.4 1657.9 L168.5 1658.2 L169.7 1658.5 L170.8 1658.7 L171.9 1659.0 L173.1 1659.3 L174.2 1659.6 L175.3 1659.9 L176.5 1660.2 L177.6 1660.5 L178.8 1660.8 L179.9 1661.1 L181.0 1661.5 L182.2 1661.8 L183.3 1662.2 L184.4 1662.5 L185.6 1662.8 L186.7 1663.2 L187.8 1663.5 L189.0 1663.9 L190.1 1664.2 L191.3 1664.5 L192.4 1664.8 L193.5 1665.2 L194.7 1665.5 L195.8 1665.9 L196.9 1666.3 L198.1 1666.7 L199.2 1667.2 L200.3 1667.6 L201.5 1668.0 L202.6 1668.5 L203.8 1668.9 L204.9 1669.4 L206.0 1669.8 L207.2 1670.3 L208.3 1670.7 L209.4 1671.2 L210.6 1671.7 L211.7 1672.1 L212.8 1672.6 L214.0 1673.0 L215.1 1673.5 L216.3 1674.0 L217.4 1674.4 L218.5 1674.9 L219.7 1675.3 L220.8 1675.8 L221.9 1676.3 L223.1 1676.8 L224.2 1677.2 L225.3 1677.7 L226.5 1678.2 L227.6 1678.7 L228.7 1679.2 L229.9 1679.7 L231.0 1680.2 L232.2 1680.7 L233.3 1681.2 L234.4 1681.7 L235.6 1682.3 L236.7 1682.8 L237.8 1683.3 L239.0 1683.9 L240.1 1684.4 L241.2 1684.9 L242.4 1685.4 L243.5 1686.0 L244.7 1686.5 L245.8 1687.0 L246.9 1687.6 L248.1 1688.2 L249.2 1688.8 L250.3 1689.4 L251.5 1690.0 L252.6 1690.8 L253.7 1691.6 L254.9 1692.4 L256.0 1693.1 L257.2 1693.8 L258.3 1694.4 L259.4 1695.1 L260.6 1695.6 L261.7 1695.8 L262.8 1696.0 L264.0 1696.3 L265.1 1697.0 L266.2 1697.8 L267.4 1698.7 L268.5 1699.5 L269.6 1700.4 L270.8 1701.2 L271.9 1702.1 L273.1 1702.9 L274.2 1703.8 L275.3 1704.6 L276.5 1705.5 L277.6 1706.3 L278.7 1706.9 L279.9 1707.3 L281.0 1707.6 L282.1 1707.8 L283.3 1707.9 L284.4 1707.9 L285.6 1708.0 L286.7 1708.2 L287.8 1708.4 L289.0 1708.6 L290.1 1708.9 L291.2 1709.2 L292.4 1709.6 L293.5 1710.1 L294.6 1710.7 L295.8 1711.3 L296.9 1712.0 L298.1 1712.7 L299.2 1713.4 L300.3 1714.1 L301.5 1714.9 L302.6 1715.8 L303.7 1716.7 L304.9 1717.6 L306.0 1718.5 L307.1 1719.3 L308.3 1719.9 L309.4 1720.4 L310.6 1720.6 L311.7 1720.6 L312.8 1720.4 L314.0 1720.2 L315.1 1719.9 L316.2 1719.7 L317.4 1719.4 L318.5 1719.1 L319.6 1718.7 L320.8 1718.4 L321.9 1718.0 L323.0 1717.5 L324.2 1717.1 L325.3 1716.7 L326.5 1716.4 L327.6 1716.0 L328.7 1715.8 L329.9 1715.6 L331.0 1715.5 L332.1 1715.4 L333.3 1715.5 L334.4 1715.5 L335.5 1715.6 L336.7 1715.7 L337.8 1715.9 L339.0 1716.0 L340.1 1716.1 L341.2 1716.2 L342.4 1716.3 L343.5 1716.4 L344.6 1716.5 L345.8 1716.6 L346.9 1716.6 L348.0 1716.6 L349.2 1716.6 L350.3 1716.3 L351.5 1715.8 L352.6 1715.2 L353.7 1714.6 L354.9 1714.0 L356.0 1713.3 L357.1 1712.7 L358.3 1711.9 L359.4 1711.1 L360.5 1710.1 L361.7 1709.1 L362.8 1707.9 L364.0 1706.8 L365.1 1705.6 L366.2 1704.5 L367.4 1703.3 L368.5 1702.0 L369.6 1700.8 L370.8 1699.6 L371.9 1698.4 L373.0 1697.1 L374.2 1696.0 L375.3 1694.9 L376.4 1693.9 L377.6 1692.9 L378.7 1692.0 L379.9 1691.2 L381.0 1690.3 L382.1 1689.5 L383.3 1688.8 L384.4 1688.2 L385.5 1687.7 L386.7 1687.2 L387.8 1686.9 L388.9 1686.6 L390.1 1686.3 L391.2 1686.1 L392.4 1686.0 L393.5 1685.9 L394.6 1685.8 L395.8 1685.8 L396.9 1685.8 L398.0 1685.9 L399.2 1686.0 L400.3 1686.2 L401.4 1686.4 L402.6 1686.6 L403.7 1686.9 L404.9 1687.2 L406.0 1687.6 L407.1 1687.9 L408.3 1688.2 L409.4 1688.6 L410.5 1688.9 L411.7 1689.2 L412.8 1689.5 L413.9 1689.7 L415.1 1690.0 L416.2 1690.3 L417.4 1690.6 L418.5 1690.9 L419.6 1691.1 L420.8 1691.4 L421.9 1691.6 L423.0 1691.9 L424.2 1692.1 L425.3 1692.3 L426.4 1692.5 L427.6 1692.6 L428.7 1692.7 L429.8 1692.8 L431.0 1692.8 L432.1 1692.8 L433.3 1692.9 L434.4 1692.9 L435.5 1692.9 L436.7 1692.9 L437.8 1692.8 L438.9 1692.8 L440.1 1692.8 L441.2 1692.8 L442.3 1692.8 L443.5 1692.8 L444.6 1692.8 L445.8 1692.9 L446.9 1693.0 L448.0 1693.2 L449.2 1693.3 L450.3 1693.6 L451.4 1693.9 L452.6 1694.2 L453.7 1694.5 L454.8 1694.9 L456.0 1695.3 L457.1 1695.7 L458.3 1696.1 L459.4 1696.6 L460.5 1697.1 L461.7 1697.5 L462.8 1698.0 L463.9 1698.6 L465.1 1699.1 L466.2 1699.7 L467.3 1700.2 L468.5 1700.8 L469.6 1701.3 L470.8 1701.9 L471.9 1702.4 L473.0 1702.9 L474.2 1703.4 L475.3 1703.8 L476.4 1704.3 L477.6 1704.7 L478.7 1705.1 L479.8 1705.5 L481.0 1705.8 L482.1 1706.1 L483.2 1706.4 L484.4 1706.7 L485.5 1706.9 L486.7 1707.1 L487.8 1707.3 L488.9 1707.4 L490.1 1707.5 L491.2 1707.6 L492.3 1707.7 L493.5 1707.8 L494.6 1707.8 L495.7 1707.9 L496.9 1707.8 L498.0 1707.7 L499.2 1707.6 L500.3 1707.5 L501.4 1707.4 L502.6 1707.2 L503.7 1706.9 L504.8 1706.6 L506.0 1706.3 L507.1 1705.8 L508.2 1705.4 L509.4 1704.9 L510.5 1704.5 L511.7 1704.0 L512.8 1703.5 L513.9 1703.0 L515.1 1702.5 L516.2 1702.0 L517.3 1701.5 L518.5 1700.9 L519.6 1700.4 L520.7 1699.9 L521.9 1699.3 L523.0 1698.8 L524.1 1698.2 L525.3 1697.7 L526.4 1697.1 L527.6 1696.6 L528.7 1696.1 L529.8 1695.6 L531.0 1695.2 L532.1 1694.8 L533.2 1694.4 L534.4 1694.0 L535.5 1693.7 L536.6 1693.4 L537.8 1693.1 L538.9 1692.9 L540.1 1692.6 L541.2 1692.4 L542.3 1692.3 L543.5 1692.1 L544.6 1692.1 L545.7 1692.0 L546.9 1692.0 L548.0 1692.0 L549.1 1692.0 L550.3 1692.0 L551.4 1692.0 L552.6 1691.9 L553.7 1691.9 L554.8 1691.9 L556.0 1691.9 L557.1 1691.9 L558.2 1691.9 L559.4 1691.9 L560.5 1691.8 L561.6 1691.8 L562.8 1691.8 L563.9 1691.8 L565.1 1691.8 L566.2 1691.7 L567.3 1691.7 L568.5 1691.7 L569.6 1691.7 L570.7 1691.6 L571.9 1691.6 L573.0 1691.6 L574.1 1691.5 L575.3 1691.4 L576.4 1691.2 L577.5 1691.0 L578.7 1690.7 L579.8 1690.4 L581.0 1690.0 L582.1 1689.7 L583.2 1689.3 L584.4 1689.0 L585.5 1688.6 L586.6 1688.2 L587.8 1687.8 L588.9 1687.4 L590.0 1687.0 L591.2 1686.7 L592.3 1686.3 L593.5 1685.9 L594.6 1685.6 L595.7 1685.3 L596.9 1684.9 L598.0 1684.6 L599.1 1684.4 L600.3 1684.3 L601.4 1684.3 L602.5 1684.4 L603.7 1684.5 L604.8 1684.8 L606.0 1685.2 L607.1 1685.8 L608.2 1686.5 L609.4 1687.2 L610.5 1688.0 L611.6 1688.8 L612.8 1689.7 L613.9 1690.6 L615.0 1691.6 L616.2 1692.6 L617.3 1693.7 L618.5 1694.8 L619.6 1695.9 L620.7 1697.0 L621.9 1698.0 L623.0 1699.0 L624.1 1699.9 L625.3 1700.9 L626.4 1701.8 L627.5 1702.8 L628.7 1703.7 L629.8 1704.7 L630.9 1705.6 L632.1 1706.5 L633.2 1707.5 L634.4 1708.4 L635.5 1709.4 L636.6 1710.1 L637.8 1710.5 L638.9 1710.7 L640.0 1710.8 L641.2 1710.8 L642.3 1710.9 L643.4 1710.9 L644.6 1711.0 L645.7 1710.9 L646.9 1710.7 L648.0 1710.5 L649.1 1710.3 L650.3 1710.2 L651.4 1710.0 L652.5 1709.8 L653.7 1709.6 L654.8 1709.4 L655.9 1709.2 L657.1 1709.0 L658.2 1708.8 L659.4 1708.6 L660.5 1708.4 L661.6 1708.3 L662.8 1708.3 L663.9 1708.3 L665.0 1708.4 L666.2 1708.7 L667.3 1709.0 L668.4 1709.3 L669.6 1709.7 L670.7 1710.1 L671.9 1710.4 L673.0 1710.7 L674.1 1711.1 L675.3 1711.4 L676.4 1711.8 L677.5 1712.1 L678.7 1712.4 L679.8 1712.7 L680.9 1712.9 L682.1 1713.0 L683.2 1713.0 L684.3 1712.9 L685.5 1712.7 L686.6 1712.3 L687.8 1711.8 L688.9 1711.3 L690.0 1710.6 L691.2 1709.9 L692.3 1709.2 L693.4 1708.4 L694.6 1707.6 L695.7 1706.8 L696.8 1706.1 L698.0 1705.4 L699.1 1704.7 L700.3 1704.0 L701.4 1703.5 L702.5 1703.0 L703.7 1702.8 L704.8 1702.5 L705.9 1702.3 L707.1 1702.1 L708.2 1701.8 L709.3 1701.6 L710.5 1701.4 L711.6 1701.2 L712.8 1700.9 L713.9 1700.7 L715.0 1700.5 L716.2 1700.2 L717.3 1699.6 L718.4 1698.8 L719.6 1697.9 L720.7 1697.0 L721.8 1696.2 L723.0 1695.4 L724.1 1694.7 L725.3 1694.0 L726.4 1693.3 L727.5 1692.6 L728.7 1692.0 L729.8 1691.5 L730.9 1691.2 L732.1 1690.8 L733.2 1690.4 L734.3 1689.9 L735.5 1689.4 L736.6 1688.8 L737.7 1688.2 L738.9 1687.6 L740.0 1687.1 L741.2 1686.5 L742.3 1685.9 L743.4 1685.4 L744.6 1684.8 L745.7 1684.2 L746.8 1683.7 L748.0 1683.1 L749.1 1682.5 L750.2 1682.0 L751.4 1681.4 L752.5 1680.8 L753.7 1680.3 L754.8 1679.7 L755.9 1679.1 L757.1 1678.6 L758.2 1678.1 L759.3 1677.6 L760.5 1677.1 L761.6 1676.6 L762.7 1676.2 L763.9 1675.7 L765.0 1675.2 L766.2 1674.8 L767.3 1674.3 L768.4 1673.8 L769.6 1673.4 L770.7 1672.9 L771.8 1672.5 L773.0 1672.0 L774.1 1671.6 L775.2 1671.1 L776.4 1670.7 L777.5 1670.3 L778.6 1669.8 L779.8 1669.4 L780.9 1669.0 L782.1 1668.6 L783.2 1668.2 L784.3 1667.8 L785.5 1667.4 L786.6 1667.1 L787.7 1666.7 L788.9 1666.3 L790.0 1666.0 L791.1 1665.6 L792.3 1665.3 L793.4 1665.0 L794.6 1664.6 L795.7 1664.3 L796.8 1664.0 L798.0 1663.7 L799.1 1663.4 L800.2 1663.1 L801.4 1662.8 L802.5 1662.5 L803.6 1662.2 L804.8 1662.0 L805.9 1661.7 L807.1 1661.4 L808.2 1661.2 L809.3 1660.9 L810.5 1660.7 L811.6 1660.5 L812.7 1660.3 L813.9 1660.0 L815.0 1659.8 L816.1 1659.6 L817.3 1659.4 L818.4 1659.2 L819.6 1659.0 L820.7 1658.9 L821.8 1658.7 L823.0 1658.5 L824.1 1658.3 L825.2 1658.2 L826.4 1658.0 L827.5 1657.9 L828.6 1657.7 L829.8 1657.6 L830.9 1657.5 L832.0 1657.4 L833.2 1657.3 L834.3 1657.2 L835.5 1657.1 L836.6 1657.0 L837.7 1656.9 L838.9 1656.8 L840.0 1656.7 L841.1 1656.6 L842.3 1656.5 L843.4 1656.4 L844.5 1656.4 L845.7 1656.3 L846.8 1656.2 L848.0 1656.2 L849.1 1656.1 L850.2 1656.1 L851.4 1656.0 L852.5 1655.9 L853.6 1655.9 L854.8 1655.8 L855.9 1655.8 L857.0 1655.8 L858.2 1655.7 L859.3 1655.7 L860.5 1655.7 L861.6 1655.6 L862.7 1655.6 L863.9 1655.6 L865.0 1655.6 L866.1 1655.6 L867.3 1655.6 L868.4 1655.6 L869.5 1655.6 L870.7 1655.6 L871.8 1655.6 L873.0 1655.6 L874.1 1655.6 L875.2 1655.6 L876.4 1655.7 L877.5 1655.7 L878.6 1655.7 L879.8 1655.7 L880.9 1655.7 L882.0 1655.8 L883.2 1655.8 L884.3 1655.8 L885.4 1655.8 L886.6 1655.9 L887.7 1655.9 L888.9 1655.9 L890.0 1656.0 L891.1 1656.0 L892.3 1656.0 L893.4 1656.1 L894.5 1656.1 L895.7 1656.1 L896.8 1656.2 L897.9 1656.2 L899.1 1656.3 L900.2 1656.3 L901.4 1656.3 L902.5 1656.4 L903.6 1656.4 L904.8 1656.5 L905.9 1656.5"/>
<path class="c" stroke="#1f77b4" d="M89.0 1656.2 L90.1 1654.4 L91.3 1652.7 L92.4 1650.9 L93.5 1649.1 L94.7 1647.3 L95.8 1645.5 L97.0 1643.7 L98.1 1641.9 L99.2 1640.1 L100.4 1638.2 L101.5 1636.3 L102.6 1634.5 L103.8 1632.6 L104.9 1630.8 L106.0 1628.9 L107.2 1627.1 L108.3 1625.3 L109.5 1623.6 L110.6 1621.8 L111.7 1620.0 L112.9 1618.3 L114.0 1616.6 L115.1 1614.9 L116.3 1613.2 L117.4 1611.6 L118.5 1610.0 L119.7 1608.4 L120.8 1606.8 L121.9 1605.2 L123.1 1603.7 L124.2 1602.2 L125.4 1600.7 L126.5 1599.2 L127.6 1597.7 L128.8 1596.3 L129.9 1594.9 L131.0 1593.5 L132.2 1592.1 L133.3 1590.8 L134.4 1589.5 L135.6 1588.2 L136.7 1587.0 L137.9 1585.7 L139.0 1584.5 L140.1 1583.3 L141.3 1582.2 L142.4 1581.0 L143.5 1579.9 L144.7 1578.8 L145.8 1577.7 L146.9 1576.7 L148.1 1575.7 L149.2 1574.7 L150.4 1573.8 L151.5 1572.9 L152.6 1572.0 L153.8 1571.2 L154.9 1570.3 L156.0 1569.5 L157.2 1568.8 L158.3 1568.0 L159.4 1567.3 L160.6 1566.6 L161.7 1565.9 L162.9 1565.2 L164.0 1564.6 L165.1 1564.0 L166.3 1563.4 L167.4 1562.9 L168.5 1562.4 L169.7 1561.9 L170.8 1561.4 L171.9 1561.0 L173.1 1560.6 L174.2 1560.3 L175.3 1560.0 L176.5 1559.7 L177.6 1559.4 L178.8 1559.2 L179.9 1559.0 L181.0 1558.8 L182.2 1558.7 L183.3 1558.6 L184.4 1558.5 L185.6 1558.4 L186.7 1558.3 L187.8 1558.3 L189.0 1558.3 L190.1 1558.4 L191.3 1558.4 L192.4 1558.5 L193.5 1558.6 L194.7 1558.7 L195.8 1558.9 L196.9 1559.0 L198.1 1559.3 L199.2 1559.5 L200.3 1559.8 L201.5 1560.1 L202.6 1560.4 L203.8 1560.7 L204.9 1561.1 L206.0 1561.5 L207.2 1561.9 L208.3 1562.4 L209.4 1562.9 L210.6 1563.5 L211.7 1564.1 L212.8 1564.7 L214.0 1565.3 L215.1 1565.9 L216.3 1566.6 L217.4 1567.2 L218.5 1567.9 L219.7 1568.6 L220.8 1569.3 L221.9 1570.0 L223.1 1570.8 L224.2 1571.5 L225.3 1572.2 L226.5 1573.0 L227.6 1573.8 L228.7 1574.6 L229.9 1575.4 L231.0 1576.2 L232.2 1577.0 L233.3 1577.8 L234.4 1578.7 L235.6 1579.5 L236.7 1580.4 L237.8 1581.2 L239.0 1582.1 L240.1 1582.9 L241.2 1583.8 L242.4 1584.7 L243.5 1585.6 L244.7 1586.5 L245.8 1587.4 L246.9 1588.4 L248.1 1589.4 L249.2 1590.4 L250.3 1591.4 L251.5 1592.4 L252.6 1593.7 L253.7 1595.0 L254.9 1596.1 L256.0 1597.0 L257.2 1597.6 L258.3 1598.2 L259.4 1599.1 L260.6 1600.4 L261.7 1601.9 L262.8 1603.6 L264.0 1605.3 L265.1 1607.0 L266.2 1608.6 L267.4 1610.2 L268.5 1611.7 L269.6 1613.1 L270.8 1613.8 L271.9 1614.2 L273.1 1614.8 L274.2 1615.9 L275.3 1617.2 L276.5 1618.5 L277.6 1620.1 L278.7 1621.8 L279.9 1623.6 L281.0 1625.6 L282.1 1627.5 L283.3 1629.5 L284.4 1631.2 L285.6 1632.9 L286.7 1634.6 L287.8 1636.0 L289.0 1637.1 L290.1 1638.0 L291.2 1638.9 L292.4 1639.8 L293.5 1640.7 L294.6 1641.6 L295.8 1642.5 L296.9 1643.4 L298.1 1644.4 L299.2 1645.3 L300.3 1646.6 L301.5 1648.2 L302.6 1649.9 L303.7 1651.7 L304.9 1653.4 L306.0 1655.2 L307.1 1657.0 L308.3 1658.8 L309.4 1660.7 L310.6 1662.6 L311.7 1664.5 L312.8 1666.4 L314.0 1668.3 L315.1 1670.2 L316.2 1672.0 L317.4 1673.7 L318.5 1675.4 L319.6 1676.9 L320.8 1678.2 L321.9 1679.4 L323.0 1680.4 L324.2 1681.3 L325.3 1682.2 L326.5 1683.1 L327.6 1683.9 L328.7 1684.7 L329.9 1685.6 L331.0 1686.5 L332.1 1687.5 L333.3 1688.5 L334.4 1689.6 L335.5 1690.8 L336.7 1692.1 L337.8 1693.4 L339.0 1694.8 L340.1 1696.3 L341.2 1697.9 L342.4 1699.5 L343.5 1701.1 L344.6 1702.7 L345.8 1704.3 L346.9 1705.9 L348.0 1707.6 L349.2 1709.2 L350.3 1710.9 L351.5 1712.5 L352.6 1714.0 L353.7 1715.4 L354.9 1716.6 L356.0 1717.8 L357.1 1719.0 L358.3 1720.1 L359.4 1721.3 L360.5 1722.5 L361.7 1723.7 L362.8 1724.8 L364.0 1725.5 L365.1 1726.0 L366.2 1726.3 L367.4 1726.4 L368.5 1726.5 L369.6 1726.5 L370.8 1726.6 L371.9 1726.6 L373.0 1726.7 L374.2 1726.7 L375.3 1726.8 L376.4 1726.9 L377.6 1726.9 L378.7 1727.0 L379.9 1727.0 L381.0 1727.1 L382.1 1727.3 L383.3 1727.5 L384.4 1727.8 L385.5 1728.0 L386.7 1728.3 L387.8 1728.6 L388.9 1728.9 L390.1 1729.1 L391.2 1729.4 L392.4 1729.7 L393.5 1729.9 L394.6 1730.2 L395.8 1730.5 L396.9 1730.8 L398.0 1731.0 L399.2 1731.3 L400.3 1731.5 L401.4 1731.6 L402.6 1731.7 L403.7 1731.7 L404.9 1731.7 L406.0 1731.6 L407.1 1731.5 L408.3 1731.2 L409.4 1730.9 L410.5 1730.4 L411.7 1729.9 L412.8 1729.3 L413.9 1728.7 L415.1 1727.9 L416.2 1727.1 L417.4 1726.2 L418.5 1725.2 L419.6 1724.1 L420.8 1722.9 L421.9 1721.6 L423.0 1720.3 L424.2 1719.0 L425.3 1717.6 L426.4 1716.2 L427.6 1714.7 L428.7 1713.2 L429.8 1711.6 L431.0 1710.0 L432.1 1708.4 L433.3 1706.8 L434.4 1705.2 L435.5 1703.6 L436.7 1702.1 L437.8 1700.6 L438.9 1699.0 L440.1 1697.5 L441.2 1696.1 L442.3 1694.6 L443.5 1693.3 L444.6 1691.9 L445.8 1690.7 L446.9 1689.5 L448.0 1688.4 L449.2 1687.3 L450.3 1686.3 L451.4 1685.3 L452.6 1684.3 L453.7 1683.4 L454.8 1682.4 L456.0 1681.5 L457.1 1680.6 L458.3 1679.8 L459.4 1679.0 L460.5 1678.2 L461.7 1677.4 L462.8 1676.7 L463.9 1675.9 L465.1 1675.2 L466.2 1674.4 L467.3 1673.7 L468.5 1672.9 L469.6 1672.2 L470.8 1671.5 L471.9 1670.7 L473.0 1670.0 L474.2 1669.3 L475.3 1668.6 L476.4 1667.8 L477.6 1667.1 L478.7 1666.4 L479.8 1665.6 L481.0 1664.9 L482.1 1664.2 L483.2 1663.5 L484.4 1662.7 L485.5 1661.9 L486.7 1661.1 L487.8 1660.2 L488.9 1659.3 L490.1 1658.2 L491.2 1657.2 L492.3 1656.1 L493.5 1655.0 L494.6 1654.0 L495.7 1652.9 L496.9 1651.8 L498.0 1650.8 L499.2 1649.7 L500.3 1648.7 L501.4 1647.6 L502.6 1646.5 L503.7 1645.5 L504.8 1644.4 L506.0 1643.3 L507.1 1642.3 L508.2 1641.2 L509.4 1640.1 L510.5 1639.1 L511.7 1638.0 L512.8 1636.9 L513.9 1635.9 L515.1 1634.8 L516.2 1633.7 L517.3 1632.7 L518.5 1631.6 L519.6 1630.5 L520.7 1629.5 L521.9 1628.4 L523.0 1627.3 L524.1 1626.3 L525.3 1625.2 L526.4 1624.2 L527.6 1623.1 L528.7 1622.1 L529.8 1621.1 L531.0 1620.2 L532.1 1619.4 L533.2 1618.6 L534.4 1617.8 L535.5 1617.0 L536.6 1616.3 L537.8 1615.5 L538.9 1614.8 L540.1 1614.1 L541.2 1613.4 L542.3 1612.7 L543.5 1612.1 L544.6 1611.4 L545.7 1610.8 L546.9 1610.3 L548.0 1609.7 L549.1 1609.2 L550.3 1608.7 L551.4 1608.2 L552.6 1607.8 L553.7 1607.4 L554.8 1607.1 L556.0 1606.8 L557.1 1606.5 L558.2 1606.2 L559.4 1605.9 L560.5 1605.5 L561.6 1604.9 L562.8 1604.3 L563.9 1603.6 L565.1 1603.0 L566.2 1602.5 L567.3 1602.1 L568.5 1601.8 L569.6 1601.6 L570.7 1601.4 L571.9 1601.3 L573.0 1601.3 L574.1 1601.3 L575.3 1601.3 L576.4 1601.3 L577.5 1601.4 L578.7 1601.4 L579.8 1601.4 L581.0 1601.5 L582.1 1601.5 L583.2 1601.5 L584.4 1601.6 L585.5 1601.6 L586.6 1601.6 L587.8 1601.7 L588.9 1601.7 L590.0 1601.8 L591.2 1601.8 L592.3 1601.9 L593.5 1601.9 L594.6 1602.0 L595.7 1602.0 L596.9 1602.1 L598.0 1602.1 L599.1 1602.1 L600.3 1602.0 L601.4 1601.8 L602.5 1601.5 L603.7 1601.1 L604.8 1600.7 L606.0 1600.2 L607.1 1599.7 L608.2 1599.2 L609.4 1598.7 L610.5 1598.2 L611.6 1597.7 L612.8 1597.1 L613.9 1596.6 L615.0 1596.1 L616.2 1595.6 L617.3 1595.1 L618.5 1594.6 L619.6 1594.1 L620.7 1593.6 L621.9 1593.3 L623.0 1592.9 L624.1 1592.6 L625.3 1592.3 L626.4 1592.1 L627.5 1592.0 L628.7 1592.0 L629.8 1592.0 L630.9 1592.1 L632.1 1592.3 L633.2 1592.7 L634.4 1593.1 L635.5 1593.7 L636.6 1594.3 L637.8 1595.1 L638.9 1595.9 L640.0 1596.9 L641.2 1598.0 L642.3 1599.1 L643.4 1600.2 L644.6 1601.4 L645.7 1602.5 L646.9 1603.7 L648.0 1604.9 L649.1 1606.1 L650.3 1607.4 L651.4 1608.6 L652.5 1609.8 L653.7 1611.0 L654.8 1612.1 L655.9 1613.2 L657.1 1614.3 L658.2 1615.2 L659.4 1616.1 L660.5 1617.0 L661.6 1617.8 L662.8 1618.7 L663.9 1619.5 L665.0 1620.4 L666.2 1621.2 L667.3 1622.1 L668.4 1622.9 L669.6 1623.8 L670.7 1624.6 L671.9 1625.5 L673.0 1626.4 L674.1 1627.4 L675.3 1628.6 L676.4 1629.8 L677.5 1631.2 L678.7 1632.6 L679.8 1634.1 L680.9 1635.7 L682.1 1637.4 L683.2 1639.1 L684.3 1640.9 L685.5 1642.8 L686.6 1644.8 L687.8 1646.7 L688.9 1648.5 L690.0 1650.3 L691.2 1652.0 L692.3 1653.7 L693.4 1655.3 L694.6 1656.8 L695.7 1658.1 L696.8 1659.3 L698.0 1660.4 L699.1 1661.4 L700.3 1662.3 L701.4 1663.2 L702.5 1664.1 L703.7 1665.1 L704.8 1666.0 L705.9 1667.0 L707.1 1667.9 L708.2 1668.9 L709.3 1669.9 L710.5 1670.9 L711.6 1671.9 L712.8 1672.9 L713.9 1674.0 L715.0 1675.1 L716.2 1676.2 L717.3 1677.3 L718.4 1678.4 L719.6 1679.4 L720.7 1680.3 L721.8 1681.2 L723.0 1682.1 L724.1 1682.9 L725.3 1683.6 L726.4 1684.4 L727.5 1685.1 L728.7 1685.8 L729.8 1686.5 L730.9 1687.1 L732.1 1687.8 L733.2 1688.4 L734.3 1689.1 L735.5 1689.7 L736.6 1690.3 L737.7 1691.0 L738.9 1691.6 L740.0 1692.1 L741.2 1692.7 L742.3 1693.3 L743.4 1693.8 L744.6 1694.4 L745.7 1694.9 L746.8 1695.4 L748.0 1695.8 L749.1 1696.3 L750.2 1696.7 L751.4 1697.1 L752.5 1697.4 L753.7 1697.7 L754.8 1698.0 L755.9 1698.2 L757.1 1698.5 L758.2 1698.7 L759.3 1698.9 L760.5 1699.0 L761.6 1699.1 L762.7 1699.3 L763.9 1699.4 L765.0 1699.4 L766.2 1699.5 L767.3 1699.6 L768.4 1699.6 L769.6 1699.6 L770.7 1699.6 L771.8 1699.6 L773.0 1699.6 L774.1 1699.5 L775.2 1699.5 L776.4 1699.4 L777.5 1699.4 L778.6 1699.3 L779.8 1699.1 L780.9 1699.0 L782.1 1698.8 L783.2 1698.6 L784.3 1698.4 L785.5 1698.2 L786.6 1697.9 L787.7 1697.7 L788.9 1697.5 L790.0 1697.2 L791.1 1696.9 L792.3 1696.7 L793.4 1696.4 L794.6 1696.1 L795.7 1695.8 L796.8 1695.5 L798.0 1695.2 L799.1 1694.9 L800.2 1694.6 L801.4 1694.3 L802.5 1693.9 L803.6 1693.6 L804.8 1693.3 L805.9 1693.0 L807.1 1692.7 L808.2 1692.4 L809.3 1692.1 L810.5 1691.8 L811.6 1691.5 L812.7 1691.2 L813.9 1690.9 L815.0 1690.6 L816.1 1690.3 L817.3 1689.9 L818.4 1689.6 L819.6 1689.3 L820.7 1689.0 L821.8 1688.7 L823.0 1688.4 L824.1 1688.1 L825.2 1687.8 L826.4 1687.5 L827.5 1687.2 L828.6 1686.8 L829.8 1686.5 L830.9 1686.2 L832.0 1685.9 L833.2 1685.5 L834.3 1685.2 L835.5 1684.9 L836.6 1684.5 L837.7 1684.2 L838.9 1683.9 L840.0 1683.5 L841.1 1683.2 L842.3 1682.9 L843.4 1682.5 L844.5 1682.2 L845.7 1681.9 L846.8 1681.5 L848.0 1681.2 L849.1 1680.9 L850.2 1680.6 L851.4 1680.2 L852.5 1679.9 L853.6 1679.6 L854.8 1679.3 L855.9 1679.0 L857.0 1678.7 L858.2 1678.4 L859.3 1678.1 L860.5 1677.8 L861.6 1677.5 L862.7 1677.2 L863.9 1677.0 L865.0 1676.7 L866.1 1676.4 L867.3 1676.1 L868.4 1675.9 L869.5 1675.7 L870.7 1675.4 L871.8 1675.2 L873.0 1675.0 L874.1 1674.8 L875.2 1674.6 L876.4 1674.4 L877.5 1674.2 L878.6 1674.0 L879.8 1673.9 L880.9 1673.7 L882.0 1673.5 L883.2 1673.4 L884.3 1673.2 L885.4 1673.0 L886.6 1672.9 L887.7 1672.7 L888.9 1672.6 L890.0 1672.4 L891.1 1672.3 L892.3 1672.1 L893.4 1672.0 L894.5 1671.9 L895.7 1671.7 L896.8 1671.6 L897.9 1671.5 L899.1 1671.4 L900.2 1671.3 L901.4 1671.1 L902.5 1671.0 L903.6 1670.9 L904.8 1670.8 L905.9 1670.7"/>
<path class="c" stroke="#000000" d="M89.0 1656.2 L90.1 1654.3 L91.3 1652.5 L92.4 1650.6 L93.5 1648.7 L94.7 1646.8 L95.8 1645.0 L97.0 1643.1 L98.1 1641.2 L99.2 1639.3 L100.4 1637.5 L101.5 1635.6 L102.6 1633.7 L103.8 1631.8 L104.9 1630.0 L106.0 1628.1 L107.2 1626.2 L108.3 1624.4 L109.5 1622.6 L110.6 1620.9 L111.7 1619.2 L112.9 1617.5 L114.0 1615.7 L115.1 1614.1 L116.3 1612.4 L117.4 1610.7 L118.5 1609.1 L119.7 1607.5 L120.8 1605.9 L121.9 1604.4 L123.1 1602.8 L124.2 1601.3 L125.4 1599.8 L126.5 1598.3 L127.6 1596.9 L128.8 1595.4 L129.9 1594.0 L131.0 1592.7 L132.2 1591.3 L133.3 1590.0 L134.4 1588.7 L135.6 1587.4 L136.7 1586.1 L137.9 1584.9 L139.0 1583.7 L140.1 1582.5 L141.3 1581.3 L142.4 1580.2 L143.5 1579.1 L144.7 1578.0 L145.8 1576.9 L146.9 1575.9 L148.1 1574.9 L149.2 1573.9 L150.4 1573.0 L151.5 1572.0 L152.6 1571.2 L153.8 1570.3 L154.9 1569.5 L156.0 1568.7 L157.2 1567.9 L158.3 1567.1 L159.4 1566.4 L160.6 1565.7 L161.7 1565.0 L162.9 1564.4 L164.0 1563.8 L165.1 1563.2 L166.3 1562.6 L167.4 1562.1 L168.5 1561.6 L169.7 1561.1 L170.8 1560.7 L171.9 1560.3 L173.1 1559.9 L174.2 1559.6 L175.3 1559.4 L176.5 1559.1 L177.6 1558.9 L178.8 1558.7 L179.9 1558.5 L181.0 1558.4 L182.2 1558.3 L183.3 1558.2 L184.4 1558.1 L185.6 1558.1 L186.7 1558.1 L187.8 1558.2 L189.0 1558.2 L190.1 1558.3 L191.3 1558.5 L192.4 1558.6 L193.5 1558.8 L194.7 1559.0 L195.8 1559.2 L196.9 1559.5 L198.1 1559.8 L199.2 1560.1 L200.3 1560.5 L201.5 1560.9 L202.6 1561.3 L203.8 1561.8 L204.9 1562.3 L206.0 1562.8 L207.2 1563.3 L208.3 1563.9 L209.4 1564.6 L210.6 1565.3 L211.7 1566.0 L212.8 1566.7 L214.0 1567.4 L215.1 1568.1 L216.3 1568.9 L217.4 1569.7 L218.5 1570.5 L219.7 1571.3 L220.8 1572.1 L221.9 1572.9 L223.1 1573.7 L224.2 1574.6 L225.3 1575.4 L226.5 1576.3 L227.6 1577.2 L228.7 1578.1 L229.9 1579.0 L231.0 1579.9 L232.2 1580.9 L233.3 1581.9 L234.4 1582.8 L235.6 1583.8 L236.7 1584.9 L237.8 1585.9 L239.0 1587.0 L240.1 1588.0 L241.2 1589.1 L242.4 1590.2 L243.5 1591.3 L244.7 1592.3 L245.8 1593.4 L246.9 1594.5 L248.1 1595.6 L249.2 1596.8 L250.3 1597.9 L251.5 1599.2 L252.6 1600.6 L253.7 1602.2 L254.9 1603.7 L256.0 1605.2 L257.2 1606.5 L258.3 1607.7 L259.4 1609.0 L260.6 1610.2 L261.7 1611.6 L262.8 1613.0 L264.0 1614.7 L265.1 1616.5 L266.2 1618.3 L267.4 1620.0 L268.5 1621.5 L269.6 1622.9 L270.8 1624.3 L271.9 1625.6 L273.1 1626.9 L274.2 1628.1 L275.3 1629.3 L276.5 1630.4 L277.6 1631.6 L278.7 1632.9 L279.9 1634.3 L281.0 1636.0 L282.1 1637.8 L283.3 1639.6 L284.4 1641.6 L285.6 1643.5 L286.7 1645.5 L287.8 1647.7 L289.0 1649.8 L290.1 1651.7 L291.2 1653.3 L292.4 1654.6 L293.5 1655.9 L294.6 1657.0 L295.8 1658.2 L296.9 1659.3 L298.1 1660.4 L299.2 1661.6 L300.3 1662.7 L301.5 1663.8 L302.6 1665.0 L303.7 1666.2 L304.9 1667.5 L306.0 1668.9 L307.1 1670.5 L308.3 1672.3 L309.4 1674.2 L310.6 1676.0 L311.7 1677.8 L312.8 1679.5 L314.0 1681.3 L315.1 1682.9 L316.2 1684.6 L317.4 1686.3 L318.5 1688.2 L319.6 1690.1 L320.8 1691.9 L321.9 1693.6 L323.0 1694.8 L324.2 1695.8 L325.3 1696.7 L326.5 1697.5 L327.6 1698.3 L328.7 1699.0 L329.9 1699.8 L331.0 1700.5 L332.1 1701.1 L333.3 1701.8 L334.4 1702.4 L335.5 1703.1 L336.7 1703.8 L337.8 1704.5 L339.0 1705.2 L340.1 1706.1 L341.2 1707.0 L342.4 1708.0 L343.5 1709.0 L344.6 1710.2 L345.8 1711.5 L346.9 1712.7 L348.0 1714.0 L349.2 1715.3 L350.3 1716.7 L351.5 1718.1 L352.6 1719.4 L353.7 1720.6 L354.9 1721.7 L356.0 1722.7 L357.1 1723.8 L358.3 1724.8 L359.4 1725.9 L360.5 1727.0 L361.7 1728.0 L362.8 1729.0 L364.0 1729.6 L365.1 1730.0 L366.2 1730.2 L367.4 1730.3 L368.5 1730.4 L369.6 1730.4 L370.8 1730.3 L371.9 1730.2 L373.0 1730.0 L374.2 1729.8 L375.3 1729.4 L376.4 1728.9 L377.6 1728.4 L378.7 1727.8 L379.9 1727.2 L381.0 1726.6 L382.1 1726.1 L383.3 1725.6 L384.4 1725.1 L385.5 1724.7 L386.7 1724.3 L387.8 1723.9 L388.9 1723.6 L390.1 1723.4 L391.2 1723.3 L392.4 1723.2 L393.5 1723.0 L394.6 1722.9 L395.8 1722.8 L396.9 1722.6 L398.0 1722.5 L399.2 1722.4 L400.3 1722.3 L401.4 1722.2 L402.6 1722.1 L403.7 1722.0 L404.9 1721.9 L406.0 1721.7 L407.1 1721.6 L408.3 1721.2 L409.4 1720.5 L410.5 1719.7 L411.7 1718.8 L412.8 1717.7 L413.9 1716.7 L415.1 1715.5 L416.2 1714.2 L417.4 1712.9 L418.5 1711.4 L419.6 1709.9 L420.8 1708.3 L421.9 1706.7 L423.0 1705.0 L424.2 1703.2 L425.3 1701.2 L426.4 1699.1 L427.6 1697.1 L428.7 1694.9 L429.8 1692.7 L431.0 1690.6 L432.1 1688.3 L433.3 1686.0 L434.4 1683.7 L435.5 1681.5 L436.7 1679.2 L437.8 1677.0 L438.9 1674.8 L440.1 1672.7 L441.2 1670.7 L442.3 1668.8 L443.5 1667.1 L444.6 1665.4 L445.8 1663.9 L446.9 1662.4 L448.0 1661.1 L449.2 1659.8 L450.3 1658.6 L451.4 1657.4 L452.6 1656.2 L453.7 1655.1 L454.8 1654.0 L456.0 1653.0 L457.1 1652.0 L458.3 1651.0 L459.4 1650.0 L460.5 1649.1 L461.7 1648.2 L462.8 1647.4 L463.9 1646.6 L465.1 1645.9 L466.2 1645.2 L467.3 1644.6 L468.5 1643.9 L469.6 1643.3 L470.8 1642.6 L471.9 1641.9 L473.0 1641.1 L474.2 1640.4 L475.3 1639.6 L476.4 1638.8 L477.6 1638.0 L478.7 1637.1 L479.8 1636.2 L481.0 1635.2 L482.1 1634.2 L483.2 1633.2 L484.4 1632.2 L485.5 1631.1 L486.7 1630.0 L487.8 1628.9 L488.9 1627.8 L490.1 1626.7 L491.2 1625.5 L492.3 1624.4 L493.5 1623.2 L494.6 1622.0 L495.7 1620.8 L496.9 1619.6 L498.0 1618.3 L499.2 1617.0 L500.3 1615.8 L501.4 1614.5 L502.6 1613.3 L503.7 1612.1 L504.8 1610.9 L506.0 1609.8 L507.1 1608.6 L508.2 1607.5 L509.4 1606.5 L510.5 1605.4 L511.7 1604.5 L512.8 1603.6 L513.9 1602.8 L515.1 1602.0 L516.2 1601.4 L517.3 1600.7 L518.5 1600.1 L519.6 1599.5 L520.7 1599.0 L521.9 1598.5 L523.0 1598.1 L524.1 1597.8 L525.3 1597.5 L526.4 1597.2 L527.6 1597.0 L528.7 1596.8 L529.8 1596.7 L531.0 1596.6 L532.1 1596.6 L533.2 1596.6 L534.4 1596.7 L535.5 1596.8 L536.6 1596.9 L537.8 1597.0 L538.9 1597.1 L540.1 1597.3 L541.2 1597.4 L542.3 1597.7 L543.5 1597.9 L544.6 1598.2 L545.7 1598.4 L546.9 1598.7 L548.0 1598.9 L549.1 1599.2 L550.3 1599.4 L551.4 1599.7 L552.6 1600.0 L553.7 1600.2 L554.8 1600.5 L556.0 1600.8 L557.1 1601.0 L558.2 1601.3 L559.4 1601.6 L560.5 1602.0 L561.6 1602.4 L562.8 1602.8 L563.9 1603.2 L565.1 1603.6 L566.2 1604.0 L567.3 1604.4 L568.5 1604.8 L569.6 1605.2 L570.7 1605.6 L571.9 1606.0 L573.0 1606.4 L574.1 1606.8 L575.3 1607.2 L576.4 1607.6 L577.5 1608.0 L578.7 1608.4 L579.8 1608.8 L581.0 1609.1 L582.1 1609.5 L583.2 1609.9 L584.4 1610.2 L585.5 1610.6 L586.6 1611.0 L587.8 1611.4 L588.9 1611.8 L590.0 1612.2 L591.2 1612.6 L592.3 1612.9 L593.5 1613.3 L594.6 1613.7 L595.7 1614.1 L596.9 1614.4 L598.0 1614.8 L599.1 1615.1 L600.3 1615.4 L601.4 1615.7 L602.5 1616.1 L603.7 1616.4 L604.8 1616.7 L606.0 1616.9 L607.1 1617.2 L608.2 1617.5 L609.4 1617.8 L610.5 1618.1 L611.6 1618.4 L612.8 1618.7 L613.9 1619.0 L615.0 1619.3 L616.2 1619.7 L617.3 1620.0 L618.5 1620.3 L619.6 1620.8 L620.7 1621.4 L621.9 1622.0 L623.0 1622.7 L624.1 1623.4 L625.3 1624.3 L626.4 1625.3 L627.5 1626.3 L628.7 1627.4 L629.8 1628.6 L630.9 1629.9 L632.1 1631.3 L633.2 1632.8 L634.4 1634.5 L635.5 1636.3 L636.6 1638.3 L637.8 1640.4 L638.9 1642.5 L640.0 1644.8 L641.2 1647.2 L642.3 1649.5 L643.4 1651.9 L644.6 1654.3 L645.7 1656.7 L646.9 1659.1 L648.0 1661.5 L649.1 1663.9 L650.3 1666.2 L651.4 1668.4 L652.5 1670.7 L653.7 1672.9 L654.8 1675.2 L655.9 1677.4 L657.1 1679.7 L658.2 1681.8 L659.4 1683.6 L660.5 1685.3 L661.6 1686.8 L662.8 1688.3 L663.9 1689.9 L665.0 1691.3 L666.2 1692.8 L667.3 1694.2 L668.4 1695.6 L669.6 1696.9 L670.7 1698.3 L671.9 1699.6 L673.0 1700.9 L674.1 1702.2 L675.3 1703.5 L676.4 1704.8 L677.5 1706.1 L678.7 1707.3 L679.8 1708.6 L680.9 1709.8 L682.1 1711.0 L683.2 1712.2 L684.3 1713.4 L685.5 1714.7 L686.6 1715.9 L687.8 1717.2 L688.9 1718.5 L690.0 1719.8 L691.2 1721.1 L692.3 1722.3 L693.4 1723.3 L694.6 1723.9 L695.7 1724.2 L696.8 1724.4 L698.0 1724.6 L699.1 1724.8 L700.3 1724.7 L701.4 1724.5 L702.5 1724.2 L703.7 1723.9 L704.8 1723.6 L705.9 1723.3 L707.1 1723.0 L708.2 1722.7 L709.3 1722.3 L710.5 1722.0 L711.6 1721.6 L712.8 1721.3 L713.9 1720.9 L715.0 1720.6 L716.2 1720.3 L717.3 1720.0 L718.4 1719.6 L719.6 1719.2 L720.7 1718.6 L721.8 1717.9 L723.0 1717.0 L724.1 1716.0 L725.3 1715.0 L726.4 1714.0 L727.5 1713.0 L728.7 1712.1 L729.8 1711.2 L730.9 1710.3 L732.1 1709.4 L733.2 1708.5 L734.3 1707.5 L735.5 1706.4 L736.6 1705.3 L737.7 1704.1 L738.9 1702.9 L740.0 1701.7 L741.2 1700.5 L742.3 1699.2 L743.4 1698.0 L744.6 1696.8 L745.7 1695.6 L746.8 1694.4 L748.0 1693.2 L749.1 1691.9 L750.2 1690.7 L751.4 1689.5 L752.5 1688.3 L753.7 1687.1 L754.8 1685.9 L755.9 1684.6 L757.1 1683.4 L758.2 1682.2 L759.3 1681.0 L760.5 1679.8 L761.6 1678.7 L762.7 1677.6 L763.9 1676.5 L765.0 1675.5 L766.2 1674.5 L767.3 1673.5 L768.4 1672.5 L769.6 1671.6 L770.7 1670.6 L771.8 1669.6 L773.0 1668.7 L774.1 1667.8 L775.2 1666.9 L776.4 1666.0 L777.5 1665.2 L778.6 1664.3 L779.8 1663.5 L780.9 1662.7 L782.1 1661.9 L783.2 1661.1 L784.3 1660.3 L785.5 1659.6 L786.6 1658.8 L787.7 1658.1 L788.9 1657.4 L790.0 1656.8 L791.1 1656.1 L792.3 1655.5 L793.4 1654.9 L794.6 1654.3 L795.7 1653.7 L796.8 1653.2 L798.0 1652.6 L799.1 1652.1 L800.2 1651.7 L801.4 1651.2 L802.5 1650.8 L803.6 1650.4 L804.8 1650.0 L805.9 1649.7 L807.1 1649.4 L808.2 1649.0 L809.3 1648.7 L810.5 1648.4 L811.6 1648.2 L812.7 1647.9 L813.9 1647.7 L815.0 1647.4 L816.1 1647.2 L817.3 1647.0 L818.4 1646.8 L819.6 1646.6 L820.7 1646.4 L821.8 1646.3 L823.0 1646.1 L824.1 1646.0 L825.2 1645.9 L826.4 1645.8 L827.5 1645.7 L828.6 1645.7 L829.8 1645.6 L830.9 1645.6 L832.0 1645.6 L833.2 1645.6 L834.3 1645.6 L835.5 1645.6 L836.6 1645.6 L837.7 1645.7 L838.9 1645.7 L840.0 1645.8 L841.1 1645.9 L842.3 1646.0 L843.4 1646.1 L844.5 1646.2 L845.7 1646.3 L846.8 1646.5 L848.0 1646.7 L849.1 1646.9 L850.2 1647.1 L851.4 1647.3 L852.5 1647.5 L853.6 1647.6 L854.8 1647.8 L855.9 1648.0 L857.0 1648.2 L858.2 1648.4 L859.3 1648.6 L860.5 1648.8 L861.6 1649.0 L862.7 1649.2 L863.9 1649.4 L865.0 1649.6 L866.1 1649.8 L867.3 1650.0 L868.4 1650.3 L869.5 1650.5 L870.7 1650.7 L871.8 1650.9 L873.0 1651.1 L874.1 1651.3 L875.2 1651.5 L876.4 1651.7 L877.5 1651.9 L878.6 1652.1 L879.8 1652.3 L880.9 1652.5 L882.0 1652.7 L883.2 1652.9 L884.3 1653.1 L885.4 1653.3 L886.6 1653.5 L887.7 1653.6 L888.9 1653.8 L890.0 1654.0 L891.1 1654.2 L892.3 1654.4 L893.4 1654.6 L894.5 1654.8 L895.7 1655.0 L896.8 1655.1 L897.9 1655.3 L899.1 1655.5 L900.2 1655.7 L901.4 1655.8 L902.5 1656.0 L903.6 1656.2 L904.8 1656.4 L905.9 1656.5"/>
</g>
<line class="t" x1="89.0" y1="1767.0" x2="89.0" y2="1779.0"/>
<text class="tk" text-anchor="middle" x="89.6" y="1816.8">0</text>
<line class="t" x1="225.1" y1="1767.0" x2="225.1" y2="1779.0"/>
<text class="tk" text-anchor="middle" x="225.7" y="1816.8">10</text>
<line class="t" x1="361.3" y1="1767.0" x2="361.3" y2="1779.0"/>
<text class="tk" text-anchor="middle" x="361.9" y="1816.8">20</text>
<line class="t" x1="497.4" y1="1767.0" x2="497.4" y2="1779.0"/>
<text class="tk" text-anchor="middle" x="498.1" y="1816.8">30</text>
<line class="t" x1="633.6" y1="1767.0" x2="633.6" y2="1779.0"/>
<text class="tk" text-anchor="middle" x="634.2" y="1816.8">40</text>
<line class="t" x1="769.8" y1="1767.0" x2="769.8" y2="1779.0"/>
<text class="tk" text-anchor="middle" x="770.4" y="1816.8">50</text>
<line class="t" x1="905.9" y1="1767.0" x2="905.9" y2="1779.0"/>
<text class="tk" text-anchor="middle" x="906.5" y="1816.8">60</text>
<line class="t" x1="77.0" y1="1730.1" x2="89.0" y2="1730.1"/>
<text class="tk" text-anchor="end" x="66.7" y="1743.7">−1</text>
<line class="t" x1="77.0" y1="1656.2" x2="89.0" y2="1656.2"/>
<text class="tk" text-anchor="end" x="66.7" y="1669.8">0</text>
<line class="t" x1="77.0" y1="1582.3" x2="89.0" y2="1582.3"/>
<text class="tk" text-anchor="end" x="66.7" y="1595.9">1</text>
<rect class="sp" x="89.0" y="1545.4" width="816.9" height="221.6"/>
<text class="tt" y="1526.0"><tspan class="it" x="438.6">t</tspan> <tspan x="463.1">=</tspan> <tspan x="503.9">48</tspan></text>
<text class="tk it" text-anchor="middle" x="497.4" y="1857.3">y</text>
</g>
<g>
<clipPath id="cp9"><rect x="1036.4" y="1545.4" width="816.9" height="221.6"/></clipPath>
<g clip-path="url(#cp9)">
<path class="c" stroke="#d62728" d="M1036.4 1656.2 L1037.5 1656.3 L1038.7 1656.4 L1039.8 1656.5 L1040.9 1656.6 L1042.1 1656.8 L1043.2 1656.9 L1044.4 1657.0 L1045.5 1657.1 L1046.6 1657.2 L1047.8 1657.3 L1048.9 1657.5 L1050.0 1657.6 L1051.2 1657.7 L1052.3 1657.9 L1053.4 1658.0 L1054.6 1658.1 L1055.7 1658.3 L1056.9 1658.4 L1058.0 1658.5 L1059.1 1658.7 L1060.3 1658.8 L1061.4 1659.0 L1062.5 1659.1 L1063.7 1659.3 L1064.8 1659.4 L1065.9 1659.6 L1067.1 1659.7 L1068.2 1659.9 L1069.3 1660.0 L1070.5 1660.2 L1071.6 1660.4 L1072.8 1660.6 L1073.9 1660.7 L1075.0 1660.9 L1076.2 1661.1 L1077.3 1661.3 L1078.4 1661.5 L1079.6 1661.7 L1080.7 1661.9 L1081.8 1662.1 L1083.0 1662.3 L1084.1 1662.5 L1085.3 1662.7 L1086.4 1662.9 L1087.5 1663.1 L1088.7 1663.3 L1089.8 1663.6 L1090.9 1663.8 L1092.1 1664.0 L1093.2 1664.2 L1094.3 1664.5 L1095.5 1664.7 L1096.6 1664.9 L1097.8 1665.2 L1098.9 1665.4 L1100.0 1665.6 L1101.2 1665.9 L1102.3 1666.1 L1103.4 1666.4 L1104.6 1666.6 L1105.7 1666.9 L1106.8 1667.1 L1108.0 1667.4 L1109.1 1667.7 L1110.3 1667.9 L1111.4 1668.2 L1112.5 1668.4 L1113.7 1668.7 L1114.8 1669.0 L1115.9 1669.3 L1117.1 1669.6 L1118.2 1669.9 L1119.3 1670.2 L1120.5 1670.6 L1121.6 1670.9 L1122.7 1671.4 L1123.9 1671.8 L1125.0 1672.2 L1126.2 1672.5 L1127.3 1672.6 L1128.4 1672.7 L1129.6 1672.7 L1130.7 1672.8 L1131.8 1673.3 L1133.0 1673.9 L1134.1 1674.5 L1135.2 1675.2 L1136.4 1675.9 L1137.5 1676.6 L1138.7 1677.2 L1139.8 1677.9 L1140.9 1678.4 L1142.1 1678.7 L1143.2 1678.9 L1144.3 1679.0 L1145.5 1679.1 L1146.6 1679.2 L1147.7 1679.3 L1148.9 1679.4 L1150.0 1679.6 L1151.2 1679.8 L1152.3 1680.2 L1153.4 1680.8 L1154.6 1681.5 L1155.7 1682.4 L1156.8 1683.3 L1158.0 1684.3 L1159.1 1685.3 L1160.2 1686.2 L1161.4 1687.1 L1162.5 1688.0 L1163.7 1688.8 L1164.8 1689.6 L1165.9 1690.3 L1167.1 1690.9 L1168.2 1691.3 L1169.3 1691.7 L1170.5 1692.0 L1171.6 1692.3 L1172.7 1692.4 L1173.9 1692.6 L1175.0 1692.7 L1176.1 1692.8 L1177.3 1692.9 L1178.4 1693.1 L1179.6 1693.2 L1180.7 1693.4 L1181.8 1693.7 L1183.0 1693.9 L1184.1 1694.1 L1185.2 1694.4 L1186.4 1694.7 L1187.5 1695.4 L1188.6 1696.2 L1189.8 1697.1 L1190.9 1698.2 L1192.1 1699.2 L1193.2 1700.3 L1194.3 1701.5 L1195.5 1702.6 L1196.6 1703.6 L1197.7 1704.8 L1198.9 1705.9 L1200.0 1707.0 L1201.1 1708.1 L1202.3 1709.2 L1203.4 1710.3 L1204.6 1711.3 L1205.7 1712.2 L1206.8 1713.0 L1208.0 1713.7 L1209.1 1714.3 L1210.2 1714.9 L1211.4 1715.4 L1212.5 1715.8 L1213.6 1716.2 L1214.8 1716.5 L1215.9 1716.7 L1217.0 1716.9 L1218.2 1717.0 L1219.3 1717.2 L1220.5 1717.4 L1221.6 1717.5 L1222.7 1717.7 L1223.9 1717.9 L1225.0 1718.0 L1226.1 1718.2 L1227.3 1718.3 L1228.4 1718.5 L1229.5 1718.6 L1230.7 1718.8 L1231.8 1719.0 L1233.0 1719.4 L1234.1 1720.0 L1235.2 1720.8 L1236.4 1721.6 L1237.5 1722.5 L1238.6 1723.4 L1239.8 1724.3 L1240.9 1725.2 L1242.0 1726.1 L1243.2 1727.1 L1244.3 1728.0 L1245.5 1728.8 L1246.6 1729.7 L1247.7 1730.6 L1248.9 1731.4 L1250.0 1732.3 L1251.1 1733.1 L1252.3 1733.9 L1253.4 1734.7 L1254.5 1735.4 L1255.7 1736.0 L1256.8 1736.5 L1258.0 1737.0 L1259.1 1737.4 L1260.2 1737.8 L1261.4 1738.0 L1262.5 1738.2 L1263.6 1738.3 L1264.8 1738.3 L1265.9 1738.3 L1267.0 1738.3 L1268.2 1738.2 L1269.3 1738.0 L1270.4 1737.7 L1271.6 1737.3 L1272.7 1736.9 L1273.9 1736.4 L1275.0 1735.9 L1276.1 1735.3 L1277.3 1734.7 L1278.4 1734.1 L1279.5 1733.5 L1280.7 1732.8 L1281.8 1732.1 L1282.9 1731.4 L1284.1 1730.7 L1285.2 1730.0 L1286.4 1729.3 L1287.5 1728.7 L1288.6 1728.0 L1289.8 1727.4 L1290.9 1726.7 L1292.0 1726.2 L1293.2 1725.7 L1294.3 1725.3 L1295.4 1725.1 L1296.6 1724.8 L1297.7 1724.6 L1298.9 1724.3 L1300.0 1724.0 L1301.1 1723.8 L1302.3 1723.5 L1303.4 1723.3 L1304.5 1723.0 L1305.7 1722.7 L1306.8 1722.5 L1307.9 1722.2 L1309.1 1722.0 L1310.2 1721.7 L1311.4 1721.4 L1312.5 1721.2 L1313.6 1721.1 L1314.8 1721.0 L1315.9 1721.0 L1317.0 1721.0 L1318.2 1721.0 L1319.3 1721.0 L1320.4 1720.8 L1321.6 1720.7 L1322.7 1720.5 L1323.8 1720.3 L1325.0 1720.0 L1326.1 1719.8 L1327.3 1719.5 L1328.4 1719.2 L1329.5 1718.9 L1330.7 1718.5 L1331.8 1718.1 L1332.9 1717.7 L1334.1 1717.2 L1335.2 1716.6 L1336.3 1716.0 L1337.5 1715.4 L1338.6 1714.7 L1339.8 1713.9 L1340.9 1713.1 L1342.0 1712.2 L1343.2 1711.3 L1344.3 1710.4 L1345.4 1709.4 L1346.6 1708.5 L1347.7 1707.5 L1348.8 1706.5 L1350.0 1705.6 L1351.1 1704.7 L1352.3 1703.7 L1353.4 1702.8 L1354.5 1701.9 L1355.7 1701.0 L1356.8 1700.1 L1357.9 1699.2 L1359.1 1698.3 L1360.2 1697.5 L1361.3 1696.6 L1362.5 1695.8 L1363.6 1695.0 L1364.8 1694.3 L1365.9 1693.7 L1367.0 1693.1 L1368.2 1692.5 L1369.3 1691.9 L1370.4 1691.4 L1371.6 1690.9 L1372.7 1690.5 L1373.8 1690.1 L1375.0 1689.7 L1376.1 1689.4 L1377.2 1689.1 L1378.4 1688.9 L1379.5 1688.8 L1380.7 1688.8 L1381.8 1688.8 L1382.9 1688.9 L1384.1 1689.0 L1385.2 1689.2 L1386.3 1689.6 L1387.5 1690.0 L1388.6 1690.6 L1389.7 1691.2 L1390.9 1691.9 L1392.0 1692.7 L1393.2 1693.6 L1394.3 1694.5 L1395.4 1695.6 L1396.6 1696.7 L1397.7 1698.0 L1398.8 1699.2 L1400.0 1700.4 L1401.1 1701.7 L1402.2 1702.9 L1403.4 1704.1 L1404.5 1705.4 L1405.7 1706.6 L1406.8 1707.8 L1407.9 1709.1 L1409.1 1710.3 L1410.2 1711.5 L1411.3 1712.7 L1412.5 1714.0 L1413.6 1715.2 L1414.7 1716.4 L1415.9 1717.7 L1417.0 1718.8 L1418.2 1719.9 L1419.3 1720.8 L1420.4 1721.8 L1421.6 1722.6 L1422.7 1723.5 L1423.8 1724.3 L1425.0 1725.0 L1426.1 1725.7 L1427.2 1726.4 L1428.4 1727.0 L1429.5 1727.6 L1430.6 1728.1 L1431.8 1728.5 L1432.9 1728.8 L1434.1 1729.1 L1435.2 1729.4 L1436.3 1729.6 L1437.5 1729.8 L1438.6 1729.9 L1439.7 1730.0 L1440.9 1730.1 L1442.0 1730.2 L1443.1 1730.2 L1444.3 1730.2 L1445.4 1730.2 L1446.6 1730.0 L1447.7 1729.9 L1448.8 1729.6 L1450.0 1729.4 L1451.1 1729.0 L1452.2 1728.6 L1453.4 1728.2 L1454.5 1727.8 L1455.6 1727.2 L1456.8 1726.6 L1457.9 1725.8 L1459.1 1724.9 L1460.2 1723.8 L1461.3 1722.7 L1462.5 1721.6 L1463.6 1720.4 L1464.7 1719.3 L1465.9 1718.2 L1467.0 1717.0 L1468.1 1715.9 L1469.3 1714.8 L1470.4 1713.6 L1471.5 1712.5 L1472.7 1711.3 L1473.8 1710.2 L1475.0 1709.1 L1476.1 1707.9 L1477.2 1706.8 L1478.4 1705.7 L1479.5 1704.5 L1480.6 1703.4 L1481.8 1702.3 L1482.9 1701.1 L1484.0 1700.0 L1485.2 1698.8 L1486.3 1697.7 L1487.5 1696.6 L1488.6 1695.5 L1489.7 1694.5 L1490.9 1693.6 L1492.0 1692.7 L1493.1 1692.0 L1494.3 1691.4 L1495.4 1690.8 L1496.5 1690.3 L1497.7 1689.8 L1498.8 1689.4 L1500.0 1689.0 L1501.1 1688.7 L1502.2 1688.5 L1503.4 1688.3 L1504.5 1688.1 L1505.6 1687.9 L1506.8 1687.8 L1507.9 1687.7 L1509.0 1687.7 L1510.2 1687.7 L1511.3 1687.8 L1512.5 1688.0 L1513.6 1688.2 L1514.7 1688.5 L1515.9 1689.0 L1517.0 1689.5 L1518.1 1690.1 L1519.3 1690.7 L1520.4 1691.4 L1521.5 1692.1 L1522.7 1692.8 L1523.8 1693.6 L1524.9 1694.4 L1526.1 1695.2 L1527.2 1696.0 L1528.4 1696.9 L1529.5 1697.7 L1530.6 1698.6 L1531.8 1699.4 L1532.9 1700.3 L1534.0 1701.1 L1535.2 1702.0 L1536.3 1702.9 L1537.4 1703.7 L1538.6 1704.6 L1539.7 1705.4 L1540.9 1706.3 L1542.0 1707.1 L1543.1 1708.0 L1544.3 1708.8 L1545.4 1709.7 L1546.5 1710.4 L1547.7 1711.2 L1548.8 1711.8 L1549.9 1712.4 L1551.1 1712.9 L1552.2 1713.5 L1553.4 1713.9 L1554.5 1714.3 L1555.6 1714.7 L1556.8 1715.0 L1557.9 1715.3 L1559.0 1715.6 L1560.2 1715.8 L1561.3 1715.9 L1562.4 1716.1 L1563.6 1716.3 L1564.7 1716.4 L1565.9 1716.4 L1567.0 1716.3 L1568.1 1716.3 L1569.3 1716.2 L1570.4 1716.1 L1571.5 1716.1 L1572.7 1716.0 L1573.8 1715.9 L1574.9 1715.9 L1576.1 1715.8 L1577.2 1715.7 L1578.3 1715.6 L1579.5 1715.6 L1580.6 1715.5 L1581.8 1715.4 L1582.9 1715.4 L1584.0 1715.3 L1585.2 1715.3 L1586.3 1715.3 L1587.4 1715.4 L1588.6 1715.6 L1589.7 1715.8 L1590.8 1716.1 L1592.0 1716.4 L1593.1 1716.8 L1594.3 1717.2 L1595.4 1717.7 L1596.5 1718.2 L1597.7 1718.8 L1598.8 1719.3 L1599.9 1719.9 L1601.1 1720.5 L1602.2 1721.1 L1603.3 1721.6 L1604.5 1722.2 L1605.6 1722.7 L1606.8 1723.3 L1607.9 1723.8 L1609.0 1724.3 L1610.2 1724.8 L1611.3 1725.4 L1612.4 1725.8 L1613.6 1726.3 L1614.7 1726.6 L1615.8 1726.9 L1617.0 1727.2 L1618.1 1727.4 L1619.3 1727.6 L1620.4 1727.8 L1621.5 1727.8 L1622.7 1727.9 L1623.8 1727.8 L1624.9 1727.8 L1626.1 1727.7 L1627.2 1727.5 L1628.3 1727.2 L1629.5 1726.9 L1630.6 1726.4 L1631.7 1725.9 L1632.9 1725.4 L1634.0 1724.8 L1635.2 1724.1 L1636.3 1723.3 L1637.4 1722.4 L1638.6 1721.6 L1639.7 1720.7 L1640.8 1719.9 L1642.0 1719.0 L1643.1 1718.1 L1644.2 1717.3 L1645.4 1716.4 L1646.5 1715.6 L1647.7 1714.7 L1648.8 1713.9 L1649.9 1713.1 L1651.1 1712.4 L1652.2 1711.8 L1653.3 1711.3 L1654.5 1710.7 L1655.6 1710.2 L1656.7 1709.8 L1657.9 1709.3 L1659.0 1709.0 L1660.2 1708.7 L1661.3 1708.5 L1662.4 1708.4 L1663.6 1708.3 L1664.7 1708.2 L1665.8 1708.1 L1667.0 1708.0 L1668.1 1707.8 L1669.2 1707.7 L1670.4 1707.6 L1671.5 1707.5 L1672.7 1707.4 L1673.8 1707.3 L1674.9 1707.2 L1676.1 1707.0 L1677.2 1706.9 L1678.3 1706.6 L1679.5 1706.2 L1680.6 1705.6 L1681.7 1705.0 L1682.9 1704.2 L1684.0 1703.5 L1685.1 1702.7 L1686.3 1702.0 L1687.4 1701.1 L1688.6 1700.3 L1689.7 1699.4 L1690.8 1698.5 L1692.0 1697.6 L1693.1 1696.6 L1694.2 1695.7 L1695.4 1694.8 L1696.5 1694.0 L1697.6 1693.2 L1698.8 1692.4 L1699.9 1691.6 L1701.1 1690.9 L1702.2 1690.2 L1703.3 1689.7 L1704.5 1689.2 L1705.6 1688.9 L1706.7 1688.6 L1707.9 1688.4 L1709.0 1688.3 L1710.1 1688.3 L1711.3 1688.2 L1712.4 1688.1 L1713.6 1688.0 L1714.7 1687.9 L1715.8 1687.7 L1717.0 1687.6 L1718.1 1687.4 L1719.2 1687.1 L1720.4 1686.7 L1721.5 1686.2 L1722.6 1685.7 L1723.8 1685.1 L1724.9 1684.4 L1726.0 1683.8 L1727.2 1683.1 L1728.3 1682.3 L1729.5 1681.6 L1730.6 1680.9 L1731.7 1680.2 L1732.9 1679.5 L1734.0 1678.8 L1735.1 1678.3 L1736.3 1677.8 L1737.4 1677.5 L1738.5 1677.3 L1739.7 1677.1 L1740.8 1677.0 L1742.0 1676.8 L1743.1 1676.7 L1744.2 1676.7 L1745.4 1676.6 L1746.5 1676.4 L1747.6 1676.1 L1748.8 1675.7 L1749.9 1675.2 L1751.0 1674.7 L1752.2 1674.2 L1753.3 1673.7 L1754.5 1673.2 L1755.6 1672.7 L1756.7 1672.3 L1757.9 1671.8 L1759.0 1671.4 L1760.1 1670.9 L1761.3 1670.7 L1762.4 1670.5 L1763.5 1670.4 L1764.7 1670.2 L1765.8 1670.0 L1767.0 1669.7 L1768.1 1669.3 L1769.2 1668.9 L1770.4 1668.5 L1771.5 1668.1 L1772.6 1667.8 L1773.8 1667.6 L1774.9 1667.3 L1776.0 1667.0 L1777.2 1666.7 L1778.3 1666.4 L1779.4 1666.2 L1780.6 1665.9 L1781.7 1665.6 L1782.9 1665.4 L1784.0 1665.1 L1785.1 1664.9 L1786.3 1664.6 L1787.4 1664.4 L1788.5 1664.1 L1789.7 1663.9 L1790.8 1663.6 L1791.9 1663.4 L1793.1 1663.2 L1794.2 1662.9 L1795.4 1662.7 L1796.5 1662.5 L1797.6 1662.3 L1798.8 1662.1 L1799.9 1661.9 L1801.0 1661.7 L1802.2 1661.5 L1803.3 1661.3 L1804.4 1661.2 L1805.6 1661.0 L1806.7 1660.8 L1807.9 1660.7 L1809.0 1660.5 L1810.1 1660.3 L1811.3 1660.2 L1812.4 1660.0 L1813.5 1659.9 L1814.7 1659.7 L1815.8 1659.6 L1816.9 1659.4 L1818.1 1659.3 L1819.2 1659.1 L1820.4 1659.0 L1821.5 1658.9 L1822.6 1658.7 L1823.8 1658.6 L1824.9 1658.5 L1826.0 1658.4 L1827.2 1658.3 L1828.3 1658.2 L1829.4 1658.1 L1830.6 1658.0 L1831.7 1657.9 L1832.8 1657.8 L1834.0 1657.7 L1835.1 1657.7 L1836.3 1657.6 L1837.4 1657.5 L1838.5 1657.4 L1839.7 1657.3 L1840.8 1657.3 L1841.9 1657.2 L1843.1 1657.1 L1844.2 1657.0 L1845.3 1657.0 L1846.5 1656.9 L1847.6 1656.8 L1848.8 1656.8 L1849.9 1656.7 L1851.0 1656.7 L1852.2 1656.6 L1853.3 1656.5"/>
<path class="c" stroke="#1f77b4" d="M1036.4 1656.2 L1037.5 1654.3 L1038.7 1652.5 L1039.8 1650.5 L1040.9 1648.6 L1042.1 1646.6 L1043.2 1644.5 L1044.3 1642.4 L1045.5 1640.3 L1046.6 1638.1 L1047.7 1636.0 L1048.9 1634.0 L1050.0 1631.9 L1051.2 1629.9 L1052.3 1627.9 L1053.4 1625.9 L1054.6 1623.9 L1055.7 1621.9 L1056.8 1619.9 L1058.0 1617.9 L1059.1 1615.9 L1060.2 1613.9 L1061.4 1612.0 L1062.5 1610.1 L1063.7 1608.2 L1064.8 1606.4 L1065.9 1604.6 L1067.1 1602.8 L1068.2 1601.1 L1069.3 1599.3 L1070.5 1597.6 L1071.6 1595.9 L1072.7 1594.2 L1073.9 1592.6 L1075.0 1590.9 L1076.1 1589.3 L1077.3 1587.8 L1078.4 1586.3 L1079.6 1584.8 L1080.7 1583.3 L1081.8 1581.9 L1083.0 1580.5 L1084.1 1579.1 L1085.2 1577.8 L1086.4 1576.5 L1087.5 1575.2 L1088.6 1573.9 L1089.8 1572.7 L1090.9 1571.5 L1092.1 1570.4 L1093.2 1569.3 L1094.3 1568.2 L1095.5 1567.1 L1096.6 1566.1 L1097.7 1565.2 L1098.9 1564.3 L1100.0 1563.4 L1101.1 1562.6 L1102.3 1561.8 L1103.4 1561.1 L1104.6 1560.4 L1105.7 1559.8 L1106.8 1559.1 L1108.0 1558.5 L1109.1 1558.0 L1110.2 1557.5 L1111.4 1557.0 L1112.5 1556.6 L1113.6 1556.2 L1114.8 1555.9 L1115.9 1555.7 L1117.1 1555.4 L1118.2 1555.2 L1119.3 1555.0 L1120.5 1554.8 L1121.6 1554.7 L1122.7 1554.5 L1123.9 1554.5 L1125.0 1554.5 L1126.1 1554.8 L1127.3 1555.4 L1128.4 1556.1 L1129.5 1556.7 L1130.7 1557.2 L1131.8 1557.4 L1133.0 1557.2 L1134.1 1556.7 L1135.2 1556.2 L1136.4 1555.6 L1137.5 1554.9 L1138.6 1554.5 L1139.8 1554.3 L1140.9 1554.5 L1142.0 1555.1 L1143.2 1556.1 L1144.3 1557.2 L1145.5 1558.2 L1146.6 1559.2 L1147.7 1560.2 L1148.9 1561.1 L1150.0 1561.9 L1151.1 1562.6 L1152.3 1563.0 L1153.4 1563.2 L1154.5 1563.3 L1155.7 1563.2 L1156.8 1563.2 L1158.0 1563.4 L1159.1 1563.6 L1160.2 1563.9 L1161.4 1564.3 L1162.5 1565.0 L1163.6 1565.9 L1164.8 1567.0 L1165.9 1568.3 L1167.0 1569.6 L1168.2 1571.1 L1169.3 1572.5 L1170.5 1573.9 L1171.6 1575.4 L1172.7 1576.8 L1173.9 1578.1 L1175.0 1579.5 L1176.1 1580.8 L1177.3 1582.0 L1178.4 1582.9 L1179.5 1583.6 L1180.7 1584.4 L1181.8 1585.1 L1183.0 1585.9 L1184.1 1586.7 L1185.2 1587.4 L1186.4 1588.2 L1187.5 1588.9 L1188.6 1589.7 L1189.8 1590.4 L1190.9 1591.3 L1192.0 1592.3 L1193.2 1593.6 L1194.3 1595.0 L1195.4 1596.6 L1196.6 1598.3 L1197.7 1600.1 L1198.9 1601.9 L1200.0 1603.8 L1201.1 1605.8 L1202.3 1607.7 L1203.4 1609.6 L1204.5 1611.6 L1205.7 1613.5 L1206.8 1615.4 L1207.9 1617.4 L1209.1 1619.3 L1210.2 1621.2 L1211.4 1622.9 L1212.5 1624.3 L1213.6 1625.7 L1214.8 1626.9 L1215.9 1628.0 L1217.0 1629.1 L1218.2 1630.3 L1219.3 1631.4 L1220.4 1632.5 L1221.6 1633.7 L1222.7 1634.8 L1223.9 1635.9 L1225.0 1637.1 L1226.1 1638.2 L1227.3 1639.4 L1228.4 1640.5 L1229.5 1641.6 L1230.7 1642.8 L1231.8 1644.0 L1232.9 1645.3 L1234.1 1646.6 L1235.2 1647.9 L1236.4 1649.4 L1237.5 1650.9 L1238.6 1652.7 L1239.8 1654.6 L1240.9 1656.5 L1242.0 1658.5 L1243.2 1660.4 L1244.3 1662.3 L1245.4 1664.3 L1246.6 1666.2 L1247.7 1668.1 L1248.8 1670.0 L1250.0 1671.9 L1251.1 1673.8 L1252.3 1675.6 L1253.4 1677.3 L1254.5 1679.0 L1255.7 1680.5 L1256.8 1681.9 L1257.9 1683.2 L1259.1 1684.5 L1260.2 1685.7 L1261.3 1687.0 L1262.5 1688.2 L1263.6 1689.2 L1264.8 1690.2 L1265.9 1691.1 L1267.0 1691.9 L1268.2 1692.6 L1269.3 1693.3 L1270.4 1694.0 L1271.6 1694.6 L1272.7 1695.2 L1273.8 1695.8 L1275.0 1696.4 L1276.1 1696.9 L1277.3 1697.5 L1278.4 1698.1 L1279.5 1698.7 L1280.7 1699.3 L1281.8 1699.9 L1282.9 1700.6 L1284.1 1701.2 L1285.2 1701.8 L1286.3 1702.5 L1287.5 1703.2 L1288.6 1703.9 L1289.8 1704.6 L1290.9 1705.4 L1292.0 1706.2 L1293.2 1707.0 L1294.3 1707.9 L1295.4 1708.8 L1296.6 1709.8 L1297.7 1710.8 L1298.8 1711.8 L1300.0 1712.8 L1301.1 1713.8 L1302.2 1714.9 L1303.4 1715.9 L1304.5 1716.9 L1305.7 1718.0 L1306.8 1719.0 L1307.9 1720.1 L1309.1 1721.2 L1310.2 1722.2 L1311.3 1723.1 L1312.5 1723.7 L1313.6 1724.1 L1314.7 1724.3 L1315.9 1724.5 L1317.0 1724.7 L1318.2 1724.9 L1319.3 1725.1 L1320.4 1725.2 L1321.6 1725.2 L1322.7 1725.2 L1323.8 1725.1 L1325.0 1724.9 L1326.1 1724.7 L1327.2 1724.4 L1328.4 1724.0 L1329.5 1723.6 L1330.7 1723.0 L1331.8 1722.4 L1332.9 1721.8 L1334.1 1721.2 L1335.2 1720.5 L1336.3 1719.9 L1337.5 1719.2 L1338.6 1718.5 L1339.7 1717.8 L1340.9 1717.0 L1342.0 1716.3 L1343.2 1715.6 L1344.3 1714.8 L1345.4 1714.1 L1346.6 1713.4 L1347.7 1712.6 L1348.8 1711.9 L1350.0 1711.2 L1351.1 1710.5 L1352.2 1709.7 L1353.4 1709.0 L1354.5 1708.3 L1355.7 1707.5 L1356.8 1706.8 L1357.9 1706.1 L1359.1 1705.3 L1360.2 1704.6 L1361.3 1703.9 L1362.5 1703.2 L1363.6 1702.4 L1364.7 1701.7 L1365.9 1701.1 L1367.0 1700.4 L1368.1 1699.7 L1369.3 1699.0 L1370.4 1698.3 L1371.6 1697.6 L1372.7 1696.9 L1373.8 1696.2 L1375.0 1695.4 L1376.1 1694.6 L1377.2 1693.8 L1378.4 1693.0 L1379.5 1692.2 L1380.6 1691.3 L1381.8 1690.4 L1382.9 1689.5 L1384.1 1688.3 L1385.2 1687.1 L1386.3 1685.8 L1387.5 1684.4 L1388.6 1682.9 L1389.7 1681.4 L1390.9 1679.8 L1392.0 1678.2 L1393.1 1676.6 L1394.3 1674.8 L1395.4 1673.0 L1396.6 1671.1 L1397.7 1669.1 L1398.8 1667.1 L1400.0 1665.1 L1401.1 1663.1 L1402.2 1661.0 L1403.4 1658.9 L1404.5 1656.8 L1405.6 1654.7 L1406.8 1652.5 L1407.9 1650.3 L1409.1 1648.2 L1410.2 1646.0 L1411.3 1643.9 L1412.5 1641.7 L1413.6 1639.6 L1414.7 1637.5 L1415.9 1635.5 L1417.0 1633.4 L1418.1 1631.4 L1419.3 1629.4 L1420.4 1627.5 L1421.5 1625.6 L1422.7 1623.8 L1423.8 1622.1 L1425.0 1620.5 L1426.1 1618.9 L1427.2 1617.3 L1428.4 1615.7 L1429.5 1614.2 L1430.6 1612.8 L1431.8 1611.4 L1432.9 1610.1 L1434.0 1608.8 L1435.2 1607.6 L1436.3 1606.5 L1437.5 1605.4 L1438.6 1604.4 L1439.7 1603.5 L1440.9 1602.7 L1442.0 1601.9 L1443.1 1601.3 L1444.3 1600.7 L1445.4 1600.1 L1446.5 1599.6 L1447.7 1599.1 L1448.8 1598.8 L1450.0 1598.4 L1451.1 1598.1 L1452.2 1597.9 L1453.4 1597.7 L1454.5 1597.5 L1455.6 1597.3 L1456.8 1597.2 L1457.9 1597.1 L1459.0 1597.1 L1460.2 1597.1 L1461.3 1597.2 L1462.5 1597.2 L1463.6 1597.4 L1464.7 1597.5 L1465.9 1597.8 L1467.0 1598.1 L1468.1 1598.4 L1469.3 1598.8 L1470.4 1599.1 L1471.5 1599.4 L1472.7 1599.7 L1473.8 1600.0 L1475.0 1600.4 L1476.1 1600.7 L1477.2 1601.0 L1478.4 1601.3 L1479.5 1601.7 L1480.6 1602.0 L1481.8 1602.3 L1482.9 1602.6 L1484.0 1603.0 L1485.2 1603.3 L1486.3 1603.6 L1487.4 1603.9 L1488.6 1604.2 L1489.7 1604.5 L1490.9 1604.8 L1492.0 1605.0 L1493.1 1605.2 L1494.3 1605.4 L1495.4 1605.6 L1496.5 1605.8 L1497.7 1606.0 L1498.8 1606.2 L1499.9 1606.3 L1501.1 1606.4 L1502.2 1606.4 L1503.4 1606.5 L1504.5 1606.5 L1505.6 1606.4 L1506.8 1606.4 L1507.9 1606.3 L1509.0 1606.2 L1510.2 1606.1 L1511.3 1606.0 L1512.4 1605.9 L1513.6 1605.8 L1514.7 1605.7 L1515.9 1605.6 L1517.0 1605.5 L1518.1 1605.3 L1519.3 1605.2 L1520.4 1605.1 L1521.5 1604.9 L1522.7 1604.8 L1523.8 1604.7 L1524.9 1604.5 L1526.1 1604.4 L1527.2 1604.3 L1528.4 1604.2 L1529.5 1604.1 L1530.6 1604.1 L1531.8 1604.1 L1532.9 1604.1 L1534.0 1604.0 L1535.2 1604.1 L1536.3 1604.1 L1537.4 1604.2 L1538.6 1604.4 L1539.7 1604.7 L1540.8 1605.0 L1542.0 1605.4 L1543.1 1605.8 L1544.3 1606.3 L1545.4 1606.8 L1546.5 1607.3 L1547.7 1608.0 L1548.8 1608.7 L1549.9 1609.6 L1551.1 1610.5 L1552.2 1611.5 L1553.3 1612.6 L1554.5 1613.8 L1555.6 1615.1 L1556.8 1616.4 L1557.9 1617.8 L1559.0 1619.3 L1560.2 1620.8 L1561.3 1622.3 L1562.4 1623.9 L1563.6 1625.5 L1564.7 1627.1 L1565.8 1628.8 L1567.0 1630.6 L1568.1 1632.4 L1569.3 1634.2 L1570.4 1636.0 L1571.5 1637.8 L1572.7 1639.6 L1573.8 1641.4 L1574.9 1643.1 L1576.1 1644.9 L1577.2 1646.7 L1578.3 1648.5 L1579.5 1650.3 L1580.6 1652.1 L1581.8 1653.9 L1582.9 1655.7 L1584.0 1657.5 L1585.2 1659.4 L1586.3 1661.3 L1587.4 1663.1 L1588.6 1665.0 L1589.7 1666.8 L1590.8 1668.4 L1592.0 1670.0 L1593.1 1671.5 L1594.2 1672.9 L1595.4 1674.2 L1596.5 1675.4 L1597.7 1676.6 L1598.8 1677.7 L1599.9 1678.8 L1601.1 1679.8 L1602.2 1680.8 L1603.3 1681.9 L1604.5 1682.9 L1605.6 1683.9 L1606.7 1684.8 L1607.9 1685.7 L1609.0 1686.5 L1610.2 1687.2 L1611.3 1688.0 L1612.4 1688.7 L1613.6 1689.5 L1614.7 1690.2 L1615.8 1691.0 L1617.0 1691.8 L1618.1 1692.5 L1619.2 1693.3 L1620.4 1694.0 L1621.5 1694.8 L1622.7 1695.6 L1623.8 1696.3 L1624.9 1697.1 L1626.1 1697.8 L1627.2 1698.6 L1628.3 1699.4 L1629.5 1700.2 L1630.6 1701.1 L1631.7 1701.9 L1632.9 1702.8 L1634.0 1703.7 L1635.2 1704.6 L1636.3 1705.4 L1637.4 1706.2 L1638.6 1707.0 L1639.7 1707.8 L1640.8 1708.6 L1642.0 1709.4 L1643.1 1710.2 L1644.2 1711.0 L1645.4 1711.7 L1646.5 1712.5 L1647.7 1713.2 L1648.8 1713.9 L1649.9 1714.5 L1651.1 1715.1 L1652.2 1715.5 L1653.3 1715.7 L1654.5 1715.8 L1655.6 1715.8 L1656.7 1715.8 L1657.9 1715.8 L1659.0 1715.7 L1660.1 1715.6 L1661.3 1715.3 L1662.4 1714.8 L1663.6 1714.2 L1664.7 1713.5 L1665.8 1712.8 L1667.0 1712.1 L1668.1 1711.4 L1669.2 1710.7 L1670.4 1710.1 L1671.5 1709.4 L1672.6 1708.8 L1673.8 1708.1 L1674.9 1707.5 L1676.1 1706.9 L1677.2 1706.3 L1678.3 1705.8 L1679.5 1705.3 L1680.6 1704.8 L1681.7 1704.4 L1682.9 1704.0 L1684.0 1703.7 L1685.1 1703.3 L1686.3 1703.0 L1687.4 1702.7 L1688.6 1702.4 L1689.7 1702.2 L1690.8 1702.0 L1692.0 1701.7 L1693.1 1701.4 L1694.2 1701.1 L1695.4 1700.7 L1696.5 1700.3 L1697.6 1699.8 L1698.8 1699.1 L1699.9 1698.3 L1701.1 1697.4 L1702.2 1696.5 L1703.3 1695.6 L1704.5 1694.7 L1705.6 1693.8 L1706.7 1692.8 L1707.9 1691.9 L1709.0 1690.9 L1710.1 1690.0 L1711.3 1689.1 L1712.4 1688.1 L1713.5 1687.3 L1714.7 1686.5 L1715.8 1685.9 L1717.0 1685.2 L1718.1 1684.7 L1719.2 1684.1 L1720.4 1683.7 L1721.5 1683.3 L1722.6 1682.8 L1723.8 1682.4 L1724.9 1682.0 L1726.0 1681.5 L1727.2 1680.9 L1728.3 1680.4 L1729.5 1679.8 L1730.6 1679.3 L1731.7 1678.6 L1732.9 1678.0 L1734.0 1677.3 L1735.1 1676.5 L1736.3 1675.8 L1737.4 1675.1 L1738.5 1674.4 L1739.7 1673.7 L1740.8 1673.0 L1742.0 1672.4 L1743.1 1671.7 L1744.2 1671.1 L1745.4 1670.6 L1746.5 1670.2 L1747.6 1669.8 L1748.8 1669.5 L1749.9 1669.2 L1751.0 1668.8 L1752.2 1668.4 L1753.3 1667.9 L1754.5 1667.3 L1755.6 1666.7 L1756.7 1666.0 L1757.9 1665.4 L1759.0 1664.8 L1760.1 1664.3 L1761.3 1663.8 L1762.4 1663.4 L1763.5 1663.0 L1764.7 1662.6 L1765.8 1662.2 L1766.9 1661.8 L1768.1 1661.5 L1769.2 1661.1 L1770.4 1660.8 L1771.5 1660.5 L1772.6 1660.1 L1773.8 1659.8 L1774.9 1659.5 L1776.0 1659.1 L1777.2 1658.8 L1778.3 1658.5 L1779.4 1658.2 L1780.6 1657.9 L1781.7 1657.5 L1782.9 1657.2 L1784.0 1656.9 L1785.1 1656.6 L1786.3 1656.4 L1787.4 1656.1 L1788.5 1655.8 L1789.7 1655.5 L1790.8 1655.2 L1791.9 1655.0 L1793.1 1654.7 L1794.2 1654.4 L1795.4 1654.2 L1796.5 1653.9 L1797.6 1653.7 L1798.8 1653.5 L1799.9 1653.3 L1801.0 1653.1 L1802.2 1652.9 L1803.3 1652.7 L1804.4 1652.5 L1805.6 1652.3 L1806.7 1652.1 L1807.9 1652.0 L1809.0 1651.8 L1810.1 1651.6 L1811.3 1651.5 L1812.4 1651.3 L1813.5 1651.2 L1814.7 1651.1 L1815.8 1650.9 L1816.9 1650.8 L1818.1 1650.7 L1819.2 1650.6 L1820.4 1650.5 L1821.5 1650.4 L1822.6 1650.4 L1823.8 1650.3 L1824.9 1650.2 L1826.0 1650.1 L1827.2 1650.1 L1828.3 1650.0 L1829.4 1650.0 L1830.6 1649.9 L1831.7 1649.9 L1832.8 1649.8 L1834.0 1649.8 L1835.1 1649.8 L1836.3 1649.7 L1837.4 1649.7 L1838.5 1649.7 L1839.7 1649.6 L1840.8 1649.6 L1841.9 1649.6 L1843.1 1649.6 L1844.2 1649.5 L1845.3 1649.5 L1846.5 1649.5 L1847.6 1649.5 L1848.8 1649.5 L1849.9 1649.5 L1851.0 1649.5 L1852.2 1649.4 L1853.3 1649.4"/>
<path class="c" stroke="#000000" d="M1036.4 1656.2 L1037.5 1654.1 L1038.7 1652.0 L1039.8 1649.9 L1040.9 1647.7 L1042.1 1645.6 L1043.2 1643.5 L1044.3 1641.4 L1045.5 1639.3 L1046.6 1637.2 L1047.7 1635.1 L1048.9 1633.0 L1050.0 1630.9 L1051.2 1628.9 L1052.3 1626.8 L1053.4 1624.8 L1054.6 1622.8 L1055.7 1620.8 L1056.8 1618.7 L1058.0 1616.7 L1059.1 1614.7 L1060.2 1612.8 L1061.4 1610.8 L1062.5 1608.9 L1063.7 1607.1 L1064.8 1605.3 L1065.9 1603.5 L1067.1 1601.7 L1068.2 1599.9 L1069.3 1598.2 L1070.5 1596.5 L1071.6 1594.8 L1072.7 1593.1 L1073.9 1591.4 L1075.0 1589.8 L1076.1 1588.2 L1077.3 1586.6 L1078.4 1585.1 L1079.6 1583.6 L1080.7 1582.2 L1081.8 1580.7 L1083.0 1579.4 L1084.1 1578.0 L1085.2 1576.6 L1086.4 1575.3 L1087.5 1574.0 L1088.6 1572.8 L1089.8 1571.6 L1090.9 1570.4 L1092.1 1569.2 L1093.2 1568.1 L1094.3 1567.0 L1095.5 1566.0 L1096.6 1565.0 L1097.7 1564.1 L1098.9 1563.2 L1100.0 1562.3 L1101.1 1561.5 L1102.3 1560.7 L1103.4 1560.0 L1104.6 1559.3 L1105.7 1558.6 L1106.8 1558.0 L1108.0 1557.4 L1109.1 1556.9 L1110.2 1556.4 L1111.4 1555.9 L1112.5 1555.5 L1113.6 1555.1 L1114.8 1554.8 L1115.9 1554.4 L1117.1 1554.1 L1118.2 1553.9 L1119.3 1553.7 L1120.5 1553.6 L1121.6 1553.5 L1122.7 1553.4 L1123.9 1553.3 L1125.0 1553.2 L1126.1 1553.0 L1127.3 1553.0 L1128.4 1553.3 L1129.5 1553.7 L1130.7 1554.1 L1131.8 1554.4 L1133.0 1554.8 L1134.1 1555.2 L1135.2 1555.6 L1136.4 1555.9 L1137.5 1556.2 L1138.6 1556.3 L1139.8 1556.6 L1140.9 1556.8 L1142.0 1557.1 L1143.2 1557.6 L1144.3 1558.3 L1145.5 1559.3 L1146.6 1560.2 L1147.7 1561.2 L1148.9 1562.2 L1150.0 1563.2 L1151.1 1564.1 L1152.3 1565.0 L1153.4 1565.8 L1154.5 1566.5 L1155.7 1567.2 L1156.8 1567.9 L1158.0 1568.4 L1159.1 1568.9 L1160.2 1569.5 L1161.4 1570.1 L1162.5 1570.7 L1163.6 1571.4 L1164.8 1572.3 L1165.9 1573.3 L1167.0 1574.4 L1168.2 1575.7 L1169.3 1577.1 L1170.5 1578.6 L1171.6 1580.2 L1172.7 1581.8 L1173.9 1583.4 L1175.0 1585.0 L1176.1 1586.6 L1177.3 1588.1 L1178.4 1589.6 L1179.5 1591.0 L1180.7 1592.3 L1181.8 1593.6 L1183.0 1594.7 L1184.1 1595.8 L1185.2 1596.9 L1186.4 1598.0 L1187.5 1599.0 L1188.6 1600.0 L1189.8 1601.1 L1190.9 1602.1 L1192.0 1603.2 L1193.2 1604.2 L1194.3 1605.3 L1195.4 1606.4 L1196.6 1607.6 L1197.7 1608.9 L1198.9 1610.5 L1200.0 1612.4 L1201.1 1614.3 L1202.3 1616.4 L1203.4 1618.4 L1204.5 1620.5 L1205.7 1622.5 L1206.8 1624.6 L1207.9 1626.6 L1209.1 1628.6 L1210.2 1630.7 L1211.4 1632.7 L1212.5 1634.8 L1213.6 1637.0 L1214.8 1639.1 L1215.9 1641.2 L1217.0 1642.9 L1218.2 1644.4 L1219.3 1645.7 L1220.4 1646.9 L1221.6 1648.0 L1222.7 1649.2 L1223.9 1650.2 L1225.0 1651.3 L1226.1 1652.3 L1227.3 1653.4 L1228.4 1654.4 L1229.5 1655.4 L1230.7 1656.5 L1231.8 1657.5 L1232.9 1658.6 L1234.1 1659.6 L1235.2 1660.6 L1236.4 1661.7 L1237.5 1663.0 L1238.6 1664.4 L1239.8 1665.9 L1240.9 1667.6 L1242.0 1669.3 L1243.2 1671.2 L1244.3 1673.1 L1245.4 1675.0 L1246.6 1677.1 L1247.7 1679.2 L1248.8 1681.3 L1250.0 1683.2 L1251.1 1685.0 L1252.3 1686.8 L1253.4 1688.6 L1254.5 1690.4 L1255.7 1692.3 L1256.8 1694.2 L1257.9 1695.9 L1259.1 1697.4 L1260.2 1698.5 L1261.3 1699.5 L1262.5 1700.4 L1263.6 1701.2 L1264.8 1701.9 L1265.9 1702.6 L1267.0 1703.2 L1268.2 1703.7 L1269.3 1704.2 L1270.4 1704.7 L1271.6 1705.1 L1272.7 1705.5 L1273.8 1705.8 L1275.0 1706.0 L1276.1 1706.1 L1277.3 1706.2 L1278.4 1706.3 L1279.5 1706.4 L1280.7 1706.5 L1281.8 1706.7 L1282.9 1706.8 L1284.1 1707.0 L1285.2 1707.2 L1286.3 1707.4 L1287.5 1707.6 L1288.6 1707.8 L1289.8 1708.1 L1290.9 1708.5 L1292.0 1708.9 L1293.2 1709.3 L1294.3 1709.8 L1295.4 1710.3 L1296.6 1710.9 L1297.7 1711.6 L1298.8 1712.2 L1300.0 1712.8 L1301.1 1713.4 L1302.2 1714.0 L1303.4 1714.6 L1304.5 1715.2 L1305.7 1715.8 L1306.8 1716.4 L1307.9 1717.0 L1309.1 1717.6 L1310.2 1718.3 L1311.3 1718.8 L1312.5 1719.0 L1313.6 1719.1 L1314.7 1719.1 L1315.9 1719.0 L1317.0 1718.8 L1318.2 1718.6 L1319.3 1718.2 L1320.4 1717.8 L1321.6 1717.2 L1322.7 1716.5 L1323.8 1715.7 L1325.0 1714.8 L1326.1 1713.8 L1327.2 1712.7 L1328.4 1711.5 L1329.5 1710.2 L1330.7 1708.8 L1331.8 1707.5 L1332.9 1706.1 L1334.1 1704.7 L1335.2 1703.3 L1336.3 1701.9 L1337.5 1700.5 L1338.6 1699.0 L1339.7 1697.5 L1340.9 1696.0 L1342.0 1694.5 L1343.2 1693.0 L1344.3 1691.6 L1345.4 1690.2 L1346.6 1688.8 L1347.7 1687.5 L1348.8 1686.2 L1350.0 1685.1 L1351.1 1683.9 L1352.2 1682.9 L1353.4 1681.9 L1354.5 1680.9 L1355.7 1680.0 L1356.8 1679.1 L1357.9 1678.2 L1359.1 1677.4 L1360.2 1676.6 L1361.3 1675.8 L1362.5 1675.0 L1363.6 1674.2 L1364.7 1673.4 L1365.9 1672.6 L1367.0 1671.8 L1368.1 1671.0 L1369.3 1670.2 L1370.4 1669.4 L1371.6 1668.6 L1372.7 1667.8 L1373.8 1667.0 L1375.0 1666.2 L1376.1 1665.4 L1377.2 1664.6 L1378.4 1663.7 L1379.5 1662.8 L1380.6 1661.9 L1381.8 1660.9 L1382.9 1659.9 L1384.1 1658.8 L1385.2 1657.5 L1386.3 1656.1 L1387.5 1654.6 L1388.6 1652.9 L1389.7 1651.2 L1390.9 1649.5 L1392.0 1647.7 L1393.1 1645.9 L1394.3 1644.1 L1395.4 1642.2 L1396.6 1640.1 L1397.7 1638.0 L1398.8 1635.8 L1400.0 1633.5 L1401.1 1631.2 L1402.2 1629.0 L1403.4 1626.7 L1404.5 1624.4 L1405.6 1622.1 L1406.8 1619.9 L1407.9 1617.6 L1409.1 1615.3 L1410.2 1613.0 L1411.3 1610.8 L1412.5 1608.5 L1413.6 1606.2 L1414.7 1604.0 L1415.9 1602.1 L1417.0 1600.3 L1418.1 1598.6 L1419.3 1597.1 L1420.4 1595.6 L1421.5 1594.2 L1422.7 1592.9 L1423.8 1591.7 L1425.0 1590.5 L1426.1 1589.5 L1427.2 1588.5 L1428.4 1587.6 L1429.5 1586.9 L1430.6 1586.2 L1431.8 1585.6 L1432.9 1585.0 L1434.0 1584.5 L1435.2 1584.0 L1436.3 1583.7 L1437.5 1583.4 L1438.6 1583.2 L1439.7 1583.1 L1440.9 1583.1 L1442.0 1583.1 L1443.1 1583.2 L1444.3 1583.4 L1445.4 1583.6 L1446.5 1583.9 L1447.7 1584.3 L1448.8 1584.8 L1450.0 1585.3 L1451.1 1585.9 L1452.2 1586.6 L1453.4 1587.4 L1454.5 1588.2 L1455.6 1589.1 L1456.8 1590.1 L1457.9 1591.1 L1459.0 1592.1 L1460.2 1593.1 L1461.3 1594.2 L1462.5 1595.2 L1463.6 1596.3 L1464.7 1597.5 L1465.9 1598.6 L1467.0 1599.8 L1468.1 1600.9 L1469.3 1602.1 L1470.4 1603.2 L1471.5 1604.3 L1472.7 1605.3 L1473.8 1606.3 L1475.0 1607.4 L1476.1 1608.4 L1477.2 1609.4 L1478.4 1610.4 L1479.5 1611.3 L1480.6 1612.3 L1481.8 1613.3 L1482.9 1614.2 L1484.0 1615.1 L1485.2 1615.9 L1486.3 1616.7 L1487.4 1617.5 L1488.6 1618.2 L1489.7 1618.9 L1490.9 1619.6 L1492.0 1620.2 L1493.1 1620.9 L1494.3 1621.5 L1495.4 1622.1 L1496.5 1622.6 L1497.7 1623.2 L1498.8 1623.8 L1499.9 1624.3 L1501.1 1624.9 L1502.2 1625.5 L1503.4 1626.0 L1504.5 1626.6 L1505.6 1627.2 L1506.8 1627.7 L1507.9 1628.3 L1509.0 1628.9 L1510.2 1629.4 L1511.3 1630.0 L1512.4 1630.6 L1513.6 1631.1 L1514.7 1631.7 L1515.9 1632.3 L1517.0 1632.8 L1518.1 1633.4 L1519.3 1634.0 L1520.4 1634.6 L1521.5 1635.2 L1522.7 1635.9 L1523.8 1636.5 L1524.9 1637.2 L1526.1 1637.8 L1527.2 1638.5 L1528.4 1639.3 L1529.5 1640.2 L1530.6 1641.1 L1531.8 1642.1 L1532.9 1643.1 L1534.0 1644.1 L1535.2 1645.1 L1536.3 1646.2 L1537.4 1647.4 L1538.6 1648.5 L1539.7 1649.8 L1540.8 1651.0 L1542.0 1652.4 L1543.1 1653.8 L1544.3 1655.2 L1545.4 1656.8 L1546.5 1658.4 L1547.7 1660.0 L1548.8 1661.8 L1549.9 1663.6 L1551.1 1665.5 L1552.2 1667.4 L1553.3 1669.3 L1554.5 1671.3 L1555.6 1673.2 L1556.8 1675.2 L1557.9 1677.2 L1559.0 1679.3 L1560.2 1681.3 L1561.3 1683.3 L1562.4 1685.4 L1563.6 1687.4 L1564.7 1689.4 L1565.8 1691.4 L1567.0 1693.4 L1568.1 1695.4 L1569.3 1697.5 L1570.4 1699.5 L1571.5 1701.5 L1572.7 1703.5 L1573.8 1705.5 L1574.9 1707.5 L1576.1 1709.6 L1577.2 1711.6 L1578.3 1713.6 L1579.5 1715.6 L1580.6 1717.6 L1581.8 1719.6 L1582.9 1721.6 L1584.0 1723.3 L1585.2 1724.8 L1586.3 1726.0 L1587.4 1727.2 L1588.6 1728.3 L1589.7 1729.4 L1590.8 1730.3 L1592.0 1731.2 L1593.1 1732.0 L1594.2 1732.8 L1595.4 1733.4 L1596.5 1733.9 L1597.7 1734.3 L1598.8 1734.6 L1599.9 1734.8 L1601.1 1734.9 L1602.2 1734.8 L1603.3 1734.6 L1604.5 1734.3 L1605.6 1733.9 L1606.7 1733.4 L1607.9 1732.7 L1609.0 1732.0 L1610.2 1731.2 L1611.3 1730.4 L1612.4 1729.4 L1613.6 1728.3 L1614.7 1727.1 L1615.8 1725.8 L1617.0 1724.5 L1618.1 1723.2 L1619.2 1721.9 L1620.4 1720.5 L1621.5 1719.0 L1622.7 1717.6 L1623.8 1716.1 L1624.9 1714.5 L1626.1 1713.0 L1627.2 1711.5 L1628.3 1709.9 L1629.5 1708.4 L1630.6 1706.9 L1631.7 1705.4 L1632.9 1704.0 L1634.0 1702.6 L1635.2 1701.1 L1636.3 1699.7 L1637.4 1698.3 L1638.6 1696.9 L1639.7 1695.5 L1640.8 1694.1 L1642.0 1692.7 L1643.1 1691.3 L1644.2 1690.0 L1645.4 1688.6 L1646.5 1687.2 L1647.7 1685.9 L1648.8 1684.5 L1649.9 1683.3 L1651.1 1682.1 L1652.2 1681.0 L1653.3 1679.7 L1654.5 1678.3 L1655.6 1676.6 L1656.7 1674.9 L1657.9 1673.2 L1659.0 1671.5 L1660.1 1669.8 L1661.3 1668.1 L1662.4 1666.4 L1663.6 1664.7 L1664.7 1663.0 L1665.8 1661.3 L1667.0 1659.6 L1668.1 1657.9 L1669.2 1656.2 L1670.4 1654.4 L1671.5 1652.8 L1672.6 1651.1 L1673.8 1649.6 L1674.9 1648.1 L1676.1 1646.6 L1677.2 1645.2 L1678.3 1644.0 L1679.5 1642.9 L1680.6 1642.0 L1681.7 1641.2 L1682.9 1640.5 L1684.0 1639.9 L1685.1 1639.2 L1686.3 1638.6 L1687.4 1638.1 L1688.6 1637.7 L1689.7 1637.3 L1690.8 1636.9 L1692.0 1636.5 L1693.1 1636.1 L1694.2 1635.7 L1695.4 1635.3 L1696.5 1634.9 L1697.6 1634.6 L1698.8 1634.2 L1699.9 1633.9 L1701.1 1633.5 L1702.2 1633.1 L1703.3 1632.7 L1704.5 1632.2 L1705.6 1631.6 L1706.7 1631.0 L1707.9 1630.4 L1709.0 1629.8 L1710.1 1629.3 L1711.3 1628.8 L1712.4 1628.3 L1713.5 1627.8 L1714.7 1627.4 L1715.8 1627.0 L1717.0 1626.8 L1718.1 1626.7 L1719.2 1626.8 L1720.4 1626.8 L1721.5 1627.0 L1722.6 1627.2 L1723.8 1627.4 L1724.9 1627.7 L1726.0 1628.1 L1727.2 1628.6 L1728.3 1629.1 L1729.5 1629.6 L1730.6 1630.0 L1731.7 1630.3 L1732.9 1630.4 L1734.0 1630.5 L1735.1 1630.5 L1736.3 1630.6 L1737.4 1630.6 L1738.5 1630.6 L1739.7 1630.5 L1740.8 1630.4 L1742.0 1630.4 L1743.1 1630.7 L1744.2 1631.1 L1745.4 1631.6 L1746.5 1632.0 L1747.6 1632.4 L1748.8 1632.8 L1749.9 1633.3 L1751.0 1633.7 L1752.2 1634.1 L1753.3 1634.5 L1754.5 1635.0 L1755.6 1635.4 L1756.7 1635.7 L1757.9 1636.0 L1759.0 1636.2 L1760.1 1636.4 L1761.3 1636.8 L1762.4 1637.1 L1763.5 1637.6 L1764.7 1638.0 L1765.8 1638.4 L1766.9 1638.8 L1768.1 1639.3 L1769.2 1639.7 L1770.4 1640.1 L1771.5 1640.5 L1772.6 1640.9 L1773.8 1641.2 L1774.9 1641.6 L1776.0 1642.0 L1777.2 1642.4 L1778.3 1642.7 L1779.4 1643.1 L1780.6 1643.5 L1781.7 1643.8 L1782.9 1644.2 L1784.0 1644.5 L1785.1 1644.8 L1786.3 1645.2 L1787.4 1645.5 L1788.5 1645.8 L1789.7 1646.1 L1790.8 1646.4 L1791.9 1646.7 L1793.1 1647.0 L1794.2 1647.3 L1795.4 1647.6 L1796.5 1647.9 L1797.6 1648.2 L1798.8 1648.4 L1799.9 1648.7 L1801.0 1649.0 L1802.2 1649.2 L1803.3 1649.5 L1804.4 1649.7 L1805.6 1649.9 L1806.7 1650.2 L1807.9 1650.4 L1809.0 1650.6 L1810.1 1650.8 L1811.3 1651.1 L1812.4 1651.3 L1813.5 1651.5 L1814.7 1651.7 L1815.8 1651.9 L1816.9 1652.1 L1818.1 1652.2 L1819.2 1652.4 L1820.4 1652.6 L1821.5 1652.7 L1822.6 1652.9 L1823.8 1653.1 L1824.9 1653.2 L1826.0 1653.4 L1827.2 1653.5 L1828.3 1653.7 L1829.4 1653.8 L1830.6 1654.0 L1831.7 1654.1 L1832.8 1654.3 L1834.0 1654.4 L1835.1 1654.6 L1836.3 1654.7 L1837.4 1654.9 L1838.5 1655.0 L1839.7 1655.2 L1840.8 1655.3 L1841.9 1655.5 L1843.1 1655.6 L1844.2 1655.7 L1845.3 1655.9 L1846.5 1656.0 L1847.6 1656.1 L1848.8 1656.2 L1849.9 1656.3 L1851.0 1656.4 L1852.2 1656.5 L1853.3 1656.5"/>
</g>
<line class="t" x1="1036.4" y1="1767.0" x2="1036.4" y2="1779.0"/>
<text class="tk" text-anchor="middle" x="1037.0" y="1816.8">0</text>
<line class="t" x1="1172.6" y1="1767.0" x2="1172.6" y2="1779.0"/>
<text class="tk" text-anchor="middle" x="1173.2" y="1816.8">10</text>
<line class="t" x1="1308.7" y1="1767.0" x2="1308.7" y2="1779.0"/>
<text class="tk" text-anchor="middle" x="1309.3" y="1816.8">20</text>
<line class="t" x1="1444.9" y1="1767.0" x2="1444.9" y2="1779.0"/>
<text class="tk" text-anchor="middle" x="1445.5" y="1816.8">30</text>
<line class="t" x1="1581.0" y1="1767.0" x2="1581.0" y2="1779.0"/>
<text class="tk" text-anchor="middle" x="1581.6" y="1816.8">40</text>
<line class="t" x1="1717.2" y1="1767.0" x2="1717.2" y2="1779.0"/>
<text class="tk" text-anchor="middle" x="1717.8" y="1816.8">50</text>
<line class="t" x1="1853.3" y1="1767.0" x2="1853.3" y2="1779.0"/>
<text class="tk" text-anchor="middle" x="1853.9" y="1816.8">60</text>
<line class="t" x1="1024.4" y1="1730.1" x2="1036.4" y2="1730.1"/>
<text class="tk" text-anchor="end" x="1014.1" y="1743.7">−1</text>
<line class="t" x1="1024.4" y1="1656.2" x2="1036.4" y2="1656.2"/>
<text class="tk" text-anchor="end" x="1014.1" y="1669.8">0</text>
<line class="t" x1="1024.4" y1="1582.3" x2="1036.4" y2="1582.3"/>
<text class="tk" text-anchor="end" x="1014.1" y="1595.9">1</text>
<rect class="sp" x="1036.4" y="1545.4" width="816.9" height="221.6"/>
<text class="tt" y="1526.0"><tspan class="it" x="1385.2">t</tspan> <tspan x="1409.9">=</tspan> <tspan x="1450.7">54</tspan></text>
<text class="tk it" text-anchor="middle" x="1444.2" y="1857.3">y</text>
</g>
</svg></body></html>
